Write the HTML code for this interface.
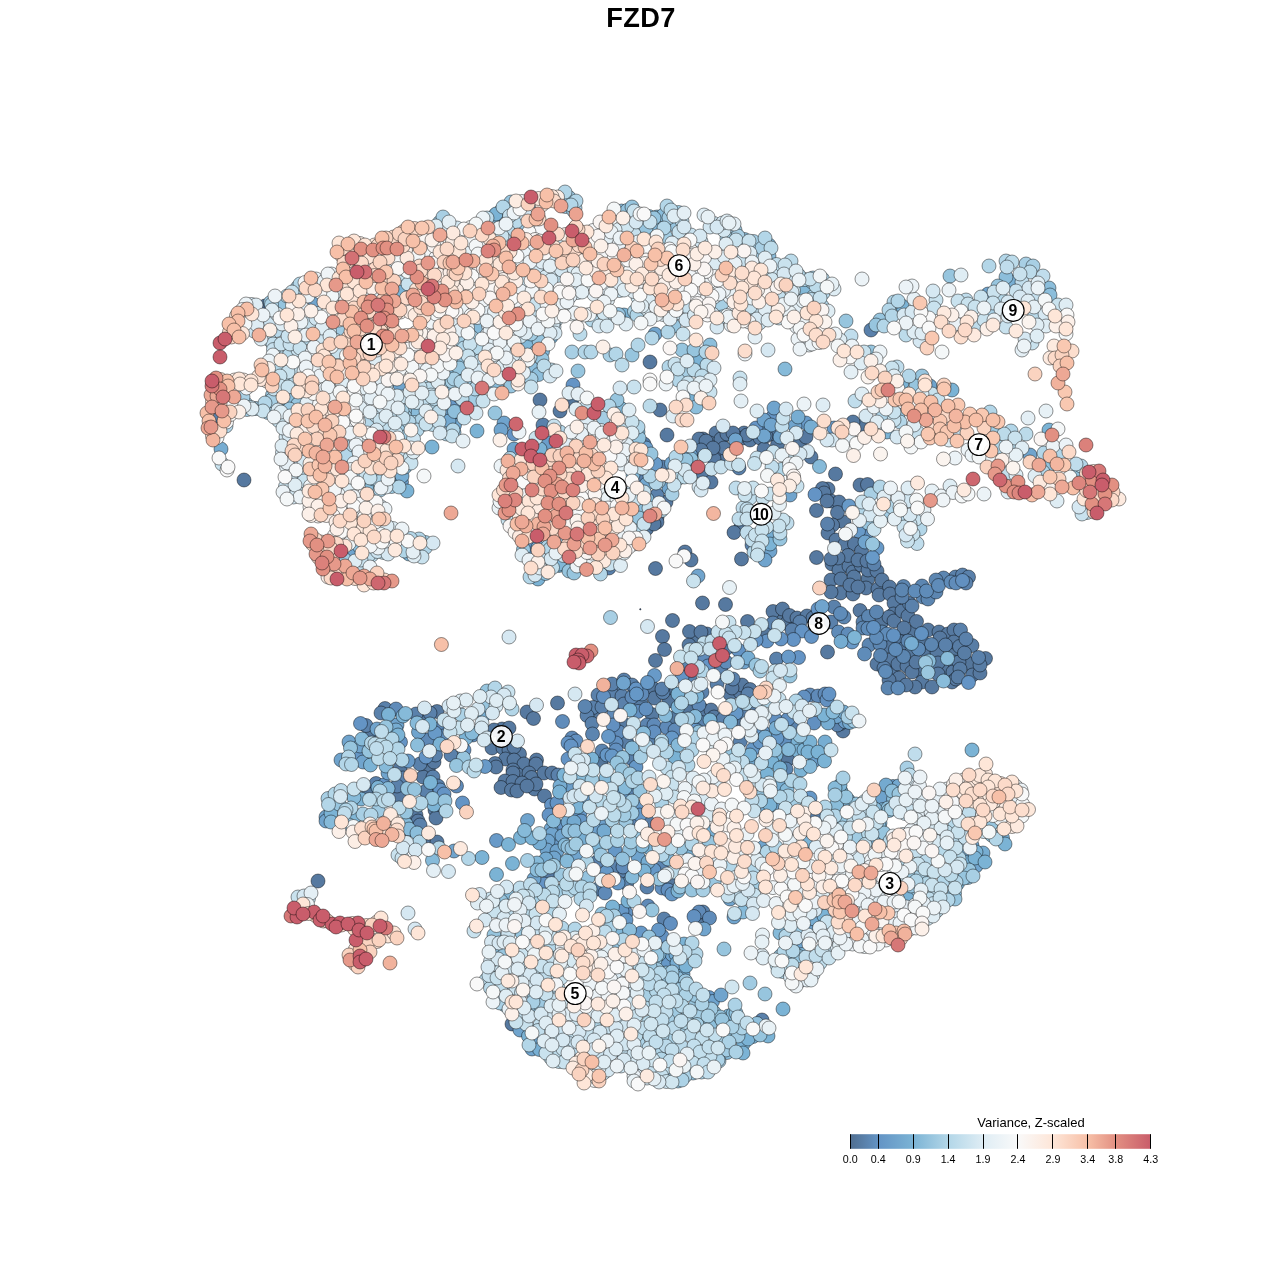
<!DOCTYPE html>
<html lang="en"><head><meta charset="utf-8"><title>FZD7</title>
<style>
html,body{margin:0;padding:0;background:#fff}
body{width:1280px;height:1280px;overflow:hidden;font-family:"Liberation Sans",Arial,sans-serif}
svg{display:block}
.p circle{stroke:#000;stroke-opacity:.62;stroke-width:.7}
.l circle{fill:#fff;fill-opacity:.92;stroke:#000;stroke-width:1.15}
.l text{font:bold 15.9px "Liberation Sans",Arial,sans-serif;text-anchor:middle;fill:#000}
.l .d{letter-spacing:-1px}
.t{font:bold 27.2px "Liberation Sans",Arial,sans-serif;text-anchor:middle;fill:#000;letter-spacing:.4px}
.k{font:10.7px "Liberation Sans",Arial,sans-serif;text-anchor:middle;fill:#000}
.kt{font:13px "Liberation Sans",Arial,sans-serif;text-anchor:middle;fill:#000}
</style></head><body>
<svg width="1280" height="1280" viewBox="0 0 1280 1280">
<rect width="1280" height="1280" fill="#fff"/>
<text class="t" x="641" y="26.8">FZD7</text>
<g class="p">
<circle cx="265.0" cy="306.0" r="7.0" fill="#506e90"/>
<circle cx="571.4" cy="401.6" r="7.0" fill="#54769b"/>
<circle cx="862.5" cy="425.8" r="7.0" fill="#54769b"/>
<circle cx="799.5" cy="443.2" r="7.0" fill="#54769b"/>
<circle cx="777.5" cy="444.7" r="7.0" fill="#54769b"/>
<circle cx="722.4" cy="457.9" r="7.0" fill="#54769b"/>
<circle cx="844.0" cy="522.2" r="7.0" fill="#54769b"/>
<circle cx="741.0" cy="526.8" r="7.0" fill="#54769b"/>
<circle cx="867.9" cy="579.0" r="7.0" fill="#54769b"/>
<circle cx="780.7" cy="617.7" r="7.0" fill="#54769b"/>
<circle cx="881.6" cy="622.2" r="7.0" fill="#54769b"/>
<circle cx="786.6" cy="623.3" r="7.0" fill="#54769b"/>
<circle cx="912.6" cy="631.7" r="7.0" fill="#54769b"/>
<circle cx="765.2" cy="632.2" r="7.0" fill="#54769b"/>
<circle cx="901.5" cy="636.4" r="7.0" fill="#54769b"/>
<circle cx="695.5" cy="639.2" r="7.0" fill="#54769b"/>
<circle cx="899.7" cy="641.4" r="7.0" fill="#54769b"/>
<circle cx="922.4" cy="641.6" r="7.0" fill="#54769b"/>
<circle cx="888.1" cy="646.3" r="7.0" fill="#54769b"/>
<circle cx="904.1" cy="648.3" r="7.0" fill="#54769b"/>
<circle cx="953.5" cy="652.3" r="7.0" fill="#54769b"/>
<circle cx="926.8" cy="652.6" r="7.0" fill="#54769b"/>
<circle cx="911.2" cy="653.3" r="7.0" fill="#54769b"/>
<circle cx="969.5" cy="663.6" r="7.0" fill="#54769b"/>
<circle cx="945.4" cy="668.1" r="7.0" fill="#54769b"/>
<circle cx="920.0" cy="671.4" r="7.0" fill="#54769b"/>
<circle cx="652.9" cy="688.3" r="7.0" fill="#54769b"/>
<circle cx="670.7" cy="690.4" r="7.0" fill="#54769b"/>
<circle cx="669.0" cy="701.0" r="7.0" fill="#54769b"/>
<circle cx="688.7" cy="708.9" r="7.0" fill="#54769b"/>
<circle cx="753.3" cy="708.6" r="7.0" fill="#54769b"/>
<circle cx="596.2" cy="715.3" r="7.0" fill="#54769b"/>
<circle cx="738.8" cy="722.5" r="7.0" fill="#54769b"/>
<circle cx="369.7" cy="734.1" r="7.0" fill="#54769b"/>
<circle cx="503.1" cy="738.6" r="7.0" fill="#54769b"/>
<circle cx="787.8" cy="759.3" r="7.0" fill="#54769b"/>
<circle cx="601.1" cy="762.6" r="7.0" fill="#54769b"/>
<circle cx="400.2" cy="767.9" r="7.0" fill="#54769b"/>
<circle cx="428.3" cy="769.0" r="7.0" fill="#54769b"/>
<circle cx="368.7" cy="791.2" r="7.0" fill="#54769b"/>
<circle cx="428.2" cy="841.2" r="7.0" fill="#54769b"/>
<circle cx="701.2" cy="920.9" r="7.0" fill="#54769b"/>
<circle cx="657.0" cy="517.5" r="7.0" fill="#54769b"/>
<circle cx="646.5" cy="529.0" r="7.0" fill="#54769b"/>
<circle cx="423.6" cy="718.0" r="7.0" fill="#54769b"/>
<circle cx="672.0" cy="881.7" r="7.0" fill="#54779c"/>
<circle cx="673.4" cy="718.2" r="7.0" fill="#54779c"/>
<circle cx="650.0" cy="362.0" r="7.0" fill="#5679a0"/>
<circle cx="244.0" cy="480.0" r="7.0" fill="#5679a0"/>
<circle cx="540.0" cy="400.0" r="7.0" fill="#5679a0"/>
<circle cx="560.0" cy="411.0" r="7.0" fill="#5679a0"/>
<circle cx="660.0" cy="410.0" r="7.0" fill="#5679a0"/>
<circle cx="744.0" cy="433.0" r="7.0" fill="#5679a0"/>
<circle cx="716.0" cy="433.0" r="7.0" fill="#5679a0"/>
<circle cx="853.0" cy="422.0" r="7.0" fill="#5679a0"/>
<circle cx="667.0" cy="435.0" r="7.0" fill="#5679a0"/>
<circle cx="666.0" cy="502.0" r="7.0" fill="#5679a0"/>
<circle cx="657.0" cy="522.0" r="7.0" fill="#5679a0"/>
<circle cx="654.0" cy="524.0" r="7.0" fill="#5679a0"/>
<circle cx="685.0" cy="552.0" r="7.0" fill="#5679a0"/>
<circle cx="691.0" cy="560.0" r="7.0" fill="#5679a0"/>
<circle cx="318.0" cy="881.0" r="7.0" fill="#5679a0"/>
<circle cx="843.0" cy="731.0" r="7.0" fill="#5679a0"/>
<circle cx="512.0" cy="1024.0" r="7.0" fill="#5679a0"/>
<circle cx="437.0" cy="711.5" r="7.0" fill="#5679a0"/>
<circle cx="434.0" cy="762.0" r="7.0" fill="#5679a0"/>
<circle cx="423.0" cy="777.0" r="7.0" fill="#5679a0"/>
<circle cx="399.0" cy="797.0" r="7.0" fill="#5679a0"/>
<circle cx="416.0" cy="815.0" r="7.0" fill="#5679a0"/>
<circle cx="435.0" cy="810.0" r="7.0" fill="#5679a0"/>
<circle cx="502.0" cy="729.0" r="7.0" fill="#5679a0"/>
<circle cx="509.0" cy="728.0" r="7.0" fill="#5679a0"/>
<circle cx="494.0" cy="730.0" r="7.0" fill="#5679a0"/>
<circle cx="492.0" cy="748.0" r="7.0" fill="#5679a0"/>
<circle cx="503.0" cy="748.0" r="7.0" fill="#5679a0"/>
<circle cx="509.0" cy="750.0" r="7.0" fill="#5679a0"/>
<circle cx="519.5" cy="754.0" r="7.0" fill="#5679a0"/>
<circle cx="514.0" cy="747.0" r="7.0" fill="#5679a0"/>
<circle cx="505.5" cy="759.0" r="7.0" fill="#5679a0"/>
<circle cx="495.0" cy="763.5" r="7.0" fill="#5679a0"/>
<circle cx="496.0" cy="767.0" r="7.0" fill="#5679a0"/>
<circle cx="514.0" cy="760.0" r="7.0" fill="#5679a0"/>
<circle cx="524.0" cy="764.0" r="7.0" fill="#5679a0"/>
<circle cx="536.5" cy="760.0" r="7.0" fill="#5679a0"/>
<circle cx="536.0" cy="764.0" r="7.0" fill="#5679a0"/>
<circle cx="513.0" cy="770.0" r="7.0" fill="#5679a0"/>
<circle cx="518.0" cy="775.0" r="7.0" fill="#5679a0"/>
<circle cx="513.0" cy="773.0" r="7.0" fill="#5679a0"/>
<circle cx="529.0" cy="773.0" r="7.0" fill="#5679a0"/>
<circle cx="531.5" cy="777.5" r="7.0" fill="#5679a0"/>
<circle cx="544.0" cy="773.0" r="7.0" fill="#5679a0"/>
<circle cx="552.0" cy="773.0" r="7.0" fill="#5679a0"/>
<circle cx="505.0" cy="781.0" r="7.0" fill="#5679a0"/>
<circle cx="513.0" cy="781.5" r="7.0" fill="#5679a0"/>
<circle cx="522.0" cy="783.0" r="7.0" fill="#5679a0"/>
<circle cx="501.0" cy="787.5" r="7.0" fill="#5679a0"/>
<circle cx="511.5" cy="790.0" r="7.0" fill="#5679a0"/>
<circle cx="517.0" cy="791.0" r="7.0" fill="#5679a0"/>
<circle cx="534.5" cy="789.0" r="7.0" fill="#5679a0"/>
<circle cx="536.0" cy="784.0" r="7.0" fill="#5679a0"/>
<circle cx="544.5" cy="796.0" r="7.0" fill="#5679a0"/>
<circle cx="527.0" cy="786.0" r="7.0" fill="#5679a0"/>
<circle cx="527.0" cy="712.0" r="7.0" fill="#5679a0"/>
<circle cx="533.5" cy="718.5" r="7.0" fill="#5679a0"/>
<circle cx="557.5" cy="703.0" r="7.0" fill="#5679a0"/>
<circle cx="418.0" cy="821.0" r="7.0" fill="#5679a0"/>
<circle cx="405.0" cy="833.0" r="7.0" fill="#5679a0"/>
<circle cx="437.0" cy="842.0" r="7.0" fill="#5679a0"/>
<circle cx="436.0" cy="818.0" r="7.0" fill="#5679a0"/>
<circle cx="654.5" cy="698.0" r="7.0" fill="#5679a0"/>
<circle cx="730.0" cy="694.0" r="7.0" fill="#5679a0"/>
<circle cx="740.0" cy="692.0" r="7.0" fill="#5679a0"/>
<circle cx="703.0" cy="710.0" r="7.0" fill="#5679a0"/>
<circle cx="711.0" cy="710.0" r="7.0" fill="#5679a0"/>
<circle cx="714.0" cy="717.0" r="7.0" fill="#5679a0"/>
<circle cx="655.5" cy="568.5" r="7.0" fill="#5679a0"/>
<circle cx="672.5" cy="620.5" r="7.0" fill="#5679a0"/>
<circle cx="689.5" cy="631.5" r="7.0" fill="#5679a0"/>
<circle cx="662.5" cy="636.5" r="7.0" fill="#5679a0"/>
<circle cx="664.5" cy="649.5" r="7.0" fill="#5679a0"/>
<circle cx="655.5" cy="660.5" r="7.0" fill="#5679a0"/>
<circle cx="689.0" cy="645.0" r="7.0" fill="#5679a0"/>
<circle cx="617.0" cy="687.0" r="7.0" fill="#5679a0"/>
<circle cx="702.5" cy="603.0" r="7.0" fill="#5679a0"/>
<circle cx="725.5" cy="604.5" r="7.0" fill="#5679a0"/>
<circle cx="773.0" cy="611.5" r="7.0" fill="#5679a0"/>
<circle cx="782.5" cy="609.0" r="7.0" fill="#5679a0"/>
<circle cx="789.5" cy="615.5" r="7.0" fill="#5679a0"/>
<circle cx="797.0" cy="618.0" r="7.0" fill="#5679a0"/>
<circle cx="807.0" cy="616.0" r="7.0" fill="#5679a0"/>
<circle cx="813.0" cy="618.0" r="7.0" fill="#5679a0"/>
<circle cx="747.5" cy="621.5" r="7.0" fill="#5679a0"/>
<circle cx="707.0" cy="634.0" r="7.0" fill="#5679a0"/>
<circle cx="701.0" cy="632.0" r="7.0" fill="#5679a0"/>
<circle cx="827.5" cy="652.0" r="7.0" fill="#5679a0"/>
<circle cx="742.0" cy="685.0" r="7.0" fill="#5679a0"/>
<circle cx="732.0" cy="688.0" r="7.0" fill="#5679a0"/>
<circle cx="750.0" cy="689.5" r="7.0" fill="#5679a0"/>
<circle cx="832.0" cy="564.0" r="7.0" fill="#5679a0"/>
<circle cx="839.0" cy="570.0" r="7.0" fill="#5679a0"/>
<circle cx="831.0" cy="580.0" r="7.0" fill="#5679a0"/>
<circle cx="841.0" cy="579.0" r="7.0" fill="#5679a0"/>
<circle cx="849.0" cy="566.0" r="7.0" fill="#5679a0"/>
<circle cx="853.0" cy="572.0" r="7.0" fill="#5679a0"/>
<circle cx="854.0" cy="577.0" r="7.0" fill="#5679a0"/>
<circle cx="861.0" cy="565.0" r="7.0" fill="#5679a0"/>
<circle cx="868.0" cy="570.0" r="7.0" fill="#5679a0"/>
<circle cx="877.0" cy="571.0" r="7.0" fill="#5679a0"/>
<circle cx="840.5" cy="593.0" r="7.0" fill="#5679a0"/>
<circle cx="831.0" cy="592.0" r="7.0" fill="#5679a0"/>
<circle cx="853.0" cy="594.0" r="7.0" fill="#5679a0"/>
<circle cx="850.0" cy="585.0" r="7.0" fill="#5679a0"/>
<circle cx="866.0" cy="588.0" r="7.0" fill="#5679a0"/>
<circle cx="858.0" cy="587.0" r="7.0" fill="#5679a0"/>
<circle cx="878.0" cy="589.0" r="7.0" fill="#5679a0"/>
<circle cx="882.0" cy="580.0" r="7.0" fill="#5679a0"/>
<circle cx="889.5" cy="587.0" r="7.0" fill="#5679a0"/>
<circle cx="879.0" cy="595.0" r="7.0" fill="#5679a0"/>
<circle cx="890.0" cy="594.0" r="7.0" fill="#5679a0"/>
<circle cx="894.0" cy="603.0" r="7.0" fill="#5679a0"/>
<circle cx="860.0" cy="610.5" r="7.0" fill="#5679a0"/>
<circle cx="893.5" cy="614.0" r="7.0" fill="#5679a0"/>
<circle cx="889.0" cy="617.0" r="7.0" fill="#5679a0"/>
<circle cx="894.0" cy="621.0" r="7.0" fill="#5679a0"/>
<circle cx="902.0" cy="611.0" r="7.0" fill="#5679a0"/>
<circle cx="908.0" cy="616.0" r="7.0" fill="#5679a0"/>
<circle cx="916.5" cy="621.5" r="7.0" fill="#5679a0"/>
<circle cx="904.0" cy="628.0" r="7.0" fill="#5679a0"/>
<circle cx="928.0" cy="630.0" r="7.0" fill="#5679a0"/>
<circle cx="939.0" cy="632.0" r="7.0" fill="#5679a0"/>
<circle cx="948.0" cy="634.0" r="7.0" fill="#5679a0"/>
<circle cx="954.0" cy="630.0" r="7.0" fill="#5679a0"/>
<circle cx="940.0" cy="638.0" r="7.0" fill="#5679a0"/>
<circle cx="954.0" cy="642.0" r="7.0" fill="#5679a0"/>
<circle cx="937.0" cy="652.0" r="7.0" fill="#5679a0"/>
<circle cx="938.0" cy="663.0" r="7.0" fill="#5679a0"/>
<circle cx="954.0" cy="662.0" r="7.0" fill="#5679a0"/>
<circle cx="953.0" cy="672.0" r="7.0" fill="#5679a0"/>
<circle cx="938.0" cy="674.0" r="7.0" fill="#5679a0"/>
<circle cx="952.0" cy="682.0" r="7.0" fill="#5679a0"/>
<circle cx="877.0" cy="664.0" r="7.0" fill="#5679a0"/>
<circle cx="892.0" cy="668.0" r="7.0" fill="#5679a0"/>
<circle cx="890.0" cy="660.0" r="7.0" fill="#5679a0"/>
<circle cx="898.0" cy="664.0" r="7.0" fill="#5679a0"/>
<circle cx="907.0" cy="666.0" r="7.0" fill="#5679a0"/>
<circle cx="912.0" cy="672.0" r="7.0" fill="#5679a0"/>
<circle cx="916.0" cy="662.0" r="7.0" fill="#5679a0"/>
<circle cx="899.0" cy="678.0" r="7.0" fill="#5679a0"/>
<circle cx="889.0" cy="680.0" r="7.0" fill="#5679a0"/>
<circle cx="922.0" cy="682.0" r="7.0" fill="#5679a0"/>
<circle cx="915.0" cy="687.0" r="7.0" fill="#5679a0"/>
<circle cx="906.0" cy="685.0" r="7.0" fill="#5679a0"/>
<circle cx="932.0" cy="687.0" r="7.0" fill="#5679a0"/>
<circle cx="835.5" cy="474.0" r="7.0" fill="#5679a0"/>
<circle cx="828.0" cy="489.0" r="7.0" fill="#5679a0"/>
<circle cx="860.0" cy="485.0" r="7.0" fill="#5679a0"/>
<circle cx="867.5" cy="484.5" r="7.0" fill="#5679a0"/>
<circle cx="831.0" cy="501.0" r="7.0" fill="#5679a0"/>
<circle cx="839.0" cy="502.0" r="7.0" fill="#5679a0"/>
<circle cx="837.5" cy="512.5" r="7.0" fill="#5679a0"/>
<circle cx="832.5" cy="525.0" r="7.0" fill="#5679a0"/>
<circle cx="828.0" cy="533.0" r="7.0" fill="#5679a0"/>
<circle cx="836.0" cy="540.0" r="7.0" fill="#5679a0"/>
<circle cx="845.0" cy="544.0" r="7.0" fill="#5679a0"/>
<circle cx="854.5" cy="544.0" r="7.0" fill="#5679a0"/>
<circle cx="861.5" cy="551.0" r="7.0" fill="#5679a0"/>
<circle cx="848.0" cy="555.5" r="7.0" fill="#5679a0"/>
<circle cx="838.0" cy="558.0" r="7.0" fill="#5679a0"/>
<circle cx="831.0" cy="559.0" r="7.0" fill="#5679a0"/>
<circle cx="858.0" cy="560.0" r="7.0" fill="#5679a0"/>
<circle cx="867.0" cy="561.0" r="7.0" fill="#5679a0"/>
<circle cx="703.0" cy="439.0" r="7.0" fill="#5679a0"/>
<circle cx="710.0" cy="443.0" r="7.0" fill="#5679a0"/>
<circle cx="721.0" cy="439.0" r="7.0" fill="#5679a0"/>
<circle cx="715.0" cy="451.0" r="7.0" fill="#5679a0"/>
<circle cx="724.0" cy="448.0" r="7.0" fill="#5679a0"/>
<circle cx="743.0" cy="438.0" r="7.0" fill="#5679a0"/>
<circle cx="750.0" cy="440.0" r="7.0" fill="#5679a0"/>
<circle cx="760.0" cy="438.0" r="7.0" fill="#5679a0"/>
<circle cx="770.0" cy="434.0" r="7.0" fill="#5679a0"/>
<circle cx="714.0" cy="459.0" r="7.0" fill="#5679a0"/>
<circle cx="703.0" cy="474.0" r="7.0" fill="#5679a0"/>
<circle cx="711.0" cy="482.0" r="7.0" fill="#5679a0"/>
<circle cx="764.0" cy="449.0" r="7.0" fill="#5679a0"/>
<circle cx="811.0" cy="457.0" r="7.0" fill="#5679a0"/>
<circle cx="806.0" cy="437.0" r="7.0" fill="#5679a0"/>
<circle cx="734.0" cy="532.5" r="7.0" fill="#5679a0"/>
<circle cx="741.5" cy="559.0" r="7.0" fill="#5679a0"/>
<circle cx="822.5" cy="488.5" r="7.0" fill="#5679a0"/>
<circle cx="824.0" cy="493.0" r="7.0" fill="#5679a0"/>
<circle cx="827.0" cy="501.0" r="7.0" fill="#5679a0"/>
<circle cx="816.5" cy="510.5" r="7.0" fill="#5679a0"/>
<circle cx="816.5" cy="557.5" r="7.0" fill="#5679a0"/>
<circle cx="985.5" cy="658.5" r="7.0" fill="#5679a0"/>
<circle cx="959.0" cy="662.0" r="7.0" fill="#5679a0"/>
<circle cx="972.5" cy="675.0" r="7.0" fill="#5679a0"/>
<circle cx="980.0" cy="673.0" r="7.0" fill="#5679a0"/>
<circle cx="956.0" cy="679.0" r="7.0" fill="#5679a0"/>
<circle cx="699.0" cy="439.0" r="7.0" fill="#5679a0"/>
<circle cx="706.0" cy="441.0" r="7.0" fill="#5679a0"/>
<circle cx="713.0" cy="448.0" r="7.0" fill="#5679a0"/>
<circle cx="701.0" cy="450.0" r="7.0" fill="#5679a0"/>
<circle cx="727.0" cy="434.0" r="7.0" fill="#5679a0"/>
<circle cx="733.0" cy="433.0" r="7.0" fill="#5679a0"/>
<circle cx="747.0" cy="435.0" r="7.0" fill="#5679a0"/>
<circle cx="766.0" cy="436.0" r="7.0" fill="#5679a0"/>
<circle cx="652.1" cy="714.6" r="7.0" fill="#567aa1"/>
<circle cx="840.5" cy="723.5" r="7.0" fill="#567aa1"/>
<circle cx="550.2" cy="875.4" r="7.0" fill="#567aa2"/>
<circle cx="623.8" cy="723.9" r="7.0" fill="#567ba2"/>
<circle cx="640.8" cy="702.4" r="7.0" fill="#577ba2"/>
<circle cx="626.6" cy="742.1" r="7.0" fill="#587da5"/>
<circle cx="959.5" cy="646.5" r="7.0" fill="#587da5"/>
<circle cx="972.0" cy="645.5" r="7.0" fill="#587da5"/>
<circle cx="964.5" cy="653.0" r="7.0" fill="#587da5"/>
<circle cx="980.0" cy="665.0" r="7.0" fill="#587da5"/>
<circle cx="960.0" cy="669.0" r="7.0" fill="#587da5"/>
<circle cx="958.0" cy="677.0" r="7.0" fill="#587da5"/>
<circle cx="623.0" cy="875.9" r="7.0" fill="#587ea7"/>
<circle cx="726.8" cy="648.1" r="7.0" fill="#587ea7"/>
<circle cx="649.2" cy="821.1" r="7.0" fill="#597fa8"/>
<circle cx="597.9" cy="889.0" r="7.0" fill="#5980a9"/>
<circle cx="652.6" cy="740.9" r="7.0" fill="#5980aa"/>
<circle cx="740.3" cy="741.6" r="7.0" fill="#5a81ab"/>
<circle cx="871.0" cy="330.0" r="7.0" fill="#5a81ab"/>
<circle cx="215.0" cy="416.0" r="7.0" fill="#5a81ab"/>
<circle cx="543.0" cy="425.0" r="7.0" fill="#5a81ab"/>
<circle cx="662.0" cy="467.0" r="7.0" fill="#5a81ab"/>
<circle cx="644.0" cy="444.0" r="7.0" fill="#5a81ab"/>
<circle cx="643.0" cy="479.0" r="7.0" fill="#5a81ab"/>
<circle cx="657.0" cy="495.0" r="7.0" fill="#5a81ab"/>
<circle cx="762.0" cy="1020.0" r="7.0" fill="#5a81ab"/>
<circle cx="385.0" cy="708.5" r="7.0" fill="#5a81ab"/>
<circle cx="381.0" cy="713.0" r="7.0" fill="#5a81ab"/>
<circle cx="416.0" cy="714.0" r="7.0" fill="#5a81ab"/>
<circle cx="430.0" cy="713.0" r="7.0" fill="#5a81ab"/>
<circle cx="366.0" cy="725.5" r="7.0" fill="#5a81ab"/>
<circle cx="435.5" cy="755.0" r="7.0" fill="#5a81ab"/>
<circle cx="420.0" cy="764.0" r="7.0" fill="#5a81ab"/>
<circle cx="403.0" cy="778.0" r="7.0" fill="#5a81ab"/>
<circle cx="433.0" cy="777.0" r="7.0" fill="#5a81ab"/>
<circle cx="438.0" cy="786.0" r="7.0" fill="#5a81ab"/>
<circle cx="376.0" cy="783.5" r="7.0" fill="#5a81ab"/>
<circle cx="397.0" cy="786.0" r="7.0" fill="#5a81ab"/>
<circle cx="426.0" cy="791.0" r="7.0" fill="#5a81ab"/>
<circle cx="451.0" cy="755.0" r="7.0" fill="#5a81ab"/>
<circle cx="558.0" cy="775.0" r="7.0" fill="#5a81ab"/>
<circle cx="420.0" cy="825.0" r="7.0" fill="#5a81ab"/>
<circle cx="598.0" cy="695.0" r="7.0" fill="#5a81ab"/>
<circle cx="612.0" cy="694.0" r="7.0" fill="#5a81ab"/>
<circle cx="622.0" cy="696.0" r="7.0" fill="#5a81ab"/>
<circle cx="663.0" cy="692.5" r="7.0" fill="#5a81ab"/>
<circle cx="593.0" cy="707.5" r="7.0" fill="#5a81ab"/>
<circle cx="602.0" cy="707.0" r="7.0" fill="#5a81ab"/>
<circle cx="624.0" cy="704.0" r="7.0" fill="#5a81ab"/>
<circle cx="587.0" cy="715.5" r="7.0" fill="#5a81ab"/>
<circle cx="592.0" cy="723.5" r="7.0" fill="#5a81ab"/>
<circle cx="632.0" cy="759.0" r="7.0" fill="#5a81ab"/>
<circle cx="702.0" cy="692.0" r="7.0" fill="#5a81ab"/>
<circle cx="748.0" cy="694.0" r="7.0" fill="#5a81ab"/>
<circle cx="723.0" cy="719.0" r="7.0" fill="#5a81ab"/>
<circle cx="744.0" cy="712.0" r="7.0" fill="#5a81ab"/>
<circle cx="816.0" cy="817.0" r="7.0" fill="#5a81ab"/>
<circle cx="647.0" cy="887.0" r="7.0" fill="#5a81ab"/>
<circle cx="664.0" cy="919.0" r="7.0" fill="#5a81ab"/>
<circle cx="703.0" cy="912.0" r="7.0" fill="#5a81ab"/>
<circle cx="609.0" cy="568.0" r="7.0" fill="#5a81ab"/>
<circle cx="690.0" cy="679.0" r="7.0" fill="#5a81ab"/>
<circle cx="662.0" cy="689.0" r="7.0" fill="#5a81ab"/>
<circle cx="612.0" cy="684.0" r="7.0" fill="#5a81ab"/>
<circle cx="624.0" cy="680.0" r="7.0" fill="#5a81ab"/>
<circle cx="632.0" cy="685.0" r="7.0" fill="#5a81ab"/>
<circle cx="773.0" cy="623.0" r="7.0" fill="#5a81ab"/>
<circle cx="800.0" cy="622.0" r="7.0" fill="#5a81ab"/>
<circle cx="792.0" cy="630.0" r="7.0" fill="#5a81ab"/>
<circle cx="776.5" cy="659.0" r="7.0" fill="#5a81ab"/>
<circle cx="733.0" cy="679.0" r="7.0" fill="#5a81ab"/>
<circle cx="717.0" cy="684.0" r="7.0" fill="#5a81ab"/>
<circle cx="874.0" cy="564.0" r="7.0" fill="#5a81ab"/>
<circle cx="955.5" cy="577.0" r="7.0" fill="#5a81ab"/>
<circle cx="909.5" cy="603.5" r="7.0" fill="#5a81ab"/>
<circle cx="912.0" cy="606.0" r="7.0" fill="#5a81ab"/>
<circle cx="902.0" cy="597.0" r="7.0" fill="#5a81ab"/>
<circle cx="834.0" cy="607.0" r="7.0" fill="#5a81ab"/>
<circle cx="831.0" cy="622.0" r="7.0" fill="#5a81ab"/>
<circle cx="863.0" cy="622.0" r="7.0" fill="#5a81ab"/>
<circle cx="945.5" cy="645.0" r="7.0" fill="#5a81ab"/>
<circle cx="884.0" cy="668.0" r="7.0" fill="#5a81ab"/>
<circle cx="739.0" cy="468.0" r="7.0" fill="#5a81ab"/>
<circle cx="752.0" cy="545.0" r="7.0" fill="#5a81ab"/>
<circle cx="827.5" cy="524.0" r="7.0" fill="#5a81ab"/>
<circle cx="962.5" cy="575.0" r="7.0" fill="#5a81ab"/>
<circle cx="968.5" cy="577.0" r="7.0" fill="#5a81ab"/>
<circle cx="966.0" cy="583.0" r="7.0" fill="#5a81ab"/>
<circle cx="960.5" cy="630.0" r="7.0" fill="#5a81ab"/>
<circle cx="966.0" cy="639.0" r="7.0" fill="#5a81ab"/>
<circle cx="978.5" cy="657.5" r="7.0" fill="#5a81ab"/>
<circle cx="837.5" cy="725.0" r="7.0" fill="#5a82ac"/>
<circle cx="614.6" cy="866.9" r="7.0" fill="#5a82ac"/>
<circle cx="701.9" cy="722.6" r="7.0" fill="#5b82ad"/>
<circle cx="597.3" cy="861.8" r="7.0" fill="#5b82ad"/>
<circle cx="795.1" cy="725.4" r="7.0" fill="#5b83ad"/>
<circle cx="634.1" cy="822.0" r="7.0" fill="#5b83ae"/>
<circle cx="626.7" cy="883.7" r="7.0" fill="#5b84ae"/>
<circle cx="684.9" cy="664.9" r="7.0" fill="#5b84ae"/>
<circle cx="720.6" cy="669.5" r="7.0" fill="#5c84af"/>
<circle cx="585.0" cy="706.5" r="7.0" fill="#5c85b0"/>
<circle cx="647.0" cy="725.0" r="7.0" fill="#5c85b0"/>
<circle cx="592.5" cy="734.0" r="7.0" fill="#5c85b0"/>
<circle cx="602.0" cy="751.0" r="7.0" fill="#5c85b0"/>
<circle cx="786.0" cy="769.0" r="7.0" fill="#5c85b0"/>
<circle cx="661.6" cy="865.1" r="7.0" fill="#5c85b1"/>
<circle cx="903.5" cy="586.5" r="7.0" fill="#5c86b1"/>
<circle cx="902.0" cy="590.0" r="7.0" fill="#5c86b1"/>
<circle cx="922.0" cy="586.0" r="7.0" fill="#5c86b1"/>
<circle cx="923.0" cy="597.0" r="7.0" fill="#5c86b1"/>
<circle cx="928.0" cy="599.0" r="7.0" fill="#5c86b1"/>
<circle cx="936.0" cy="592.0" r="7.0" fill="#5c86b1"/>
<circle cx="943.5" cy="578.0" r="7.0" fill="#5c86b1"/>
<circle cx="936.0" cy="580.0" r="7.0" fill="#5c86b1"/>
<circle cx="844.0" cy="617.0" r="7.0" fill="#5c86b1"/>
<circle cx="868.5" cy="616.5" r="7.0" fill="#5c86b1"/>
<circle cx="876.5" cy="612.0" r="7.0" fill="#5c86b1"/>
<circle cx="863.0" cy="628.0" r="7.0" fill="#5c86b1"/>
<circle cx="882.0" cy="632.0" r="7.0" fill="#5c86b1"/>
<circle cx="869.0" cy="645.0" r="7.0" fill="#5c86b1"/>
<circle cx="880.0" cy="644.0" r="7.0" fill="#5c86b1"/>
<circle cx="880.5" cy="655.5" r="7.0" fill="#5c86b1"/>
<circle cx="903.5" cy="656.5" r="7.0" fill="#5c86b1"/>
<circle cx="908.0" cy="641.0" r="7.0" fill="#5c86b1"/>
<circle cx="931.5" cy="644.5" r="7.0" fill="#5c86b1"/>
<circle cx="888.0" cy="688.0" r="7.0" fill="#5c86b1"/>
<circle cx="631.8" cy="792.6" r="7.0" fill="#5d87b4"/>
<circle cx="427.5" cy="739.8" r="7.0" fill="#5e89b6"/>
<circle cx="441.0" cy="727.7" r="7.0" fill="#5e89b6"/>
<circle cx="632.0" cy="697.0" r="7.0" fill="#5f8ab8"/>
<circle cx="642.0" cy="694.0" r="7.0" fill="#5f8ab8"/>
<circle cx="699.0" cy="705.0" r="7.0" fill="#5f8ab8"/>
<circle cx="614.0" cy="714.0" r="7.0" fill="#5f8ab8"/>
<circle cx="654.0" cy="725.0" r="7.0" fill="#5f8ab8"/>
<circle cx="666.5" cy="727.5" r="7.0" fill="#5f8ab8"/>
<circle cx="675.0" cy="730.0" r="7.0" fill="#5f8ab8"/>
<circle cx="619.0" cy="732.0" r="7.0" fill="#5f8ab8"/>
<circle cx="572.0" cy="738.0" r="7.0" fill="#5f8ab8"/>
<circle cx="810.0" cy="695.0" r="7.0" fill="#5f8ab8"/>
<circle cx="818.0" cy="696.0" r="7.0" fill="#5f8ab8"/>
<circle cx="825.0" cy="694.0" r="7.0" fill="#5f8ab8"/>
<circle cx="623.0" cy="867.0" r="7.0" fill="#5f8ab8"/>
<circle cx="605.0" cy="893.0" r="7.0" fill="#5f8ab8"/>
<circle cx="648.0" cy="906.0" r="7.0" fill="#5f8ab8"/>
<circle cx="699.0" cy="912.0" r="7.0" fill="#5f8ab8"/>
<circle cx="915.0" cy="591.0" r="7.0" fill="#5f8cb9"/>
<circle cx="926.5" cy="591.0" r="7.0" fill="#5f8cb9"/>
<circle cx="938.5" cy="585.5" r="7.0" fill="#5f8cb9"/>
<circle cx="951.0" cy="582.0" r="7.0" fill="#5f8cb9"/>
<circle cx="840.5" cy="613.5" r="7.0" fill="#5f8cb9"/>
<circle cx="838.5" cy="632.0" r="7.0" fill="#5f8cb9"/>
<circle cx="868.0" cy="628.5" r="7.0" fill="#5f8cb9"/>
<circle cx="887.0" cy="634.0" r="7.0" fill="#5f8cb9"/>
<circle cx="848.0" cy="634.0" r="7.0" fill="#5f8cb9"/>
<circle cx="876.5" cy="637.5" r="7.0" fill="#5f8cb9"/>
<circle cx="864.5" cy="654.0" r="7.0" fill="#5f8cb9"/>
<circle cx="895.5" cy="649.5" r="7.0" fill="#5f8cb9"/>
<circle cx="918.5" cy="649.0" r="7.0" fill="#5f8cb9"/>
<circle cx="885.5" cy="671.5" r="7.0" fill="#5f8cb9"/>
<circle cx="898.0" cy="688.0" r="7.0" fill="#5f8cb9"/>
<circle cx="396.0" cy="709.0" r="7.0" fill="#608cba"/>
<circle cx="473.0" cy="735.0" r="7.0" fill="#608cba"/>
<circle cx="456.5" cy="786.0" r="7.0" fill="#608cba"/>
<circle cx="562.5" cy="721.5" r="7.0" fill="#608cba"/>
<circle cx="709.5" cy="918.0" r="7.0" fill="#608cba"/>
<circle cx="703.0" cy="658.0" r="7.0" fill="#608cba"/>
<circle cx="726.0" cy="662.0" r="7.0" fill="#608cba"/>
<circle cx="956.0" cy="583.0" r="7.0" fill="#608cba"/>
<circle cx="443.0" cy="736.0" r="7.0" fill="#608ebd"/>
<circle cx="785.9" cy="741.6" r="7.0" fill="#618fbe"/>
<circle cx="603.5" cy="696.5" r="7.0" fill="#6290c0"/>
<circle cx="638.0" cy="711.5" r="7.0" fill="#6290c0"/>
<circle cx="646.0" cy="709.0" r="7.0" fill="#6290c0"/>
<circle cx="613.0" cy="725.0" r="7.0" fill="#6290c0"/>
<circle cx="654.0" cy="732.0" r="7.0" fill="#6290c0"/>
<circle cx="576.0" cy="741.0" r="7.0" fill="#6290c0"/>
<circle cx="616.0" cy="743.0" r="7.0" fill="#6290c0"/>
<circle cx="616.0" cy="750.0" r="7.0" fill="#6290c0"/>
<circle cx="804.0" cy="697.0" r="7.0" fill="#6290c0"/>
<circle cx="827.0" cy="700.0" r="7.0" fill="#6290c0"/>
<circle cx="814.0" cy="723.0" r="7.0" fill="#6290c0"/>
<circle cx="776.0" cy="720.0" r="7.0" fill="#6290c0"/>
<circle cx="788.0" cy="719.0" r="7.0" fill="#6290c0"/>
<circle cx="662.0" cy="888.0" r="7.0" fill="#6290c0"/>
<circle cx="668.0" cy="890.0" r="7.0" fill="#6290c0"/>
<circle cx="626.0" cy="913.0" r="7.0" fill="#6290c0"/>
<circle cx="670.5" cy="923.5" r="7.0" fill="#6290c0"/>
<circle cx="694.0" cy="916.5" r="7.0" fill="#6290c0"/>
<circle cx="662.0" cy="936.0" r="7.0" fill="#6290c0"/>
<circle cx="962.5" cy="580.5" r="7.0" fill="#6290c0"/>
<circle cx="873.5" cy="627.5" r="7.0" fill="#6292c2"/>
<circle cx="893.5" cy="635.5" r="7.0" fill="#6292c2"/>
<circle cx="921.5" cy="633.5" r="7.0" fill="#6292c2"/>
<circle cx="866.6" cy="533.2" r="7.0" fill="#6393c3"/>
<circle cx="738.6" cy="650.3" r="7.0" fill="#6393c4"/>
<circle cx="573.0" cy="385.0" r="7.0" fill="#6494c5"/>
<circle cx="514.0" cy="434.0" r="7.0" fill="#6494c5"/>
<circle cx="528.0" cy="548.0" r="7.0" fill="#6494c5"/>
<circle cx="760.0" cy="432.0" r="7.0" fill="#6494c5"/>
<circle cx="829.0" cy="694.0" r="7.0" fill="#6494c5"/>
<circle cx="360.5" cy="723.5" r="7.0" fill="#6494c5"/>
<circle cx="400.5" cy="742.0" r="7.0" fill="#6494c5"/>
<circle cx="426.0" cy="757.0" r="7.0" fill="#6494c5"/>
<circle cx="384.0" cy="785.0" r="7.0" fill="#6494c5"/>
<circle cx="440.0" cy="790.0" r="7.0" fill="#6494c5"/>
<circle cx="464.0" cy="750.0" r="7.0" fill="#6494c5"/>
<circle cx="444.0" cy="794.0" r="7.0" fill="#6494c5"/>
<circle cx="462.5" cy="803.0" r="7.0" fill="#6494c5"/>
<circle cx="568.0" cy="743.0" r="7.0" fill="#6494c5"/>
<circle cx="571.0" cy="746.0" r="7.0" fill="#6494c5"/>
<circle cx="568.0" cy="759.0" r="7.0" fill="#6494c5"/>
<circle cx="551.5" cy="805.0" r="7.0" fill="#6494c5"/>
<circle cx="557.0" cy="803.0" r="7.0" fill="#6494c5"/>
<circle cx="549.0" cy="815.0" r="7.0" fill="#6494c5"/>
<circle cx="544.0" cy="884.0" r="7.0" fill="#6494c5"/>
<circle cx="682.0" cy="677.0" r="7.0" fill="#6494c5"/>
<circle cx="636.0" cy="689.0" r="7.0" fill="#6494c5"/>
<circle cx="818.0" cy="609.0" r="7.0" fill="#6494c5"/>
<circle cx="802.0" cy="631.0" r="7.0" fill="#6494c5"/>
<circle cx="811.5" cy="636.5" r="7.0" fill="#6494c5"/>
<circle cx="793.5" cy="639.5" r="7.0" fill="#6494c5"/>
<circle cx="781.0" cy="639.0" r="7.0" fill="#6494c5"/>
<circle cx="767.0" cy="641.0" r="7.0" fill="#6494c5"/>
<circle cx="756.0" cy="640.0" r="7.0" fill="#6494c5"/>
<circle cx="708.0" cy="666.0" r="7.0" fill="#6494c5"/>
<circle cx="798.5" cy="657.5" r="7.0" fill="#6494c5"/>
<circle cx="815.0" cy="494.5" r="7.0" fill="#6494c5"/>
<circle cx="968.5" cy="682.5" r="7.0" fill="#6494c5"/>
<circle cx="756.0" cy="428.0" r="7.0" fill="#6494c5"/>
<circle cx="773.1" cy="416.5" r="7.0" fill="#6494c5"/>
<circle cx="560.2" cy="826.9" r="7.0" fill="#6595c6"/>
<circle cx="636.5" cy="694.0" r="7.0" fill="#6698c7"/>
<circle cx="608.5" cy="736.5" r="7.0" fill="#6698c7"/>
<circle cx="696.0" cy="730.0" r="7.0" fill="#6698c7"/>
<circle cx="672.0" cy="738.0" r="7.0" fill="#6698c7"/>
<circle cx="607.0" cy="755.0" r="7.0" fill="#6698c7"/>
<circle cx="612.0" cy="756.0" r="7.0" fill="#6698c7"/>
<circle cx="636.0" cy="767.0" r="7.0" fill="#6698c7"/>
<circle cx="580.0" cy="813.0" r="7.0" fill="#6698c7"/>
<circle cx="637.0" cy="807.0" r="7.0" fill="#6698c7"/>
<circle cx="640.0" cy="815.0" r="7.0" fill="#6698c7"/>
<circle cx="622.0" cy="794.0" r="7.0" fill="#6698c7"/>
<circle cx="736.0" cy="713.0" r="7.0" fill="#6698c7"/>
<circle cx="763.0" cy="732.0" r="7.0" fill="#6698c7"/>
<circle cx="777.0" cy="738.0" r="7.0" fill="#6698c7"/>
<circle cx="753.0" cy="749.0" r="7.0" fill="#6698c7"/>
<circle cx="760.0" cy="742.0" r="7.0" fill="#6698c7"/>
<circle cx="810.0" cy="798.0" r="7.0" fill="#6698c7"/>
<circle cx="581.0" cy="821.0" r="7.0" fill="#6698c7"/>
<circle cx="615.0" cy="850.0" r="7.0" fill="#6698c7"/>
<circle cx="606.5" cy="872.0" r="7.0" fill="#6698c7"/>
<circle cx="654.0" cy="870.0" r="7.0" fill="#6698c7"/>
<circle cx="618.0" cy="883.0" r="7.0" fill="#6698c7"/>
<circle cx="672.0" cy="894.0" r="7.0" fill="#6698c7"/>
<circle cx="622.0" cy="911.0" r="7.0" fill="#6698c7"/>
<circle cx="626.0" cy="920.0" r="7.0" fill="#6698c7"/>
<circle cx="658.5" cy="930.0" r="7.0" fill="#6698c7"/>
<circle cx="641.0" cy="933.0" r="7.0" fill="#6698c7"/>
<circle cx="665.8" cy="962.8" r="7.0" fill="#6698c7"/>
<circle cx="358.1" cy="754.8" r="7.0" fill="#6798c7"/>
<circle cx="709.0" cy="997.5" r="7.0" fill="#6799c8"/>
<circle cx="453.5" cy="406.0" r="7.0" fill="#6899c8"/>
<circle cx="852.0" cy="642.0" r="7.0" fill="#6899c8"/>
<circle cx="556.3" cy="842.5" r="7.0" fill="#689ac8"/>
<circle cx="655.5" cy="464.0" r="7.0" fill="#689ac8"/>
<circle cx="806.0" cy="423.0" r="7.0" fill="#689ac8"/>
<circle cx="834.0" cy="428.0" r="7.0" fill="#689ac8"/>
<circle cx="435.0" cy="733.0" r="7.0" fill="#689ac8"/>
<circle cx="408.0" cy="761.0" r="7.0" fill="#689ac8"/>
<circle cx="485.0" cy="766.5" r="7.0" fill="#689ac8"/>
<circle cx="496.5" cy="840.5" r="7.0" fill="#689ac8"/>
<circle cx="654.5" cy="675.5" r="7.0" fill="#689ac8"/>
<circle cx="647.5" cy="682.5" r="7.0" fill="#689ac8"/>
<circle cx="788.5" cy="657.0" r="7.0" fill="#689ac8"/>
<circle cx="849.0" cy="506.0" r="7.0" fill="#689ac8"/>
<circle cx="858.5" cy="531.0" r="7.0" fill="#689ac8"/>
<circle cx="877.0" cy="548.0" r="7.0" fill="#689ac8"/>
<circle cx="872.5" cy="557.5" r="7.0" fill="#689ac8"/>
<circle cx="893.0" cy="786.5" r="7.0" fill="#6a9dca"/>
<circle cx="547.3" cy="442.8" r="7.0" fill="#6b9eca"/>
<circle cx="845.0" cy="721.5" r="7.0" fill="#6b9eca"/>
<circle cx="814.9" cy="760.1" r="7.0" fill="#6b9eca"/>
<circle cx="646.0" cy="448.0" r="7.0" fill="#6b9eca"/>
<circle cx="588.3" cy="798.5" r="7.0" fill="#6c9eca"/>
<circle cx="569.7" cy="787.2" r="7.0" fill="#6c9fca"/>
<circle cx="690.5" cy="455.0" r="7.0" fill="#6c9fca"/>
<circle cx="401.5" cy="482.0" r="7.0" fill="#6ca0cb"/>
<circle cx="602.6" cy="822.4" r="7.0" fill="#6da0cb"/>
<circle cx="595.3" cy="829.8" r="7.0" fill="#6ea1cc"/>
<circle cx="811.2" cy="927.1" r="7.0" fill="#6ea2cc"/>
<circle cx="881.7" cy="797.7" r="7.0" fill="#6fa3cc"/>
<circle cx="712.5" cy="1001.5" r="7.0" fill="#6fa3cd"/>
<circle cx="638.0" cy="856.7" r="7.0" fill="#6fa3cd"/>
<circle cx="315.0" cy="301.0" r="7.0" fill="#70a4cd"/>
<circle cx="655.0" cy="334.0" r="7.0" fill="#70a4cd"/>
<circle cx="988.0" cy="294.0" r="7.0" fill="#70a4cd"/>
<circle cx="350.0" cy="554.0" r="7.0" fill="#70a4cd"/>
<circle cx="400.0" cy="385.0" r="7.0" fill="#70a4cd"/>
<circle cx="452.0" cy="414.0" r="7.0" fill="#70a4cd"/>
<circle cx="504.0" cy="423.0" r="7.0" fill="#70a4cd"/>
<circle cx="501.0" cy="430.0" r="7.0" fill="#70a4cd"/>
<circle cx="514.0" cy="449.0" r="7.0" fill="#70a4cd"/>
<circle cx="774.0" cy="408.0" r="7.0" fill="#70a4cd"/>
<circle cx="764.0" cy="420.0" r="7.0" fill="#70a4cd"/>
<circle cx="771.0" cy="425.0" r="7.0" fill="#70a4cd"/>
<circle cx="795.0" cy="426.0" r="7.0" fill="#70a4cd"/>
<circle cx="930.0" cy="386.0" r="7.0" fill="#70a4cd"/>
<circle cx="1030.0" cy="455.0" r="7.0" fill="#70a4cd"/>
<circle cx="721.0" cy="995.0" r="7.0" fill="#70a4cd"/>
<circle cx="520.0" cy="1030.0" r="7.0" fill="#70a4cd"/>
<circle cx="532.0" cy="1049.0" r="7.0" fill="#70a4cd"/>
<circle cx="377.0" cy="729.0" r="7.0" fill="#70a4cd"/>
<circle cx="397.0" cy="725.0" r="7.0" fill="#70a4cd"/>
<circle cx="418.5" cy="732.0" r="7.0" fill="#70a4cd"/>
<circle cx="349.0" cy="742.0" r="7.0" fill="#70a4cd"/>
<circle cx="360.0" cy="746.0" r="7.0" fill="#70a4cd"/>
<circle cx="341.0" cy="760.0" r="7.0" fill="#70a4cd"/>
<circle cx="363.0" cy="762.0" r="7.0" fill="#70a4cd"/>
<circle cx="388.0" cy="773.0" r="7.0" fill="#70a4cd"/>
<circle cx="326.0" cy="817.0" r="7.0" fill="#70a4cd"/>
<circle cx="326.0" cy="821.0" r="7.0" fill="#70a4cd"/>
<circle cx="527.5" cy="820.5" r="7.0" fill="#70a4cd"/>
<circle cx="551.0" cy="829.0" r="7.0" fill="#70a4cd"/>
<circle cx="552.0" cy="834.0" r="7.0" fill="#70a4cd"/>
<circle cx="562.0" cy="836.0" r="7.0" fill="#70a4cd"/>
<circle cx="548.0" cy="841.0" r="7.0" fill="#70a4cd"/>
<circle cx="547.0" cy="850.0" r="7.0" fill="#70a4cd"/>
<circle cx="557.0" cy="851.0" r="7.0" fill="#70a4cd"/>
<circle cx="454.0" cy="851.0" r="7.0" fill="#70a4cd"/>
<circle cx="554.0" cy="858.0" r="7.0" fill="#70a4cd"/>
<circle cx="534.0" cy="879.0" r="7.0" fill="#70a4cd"/>
<circle cx="763.5" cy="847.0" r="7.0" fill="#70a4cd"/>
<circle cx="730.0" cy="899.0" r="7.0" fill="#70a4cd"/>
<circle cx="734.0" cy="917.0" r="7.0" fill="#70a4cd"/>
<circle cx="704.0" cy="929.0" r="7.0" fill="#70a4cd"/>
<circle cx="698.0" cy="576.0" r="7.0" fill="#70a4cd"/>
<circle cx="623.5" cy="683.0" r="7.0" fill="#70a4cd"/>
<circle cx="822.0" cy="606.5" r="7.0" fill="#70a4cd"/>
<circle cx="744.0" cy="662.0" r="7.0" fill="#70a4cd"/>
<circle cx="865.0" cy="542.0" r="7.0" fill="#70a4cd"/>
<circle cx="735.5" cy="440.0" r="7.0" fill="#70a4cd"/>
<circle cx="764.0" cy="436.0" r="7.0" fill="#70a4cd"/>
<circle cx="780.0" cy="437.0" r="7.0" fill="#70a4cd"/>
<circle cx="790.0" cy="495.0" r="7.0" fill="#70a4cd"/>
<circle cx="770.0" cy="551.0" r="7.0" fill="#70a4cd"/>
<circle cx="765.0" cy="560.0" r="7.0" fill="#70a4cd"/>
<circle cx="577.2" cy="856.2" r="7.0" fill="#70a4cd"/>
<circle cx="777.8" cy="806.5" r="7.0" fill="#70a4cd"/>
<circle cx="972.0" cy="845.5" r="7.0" fill="#70a5cd"/>
<circle cx="534.0" cy="1040.0" r="7.0" fill="#70a5cd"/>
<circle cx="836.5" cy="716.5" r="7.0" fill="#70a5ce"/>
<circle cx="800.4" cy="945.8" r="7.0" fill="#70a5ce"/>
<circle cx="976.0" cy="866.0" r="7.0" fill="#71a5ce"/>
<circle cx="671.5" cy="463.5" r="7.0" fill="#71a5ce"/>
<circle cx="646.5" cy="484.0" r="7.0" fill="#71a6ce"/>
<circle cx="669.0" cy="488.5" r="7.0" fill="#72a6ce"/>
<circle cx="454.5" cy="425.0" r="7.0" fill="#72a7cf"/>
<circle cx="538.0" cy="547.5" r="7.0" fill="#72a7cf"/>
<circle cx="672.0" cy="954.5" r="7.0" fill="#72a7cf"/>
<circle cx="762.2" cy="809.0" r="7.0" fill="#73a8cf"/>
<circle cx="898.5" cy="786.0" r="7.0" fill="#73a8cf"/>
<circle cx="449.0" cy="421.0" r="7.0" fill="#73a8cf"/>
<circle cx="676.0" cy="972.0" r="7.0" fill="#73a8cf"/>
<circle cx="752.7" cy="762.6" r="7.0" fill="#73a9d0"/>
<circle cx="966.5" cy="854.0" r="7.0" fill="#74a9d0"/>
<circle cx="886.0" cy="785.0" r="7.0" fill="#74aad0"/>
<circle cx="568.0" cy="822.0" r="7.0" fill="#74aad0"/>
<circle cx="546.0" cy="859.0" r="7.0" fill="#74aad0"/>
<circle cx="574.0" cy="822.0" r="7.0" fill="#74aad0"/>
<circle cx="604.0" cy="831.0" r="7.0" fill="#74aad0"/>
<circle cx="849.5" cy="722.5" r="7.0" fill="#74aad0"/>
<circle cx="676.0" cy="954.5" r="7.0" fill="#75abd1"/>
<circle cx="683.0" cy="974.0" r="7.0" fill="#75abd1"/>
<circle cx="841.0" cy="641.5" r="7.0" fill="#75acd1"/>
<circle cx="843.5" cy="712.0" r="7.0" fill="#76acd1"/>
<circle cx="770.6" cy="535.0" r="7.0" fill="#76add2"/>
<circle cx="501.5" cy="210.5" r="7.0" fill="#76add2"/>
<circle cx="779.4" cy="785.3" r="7.0" fill="#76add2"/>
<circle cx="495.0" cy="215.5" r="7.0" fill="#77add2"/>
<circle cx="221.0" cy="449.0" r="7.0" fill="#77add2"/>
<circle cx="402.0" cy="476.0" r="7.0" fill="#77add2"/>
<circle cx="798.0" cy="417.0" r="7.0" fill="#77add2"/>
<circle cx="811.0" cy="427.0" r="7.0" fill="#77add2"/>
<circle cx="828.0" cy="723.0" r="7.0" fill="#77add2"/>
<circle cx="983.0" cy="853.0" r="7.0" fill="#77add2"/>
<circle cx="677.0" cy="963.0" r="7.0" fill="#77add2"/>
<circle cx="396.0" cy="730.0" r="7.0" fill="#77add2"/>
<circle cx="560.0" cy="786.0" r="7.0" fill="#77add2"/>
<circle cx="539.5" cy="843.0" r="7.0" fill="#77add2"/>
<circle cx="776.0" cy="728.0" r="7.0" fill="#77add2"/>
<circle cx="765.0" cy="737.0" r="7.0" fill="#77add2"/>
<circle cx="825.0" cy="742.0" r="7.0" fill="#77add2"/>
<circle cx="648.0" cy="862.0" r="7.0" fill="#77add2"/>
<circle cx="814.0" cy="919.0" r="7.0" fill="#77add2"/>
<circle cx="748.0" cy="658.0" r="7.0" fill="#77add2"/>
<circle cx="911.5" cy="643.5" r="7.0" fill="#77add2"/>
<circle cx="841.0" cy="791.5" r="7.0" fill="#77aed2"/>
<circle cx="583.4" cy="838.5" r="7.0" fill="#77aed2"/>
<circle cx="711.0" cy="832.1" r="7.0" fill="#77aed2"/>
<circle cx="1002.5" cy="838.0" r="7.0" fill="#78afd3"/>
<circle cx="539.5" cy="1049.5" r="7.0" fill="#78afd3"/>
<circle cx="484.2" cy="714.8" r="7.0" fill="#78afd3"/>
<circle cx="1012.6" cy="282.3" r="7.0" fill="#78afd3"/>
<circle cx="689.8" cy="852.0" r="7.0" fill="#78b0d3"/>
<circle cx="883.0" cy="809.5" r="7.0" fill="#79b0d3"/>
<circle cx="908.5" cy="896.3" r="7.0" fill="#79b1d4"/>
<circle cx="964.5" cy="862.0" r="7.0" fill="#79b1d4"/>
<circle cx="753.0" cy="1036.5" r="7.0" fill="#7ab1d4"/>
<circle cx="692.0" cy="397.5" r="7.0" fill="#7ab2d4"/>
<circle cx="675.0" cy="757.4" r="7.0" fill="#7ab2d4"/>
<circle cx="650.2" cy="848.3" r="7.0" fill="#7bb3d5"/>
<circle cx="697.8" cy="359.9" r="7.0" fill="#7bb3d5"/>
<circle cx="528.5" cy="1036.0" r="7.0" fill="#7bb3d5"/>
<circle cx="743.5" cy="1043.5" r="7.0" fill="#7bb3d5"/>
<circle cx="539.0" cy="203.0" r="7.0" fill="#7bb3d5"/>
<circle cx="496.0" cy="214.0" r="7.0" fill="#7bb3d5"/>
<circle cx="400.0" cy="292.0" r="7.0" fill="#7bb3d5"/>
<circle cx="624.0" cy="315.0" r="7.0" fill="#7bb3d5"/>
<circle cx="902.0" cy="306.0" r="7.0" fill="#7bb3d5"/>
<circle cx="902.0" cy="383.0" r="7.0" fill="#7bb3d5"/>
<circle cx="477.0" cy="431.0" r="7.0" fill="#7bb3d5"/>
<circle cx="432.0" cy="447.0" r="7.0" fill="#7bb3d5"/>
<circle cx="407.0" cy="491.0" r="7.0" fill="#7bb3d5"/>
<circle cx="409.0" cy="554.0" r="7.0" fill="#7bb3d5"/>
<circle cx="540.0" cy="449.0" r="7.0" fill="#7bb3d5"/>
<circle cx="538.0" cy="579.0" r="7.0" fill="#7bb3d5"/>
<circle cx="887.0" cy="432.0" r="7.0" fill="#7bb3d5"/>
<circle cx="952.0" cy="390.0" r="7.0" fill="#7bb3d5"/>
<circle cx="1049.0" cy="430.0" r="7.0" fill="#7bb3d5"/>
<circle cx="972.0" cy="750.0" r="7.0" fill="#7bb3d5"/>
<circle cx="1005.0" cy="844.0" r="7.0" fill="#7bb3d5"/>
<circle cx="976.0" cy="852.0" r="7.0" fill="#7bb3d5"/>
<circle cx="975.0" cy="858.0" r="7.0" fill="#7bb3d5"/>
<circle cx="985.0" cy="862.0" r="7.0" fill="#7bb3d5"/>
<circle cx="686.0" cy="966.0" r="7.0" fill="#7bb3d5"/>
<circle cx="748.0" cy="1039.0" r="7.0" fill="#7bb3d5"/>
<circle cx="743.0" cy="1053.0" r="7.0" fill="#7bb3d5"/>
<circle cx="768.0" cy="1036.0" r="7.0" fill="#7bb3d5"/>
<circle cx="783.0" cy="1009.0" r="7.0" fill="#7bb3d5"/>
<circle cx="388.5" cy="714.5" r="7.0" fill="#7bb3d5"/>
<circle cx="403.0" cy="716.0" r="7.0" fill="#7bb3d5"/>
<circle cx="430.0" cy="724.0" r="7.0" fill="#7bb3d5"/>
<circle cx="398.0" cy="735.0" r="7.0" fill="#7bb3d5"/>
<circle cx="440.0" cy="744.0" r="7.0" fill="#7bb3d5"/>
<circle cx="370.5" cy="765.0" r="7.0" fill="#7bb3d5"/>
<circle cx="430.5" cy="782.5" r="7.0" fill="#7bb3d5"/>
<circle cx="378.0" cy="787.5" r="7.0" fill="#7bb3d5"/>
<circle cx="361.0" cy="799.0" r="7.0" fill="#7bb3d5"/>
<circle cx="331.0" cy="813.0" r="7.0" fill="#7bb3d5"/>
<circle cx="434.0" cy="805.0" r="7.0" fill="#7bb3d5"/>
<circle cx="466.0" cy="738.0" r="7.0" fill="#7bb3d5"/>
<circle cx="564.0" cy="775.0" r="7.0" fill="#7bb3d5"/>
<circle cx="559.5" cy="792.0" r="7.0" fill="#7bb3d5"/>
<circle cx="508.5" cy="844.5" r="7.0" fill="#7bb3d5"/>
<circle cx="520.5" cy="837.5" r="7.0" fill="#7bb3d5"/>
<circle cx="532.0" cy="838.0" r="7.0" fill="#7bb3d5"/>
<circle cx="482.0" cy="857.5" r="7.0" fill="#7bb3d5"/>
<circle cx="512.5" cy="863.5" r="7.0" fill="#7bb3d5"/>
<circle cx="496.5" cy="874.5" r="7.0" fill="#7bb3d5"/>
<circle cx="678.0" cy="694.0" r="7.0" fill="#7bb3d5"/>
<circle cx="678.0" cy="707.0" r="7.0" fill="#7bb3d5"/>
<circle cx="697.0" cy="696.0" r="7.0" fill="#7bb3d5"/>
<circle cx="630.0" cy="710.0" r="7.0" fill="#7bb3d5"/>
<circle cx="592.0" cy="759.0" r="7.0" fill="#7bb3d5"/>
<circle cx="578.0" cy="807.0" r="7.0" fill="#7bb3d5"/>
<circle cx="710.0" cy="720.0" r="7.0" fill="#7bb3d5"/>
<circle cx="824.0" cy="715.0" r="7.0" fill="#7bb3d5"/>
<circle cx="750.0" cy="755.0" r="7.0" fill="#7bb3d5"/>
<circle cx="776.0" cy="755.0" r="7.0" fill="#7bb3d5"/>
<circle cx="798.0" cy="742.0" r="7.0" fill="#7bb3d5"/>
<circle cx="798.0" cy="751.0" r="7.0" fill="#7bb3d5"/>
<circle cx="804.0" cy="750.0" r="7.0" fill="#7bb3d5"/>
<circle cx="810.0" cy="742.0" r="7.0" fill="#7bb3d5"/>
<circle cx="808.0" cy="752.0" r="7.0" fill="#7bb3d5"/>
<circle cx="818.0" cy="752.0" r="7.0" fill="#7bb3d5"/>
<circle cx="824.5" cy="761.0" r="7.0" fill="#7bb3d5"/>
<circle cx="801.0" cy="770.0" r="7.0" fill="#7bb3d5"/>
<circle cx="772.0" cy="762.0" r="7.0" fill="#7bb3d5"/>
<circle cx="780.0" cy="768.0" r="7.0" fill="#7bb3d5"/>
<circle cx="767.0" cy="774.0" r="7.0" fill="#7bb3d5"/>
<circle cx="770.0" cy="805.0" r="7.0" fill="#7bb3d5"/>
<circle cx="644.0" cy="871.0" r="7.0" fill="#7bb3d5"/>
<circle cx="678.0" cy="891.0" r="7.0" fill="#7bb3d5"/>
<circle cx="628.0" cy="901.0" r="7.0" fill="#7bb3d5"/>
<circle cx="612.5" cy="907.0" r="7.0" fill="#7bb3d5"/>
<circle cx="684.0" cy="944.0" r="7.0" fill="#7bb3d5"/>
<circle cx="808.0" cy="841.0" r="7.0" fill="#7bb3d5"/>
<circle cx="824.0" cy="916.0" r="7.0" fill="#7bb3d5"/>
<circle cx="770.0" cy="544.0" r="7.0" fill="#7bb3d5"/>
<circle cx="957.5" cy="883.5" r="7.0" fill="#7cb4d5"/>
<circle cx="840.0" cy="785.5" r="7.0" fill="#7cb4d5"/>
<circle cx="659.0" cy="954.5" r="7.0" fill="#7db4d5"/>
<circle cx="802.0" cy="954.5" r="7.0" fill="#7db4d5"/>
<circle cx="559.0" cy="565.5" r="7.0" fill="#7db5d6"/>
<circle cx="551.0" cy="337.0" r="7.0" fill="#7eb5d6"/>
<circle cx="596.7" cy="847.3" r="7.0" fill="#7eb5d6"/>
<circle cx="873.0" cy="839.0" r="7.0" fill="#7eb5d6"/>
<circle cx="854.5" cy="637.5" r="7.0" fill="#7eb5d6"/>
<circle cx="542.5" cy="351.5" r="7.0" fill="#80b6d7"/>
<circle cx="848.5" cy="800.5" r="7.0" fill="#80b6d7"/>
<circle cx="619.5" cy="931.5" r="7.0" fill="#80b6d7"/>
<circle cx="354.3" cy="817.2" r="7.0" fill="#80b7d7"/>
<circle cx="559.5" cy="564.0" r="7.0" fill="#81b7d7"/>
<circle cx="880.0" cy="823.0" r="7.0" fill="#81b7d7"/>
<circle cx="528.0" cy="344.4" r="7.0" fill="#81b7d7"/>
<circle cx="728.5" cy="1016.0" r="7.0" fill="#81b7d7"/>
<circle cx="633.0" cy="475.0" r="7.0" fill="#81b7d7"/>
<circle cx="657.0" cy="217.0" r="7.0" fill="#81b7d7"/>
<circle cx="638.0" cy="432.0" r="7.0" fill="#82b8d7"/>
<circle cx="620.8" cy="408.3" r="7.0" fill="#82b8d7"/>
<circle cx="653.5" cy="965.0" r="7.0" fill="#84b9d8"/>
<circle cx="733.0" cy="1014.0" r="7.0" fill="#84b9d8"/>
<circle cx="804.3" cy="290.0" r="7.0" fill="#84b9d8"/>
<circle cx="453.5" cy="390.0" r="7.0" fill="#85b9d8"/>
<circle cx="647.0" cy="499.0" r="7.0" fill="#86bad8"/>
<circle cx="452.5" cy="373.5" r="7.0" fill="#86bad8"/>
<circle cx="655.0" cy="229.5" r="7.0" fill="#86bad9"/>
<circle cx="785.0" cy="369.0" r="7.0" fill="#86bad9"/>
<circle cx="833.0" cy="712.0" r="7.0" fill="#86bad9"/>
<circle cx="835.0" cy="788.0" r="7.0" fill="#86bad9"/>
<circle cx="405.5" cy="713.5" r="7.0" fill="#86bad9"/>
<circle cx="417.0" cy="723.0" r="7.0" fill="#86bad9"/>
<circle cx="362.0" cy="739.0" r="7.0" fill="#86bad9"/>
<circle cx="386.0" cy="766.0" r="7.0" fill="#86bad9"/>
<circle cx="388.0" cy="788.5" r="7.0" fill="#86bad9"/>
<circle cx="354.0" cy="797.5" r="7.0" fill="#86bad9"/>
<circle cx="472.0" cy="733.0" r="7.0" fill="#86bad9"/>
<circle cx="331.0" cy="822.0" r="7.0" fill="#86bad9"/>
<circle cx="406.0" cy="824.0" r="7.0" fill="#86bad9"/>
<circle cx="409.0" cy="829.0" r="7.0" fill="#86bad9"/>
<circle cx="432.5" cy="860.5" r="7.0" fill="#86bad9"/>
<circle cx="553.5" cy="821.0" r="7.0" fill="#86bad9"/>
<circle cx="524.5" cy="830.5" r="7.0" fill="#86bad9"/>
<circle cx="565.0" cy="845.0" r="7.0" fill="#86bad9"/>
<circle cx="537.0" cy="863.0" r="7.0" fill="#86bad9"/>
<circle cx="567.0" cy="861.0" r="7.0" fill="#86bad9"/>
<circle cx="665.5" cy="715.5" r="7.0" fill="#86bad9"/>
<circle cx="695.0" cy="716.5" r="7.0" fill="#86bad9"/>
<circle cx="643.5" cy="733.0" r="7.0" fill="#86bad9"/>
<circle cx="678.0" cy="745.0" r="7.0" fill="#86bad9"/>
<circle cx="632.0" cy="748.0" r="7.0" fill="#86bad9"/>
<circle cx="606.0" cy="778.0" r="7.0" fill="#86bad9"/>
<circle cx="625.0" cy="788.0" r="7.0" fill="#86bad9"/>
<circle cx="730.5" cy="722.0" r="7.0" fill="#86bad9"/>
<circle cx="788.5" cy="749.5" r="7.0" fill="#86bad9"/>
<circle cx="810.0" cy="766.5" r="7.0" fill="#86bad9"/>
<circle cx="787.0" cy="790.0" r="7.0" fill="#86bad9"/>
<circle cx="642.0" cy="846.0" r="7.0" fill="#86bad9"/>
<circle cx="668.0" cy="859.0" r="7.0" fill="#86bad9"/>
<circle cx="632.0" cy="877.0" r="7.0" fill="#86bad9"/>
<circle cx="743.0" cy="912.0" r="7.0" fill="#86bad9"/>
<circle cx="780.0" cy="933.0" r="7.0" fill="#86bad9"/>
<circle cx="819.5" cy="466.5" r="7.0" fill="#86bad9"/>
<circle cx="621.5" cy="211.0" r="7.0" fill="#87bad9"/>
<circle cx="405.0" cy="467.0" r="7.0" fill="#87bbd9"/>
<circle cx="507.9" cy="895.6" r="7.0" fill="#87bbd9"/>
<circle cx="478.1" cy="328.2" r="7.0" fill="#88bbd9"/>
<circle cx="877.0" cy="814.0" r="7.0" fill="#88bbd9"/>
<circle cx="581.2" cy="777.7" r="7.0" fill="#88bcd9"/>
<circle cx="415.0" cy="412.3" r="7.0" fill="#89bcda"/>
<circle cx="496.5" cy="385.8" r="7.0" fill="#89bcda"/>
<circle cx="663.5" cy="215.0" r="7.0" fill="#89bcda"/>
<circle cx="947.5" cy="658.5" r="7.0" fill="#89bcda"/>
<circle cx="929.0" cy="661.0" r="7.0" fill="#89bcda"/>
<circle cx="943.5" cy="681.0" r="7.0" fill="#89bcda"/>
<circle cx="954.5" cy="893.5" r="7.0" fill="#89bcda"/>
<circle cx="727.0" cy="1052.5" r="7.0" fill="#89bcda"/>
<circle cx="879.0" cy="826.0" r="7.0" fill="#8abcda"/>
<circle cx="836.5" cy="805.0" r="7.0" fill="#8abdda"/>
<circle cx="288.0" cy="400.0" r="7.0" fill="#8abdda"/>
<circle cx="649.0" cy="216.5" r="7.0" fill="#8abdda"/>
<circle cx="666.0" cy="973.0" r="7.0" fill="#8bbdda"/>
<circle cx="875.0" cy="809.0" r="7.0" fill="#8bbdda"/>
<circle cx="893.5" cy="799.0" r="7.0" fill="#8cbedb"/>
<circle cx="968.0" cy="877.5" r="7.0" fill="#8cbedb"/>
<circle cx="710.0" cy="345.0" r="7.0" fill="#8cbedb"/>
<circle cx="1006.0" cy="277.0" r="7.0" fill="#8cbedb"/>
<circle cx="1049.0" cy="288.0" r="7.0" fill="#8cbedb"/>
<circle cx="1050.0" cy="295.0" r="7.0" fill="#8cbedb"/>
<circle cx="696.0" cy="407.0" r="7.0" fill="#8cbedb"/>
<circle cx="892.0" cy="791.0" r="7.0" fill="#8cbedb"/>
<circle cx="888.0" cy="808.0" r="7.0" fill="#8cbedb"/>
<circle cx="417.5" cy="745.0" r="7.0" fill="#8cbedb"/>
<circle cx="417.0" cy="833.0" r="7.0" fill="#8cbedb"/>
<circle cx="537.0" cy="870.0" r="7.0" fill="#8cbedb"/>
<circle cx="629.5" cy="930.0" r="7.0" fill="#8cbedb"/>
<circle cx="744.5" cy="239.5" r="7.0" fill="#8cbedb"/>
<circle cx="769.0" cy="245.0" r="7.0" fill="#8cbedb"/>
<circle cx="769.0" cy="256.0" r="7.0" fill="#8dbedb"/>
<circle cx="535.5" cy="369.5" r="7.0" fill="#8dbedb"/>
<circle cx="710.0" cy="1025.5" r="7.0" fill="#8dbfdb"/>
<circle cx="729.0" cy="229.5" r="7.0" fill="#8dbfdb"/>
<circle cx="640.5" cy="511.0" r="7.0" fill="#8dbfdb"/>
<circle cx="372.0" cy="485.5" r="7.0" fill="#8dbfdb"/>
<circle cx="889.0" cy="810.5" r="7.0" fill="#8ebfdb"/>
<circle cx="454.5" cy="411.5" r="7.0" fill="#8ebfdb"/>
<circle cx="538.5" cy="374.5" r="7.0" fill="#8ebfdc"/>
<circle cx="678.0" cy="978.5" r="7.0" fill="#8fbfdc"/>
<circle cx="359.5" cy="546.5" r="7.0" fill="#8fc0dc"/>
<circle cx="757.0" cy="1023.5" r="7.0" fill="#90c0dc"/>
<circle cx="536.0" cy="352.0" r="7.0" fill="#91c1dc"/>
<circle cx="498.5" cy="955.0" r="7.0" fill="#91c1dc"/>
<circle cx="729.0" cy="1030.5" r="7.0" fill="#91c1dc"/>
<circle cx="789.0" cy="956.0" r="7.0" fill="#91c1dc"/>
<circle cx="568.5" cy="831.0" r="7.0" fill="#92c1dd"/>
<circle cx="568.0" cy="847.0" r="7.0" fill="#92c1dd"/>
<circle cx="575.0" cy="831.0" r="7.0" fill="#92c1dd"/>
<circle cx="572.0" cy="848.0" r="7.0" fill="#92c1dd"/>
<circle cx="629.5" cy="850.0" r="7.0" fill="#92c1dd"/>
<circle cx="622.5" cy="859.0" r="7.0" fill="#92c1dd"/>
<circle cx="1077.8" cy="474.1" r="7.0" fill="#92c2dd"/>
<circle cx="691.0" cy="459.0" r="7.0" fill="#92c2dd"/>
<circle cx="1048.7" cy="465.7" r="7.0" fill="#92c2dd"/>
<circle cx="655.0" cy="960.0" r="7.0" fill="#92c2dd"/>
<circle cx="736.0" cy="1013.0" r="7.0" fill="#92c2dd"/>
<circle cx="545.5" cy="573.5" r="7.0" fill="#92c2dd"/>
<circle cx="464.0" cy="359.5" r="7.0" fill="#93c2dd"/>
<circle cx="714.0" cy="1012.5" r="7.0" fill="#93c2dd"/>
<circle cx="693.0" cy="1073.0" r="7.0" fill="#93c2dd"/>
<circle cx="666.0" cy="977.5" r="7.0" fill="#94c3dd"/>
<circle cx="627.0" cy="210.5" r="7.0" fill="#94c3de"/>
<circle cx="616.1" cy="946.0" r="7.0" fill="#95c3de"/>
<circle cx="588.1" cy="877.5" r="7.0" fill="#95c3de"/>
<circle cx="282.0" cy="304.9" r="7.0" fill="#95c4de"/>
<circle cx="441.5" cy="384.0" r="7.0" fill="#96c4de"/>
<circle cx="759.9" cy="792.9" r="7.0" fill="#96c4de"/>
<circle cx="638.1" cy="834.4" r="7.0" fill="#96c4de"/>
<circle cx="991.5" cy="835.0" r="7.0" fill="#96c5de"/>
<circle cx="856.0" cy="804.0" r="7.0" fill="#97c5de"/>
<circle cx="511.0" cy="202.0" r="7.0" fill="#97c5de"/>
<circle cx="524.0" cy="224.0" r="7.0" fill="#97c5de"/>
<circle cx="632.0" cy="207.0" r="7.0" fill="#97c5de"/>
<circle cx="539.0" cy="341.0" r="7.0" fill="#97c5de"/>
<circle cx="632.0" cy="355.0" r="7.0" fill="#97c5de"/>
<circle cx="459.0" cy="368.0" r="7.0" fill="#97c5de"/>
<circle cx="542.0" cy="359.0" r="7.0" fill="#97c5de"/>
<circle cx="578.0" cy="371.0" r="7.0" fill="#97c5de"/>
<circle cx="654.0" cy="218.0" r="7.0" fill="#97c5de"/>
<circle cx="646.0" cy="228.0" r="7.0" fill="#97c5de"/>
<circle cx="846.0" cy="321.0" r="7.0" fill="#97c5de"/>
<circle cx="871.0" cy="352.0" r="7.0" fill="#97c5de"/>
<circle cx="880.0" cy="320.0" r="7.0" fill="#97c5de"/>
<circle cx="876.0" cy="325.0" r="7.0" fill="#97c5de"/>
<circle cx="682.0" cy="350.0" r="7.0" fill="#97c5de"/>
<circle cx="694.0" cy="350.0" r="7.0" fill="#97c5de"/>
<circle cx="674.0" cy="326.0" r="7.0" fill="#97c5de"/>
<circle cx="950.0" cy="276.0" r="7.0" fill="#97c5de"/>
<circle cx="998.0" cy="286.0" r="7.0" fill="#97c5de"/>
<circle cx="922.0" cy="376.0" r="7.0" fill="#97c5de"/>
<circle cx="298.0" cy="404.0" r="7.0" fill="#97c5de"/>
<circle cx="374.0" cy="479.0" r="7.0" fill="#97c5de"/>
<circle cx="460.0" cy="397.0" r="7.0" fill="#97c5de"/>
<circle cx="511.0" cy="386.0" r="7.0" fill="#97c5de"/>
<circle cx="495.0" cy="413.0" r="7.0" fill="#97c5de"/>
<circle cx="617.0" cy="400.0" r="7.0" fill="#97c5de"/>
<circle cx="639.0" cy="438.0" r="7.0" fill="#97c5de"/>
<circle cx="639.0" cy="518.0" r="7.0" fill="#97c5de"/>
<circle cx="569.0" cy="571.0" r="7.0" fill="#97c5de"/>
<circle cx="686.0" cy="460.0" r="7.0" fill="#97c5de"/>
<circle cx="651.0" cy="454.0" r="7.0" fill="#97c5de"/>
<circle cx="916.0" cy="386.0" r="7.0" fill="#97c5de"/>
<circle cx="898.0" cy="415.0" r="7.0" fill="#97c5de"/>
<circle cx="846.0" cy="797.0" r="7.0" fill="#97c5de"/>
<circle cx="884.0" cy="833.0" r="7.0" fill="#97c5de"/>
<circle cx="991.0" cy="824.0" r="7.0" fill="#97c5de"/>
<circle cx="969.0" cy="870.0" r="7.0" fill="#97c5de"/>
<circle cx="964.0" cy="878.0" r="7.0" fill="#97c5de"/>
<circle cx="504.0" cy="955.0" r="7.0" fill="#97c5de"/>
<circle cx="505.0" cy="1005.0" r="7.0" fill="#97c5de"/>
<circle cx="657.0" cy="955.0" r="7.0" fill="#97c5de"/>
<circle cx="724.0" cy="949.0" r="7.0" fill="#97c5de"/>
<circle cx="765.0" cy="994.0" r="7.0" fill="#97c5de"/>
<circle cx="720.0" cy="1017.0" r="7.0" fill="#97c5de"/>
<circle cx="722.0" cy="1020.0" r="7.0" fill="#97c5de"/>
<circle cx="760.0" cy="1035.0" r="7.0" fill="#97c5de"/>
<circle cx="955.0" cy="899.0" r="7.0" fill="#97c5de"/>
<circle cx="798.0" cy="956.0" r="7.0" fill="#97c5de"/>
<circle cx="386.0" cy="727.0" r="7.0" fill="#97c5de"/>
<circle cx="350.5" cy="748.0" r="7.0" fill="#97c5de"/>
<circle cx="369.0" cy="751.0" r="7.0" fill="#97c5de"/>
<circle cx="407.5" cy="788.5" r="7.0" fill="#97c5de"/>
<circle cx="414.5" cy="789.5" r="7.0" fill="#97c5de"/>
<circle cx="432.5" cy="798.5" r="7.0" fill="#97c5de"/>
<circle cx="406.0" cy="812.0" r="7.0" fill="#97c5de"/>
<circle cx="339.0" cy="804.0" r="7.0" fill="#97c5de"/>
<circle cx="485.0" cy="705.0" r="7.0" fill="#97c5de"/>
<circle cx="487.0" cy="691.0" r="7.0" fill="#97c5de"/>
<circle cx="463.5" cy="758.0" r="7.0" fill="#97c5de"/>
<circle cx="456.5" cy="765.5" r="7.0" fill="#97c5de"/>
<circle cx="445.0" cy="801.0" r="7.0" fill="#97c5de"/>
<circle cx="349.0" cy="825.0" r="7.0" fill="#97c5de"/>
<circle cx="542.0" cy="870.0" r="7.0" fill="#97c5de"/>
<circle cx="501.0" cy="901.0" r="7.0" fill="#97c5de"/>
<circle cx="522.0" cy="933.0" r="7.0" fill="#97c5de"/>
<circle cx="494.0" cy="935.0" r="7.0" fill="#97c5de"/>
<circle cx="699.0" cy="732.0" r="7.0" fill="#97c5de"/>
<circle cx="622.5" cy="757.5" r="7.0" fill="#97c5de"/>
<circle cx="617.0" cy="763.0" r="7.0" fill="#97c5de"/>
<circle cx="622.0" cy="770.0" r="7.0" fill="#97c5de"/>
<circle cx="640.0" cy="791.0" r="7.0" fill="#97c5de"/>
<circle cx="800.0" cy="736.0" r="7.0" fill="#97c5de"/>
<circle cx="775.0" cy="750.0" r="7.0" fill="#97c5de"/>
<circle cx="728.0" cy="755.0" r="7.0" fill="#97c5de"/>
<circle cx="681.0" cy="848.0" r="7.0" fill="#97c5de"/>
<circle cx="659.0" cy="879.0" r="7.0" fill="#97c5de"/>
<circle cx="680.0" cy="887.0" r="7.0" fill="#97c5de"/>
<circle cx="692.0" cy="890.0" r="7.0" fill="#97c5de"/>
<circle cx="652.0" cy="910.0" r="7.0" fill="#97c5de"/>
<circle cx="602.0" cy="914.0" r="7.0" fill="#97c5de"/>
<circle cx="649.0" cy="937.0" r="7.0" fill="#97c5de"/>
<circle cx="709.0" cy="842.0" r="7.0" fill="#97c5de"/>
<circle cx="574.0" cy="573.0" r="7.0" fill="#97c5de"/>
<circle cx="756.0" cy="665.0" r="7.0" fill="#97c5de"/>
<circle cx="790.0" cy="676.0" r="7.0" fill="#97c5de"/>
<circle cx="868.0" cy="523.0" r="7.0" fill="#97c5de"/>
<circle cx="872.5" cy="544.0" r="7.0" fill="#97c5de"/>
<circle cx="780.0" cy="539.0" r="7.0" fill="#97c5de"/>
<circle cx="918.0" cy="890.0" r="7.0" fill="#97c5df"/>
<circle cx="911.0" cy="886.0" r="7.0" fill="#97c5df"/>
<circle cx="618.5" cy="314.5" r="7.0" fill="#98c5df"/>
<circle cx="677.0" cy="227.0" r="7.0" fill="#98c5df"/>
<circle cx="535.5" cy="1004.5" r="7.0" fill="#98c5df"/>
<circle cx="553.5" cy="957.5" r="7.0" fill="#98c6df"/>
<circle cx="669.5" cy="1075.5" r="7.0" fill="#98c6df"/>
<circle cx="780.5" cy="956.0" r="7.0" fill="#99c6df"/>
<circle cx="757.0" cy="244.0" r="7.0" fill="#99c6df"/>
<circle cx="678.0" cy="1081.0" r="7.0" fill="#99c6df"/>
<circle cx="695.0" cy="1006.0" r="7.0" fill="#99c6df"/>
<circle cx="523.5" cy="549.5" r="7.0" fill="#99c6df"/>
<circle cx="925.5" cy="662.5" r="7.0" fill="#9ac7df"/>
<circle cx="928.0" cy="672.5" r="7.0" fill="#9ac7df"/>
<circle cx="899.0" cy="794.0" r="7.0" fill="#9ac7df"/>
<circle cx="695.5" cy="995.5" r="7.0" fill="#9ac7e0"/>
<circle cx="714.2" cy="882.1" r="7.0" fill="#9ac7e0"/>
<circle cx="270.5" cy="302.5" r="7.0" fill="#9bc7e0"/>
<circle cx="454.0" cy="432.5" r="7.0" fill="#9bc7e0"/>
<circle cx="843.5" cy="820.0" r="7.0" fill="#9bc8e0"/>
<circle cx="565.5" cy="206.5" r="7.0" fill="#9cc8e0"/>
<circle cx="560.0" cy="543.0" r="7.0" fill="#9cc8e0"/>
<circle cx="272.5" cy="395.0" r="7.0" fill="#9cc8e0"/>
<circle cx="561.0" cy="875.0" r="7.0" fill="#9dc8e0"/>
<circle cx="626.0" cy="822.0" r="7.0" fill="#9dc8e0"/>
<circle cx="601.0" cy="855.0" r="7.0" fill="#9dc8e0"/>
<circle cx="404.5" cy="411.0" r="7.0" fill="#9dc8e0"/>
<circle cx="378.3" cy="810.5" r="7.0" fill="#9ec9e1"/>
<circle cx="569.0" cy="197.5" r="7.0" fill="#9ec9e1"/>
<circle cx="289.5" cy="409.0" r="7.0" fill="#9ec9e1"/>
<circle cx="256.0" cy="408.5" r="7.0" fill="#9ec9e1"/>
<circle cx="854.0" cy="721.0" r="7.0" fill="#9ec9e1"/>
<circle cx="685.5" cy="981.0" r="7.0" fill="#9ec9e1"/>
<circle cx="540.0" cy="1005.0" r="7.0" fill="#9ec9e1"/>
<circle cx="735.0" cy="230.0" r="7.0" fill="#9fcae1"/>
<circle cx="674.5" cy="1011.5" r="7.0" fill="#9fcae1"/>
<circle cx="911.0" cy="873.0" r="7.0" fill="#9fcae1"/>
<circle cx="657.0" cy="969.5" r="7.0" fill="#9fcae1"/>
<circle cx="678.5" cy="212.5" r="7.0" fill="#9fcae1"/>
<circle cx="650.0" cy="966.5" r="7.0" fill="#9fcae1"/>
<circle cx="798.8" cy="930.2" r="7.0" fill="#9fcae1"/>
<circle cx="857.0" cy="837.2" r="7.0" fill="#a0cbe2"/>
<circle cx="391.5" cy="486.5" r="7.0" fill="#a0cbe2"/>
<circle cx="680.0" cy="989.5" r="7.0" fill="#a0cbe2"/>
<circle cx="465.0" cy="380.0" r="7.0" fill="#a1cbe2"/>
<circle cx="400.0" cy="428.0" r="7.0" fill="#a1cbe2"/>
<circle cx="340.3" cy="330.4" r="7.0" fill="#a1cbe2"/>
<circle cx="672.0" cy="972.0" r="7.0" fill="#a1cbe2"/>
<circle cx="750.0" cy="983.0" r="7.0" fill="#a1cbe2"/>
<circle cx="711.0" cy="1009.0" r="7.0" fill="#a1cbe2"/>
<circle cx="738.0" cy="1036.0" r="7.0" fill="#a1cbe2"/>
<circle cx="726.0" cy="1050.0" r="7.0" fill="#a1cbe2"/>
<circle cx="344.0" cy="559.0" r="7.0" fill="#a1cbe2"/>
<circle cx="688.5" cy="1015.0" r="7.0" fill="#a1cbe2"/>
<circle cx="756.7" cy="886.1" r="7.0" fill="#a2cce2"/>
<circle cx="994.0" cy="429.5" r="7.0" fill="#a2cce2"/>
<circle cx="553.5" cy="865.5" r="7.0" fill="#a2cce2"/>
<circle cx="630.0" cy="774.0" r="7.0" fill="#a2cce2"/>
<circle cx="592.0" cy="780.0" r="7.0" fill="#a2cce2"/>
<circle cx="632.0" cy="801.0" r="7.0" fill="#a2cce2"/>
<circle cx="632.0" cy="813.0" r="7.0" fill="#a2cce2"/>
<circle cx="624.0" cy="815.0" r="7.0" fill="#a2cce2"/>
<circle cx="631.0" cy="842.0" r="7.0" fill="#a2cce2"/>
<circle cx="576.0" cy="844.0" r="7.0" fill="#a2cce2"/>
<circle cx="560.3" cy="891.2" r="7.0" fill="#a2cce2"/>
<circle cx="439.5" cy="222.5" r="7.0" fill="#a2cce2"/>
<circle cx="531.0" cy="334.0" r="7.0" fill="#a2cce2"/>
<circle cx="573.5" cy="210.5" r="7.0" fill="#a3cce2"/>
<circle cx="886.9" cy="514.7" r="7.0" fill="#a3cce3"/>
<circle cx="669.0" cy="217.5" r="7.0" fill="#a3cce3"/>
<circle cx="473.2" cy="400.0" r="7.0" fill="#a3cde3"/>
<circle cx="406.5" cy="436.5" r="7.0" fill="#a3cde3"/>
<circle cx="812.0" cy="282.0" r="7.0" fill="#a4cde3"/>
<circle cx="699.5" cy="1016.5" r="7.0" fill="#a4cde3"/>
<circle cx="246.0" cy="404.0" r="7.0" fill="#a4cde3"/>
<circle cx="758.5" cy="256.5" r="7.0" fill="#a4cde3"/>
<circle cx="794.2" cy="802.9" r="7.0" fill="#a4cde3"/>
<circle cx="603.4" cy="418.3" r="7.0" fill="#a5cde3"/>
<circle cx="268.0" cy="412.5" r="7.0" fill="#a5cde3"/>
<circle cx="727.0" cy="238.0" r="7.0" fill="#a5cee3"/>
<circle cx="452.0" cy="381.5" r="7.0" fill="#a5cee3"/>
<circle cx="891.5" cy="809.0" r="7.0" fill="#a5cee3"/>
<circle cx="697.0" cy="1024.5" r="7.0" fill="#a5cee3"/>
<circle cx="404.5" cy="416.0" r="7.0" fill="#a5cee3"/>
<circle cx="270.5" cy="407.0" r="7.0" fill="#a6cee3"/>
<circle cx="668.0" cy="1020.0" r="7.0" fill="#a6cee3"/>
<circle cx="271.0" cy="400.5" r="7.0" fill="#a6cee3"/>
<circle cx="533.0" cy="993.0" r="7.0" fill="#a6cee3"/>
<circle cx="658.5" cy="481.5" r="7.0" fill="#a6cee4"/>
<circle cx="665.5" cy="236.5" r="7.0" fill="#a6cfe4"/>
<circle cx="425.5" cy="542.5" r="7.0" fill="#a6cfe4"/>
<circle cx="247.0" cy="409.5" r="7.0" fill="#a7cfe4"/>
<circle cx="753.5" cy="241.5" r="7.0" fill="#a7cfe4"/>
<circle cx="422.5" cy="424.5" r="7.0" fill="#a7cfe4"/>
<circle cx="647.5" cy="995.5" r="7.0" fill="#a7cfe4"/>
<circle cx="685.8" cy="373.1" r="7.0" fill="#a7cfe4"/>
<circle cx="721.6" cy="305.5" r="7.0" fill="#a7cfe4"/>
<circle cx="813.0" cy="278.0" r="7.0" fill="#a8cfe4"/>
<circle cx="443.0" cy="217.0" r="7.0" fill="#a8cfe4"/>
<circle cx="572.0" cy="352.0" r="7.0" fill="#a8cfe4"/>
<circle cx="610.0" cy="355.0" r="7.0" fill="#a8cfe4"/>
<circle cx="454.0" cy="379.0" r="7.0" fill="#a8cfe4"/>
<circle cx="531.0" cy="379.0" r="7.0" fill="#a8cfe4"/>
<circle cx="738.0" cy="236.0" r="7.0" fill="#a8cfe4"/>
<circle cx="762.0" cy="248.0" r="7.0" fill="#a8cfe4"/>
<circle cx="1026.0" cy="264.0" r="7.0" fill="#a8cfe4"/>
<circle cx="1033.0" cy="266.0" r="7.0" fill="#a8cfe4"/>
<circle cx="243.0" cy="397.0" r="7.0" fill="#a8cfe4"/>
<circle cx="672.0" cy="494.0" r="7.0" fill="#a8cfe4"/>
<circle cx="848.0" cy="717.0" r="7.0" fill="#a8cfe4"/>
<circle cx="843.0" cy="778.0" r="7.0" fill="#a8cfe4"/>
<circle cx="835.0" cy="795.0" r="7.0" fill="#a8cfe4"/>
<circle cx="907.0" cy="768.0" r="7.0" fill="#a8cfe4"/>
<circle cx="973.0" cy="876.0" r="7.0" fill="#a8cfe4"/>
<circle cx="668.0" cy="947.0" r="7.0" fill="#a8cfe4"/>
<circle cx="533.0" cy="1002.0" r="7.0" fill="#a8cfe4"/>
<circle cx="328.0" cy="798.5" r="7.0" fill="#a8cfe4"/>
<circle cx="418.0" cy="805.0" r="7.0" fill="#a8cfe4"/>
<circle cx="363.0" cy="814.0" r="7.0" fill="#a8cfe4"/>
<circle cx="527.5" cy="860.5" r="7.0" fill="#a8cfe4"/>
<circle cx="688.0" cy="719.0" r="7.0" fill="#a8cfe4"/>
<circle cx="640.5" cy="757.0" r="7.0" fill="#a8cfe4"/>
<circle cx="614.0" cy="916.0" r="7.0" fill="#a8cfe4"/>
<circle cx="610.0" cy="928.0" r="7.0" fill="#a8cfe4"/>
<circle cx="703.0" cy="890.0" r="7.0" fill="#a8cfe4"/>
<circle cx="610.5" cy="617.5" r="7.0" fill="#a8cfe4"/>
<circle cx="760.0" cy="671.0" r="7.0" fill="#a8cfe4"/>
<circle cx="871.0" cy="494.0" r="7.0" fill="#a8cfe4"/>
<circle cx="684.0" cy="1029.5" r="7.0" fill="#a8cfe4"/>
<circle cx="461.5" cy="341.0" r="7.0" fill="#a8d0e4"/>
<circle cx="402.0" cy="410.5" r="7.0" fill="#a8d0e4"/>
<circle cx="719.0" cy="1036.5" r="7.0" fill="#a9d0e5"/>
<circle cx="921.0" cy="875.5" r="7.0" fill="#a9d0e5"/>
<circle cx="500.0" cy="1003.0" r="7.0" fill="#a9d0e5"/>
<circle cx="991.9" cy="311.8" r="7.0" fill="#a9d0e5"/>
<circle cx="673.0" cy="1038.0" r="7.0" fill="#aad1e5"/>
<circle cx="536.6" cy="899.5" r="7.0" fill="#aad1e5"/>
<circle cx="471.5" cy="337.0" r="7.0" fill="#abd2e5"/>
<circle cx="662.0" cy="1035.5" r="7.0" fill="#acd2e6"/>
<circle cx="575.0" cy="208.0" r="7.0" fill="#acd2e6"/>
<circle cx="548.0" cy="546.5" r="7.0" fill="#acd2e6"/>
<circle cx="661.7" cy="803.8" r="7.0" fill="#acd2e6"/>
<circle cx="672.0" cy="978.0" r="7.0" fill="#acd2e6"/>
<circle cx="686.0" cy="995.0" r="7.0" fill="#acd2e6"/>
<circle cx="702.0" cy="1004.0" r="7.0" fill="#acd2e6"/>
<circle cx="708.0" cy="1016.0" r="7.0" fill="#acd2e6"/>
<circle cx="735.0" cy="1005.0" r="7.0" fill="#acd2e6"/>
<circle cx="742.0" cy="1028.0" r="7.0" fill="#acd2e6"/>
<circle cx="732.0" cy="1027.0" r="7.0" fill="#acd2e6"/>
<circle cx="729.0" cy="1042.0" r="7.0" fill="#acd2e6"/>
<circle cx="719.0" cy="1061.0" r="7.0" fill="#acd2e6"/>
<circle cx="736.0" cy="1052.0" r="7.0" fill="#acd2e6"/>
<circle cx="718.0" cy="1060.0" r="7.0" fill="#acd2e6"/>
<circle cx="685.0" cy="1076.0" r="7.0" fill="#acd2e6"/>
<circle cx="682.0" cy="1080.0" r="7.0" fill="#acd2e6"/>
<circle cx="701.5" cy="1072.0" r="7.0" fill="#acd2e6"/>
<circle cx="461.6" cy="715.1" r="7.0" fill="#acd2e6"/>
<circle cx="380.0" cy="490.0" r="7.0" fill="#acd2e6"/>
<circle cx="638.0" cy="1042.5" r="7.0" fill="#acd2e6"/>
<circle cx="804.5" cy="279.5" r="7.0" fill="#add3e6"/>
<circle cx="634.5" cy="311.5" r="7.0" fill="#add3e6"/>
<circle cx="297.5" cy="287.5" r="7.0" fill="#add3e6"/>
<circle cx="550.0" cy="867.0" r="7.0" fill="#add3e6"/>
<circle cx="612.0" cy="820.0" r="7.0" fill="#add3e6"/>
<circle cx="586.5" cy="828.0" r="7.0" fill="#add3e6"/>
<circle cx="606.5" cy="842.5" r="7.0" fill="#add3e6"/>
<circle cx="617.5" cy="840.5" r="7.0" fill="#add3e6"/>
<circle cx="587.0" cy="862.0" r="7.0" fill="#add3e6"/>
<circle cx="414.5" cy="422.5" r="7.0" fill="#add3e6"/>
<circle cx="271.5" cy="304.5" r="7.0" fill="#add3e6"/>
<circle cx="767.2" cy="705.6" r="7.0" fill="#aed3e6"/>
<circle cx="813.5" cy="296.5" r="7.0" fill="#aed4e6"/>
<circle cx="421.5" cy="420.5" r="7.0" fill="#afd4e7"/>
<circle cx="379.5" cy="481.5" r="7.0" fill="#afd4e7"/>
<circle cx="667.0" cy="1053.0" r="7.0" fill="#afd4e7"/>
<circle cx="782.5" cy="971.5" r="7.0" fill="#afd4e7"/>
<circle cx="446.5" cy="434.0" r="7.0" fill="#afd4e7"/>
<circle cx="640.0" cy="980.0" r="7.0" fill="#afd4e7"/>
<circle cx="658.5" cy="788.4" r="7.0" fill="#afd4e7"/>
<circle cx="425.5" cy="547.5" r="7.0" fill="#afd4e7"/>
<circle cx="882.7" cy="416.2" r="7.0" fill="#b0d4e7"/>
<circle cx="404.5" cy="551.0" r="7.0" fill="#b0d5e7"/>
<circle cx="781.3" cy="469.5" r="7.0" fill="#b0d5e7"/>
<circle cx="637.0" cy="315.0" r="7.0" fill="#b0d5e7"/>
<circle cx="551.0" cy="911.1" r="7.0" fill="#b1d5e7"/>
<circle cx="656.5" cy="1048.0" r="7.0" fill="#b1d5e7"/>
<circle cx="998.6" cy="447.0" r="7.0" fill="#b1d5e7"/>
<circle cx="661.5" cy="1059.0" r="7.0" fill="#b1d5e7"/>
<circle cx="822.5" cy="279.0" r="7.0" fill="#b1d5e7"/>
<circle cx="927.0" cy="883.5" r="7.0" fill="#b2d6e7"/>
<circle cx="300.0" cy="284.0" r="7.0" fill="#b3d6e8"/>
<circle cx="576.0" cy="201.0" r="7.0" fill="#b3d6e8"/>
<circle cx="571.0" cy="205.0" r="7.0" fill="#b3d6e8"/>
<circle cx="565.0" cy="192.0" r="7.0" fill="#b3d6e8"/>
<circle cx="503.0" cy="207.0" r="7.0" fill="#b3d6e8"/>
<circle cx="592.0" cy="320.0" r="7.0" fill="#b3d6e8"/>
<circle cx="585.0" cy="352.0" r="7.0" fill="#b3d6e8"/>
<circle cx="591.0" cy="352.0" r="7.0" fill="#b3d6e8"/>
<circle cx="638.0" cy="345.0" r="7.0" fill="#b3d6e8"/>
<circle cx="464.0" cy="348.0" r="7.0" fill="#b3d6e8"/>
<circle cx="616.0" cy="354.0" r="7.0" fill="#b3d6e8"/>
<circle cx="461.0" cy="382.0" r="7.0" fill="#b3d6e8"/>
<circle cx="667.0" cy="206.0" r="7.0" fill="#b3d6e8"/>
<circle cx="664.0" cy="228.0" r="7.0" fill="#b3d6e8"/>
<circle cx="765.0" cy="238.0" r="7.0" fill="#b3d6e8"/>
<circle cx="722.0" cy="317.0" r="7.0" fill="#b3d6e8"/>
<circle cx="884.0" cy="326.0" r="7.0" fill="#b3d6e8"/>
<circle cx="894.0" cy="302.0" r="7.0" fill="#b3d6e8"/>
<circle cx="889.0" cy="310.0" r="7.0" fill="#b3d6e8"/>
<circle cx="892.0" cy="316.0" r="7.0" fill="#b3d6e8"/>
<circle cx="706.0" cy="352.0" r="7.0" fill="#b3d6e8"/>
<circle cx="668.0" cy="332.0" r="7.0" fill="#b3d6e8"/>
<circle cx="652.0" cy="338.0" r="7.0" fill="#b3d6e8"/>
<circle cx="669.0" cy="367.0" r="7.0" fill="#b3d6e8"/>
<circle cx="678.0" cy="380.0" r="7.0" fill="#b3d6e8"/>
<circle cx="989.0" cy="266.0" r="7.0" fill="#b3d6e8"/>
<circle cx="1006.0" cy="261.0" r="7.0" fill="#b3d6e8"/>
<circle cx="898.0" cy="301.0" r="7.0" fill="#b3d6e8"/>
<circle cx="909.0" cy="376.0" r="7.0" fill="#b3d6e8"/>
<circle cx="265.0" cy="403.0" r="7.0" fill="#b3d6e8"/>
<circle cx="226.0" cy="426.0" r="7.0" fill="#b3d6e8"/>
<circle cx="346.0" cy="455.0" r="7.0" fill="#b3d6e8"/>
<circle cx="475.0" cy="389.0" r="7.0" fill="#b3d6e8"/>
<circle cx="409.0" cy="422.0" r="7.0" fill="#b3d6e8"/>
<circle cx="417.0" cy="430.0" r="7.0" fill="#b3d6e8"/>
<circle cx="453.0" cy="430.0" r="7.0" fill="#b3d6e8"/>
<circle cx="399.0" cy="487.0" r="7.0" fill="#b3d6e8"/>
<circle cx="419.0" cy="539.0" r="7.0" fill="#b3d6e8"/>
<circle cx="609.0" cy="406.0" r="7.0" fill="#b3d6e8"/>
<circle cx="638.0" cy="427.0" r="7.0" fill="#b3d6e8"/>
<circle cx="560.0" cy="432.0" r="7.0" fill="#b3d6e8"/>
<circle cx="550.0" cy="549.0" r="7.0" fill="#b3d6e8"/>
<circle cx="530.0" cy="577.0" r="7.0" fill="#b3d6e8"/>
<circle cx="676.0" cy="457.0" r="7.0" fill="#b3d6e8"/>
<circle cx="656.0" cy="483.0" r="7.0" fill="#b3d6e8"/>
<circle cx="650.0" cy="476.0" r="7.0" fill="#b3d6e8"/>
<circle cx="900.0" cy="422.0" r="7.0" fill="#b3d6e8"/>
<circle cx="990.0" cy="412.0" r="7.0" fill="#b3d6e8"/>
<circle cx="1011.0" cy="431.0" r="7.0" fill="#b3d6e8"/>
<circle cx="1044.0" cy="453.0" r="7.0" fill="#b3d6e8"/>
<circle cx="1060.0" cy="455.0" r="7.0" fill="#b3d6e8"/>
<circle cx="1081.0" cy="466.0" r="7.0" fill="#b3d6e8"/>
<circle cx="1043.0" cy="472.0" r="7.0" fill="#b3d6e8"/>
<circle cx="495.0" cy="688.0" r="7.0" fill="#b3d6e8"/>
<circle cx="835.0" cy="816.0" r="7.0" fill="#b3d6e8"/>
<circle cx="996.0" cy="839.0" r="7.0" fill="#b3d6e8"/>
<circle cx="916.0" cy="881.0" r="7.0" fill="#b3d6e8"/>
<circle cx="944.0" cy="881.0" r="7.0" fill="#b3d6e8"/>
<circle cx="956.0" cy="882.0" r="7.0" fill="#b3d6e8"/>
<circle cx="696.0" cy="954.0" r="7.0" fill="#b3d6e8"/>
<circle cx="558.0" cy="988.0" r="7.0" fill="#b3d6e8"/>
<circle cx="529.0" cy="1045.0" r="7.0" fill="#b3d6e8"/>
<circle cx="948.0" cy="900.0" r="7.0" fill="#b3d6e8"/>
<circle cx="784.0" cy="952.0" r="7.0" fill="#b3d6e8"/>
<circle cx="793.0" cy="951.0" r="7.0" fill="#b3d6e8"/>
<circle cx="392.0" cy="739.0" r="7.0" fill="#b3d6e8"/>
<circle cx="371.5" cy="743.0" r="7.0" fill="#b3d6e8"/>
<circle cx="398.0" cy="749.0" r="7.0" fill="#b3d6e8"/>
<circle cx="348.5" cy="757.0" r="7.0" fill="#b3d6e8"/>
<circle cx="346.0" cy="764.0" r="7.0" fill="#b3d6e8"/>
<circle cx="351.5" cy="764.5" r="7.0" fill="#b3d6e8"/>
<circle cx="402.0" cy="760.0" r="7.0" fill="#b3d6e8"/>
<circle cx="380.0" cy="791.0" r="7.0" fill="#b3d6e8"/>
<circle cx="335.0" cy="794.0" r="7.0" fill="#b3d6e8"/>
<circle cx="328.5" cy="804.5" r="7.0" fill="#b3d6e8"/>
<circle cx="376.0" cy="799.0" r="7.0" fill="#b3d6e8"/>
<circle cx="421.0" cy="803.0" r="7.0" fill="#b3d6e8"/>
<circle cx="371.0" cy="815.0" r="7.0" fill="#b3d6e8"/>
<circle cx="351.0" cy="808.0" r="7.0" fill="#b3d6e8"/>
<circle cx="346.0" cy="810.0" r="7.0" fill="#b3d6e8"/>
<circle cx="512.0" cy="709.0" r="7.0" fill="#b3d6e8"/>
<circle cx="469.0" cy="767.0" r="7.0" fill="#b3d6e8"/>
<circle cx="446.0" cy="811.0" r="7.0" fill="#b3d6e8"/>
<circle cx="419.5" cy="842.0" r="7.0" fill="#b3d6e8"/>
<circle cx="439.0" cy="848.0" r="7.0" fill="#b3d6e8"/>
<circle cx="539.5" cy="833.5" r="7.0" fill="#b3d6e8"/>
<circle cx="468.5" cy="858.5" r="7.0" fill="#b3d6e8"/>
<circle cx="569.0" cy="891.0" r="7.0" fill="#b3d6e8"/>
<circle cx="562.0" cy="928.0" r="7.0" fill="#b3d6e8"/>
<circle cx="551.0" cy="945.0" r="7.0" fill="#b3d6e8"/>
<circle cx="691.0" cy="698.0" r="7.0" fill="#b3d6e8"/>
<circle cx="681.5" cy="703.0" r="7.0" fill="#b3d6e8"/>
<circle cx="662.5" cy="708.5" r="7.0" fill="#b3d6e8"/>
<circle cx="681.5" cy="719.5" r="7.0" fill="#b3d6e8"/>
<circle cx="661.5" cy="741.0" r="7.0" fill="#b3d6e8"/>
<circle cx="694.0" cy="738.0" r="7.0" fill="#b3d6e8"/>
<circle cx="646.0" cy="746.0" r="7.0" fill="#b3d6e8"/>
<circle cx="666.5" cy="752.0" r="7.0" fill="#b3d6e8"/>
<circle cx="692.0" cy="750.0" r="7.0" fill="#b3d6e8"/>
<circle cx="688.0" cy="765.0" r="7.0" fill="#b3d6e8"/>
<circle cx="632.5" cy="781.5" r="7.0" fill="#b3d6e8"/>
<circle cx="638.0" cy="778.0" r="7.0" fill="#b3d6e8"/>
<circle cx="746.0" cy="703.5" r="7.0" fill="#b3d6e8"/>
<circle cx="731.0" cy="705.0" r="7.0" fill="#b3d6e8"/>
<circle cx="796.0" cy="701.0" r="7.0" fill="#b3d6e8"/>
<circle cx="789.5" cy="732.5" r="7.0" fill="#b3d6e8"/>
<circle cx="791.5" cy="780.5" r="7.0" fill="#b3d6e8"/>
<circle cx="800.0" cy="784.0" r="7.0" fill="#b3d6e8"/>
<circle cx="788.0" cy="796.0" r="7.0" fill="#b3d6e8"/>
<circle cx="780.0" cy="797.0" r="7.0" fill="#b3d6e8"/>
<circle cx="825.0" cy="807.0" r="7.0" fill="#b3d6e8"/>
<circle cx="760.5" cy="801.0" r="7.0" fill="#b3d6e8"/>
<circle cx="692.0" cy="844.0" r="7.0" fill="#b3d6e8"/>
<circle cx="662.0" cy="855.0" r="7.0" fill="#b3d6e8"/>
<circle cx="575.0" cy="888.0" r="7.0" fill="#b3d6e8"/>
<circle cx="582.0" cy="887.0" r="7.0" fill="#b3d6e8"/>
<circle cx="581.0" cy="899.0" r="7.0" fill="#b3d6e8"/>
<circle cx="634.0" cy="901.0" r="7.0" fill="#b3d6e8"/>
<circle cx="606.5" cy="916.0" r="7.0" fill="#b3d6e8"/>
<circle cx="575.0" cy="929.0" r="7.0" fill="#b3d6e8"/>
<circle cx="623.0" cy="940.0" r="7.0" fill="#b3d6e8"/>
<circle cx="692.0" cy="943.0" r="7.0" fill="#b3d6e8"/>
<circle cx="767.0" cy="852.0" r="7.0" fill="#b3d6e8"/>
<circle cx="776.0" cy="847.0" r="7.0" fill="#b3d6e8"/>
<circle cx="730.0" cy="867.0" r="7.0" fill="#b3d6e8"/>
<circle cx="753.0" cy="869.0" r="7.0" fill="#b3d6e8"/>
<circle cx="786.0" cy="936.0" r="7.0" fill="#b3d6e8"/>
<circle cx="600.5" cy="574.0" r="7.0" fill="#b3d6e8"/>
<circle cx="702.0" cy="671.0" r="7.0" fill="#b3d6e8"/>
<circle cx="880.0" cy="487.0" r="7.0" fill="#b3d6e8"/>
<circle cx="892.0" cy="507.0" r="7.0" fill="#b3d6e8"/>
<circle cx="862.0" cy="512.0" r="7.0" fill="#b3d6e8"/>
<circle cx="920.0" cy="529.0" r="7.0" fill="#b3d6e8"/>
<circle cx="754.0" cy="552.0" r="7.0" fill="#b3d6e8"/>
<circle cx="685.5" cy="1022.5" r="7.0" fill="#b3d7e8"/>
<circle cx="594.5" cy="1026.5" r="7.0" fill="#b3d7e8"/>
<circle cx="920.5" cy="861.5" r="7.0" fill="#b4d7e8"/>
<circle cx="907.0" cy="862.0" r="7.0" fill="#b4d7e8"/>
<circle cx="601.7" cy="801.5" r="7.0" fill="#b4d7e8"/>
<circle cx="488.5" cy="980.5" r="7.0" fill="#b4d7e8"/>
<circle cx="639.5" cy="530.5" r="7.0" fill="#b4d7e8"/>
<circle cx="421.5" cy="379.0" r="7.0" fill="#b4d7e8"/>
<circle cx="798.5" cy="275.0" r="7.0" fill="#b4d7e8"/>
<circle cx="656.5" cy="991.0" r="7.0" fill="#b4d7e8"/>
<circle cx="645.5" cy="1008.0" r="7.0" fill="#b4d7e8"/>
<circle cx="959.0" cy="858.0" r="7.0" fill="#b4d7e8"/>
<circle cx="661.5" cy="510.5" r="7.0" fill="#b4d7e8"/>
<circle cx="353.0" cy="445.0" r="7.0" fill="#b5d7e8"/>
<circle cx="410.5" cy="538.5" r="7.0" fill="#b5d7e8"/>
<circle cx="368.6" cy="422.5" r="7.0" fill="#b5d7e9"/>
<circle cx="432.0" cy="408.5" r="7.0" fill="#b5d8e9"/>
<circle cx="1000.8" cy="297.7" r="7.0" fill="#b5d8e9"/>
<circle cx="381.5" cy="426.0" r="7.0" fill="#b5d8e9"/>
<circle cx="280.0" cy="369.5" r="7.0" fill="#b5d8e9"/>
<circle cx="306.0" cy="338.0" r="7.0" fill="#b5d8e9"/>
<circle cx="822.0" cy="306.0" r="7.0" fill="#b6d8e9"/>
<circle cx="658.0" cy="1027.0" r="7.0" fill="#b6d8e9"/>
<circle cx="842.5" cy="828.0" r="7.0" fill="#b6d8e9"/>
<circle cx="695.0" cy="961.0" r="7.0" fill="#b6d8e9"/>
<circle cx="660.0" cy="973.0" r="7.0" fill="#b6d8e9"/>
<circle cx="687.0" cy="984.0" r="7.0" fill="#b6d8e9"/>
<circle cx="682.0" cy="1006.0" r="7.0" fill="#b6d8e9"/>
<circle cx="902.6" cy="518.6" r="7.0" fill="#b6d8e9"/>
<circle cx="287.0" cy="296.0" r="7.0" fill="#b6d8e9"/>
<circle cx="955.0" cy="824.0" r="7.0" fill="#b6d8e9"/>
<circle cx="823.0" cy="293.0" r="7.0" fill="#b7d8e9"/>
<circle cx="478.0" cy="354.0" r="7.0" fill="#b7d8e9"/>
<circle cx="942.5" cy="850.0" r="7.0" fill="#b7d9e9"/>
<circle cx="640.0" cy="966.0" r="7.0" fill="#b7d9e9"/>
<circle cx="479.0" cy="348.0" r="7.0" fill="#b7d9e9"/>
<circle cx="289.0" cy="355.0" r="7.0" fill="#b8d9e9"/>
<circle cx="678.0" cy="478.5" r="7.0" fill="#b8d9e9"/>
<circle cx="1014.0" cy="446.5" r="7.0" fill="#b8d9e9"/>
<circle cx="868.5" cy="833.5" r="7.0" fill="#b8d9e9"/>
<circle cx="963.5" cy="841.5" r="7.0" fill="#b8d9e9"/>
<circle cx="648.5" cy="1022.5" r="7.0" fill="#b8d9e9"/>
<circle cx="682.0" cy="221.0" r="7.0" fill="#b8d9e9"/>
<circle cx="510.0" cy="458.5" r="7.0" fill="#b8d9e9"/>
<circle cx="926.5" cy="860.0" r="7.0" fill="#b9d9ea"/>
<circle cx="276.5" cy="330.5" r="7.0" fill="#b9d9ea"/>
<circle cx="845.5" cy="837.0" r="7.0" fill="#b9daea"/>
<circle cx="305.5" cy="475.5" r="7.0" fill="#b9daea"/>
<circle cx="432.5" cy="424.5" r="7.0" fill="#b9daea"/>
<circle cx="295.5" cy="379.0" r="7.0" fill="#b9daea"/>
<circle cx="295.5" cy="489.0" r="7.0" fill="#b9daea"/>
<circle cx="269.0" cy="339.5" r="7.0" fill="#b9daea"/>
<circle cx="890.0" cy="841.0" r="7.0" fill="#b9daea"/>
<circle cx="934.0" cy="894.5" r="7.0" fill="#badaea"/>
<circle cx="865.5" cy="804.0" r="7.0" fill="#badaea"/>
<circle cx="516.0" cy="222.0" r="7.0" fill="#badaea"/>
<circle cx="434.5" cy="399.0" r="7.0" fill="#badaea"/>
<circle cx="508.0" cy="231.0" r="7.0" fill="#badaea"/>
<circle cx="958.0" cy="838.5" r="7.0" fill="#badaea"/>
<circle cx="486.0" cy="980.0" r="7.0" fill="#badaea"/>
<circle cx="1034.6" cy="315.5" r="7.0" fill="#badaea"/>
<circle cx="527.9" cy="912.4" r="7.0" fill="#badaea"/>
<circle cx="490.5" cy="988.0" r="7.0" fill="#bbdaea"/>
<circle cx="655.0" cy="981.0" r="7.0" fill="#bbdaea"/>
<circle cx="649.0" cy="984.0" r="7.0" fill="#bbdaea"/>
<circle cx="696.0" cy="989.0" r="7.0" fill="#bbdaea"/>
<circle cx="674.0" cy="1028.0" r="7.0" fill="#bbdaea"/>
<circle cx="690.0" cy="1035.0" r="7.0" fill="#bbdaea"/>
<circle cx="666.0" cy="1046.0" r="7.0" fill="#bbdaea"/>
<circle cx="682.0" cy="1047.0" r="7.0" fill="#bbdaea"/>
<circle cx="507.0" cy="985.0" r="7.0" fill="#bbdaea"/>
<circle cx="551.5" cy="370.0" r="7.0" fill="#bbdbea"/>
<circle cx="358.5" cy="473.5" r="7.0" fill="#bbdbea"/>
<circle cx="636.0" cy="1035.5" r="7.0" fill="#bbdbea"/>
<circle cx="580.0" cy="334.0" r="7.0" fill="#bcdbea"/>
<circle cx="544.0" cy="366.0" r="7.0" fill="#bcdbea"/>
<circle cx="622.0" cy="365.0" r="7.0" fill="#bcdbea"/>
<circle cx="671.0" cy="210.0" r="7.0" fill="#bcdbea"/>
<circle cx="771.0" cy="248.0" r="7.0" fill="#bcdbea"/>
<circle cx="791.0" cy="261.0" r="7.0" fill="#bcdbea"/>
<circle cx="816.0" cy="286.0" r="7.0" fill="#bcdbea"/>
<circle cx="694.0" cy="370.0" r="7.0" fill="#bcdbea"/>
<circle cx="707.0" cy="365.0" r="7.0" fill="#bcdbea"/>
<circle cx="702.0" cy="376.0" r="7.0" fill="#bcdbea"/>
<circle cx="1012.0" cy="262.0" r="7.0" fill="#bcdbea"/>
<circle cx="1030.0" cy="272.0" r="7.0" fill="#bcdbea"/>
<circle cx="906.0" cy="335.0" r="7.0" fill="#bcdbea"/>
<circle cx="439.0" cy="412.0" r="7.0" fill="#bcdbea"/>
<circle cx="650.0" cy="406.0" r="7.0" fill="#bcdbea"/>
<circle cx="1004.0" cy="434.0" r="7.0" fill="#bcdbea"/>
<circle cx="1026.0" cy="434.0" r="7.0" fill="#bcdbea"/>
<circle cx="951.0" cy="875.0" r="7.0" fill="#bcdbea"/>
<circle cx="792.0" cy="965.0" r="7.0" fill="#bcdbea"/>
<circle cx="375.0" cy="744.0" r="7.0" fill="#bcdbea"/>
<circle cx="381.5" cy="744.5" r="7.0" fill="#bcdbea"/>
<circle cx="386.0" cy="747.0" r="7.0" fill="#bcdbea"/>
<circle cx="378.5" cy="758.5" r="7.0" fill="#bcdbea"/>
<circle cx="390.0" cy="758.5" r="7.0" fill="#bcdbea"/>
<circle cx="369.5" cy="799.5" r="7.0" fill="#bcdbea"/>
<circle cx="384.0" cy="801.0" r="7.0" fill="#bcdbea"/>
<circle cx="399.0" cy="808.0" r="7.0" fill="#bcdbea"/>
<circle cx="474.0" cy="771.0" r="7.0" fill="#bcdbea"/>
<circle cx="551.5" cy="883.5" r="7.0" fill="#bcdbea"/>
<circle cx="566.5" cy="884.0" r="7.0" fill="#bcdbea"/>
<circle cx="552.5" cy="892.0" r="7.0" fill="#bcdbea"/>
<circle cx="544.0" cy="895.0" r="7.0" fill="#bcdbea"/>
<circle cx="624.5" cy="805.5" r="7.0" fill="#bcdbea"/>
<circle cx="619.0" cy="800.0" r="7.0" fill="#bcdbea"/>
<circle cx="614.0" cy="815.0" r="7.0" fill="#bcdbea"/>
<circle cx="742.5" cy="701.5" r="7.0" fill="#bcdbea"/>
<circle cx="593.5" cy="820.0" r="7.0" fill="#bcdbea"/>
<circle cx="617.5" cy="831.0" r="7.0" fill="#bcdbea"/>
<circle cx="592.5" cy="839.5" r="7.0" fill="#bcdbea"/>
<circle cx="670.5" cy="848.0" r="7.0" fill="#bcdbea"/>
<circle cx="607.5" cy="860.0" r="7.0" fill="#bcdbea"/>
<circle cx="674.0" cy="872.0" r="7.0" fill="#bcdbea"/>
<circle cx="590.0" cy="889.0" r="7.0" fill="#bcdbea"/>
<circle cx="590.0" cy="896.0" r="7.0" fill="#bcdbea"/>
<circle cx="761.5" cy="666.5" r="7.0" fill="#bcdbea"/>
<circle cx="462.0" cy="399.0" r="7.0" fill="#bcdbea"/>
<circle cx="283.0" cy="376.0" r="7.0" fill="#bcdbea"/>
<circle cx="811.5" cy="299.5" r="7.0" fill="#bcdbeb"/>
<circle cx="299.5" cy="482.0" r="7.0" fill="#bcdbeb"/>
<circle cx="575.5" cy="1048.0" r="7.0" fill="#bcdbeb"/>
<circle cx="549.5" cy="976.0" r="7.0" fill="#bcdbeb"/>
<circle cx="511.3" cy="912.7" r="7.0" fill="#bddbeb"/>
<circle cx="777.0" cy="965.0" r="7.0" fill="#bddceb"/>
<circle cx="1087.0" cy="512.5" r="7.0" fill="#bddceb"/>
<circle cx="684.5" cy="477.0" r="7.0" fill="#bddceb"/>
<circle cx="550.5" cy="1057.5" r="7.0" fill="#bddceb"/>
<circle cx="946.5" cy="832.0" r="7.0" fill="#bddceb"/>
<circle cx="302.5" cy="489.5" r="7.0" fill="#bddceb"/>
<circle cx="559.0" cy="1061.5" r="7.0" fill="#bddceb"/>
<circle cx="559.0" cy="1054.0" r="7.0" fill="#bddceb"/>
<circle cx="865.0" cy="844.5" r="7.0" fill="#bedceb"/>
<circle cx="976.4" cy="326.0" r="7.0" fill="#bedceb"/>
<circle cx="428.5" cy="389.0" r="7.0" fill="#bedceb"/>
<circle cx="929.0" cy="899.0" r="7.0" fill="#bedceb"/>
<circle cx="487.0" cy="218.0" r="7.0" fill="#bedceb"/>
<circle cx="909.5" cy="775.0" r="7.0" fill="#bedceb"/>
<circle cx="479.5" cy="361.0" r="7.0" fill="#bedceb"/>
<circle cx="276.0" cy="352.0" r="7.0" fill="#bedceb"/>
<circle cx="622.0" cy="1051.5" r="7.0" fill="#bfdceb"/>
<circle cx="423.5" cy="399.5" r="7.0" fill="#bfdceb"/>
<circle cx="853.5" cy="822.5" r="7.0" fill="#bfdceb"/>
<circle cx="936.5" cy="911.0" r="7.0" fill="#bfddeb"/>
<circle cx="372.0" cy="555.0" r="7.0" fill="#bfddec"/>
<circle cx="820.0" cy="963.0" r="7.0" fill="#bfddec"/>
<circle cx="544.5" cy="978.5" r="7.0" fill="#c0ddec"/>
<circle cx="851.0" cy="336.0" r="7.0" fill="#c0ddec"/>
<circle cx="1007.0" cy="267.0" r="7.0" fill="#c0ddec"/>
<circle cx="1043.0" cy="276.0" r="7.0" fill="#c0ddec"/>
<circle cx="966.0" cy="300.0" r="7.0" fill="#c0ddec"/>
<circle cx="1022.0" cy="282.0" r="7.0" fill="#c0ddec"/>
<circle cx="897.0" cy="367.0" r="7.0" fill="#c0ddec"/>
<circle cx="782.0" cy="426.0" r="7.0" fill="#c0ddec"/>
<circle cx="855.0" cy="401.0" r="7.0" fill="#c0ddec"/>
<circle cx="1076.0" cy="464.0" r="7.0" fill="#c0ddec"/>
<circle cx="837.0" cy="707.0" r="7.0" fill="#c0ddec"/>
<circle cx="915.0" cy="754.0" r="7.0" fill="#c0ddec"/>
<circle cx="685.0" cy="952.0" r="7.0" fill="#c0ddec"/>
<circle cx="806.0" cy="957.0" r="7.0" fill="#c0ddec"/>
<circle cx="816.0" cy="956.0" r="7.0" fill="#c0ddec"/>
<circle cx="381.5" cy="731.5" r="7.0" fill="#c0ddec"/>
<circle cx="376.5" cy="748.5" r="7.0" fill="#c0ddec"/>
<circle cx="394.5" cy="774.5" r="7.0" fill="#c0ddec"/>
<circle cx="341.0" cy="790.5" r="7.0" fill="#c0ddec"/>
<circle cx="388.5" cy="799.5" r="7.0" fill="#c0ddec"/>
<circle cx="344.5" cy="813.5" r="7.0" fill="#c0ddec"/>
<circle cx="520.0" cy="888.0" r="7.0" fill="#c0ddec"/>
<circle cx="530.5" cy="884.5" r="7.0" fill="#c0ddec"/>
<circle cx="535.5" cy="890.0" r="7.0" fill="#c0ddec"/>
<circle cx="661.5" cy="744.5" r="7.0" fill="#c0ddec"/>
<circle cx="687.0" cy="756.0" r="7.0" fill="#c0ddec"/>
<circle cx="667.0" cy="768.0" r="7.0" fill="#c0ddec"/>
<circle cx="756.5" cy="701.0" r="7.0" fill="#c0ddec"/>
<circle cx="815.0" cy="709.0" r="7.0" fill="#c0ddec"/>
<circle cx="781.5" cy="724.5" r="7.0" fill="#c0ddec"/>
<circle cx="742.5" cy="762.0" r="7.0" fill="#c0ddec"/>
<circle cx="734.0" cy="760.0" r="7.0" fill="#c0ddec"/>
<circle cx="761.5" cy="763.0" r="7.0" fill="#c0ddec"/>
<circle cx="752.0" cy="800.0" r="7.0" fill="#c0ddec"/>
<circle cx="605.0" cy="932.0" r="7.0" fill="#c0ddec"/>
<circle cx="753.0" cy="878.0" r="7.0" fill="#c0ddec"/>
<circle cx="739.0" cy="898.0" r="7.0" fill="#c0ddec"/>
<circle cx="698.0" cy="667.0" r="7.0" fill="#c0ddec"/>
<circle cx="704.0" cy="643.0" r="7.0" fill="#c0ddec"/>
<circle cx="712.0" cy="641.0" r="7.0" fill="#c0ddec"/>
<circle cx="700.0" cy="649.0" r="7.0" fill="#c0ddec"/>
<circle cx="737.5" cy="662.5" r="7.0" fill="#c0ddec"/>
<circle cx="917.0" cy="543.5" r="7.0" fill="#c0ddec"/>
<circle cx="772.0" cy="467.0" r="7.0" fill="#c0ddec"/>
<circle cx="736.0" cy="488.0" r="7.0" fill="#c0ddec"/>
<circle cx="750.0" cy="498.0" r="7.0" fill="#c0ddec"/>
<circle cx="743.0" cy="508.0" r="7.0" fill="#c0ddec"/>
<circle cx="747.0" cy="509.0" r="7.0" fill="#c0ddec"/>
<circle cx="739.0" cy="519.0" r="7.0" fill="#c0ddec"/>
<circle cx="787.0" cy="523.0" r="7.0" fill="#c0ddec"/>
<circle cx="747.0" cy="532.5" r="7.0" fill="#c0ddec"/>
<circle cx="780.0" cy="533.0" r="7.0" fill="#c0ddec"/>
<circle cx="752.0" cy="540.0" r="7.0" fill="#c0ddec"/>
<circle cx="335.0" cy="340.0" r="7.0" fill="#c0ddec"/>
<circle cx="362.5" cy="568.0" r="7.0" fill="#c0ddec"/>
<circle cx="555.5" cy="281.5" r="7.0" fill="#c0ddec"/>
<circle cx="522.0" cy="964.0" r="7.0" fill="#c0ddec"/>
<circle cx="969.2" cy="812.3" r="7.0" fill="#c0ddec"/>
<circle cx="368.5" cy="555.5" r="7.0" fill="#c1deec"/>
<circle cx="667.5" cy="1067.0" r="7.0" fill="#c1deec"/>
<circle cx="552.5" cy="567.5" r="7.0" fill="#c1deec"/>
<circle cx="388.0" cy="428.0" r="7.0" fill="#c2deec"/>
<circle cx="251.0" cy="407.5" r="7.0" fill="#c2deec"/>
<circle cx="502.0" cy="984.5" r="7.0" fill="#c2deec"/>
<circle cx="521.0" cy="1011.5" r="7.0" fill="#c2deec"/>
<circle cx="739.5" cy="260.5" r="7.0" fill="#c2deec"/>
<circle cx="1006.2" cy="473.8" r="7.0" fill="#c2deec"/>
<circle cx="383.5" cy="552.5" r="7.0" fill="#c2deec"/>
<circle cx="574.0" cy="1034.0" r="7.0" fill="#c2deec"/>
<circle cx="540.0" cy="1025.0" r="7.0" fill="#c2deec"/>
<circle cx="538.0" cy="1030.5" r="7.0" fill="#c2deec"/>
<circle cx="868.0" cy="812.5" r="7.0" fill="#c3deec"/>
<circle cx="776.5" cy="264.5" r="7.0" fill="#c3dfed"/>
<circle cx="623.0" cy="430.5" r="7.0" fill="#c3dfed"/>
<circle cx="608.0" cy="313.5" r="7.0" fill="#c3dfed"/>
<circle cx="396.5" cy="417.5" r="7.0" fill="#c3dfed"/>
<circle cx="648.0" cy="974.0" r="7.0" fill="#c3dfed"/>
<circle cx="661.0" cy="987.0" r="7.0" fill="#c3dfed"/>
<circle cx="672.0" cy="990.0" r="7.0" fill="#c3dfed"/>
<circle cx="664.0" cy="995.0" r="7.0" fill="#c3dfed"/>
<circle cx="703.0" cy="995.0" r="7.0" fill="#c3dfed"/>
<circle cx="676.0" cy="1001.0" r="7.0" fill="#c3dfed"/>
<circle cx="656.0" cy="1002.0" r="7.0" fill="#c3dfed"/>
<circle cx="666.0" cy="1012.0" r="7.0" fill="#c3dfed"/>
<circle cx="690.0" cy="1011.0" r="7.0" fill="#c3dfed"/>
<circle cx="738.0" cy="1017.0" r="7.0" fill="#c3dfed"/>
<circle cx="644.0" cy="1028.0" r="7.0" fill="#c3dfed"/>
<circle cx="662.0" cy="1020.0" r="7.0" fill="#c3dfed"/>
<circle cx="715.0" cy="1035.0" r="7.0" fill="#c3dfed"/>
<circle cx="747.0" cy="1023.0" r="7.0" fill="#c3dfed"/>
<circle cx="650.0" cy="1036.0" r="7.0" fill="#c3dfed"/>
<circle cx="681.0" cy="1021.0" r="7.0" fill="#c3dfed"/>
<circle cx="702.0" cy="1038.0" r="7.0" fill="#c3dfed"/>
<circle cx="649.0" cy="1048.0" r="7.0" fill="#c3dfed"/>
<circle cx="656.0" cy="1042.0" r="7.0" fill="#c3dfed"/>
<circle cx="710.0" cy="1056.0" r="7.0" fill="#c3dfed"/>
<circle cx="672.0" cy="1050.0" r="7.0" fill="#c3dfed"/>
<circle cx="694.0" cy="1046.0" r="7.0" fill="#c3dfed"/>
<circle cx="700.0" cy="1052.0" r="7.0" fill="#c3dfed"/>
<circle cx="709.0" cy="1047.0" r="7.0" fill="#c3dfed"/>
<circle cx="670.0" cy="1061.0" r="7.0" fill="#c3dfed"/>
<circle cx="693.0" cy="1063.0" r="7.0" fill="#c3dfed"/>
<circle cx="704.0" cy="1064.0" r="7.0" fill="#c3dfed"/>
<circle cx="708.0" cy="1072.0" r="7.0" fill="#c3dfed"/>
<circle cx="780.0" cy="968.0" r="7.0" fill="#c3dfed"/>
<circle cx="859.0" cy="816.5" r="7.0" fill="#c4dfed"/>
<circle cx="743.9" cy="775.5" r="7.0" fill="#c4dfed"/>
<circle cx="780.0" cy="298.0" r="7.0" fill="#c4dfed"/>
<circle cx="537.2" cy="932.3" r="7.0" fill="#c4dfed"/>
<circle cx="1036.0" cy="296.9" r="7.0" fill="#c4dfed"/>
<circle cx="903.5" cy="882.5" r="7.0" fill="#c4dfed"/>
<circle cx="587.1" cy="406.0" r="7.0" fill="#c4dfed"/>
<circle cx="531.0" cy="969.5" r="7.0" fill="#c4dfed"/>
<circle cx="965.0" cy="837.5" r="7.0" fill="#c4dfed"/>
<circle cx="917.0" cy="851.0" r="7.0" fill="#c4dfed"/>
<circle cx="273.0" cy="344.0" r="7.0" fill="#c4dfed"/>
<circle cx="652.5" cy="1068.5" r="7.0" fill="#c4dfed"/>
<circle cx="570.0" cy="874.5" r="7.0" fill="#c4dfed"/>
<circle cx="830.5" cy="954.0" r="7.0" fill="#c4dfed"/>
<circle cx="308.5" cy="898.5" r="7.0" fill="#c4dfed"/>
<circle cx="757.5" cy="313.0" r="7.0" fill="#c5e0ed"/>
<circle cx="864.5" cy="801.5" r="7.0" fill="#c5e0ed"/>
<circle cx="532.5" cy="971.5" r="7.0" fill="#c5e0ed"/>
<circle cx="618.0" cy="1024.5" r="7.0" fill="#c5e0ed"/>
<circle cx="554.5" cy="1000.0" r="7.0" fill="#c6e0ed"/>
<circle cx="554.5" cy="1034.0" r="7.0" fill="#c6e0ed"/>
<circle cx="400.0" cy="457.5" r="7.0" fill="#c6e0ed"/>
<circle cx="535.0" cy="311.0" r="7.0" fill="#c6e0ed"/>
<circle cx="876.5" cy="822.5" r="7.0" fill="#c6e0ed"/>
<circle cx="556.0" cy="320.0" r="7.0" fill="#c6e0ed"/>
<circle cx="633.5" cy="1070.5" r="7.0" fill="#c6e0ed"/>
<circle cx="401.5" cy="274.0" r="7.0" fill="#c6e0ed"/>
<circle cx="905.0" cy="813.5" r="7.0" fill="#c6e0ed"/>
<circle cx="541.0" cy="559.5" r="7.0" fill="#c6e0ed"/>
<circle cx="870.0" cy="803.5" r="7.0" fill="#c6e0ed"/>
<circle cx="790.8" cy="456.2" r="7.0" fill="#c6e0ed"/>
<circle cx="983.5" cy="831.5" r="7.0" fill="#c6e0ed"/>
<circle cx="917.8" cy="432.7" r="7.0" fill="#c6e0ed"/>
<circle cx="634.0" cy="234.0" r="7.0" fill="#c6e0ed"/>
<circle cx="661.5" cy="1075.5" r="7.0" fill="#c6e0ed"/>
<circle cx="569.0" cy="1043.5" r="7.0" fill="#c7e0ee"/>
<circle cx="686.5" cy="306.5" r="7.0" fill="#c7e1ee"/>
<circle cx="754.0" cy="784.3" r="7.0" fill="#c7e1ee"/>
<circle cx="525.5" cy="977.0" r="7.0" fill="#c7e1ee"/>
<circle cx="933.5" cy="903.5" r="7.0" fill="#c7e1ee"/>
<circle cx="294.5" cy="370.5" r="7.0" fill="#c7e1ee"/>
<circle cx="509.5" cy="216.0" r="7.0" fill="#c7e1ee"/>
<circle cx="633.5" cy="490.0" r="7.0" fill="#c8e1ee"/>
<circle cx="431.0" cy="395.0" r="7.0" fill="#c8e1ee"/>
<circle cx="273.5" cy="349.5" r="7.0" fill="#c8e1ee"/>
<circle cx="723.5" cy="227.5" r="7.0" fill="#c8e1ee"/>
<circle cx="504.5" cy="239.5" r="7.0" fill="#c8e1ee"/>
<circle cx="376.5" cy="416.0" r="7.0" fill="#c8e1ee"/>
<circle cx="608.0" cy="1027.0" r="7.0" fill="#c8e1ee"/>
<circle cx="298.0" cy="350.0" r="7.0" fill="#c8e1ee"/>
<circle cx="489.0" cy="975.5" r="7.0" fill="#c8e1ee"/>
<circle cx="691.0" cy="235.0" r="7.0" fill="#c8e1ee"/>
<circle cx="551.0" cy="959.5" r="7.0" fill="#c9e1ee"/>
<circle cx="292.0" cy="292.0" r="7.0" fill="#c9e2ee"/>
<circle cx="304.0" cy="326.0" r="7.0" fill="#c9e2ee"/>
<circle cx="281.0" cy="344.0" r="7.0" fill="#c9e2ee"/>
<circle cx="290.0" cy="344.0" r="7.0" fill="#c9e2ee"/>
<circle cx="300.0" cy="348.0" r="7.0" fill="#c9e2ee"/>
<circle cx="288.0" cy="336.0" r="7.0" fill="#c9e2ee"/>
<circle cx="338.0" cy="352.0" r="7.0" fill="#c9e2ee"/>
<circle cx="288.0" cy="372.0" r="7.0" fill="#c9e2ee"/>
<circle cx="280.0" cy="376.0" r="7.0" fill="#c9e2ee"/>
<circle cx="634.0" cy="211.0" r="7.0" fill="#c9e2ee"/>
<circle cx="502.0" cy="236.0" r="7.0" fill="#c9e2ee"/>
<circle cx="562.0" cy="238.0" r="7.0" fill="#c9e2ee"/>
<circle cx="392.0" cy="265.0" r="7.0" fill="#c9e2ee"/>
<circle cx="408.0" cy="284.0" r="7.0" fill="#c9e2ee"/>
<circle cx="526.0" cy="282.0" r="7.0" fill="#c9e2ee"/>
<circle cx="536.0" cy="304.0" r="7.0" fill="#c9e2ee"/>
<circle cx="470.0" cy="344.0" r="7.0" fill="#c9e2ee"/>
<circle cx="468.0" cy="356.0" r="7.0" fill="#c9e2ee"/>
<circle cx="650.0" cy="222.0" r="7.0" fill="#c9e2ee"/>
<circle cx="679.0" cy="232.0" r="7.0" fill="#c9e2ee"/>
<circle cx="736.0" cy="240.0" r="7.0" fill="#c9e2ee"/>
<circle cx="749.0" cy="241.0" r="7.0" fill="#c9e2ee"/>
<circle cx="743.0" cy="260.0" r="7.0" fill="#c9e2ee"/>
<circle cx="785.0" cy="265.0" r="7.0" fill="#c9e2ee"/>
<circle cx="750.0" cy="307.0" r="7.0" fill="#c9e2ee"/>
<circle cx="810.0" cy="279.0" r="7.0" fill="#c9e2ee"/>
<circle cx="820.0" cy="298.0" r="7.0" fill="#c9e2ee"/>
<circle cx="864.0" cy="352.0" r="7.0" fill="#c9e2ee"/>
<circle cx="892.0" cy="368.0" r="7.0" fill="#c9e2ee"/>
<circle cx="683.0" cy="334.0" r="7.0" fill="#c9e2ee"/>
<circle cx="675.0" cy="364.0" r="7.0" fill="#c9e2ee"/>
<circle cx="678.0" cy="369.0" r="7.0" fill="#c9e2ee"/>
<circle cx="688.0" cy="383.0" r="7.0" fill="#c9e2ee"/>
<circle cx="740.0" cy="378.0" r="7.0" fill="#c9e2ee"/>
<circle cx="1020.0" cy="274.0" r="7.0" fill="#c9e2ee"/>
<circle cx="936.0" cy="300.0" r="7.0" fill="#c9e2ee"/>
<circle cx="934.0" cy="308.0" r="7.0" fill="#c9e2ee"/>
<circle cx="958.0" cy="301.0" r="7.0" fill="#c9e2ee"/>
<circle cx="968.0" cy="304.0" r="7.0" fill="#c9e2ee"/>
<circle cx="981.0" cy="297.0" r="7.0" fill="#c9e2ee"/>
<circle cx="994.0" cy="292.0" r="7.0" fill="#c9e2ee"/>
<circle cx="993.0" cy="303.0" r="7.0" fill="#c9e2ee"/>
<circle cx="1016.0" cy="291.0" r="7.0" fill="#c9e2ee"/>
<circle cx="975.0" cy="307.0" r="7.0" fill="#c9e2ee"/>
<circle cx="1058.0" cy="305.0" r="7.0" fill="#c9e2ee"/>
<circle cx="1006.0" cy="327.0" r="7.0" fill="#c9e2ee"/>
<circle cx="984.0" cy="320.0" r="7.0" fill="#c9e2ee"/>
<circle cx="1032.0" cy="343.0" r="7.0" fill="#c9e2ee"/>
<circle cx="263.0" cy="411.0" r="7.0" fill="#c9e2ee"/>
<circle cx="222.0" cy="464.0" r="7.0" fill="#c9e2ee"/>
<circle cx="274.0" cy="389.0" r="7.0" fill="#c9e2ee"/>
<circle cx="280.0" cy="386.0" r="7.0" fill="#c9e2ee"/>
<circle cx="288.0" cy="387.0" r="7.0" fill="#c9e2ee"/>
<circle cx="380.0" cy="420.0" r="7.0" fill="#c9e2ee"/>
<circle cx="366.0" cy="475.0" r="7.0" fill="#c9e2ee"/>
<circle cx="370.0" cy="478.0" r="7.0" fill="#c9e2ee"/>
<circle cx="304.0" cy="481.0" r="7.0" fill="#c9e2ee"/>
<circle cx="361.0" cy="560.0" r="7.0" fill="#c9e2ee"/>
<circle cx="386.0" cy="386.0" r="7.0" fill="#c9e2ee"/>
<circle cx="420.0" cy="387.0" r="7.0" fill="#c9e2ee"/>
<circle cx="432.0" cy="397.0" r="7.0" fill="#c9e2ee"/>
<circle cx="483.0" cy="401.0" r="7.0" fill="#c9e2ee"/>
<circle cx="531.0" cy="387.0" r="7.0" fill="#c9e2ee"/>
<circle cx="403.0" cy="418.0" r="7.0" fill="#c9e2ee"/>
<circle cx="426.0" cy="424.0" r="7.0" fill="#c9e2ee"/>
<circle cx="439.0" cy="422.0" r="7.0" fill="#c9e2ee"/>
<circle cx="464.0" cy="418.0" r="7.0" fill="#c9e2ee"/>
<circle cx="396.0" cy="433.0" r="7.0" fill="#c9e2ee"/>
<circle cx="452.0" cy="436.0" r="7.0" fill="#c9e2ee"/>
<circle cx="410.0" cy="458.0" r="7.0" fill="#c9e2ee"/>
<circle cx="411.0" cy="463.0" r="7.0" fill="#c9e2ee"/>
<circle cx="422.0" cy="557.0" r="7.0" fill="#c9e2ee"/>
<circle cx="634.0" cy="387.0" r="7.0" fill="#c9e2ee"/>
<circle cx="632.0" cy="422.0" r="7.0" fill="#c9e2ee"/>
<circle cx="554.0" cy="426.0" r="7.0" fill="#c9e2ee"/>
<circle cx="536.0" cy="438.0" r="7.0" fill="#c9e2ee"/>
<circle cx="635.0" cy="500.0" r="7.0" fill="#c9e2ee"/>
<circle cx="508.0" cy="520.0" r="7.0" fill="#c9e2ee"/>
<circle cx="710.0" cy="392.0" r="7.0" fill="#c9e2ee"/>
<circle cx="783.0" cy="418.0" r="7.0" fill="#c9e2ee"/>
<circle cx="753.0" cy="432.0" r="7.0" fill="#c9e2ee"/>
<circle cx="894.0" cy="420.0" r="7.0" fill="#c9e2ee"/>
<circle cx="894.0" cy="412.0" r="7.0" fill="#c9e2ee"/>
<circle cx="674.0" cy="485.0" r="7.0" fill="#c9e2ee"/>
<circle cx="642.0" cy="468.0" r="7.0" fill="#c9e2ee"/>
<circle cx="644.0" cy="492.0" r="7.0" fill="#c9e2ee"/>
<circle cx="649.0" cy="508.0" r="7.0" fill="#c9e2ee"/>
<circle cx="644.0" cy="524.0" r="7.0" fill="#c9e2ee"/>
<circle cx="932.0" cy="394.0" r="7.0" fill="#c9e2ee"/>
<circle cx="938.0" cy="400.0" r="7.0" fill="#c9e2ee"/>
<circle cx="1015.0" cy="438.0" r="7.0" fill="#c9e2ee"/>
<circle cx="1082.0" cy="514.0" r="7.0" fill="#c9e2ee"/>
<circle cx="298.0" cy="897.0" r="7.0" fill="#c9e2ee"/>
<circle cx="852.0" cy="713.0" r="7.0" fill="#c9e2ee"/>
<circle cx="831.0" cy="750.0" r="7.0" fill="#c9e2ee"/>
<circle cx="873.0" cy="812.0" r="7.0" fill="#c9e2ee"/>
<circle cx="850.0" cy="828.0" r="7.0" fill="#c9e2ee"/>
<circle cx="872.0" cy="834.0" r="7.0" fill="#c9e2ee"/>
<circle cx="958.0" cy="832.0" r="7.0" fill="#c9e2ee"/>
<circle cx="956.0" cy="848.0" r="7.0" fill="#c9e2ee"/>
<circle cx="950.0" cy="857.0" r="7.0" fill="#c9e2ee"/>
<circle cx="960.0" cy="864.0" r="7.0" fill="#c9e2ee"/>
<circle cx="918.0" cy="864.0" r="7.0" fill="#c9e2ee"/>
<circle cx="925.0" cy="869.0" r="7.0" fill="#c9e2ee"/>
<circle cx="934.0" cy="872.0" r="7.0" fill="#c9e2ee"/>
<circle cx="932.0" cy="885.0" r="7.0" fill="#c9e2ee"/>
<circle cx="941.0" cy="889.0" r="7.0" fill="#c9e2ee"/>
<circle cx="955.0" cy="888.0" r="7.0" fill="#c9e2ee"/>
<circle cx="497.0" cy="978.0" r="7.0" fill="#c9e2ee"/>
<circle cx="542.0" cy="966.0" r="7.0" fill="#c9e2ee"/>
<circle cx="550.0" cy="969.0" r="7.0" fill="#c9e2ee"/>
<circle cx="546.0" cy="994.0" r="7.0" fill="#c9e2ee"/>
<circle cx="526.0" cy="1024.0" r="7.0" fill="#c9e2ee"/>
<circle cx="516.0" cy="1022.0" r="7.0" fill="#c9e2ee"/>
<circle cx="588.0" cy="1034.0" r="7.0" fill="#c9e2ee"/>
<circle cx="563.0" cy="1049.0" r="7.0" fill="#c9e2ee"/>
<circle cx="546.0" cy="1053.0" r="7.0" fill="#c9e2ee"/>
<circle cx="564.0" cy="1062.0" r="7.0" fill="#c9e2ee"/>
<circle cx="940.0" cy="898.0" r="7.0" fill="#c9e2ee"/>
<circle cx="822.0" cy="950.0" r="7.0" fill="#c9e2ee"/>
<circle cx="829.0" cy="958.0" r="7.0" fill="#c9e2ee"/>
<circle cx="354.0" cy="789.0" r="7.0" fill="#c9e2ee"/>
<circle cx="508.0" cy="692.0" r="7.0" fill="#c9e2ee"/>
<circle cx="444.0" cy="720.0" r="7.0" fill="#c9e2ee"/>
<circle cx="459.0" cy="728.0" r="7.0" fill="#c9e2ee"/>
<circle cx="450.0" cy="732.0" r="7.0" fill="#c9e2ee"/>
<circle cx="476.0" cy="765.0" r="7.0" fill="#c9e2ee"/>
<circle cx="570.0" cy="777.0" r="7.0" fill="#c9e2ee"/>
<circle cx="398.0" cy="855.0" r="7.0" fill="#c9e2ee"/>
<circle cx="402.0" cy="858.0" r="7.0" fill="#c9e2ee"/>
<circle cx="490.5" cy="899.0" r="7.0" fill="#c9e2ee"/>
<circle cx="527.5" cy="896.5" r="7.0" fill="#c9e2ee"/>
<circle cx="523.0" cy="896.0" r="7.0" fill="#c9e2ee"/>
<circle cx="553.0" cy="901.0" r="7.0" fill="#c9e2ee"/>
<circle cx="536.0" cy="914.0" r="7.0" fill="#c9e2ee"/>
<circle cx="494.0" cy="911.0" r="7.0" fill="#c9e2ee"/>
<circle cx="474.0" cy="931.0" r="7.0" fill="#c9e2ee"/>
<circle cx="552.0" cy="938.0" r="7.0" fill="#c9e2ee"/>
<circle cx="611.5" cy="704.5" r="7.0" fill="#c9e2ee"/>
<circle cx="633.5" cy="723.5" r="7.0" fill="#c9e2ee"/>
<circle cx="575.0" cy="754.0" r="7.0" fill="#c9e2ee"/>
<circle cx="593.0" cy="770.0" r="7.0" fill="#c9e2ee"/>
<circle cx="617.5" cy="779.0" r="7.0" fill="#c9e2ee"/>
<circle cx="672.0" cy="777.0" r="7.0" fill="#c9e2ee"/>
<circle cx="672.0" cy="785.0" r="7.0" fill="#c9e2ee"/>
<circle cx="611.0" cy="789.0" r="7.0" fill="#c9e2ee"/>
<circle cx="674.0" cy="797.0" r="7.0" fill="#c9e2ee"/>
<circle cx="589.5" cy="807.0" r="7.0" fill="#c9e2ee"/>
<circle cx="610.0" cy="805.0" r="7.0" fill="#c9e2ee"/>
<circle cx="613.5" cy="797.5" r="7.0" fill="#c9e2ee"/>
<circle cx="779.0" cy="699.0" r="7.0" fill="#c9e2ee"/>
<circle cx="794.0" cy="712.0" r="7.0" fill="#c9e2ee"/>
<circle cx="738.5" cy="750.0" r="7.0" fill="#c9e2ee"/>
<circle cx="780.5" cy="775.5" r="7.0" fill="#c9e2ee"/>
<circle cx="800.5" cy="796.0" r="7.0" fill="#c9e2ee"/>
<circle cx="808.5" cy="803.0" r="7.0" fill="#c9e2ee"/>
<circle cx="785.5" cy="808.0" r="7.0" fill="#c9e2ee"/>
<circle cx="754.0" cy="811.0" r="7.0" fill="#c9e2ee"/>
<circle cx="827.0" cy="816.0" r="7.0" fill="#c9e2ee"/>
<circle cx="728.0" cy="896.0" r="7.0" fill="#c9e2ee"/>
<circle cx="741.5" cy="899.5" r="7.0" fill="#c9e2ee"/>
<circle cx="754.0" cy="895.0" r="7.0" fill="#c9e2ee"/>
<circle cx="734.5" cy="913.5" r="7.0" fill="#c9e2ee"/>
<circle cx="827.0" cy="922.0" r="7.0" fill="#c9e2ee"/>
<circle cx="610.0" cy="564.0" r="7.0" fill="#c9e2ee"/>
<circle cx="693.5" cy="581.0" r="7.0" fill="#c9e2ee"/>
<circle cx="690.0" cy="650.0" r="7.0" fill="#c9e2ee"/>
<circle cx="696.0" cy="649.5" r="7.0" fill="#c9e2ee"/>
<circle cx="680.5" cy="657.0" r="7.0" fill="#c9e2ee"/>
<circle cx="691.0" cy="658.0" r="7.0" fill="#c9e2ee"/>
<circle cx="671.5" cy="682.0" r="7.0" fill="#c9e2ee"/>
<circle cx="729.0" cy="622.5" r="7.0" fill="#c9e2ee"/>
<circle cx="761.5" cy="624.5" r="7.0" fill="#c9e2ee"/>
<circle cx="778.5" cy="626.0" r="7.0" fill="#c9e2ee"/>
<circle cx="774.5" cy="635.5" r="7.0" fill="#c9e2ee"/>
<circle cx="754.5" cy="631.5" r="7.0" fill="#c9e2ee"/>
<circle cx="744.0" cy="632.5" r="7.0" fill="#c9e2ee"/>
<circle cx="735.0" cy="632.0" r="7.0" fill="#c9e2ee"/>
<circle cx="718.0" cy="632.0" r="7.0" fill="#c9e2ee"/>
<circle cx="726.0" cy="634.0" r="7.0" fill="#c9e2ee"/>
<circle cx="729.0" cy="638.0" r="7.0" fill="#c9e2ee"/>
<circle cx="734.5" cy="645.5" r="7.0" fill="#c9e2ee"/>
<circle cx="750.5" cy="644.5" r="7.0" fill="#c9e2ee"/>
<circle cx="710.0" cy="649.0" r="7.0" fill="#c9e2ee"/>
<circle cx="775.0" cy="671.0" r="7.0" fill="#c9e2ee"/>
<circle cx="790.0" cy="670.0" r="7.0" fill="#c9e2ee"/>
<circle cx="773.0" cy="678.0" r="7.0" fill="#c9e2ee"/>
<circle cx="727.5" cy="677.0" r="7.0" fill="#c9e2ee"/>
<circle cx="862.0" cy="502.0" r="7.0" fill="#c9e2ee"/>
<circle cx="916.0" cy="519.0" r="7.0" fill="#c9e2ee"/>
<circle cx="910.0" cy="524.0" r="7.0" fill="#c9e2ee"/>
<circle cx="874.0" cy="529.5" r="7.0" fill="#c9e2ee"/>
<circle cx="904.0" cy="527.0" r="7.0" fill="#c9e2ee"/>
<circle cx="913.0" cy="534.0" r="7.0" fill="#c9e2ee"/>
<circle cx="907.5" cy="541.0" r="7.0" fill="#c9e2ee"/>
<circle cx="705.0" cy="455.5" r="7.0" fill="#c9e2ee"/>
<circle cx="711.5" cy="469.0" r="7.0" fill="#c9e2ee"/>
<circle cx="721.0" cy="467.0" r="7.0" fill="#c9e2ee"/>
<circle cx="731.5" cy="463.5" r="7.0" fill="#c9e2ee"/>
<circle cx="738.5" cy="465.0" r="7.0" fill="#c9e2ee"/>
<circle cx="773.5" cy="452.0" r="7.0" fill="#c9e2ee"/>
<circle cx="757.0" cy="458.0" r="7.0" fill="#c9e2ee"/>
<circle cx="754.5" cy="463.5" r="7.0" fill="#c9e2ee"/>
<circle cx="797.0" cy="486.0" r="7.0" fill="#c9e2ee"/>
<circle cx="753.0" cy="488.0" r="7.0" fill="#c9e2ee"/>
<circle cx="745.0" cy="495.0" r="7.0" fill="#c9e2ee"/>
<circle cx="763.0" cy="498.0" r="7.0" fill="#c9e2ee"/>
<circle cx="770.0" cy="494.0" r="7.0" fill="#c9e2ee"/>
<circle cx="749.0" cy="511.0" r="7.0" fill="#c9e2ee"/>
<circle cx="747.0" cy="519.0" r="7.0" fill="#c9e2ee"/>
<circle cx="783.0" cy="520.0" r="7.0" fill="#c9e2ee"/>
<circle cx="779.0" cy="526.0" r="7.0" fill="#c9e2ee"/>
<circle cx="755.5" cy="535.0" r="7.0" fill="#c9e2ee"/>
<circle cx="766.5" cy="527.0" r="7.0" fill="#c9e2ee"/>
<circle cx="762.0" cy="530.0" r="7.0" fill="#c9e2ee"/>
<circle cx="762.0" cy="541.0" r="7.0" fill="#c9e2ee"/>
<circle cx="758.5" cy="548.5" r="7.0" fill="#c9e2ee"/>
<circle cx="757.5" cy="555.0" r="7.0" fill="#c9e2ee"/>
<circle cx="318.0" cy="313.5" r="7.0" fill="#c9e2ee"/>
<circle cx="278.5" cy="420.5" r="7.0" fill="#c9e2ee"/>
<circle cx="561.0" cy="978.0" r="7.0" fill="#c9e2ee"/>
<circle cx="309.5" cy="323.5" r="7.0" fill="#c9e2ee"/>
<circle cx="636.0" cy="1015.5" r="7.0" fill="#c9e2ee"/>
<circle cx="958.6" cy="432.8" r="7.0" fill="#cae2ee"/>
<circle cx="759.5" cy="323.0" r="7.0" fill="#cae2ef"/>
<circle cx="619.5" cy="290.5" r="7.0" fill="#cae2ef"/>
<circle cx="527.0" cy="955.5" r="7.0" fill="#cae2ef"/>
<circle cx="563.0" cy="1028.5" r="7.0" fill="#cae2ef"/>
<circle cx="772.5" cy="275.0" r="7.0" fill="#cbe3ef"/>
<circle cx="621.0" cy="1066.0" r="7.0" fill="#cbe3ef"/>
<circle cx="910.5" cy="810.5" r="7.0" fill="#cbe3ef"/>
<circle cx="577.0" cy="1023.0" r="7.0" fill="#cbe3ef"/>
<circle cx="603.5" cy="1073.0" r="7.0" fill="#cbe3ef"/>
<circle cx="641.0" cy="958.5" r="7.0" fill="#cbe3ef"/>
<circle cx="402.0" cy="397.0" r="7.0" fill="#cbe3ef"/>
<circle cx="520.5" cy="336.5" r="7.0" fill="#cbe3ef"/>
<circle cx="492.5" cy="964.5" r="7.0" fill="#cbe3ef"/>
<circle cx="522.0" cy="955.0" r="7.0" fill="#cbe3ef"/>
<circle cx="634.0" cy="1053.5" r="7.0" fill="#cce3ef"/>
<circle cx="508.0" cy="934.0" r="7.0" fill="#cce3ef"/>
<circle cx="666.5" cy="1081.5" r="7.0" fill="#cce3ef"/>
<circle cx="285.5" cy="486.5" r="7.0" fill="#cce3ef"/>
<circle cx="254.0" cy="331.0" r="7.0" fill="#cce3ef"/>
<circle cx="516.0" cy="988.5" r="7.0" fill="#cce3ef"/>
<circle cx="598.0" cy="1053.0" r="7.0" fill="#cce3ef"/>
<circle cx="676.0" cy="313.0" r="7.0" fill="#cce3ef"/>
<circle cx="638.0" cy="297.5" r="7.0" fill="#cde4ef"/>
<circle cx="554.0" cy="327.0" r="7.0" fill="#cde4ef"/>
<circle cx="714.0" cy="223.5" r="7.0" fill="#cde4ef"/>
<circle cx="927.5" cy="918.5" r="7.0" fill="#cde4ef"/>
<circle cx="779.0" cy="318.0" r="7.0" fill="#cde4ef"/>
<circle cx="630.5" cy="831.0" r="7.0" fill="#cde4ef"/>
<circle cx="377.5" cy="551.5" r="7.0" fill="#cde4f0"/>
<circle cx="563.5" cy="555.5" r="7.0" fill="#cde4f0"/>
<circle cx="270.5" cy="323.0" r="7.0" fill="#cee4f0"/>
<circle cx="413.5" cy="439.0" r="7.0" fill="#cee4f0"/>
<circle cx="578.0" cy="1004.5" r="7.0" fill="#cee4f0"/>
<circle cx="300.0" cy="459.0" r="7.0" fill="#cee4f0"/>
<circle cx="790.0" cy="281.5" r="7.0" fill="#cee4f0"/>
<circle cx="635.5" cy="989.0" r="7.0" fill="#cee4f0"/>
<circle cx="290.5" cy="476.0" r="7.0" fill="#cfe5f0"/>
<circle cx="530.0" cy="357.0" r="7.0" fill="#cfe5f0"/>
<circle cx="416.5" cy="402.5" r="7.0" fill="#d0e5f0"/>
<circle cx="837.0" cy="936.0" r="7.0" fill="#d0e5f0"/>
<circle cx="521.5" cy="992.5" r="7.0" fill="#d0e5f0"/>
<circle cx="323.0" cy="339.0" r="7.0" fill="#d0e5f0"/>
<circle cx="316.0" cy="318.5" r="7.0" fill="#d0e5f0"/>
<circle cx="537.5" cy="268.0" r="7.0" fill="#d0e5f0"/>
<circle cx="604.0" cy="313.5" r="7.0" fill="#d1e6f0"/>
<circle cx="627.0" cy="227.0" r="7.0" fill="#d1e6f0"/>
<circle cx="631.5" cy="999.0" r="7.0" fill="#d1e6f0"/>
<circle cx="772.0" cy="279.5" r="7.0" fill="#d1e6f0"/>
<circle cx="680.0" cy="958.0" r="7.0" fill="#d1e6f0"/>
<circle cx="642.0" cy="970.0" r="7.0" fill="#d1e6f0"/>
<circle cx="732.0" cy="987.0" r="7.0" fill="#d1e6f0"/>
<circle cx="654.0" cy="1011.0" r="7.0" fill="#d1e6f0"/>
<circle cx="669.0" cy="1002.0" r="7.0" fill="#d1e6f0"/>
<circle cx="651.0" cy="1024.0" r="7.0" fill="#d1e6f0"/>
<circle cx="663.0" cy="1031.0" r="7.0" fill="#d1e6f0"/>
<circle cx="679.0" cy="1037.0" r="7.0" fill="#d1e6f0"/>
<circle cx="694.0" cy="1026.0" r="7.0" fill="#d1e6f0"/>
<circle cx="707.0" cy="1030.0" r="7.0" fill="#d1e6f0"/>
<circle cx="625.0" cy="1044.0" r="7.0" fill="#d1e6f0"/>
<circle cx="718.0" cy="1048.0" r="7.0" fill="#d1e6f0"/>
<circle cx="653.0" cy="1060.0" r="7.0" fill="#d1e6f0"/>
<circle cx="672.0" cy="1082.0" r="7.0" fill="#d1e6f0"/>
<circle cx="778.0" cy="971.0" r="7.0" fill="#d1e6f0"/>
<circle cx="626.5" cy="1025.5" r="7.0" fill="#d1e6f0"/>
<circle cx="793.5" cy="290.5" r="7.0" fill="#d1e6f0"/>
<circle cx="382.5" cy="406.5" r="7.0" fill="#d1e6f1"/>
<circle cx="907.8" cy="500.9" r="7.0" fill="#d1e6f1"/>
<circle cx="631.0" cy="1003.5" r="7.0" fill="#d1e6f1"/>
<circle cx="570.0" cy="798.0" r="7.0" fill="#d2e6f1"/>
<circle cx="606.5" cy="770.5" r="7.0" fill="#d2e6f1"/>
<circle cx="580.0" cy="786.0" r="7.0" fill="#d2e6f1"/>
<circle cx="574.0" cy="796.0" r="7.0" fill="#d2e6f1"/>
<circle cx="581.0" cy="795.0" r="7.0" fill="#d2e6f1"/>
<circle cx="596.0" cy="796.0" r="7.0" fill="#d2e6f1"/>
<circle cx="701.0" cy="241.5" r="7.0" fill="#d2e6f1"/>
<circle cx="549.0" cy="1016.5" r="7.0" fill="#d2e6f1"/>
<circle cx="458.5" cy="317.5" r="7.0" fill="#d2e6f1"/>
<circle cx="710.0" cy="227.0" r="7.0" fill="#d2e6f1"/>
<circle cx="329.5" cy="331.0" r="7.0" fill="#d2e6f1"/>
<circle cx="293.5" cy="497.0" r="7.0" fill="#d2e6f1"/>
<circle cx="859.2" cy="858.4" r="7.0" fill="#d3e7f1"/>
<circle cx="550.0" cy="271.5" r="7.0" fill="#d3e7f1"/>
<circle cx="724.0" cy="230.5" r="7.0" fill="#d3e7f1"/>
<circle cx="565.0" cy="1001.0" r="7.0" fill="#d3e7f1"/>
<circle cx="507.5" cy="967.5" r="7.0" fill="#d3e7f1"/>
<circle cx="534.5" cy="982.5" r="7.0" fill="#d3e7f1"/>
<circle cx="553.0" cy="324.0" r="7.0" fill="#d4e7f1"/>
<circle cx="282.5" cy="452.5" r="7.0" fill="#d4e7f1"/>
<circle cx="457.0" cy="228.0" r="7.0" fill="#d4e7f1"/>
<circle cx="561.5" cy="270.0" r="7.0" fill="#d4e7f1"/>
<circle cx="545.5" cy="277.0" r="7.0" fill="#d4e7f1"/>
<circle cx="251.5" cy="304.5" r="7.0" fill="#d4e7f1"/>
<circle cx="286.0" cy="437.0" r="7.0" fill="#d4e8f2"/>
<circle cx="635.0" cy="1064.0" r="7.0" fill="#d5e8f2"/>
<circle cx="549.0" cy="256.5" r="7.0" fill="#d5e8f2"/>
<circle cx="722.5" cy="223.0" r="7.0" fill="#d5e8f2"/>
<circle cx="577.5" cy="292.5" r="7.0" fill="#d6e8f2"/>
<circle cx="278.0" cy="410.0" r="7.0" fill="#d6e8f2"/>
<circle cx="490.5" cy="961.5" r="7.0" fill="#d6e8f2"/>
<circle cx="610.5" cy="1054.0" r="7.0" fill="#d6e8f2"/>
<circle cx="636.0" cy="222.0" r="7.0" fill="#d6e8f2"/>
<circle cx="551.0" cy="280.0" r="7.0" fill="#d6e8f2"/>
<circle cx="599.0" cy="326.0" r="7.0" fill="#d6e8f2"/>
<circle cx="607.0" cy="326.0" r="7.0" fill="#d6e8f2"/>
<circle cx="555.0" cy="333.0" r="7.0" fill="#d6e8f2"/>
<circle cx="550.0" cy="376.0" r="7.0" fill="#d6e8f2"/>
<circle cx="684.0" cy="227.0" r="7.0" fill="#d6e8f2"/>
<circle cx="717.0" cy="227.0" r="7.0" fill="#d6e8f2"/>
<circle cx="700.0" cy="236.0" r="7.0" fill="#d6e8f2"/>
<circle cx="686.0" cy="320.0" r="7.0" fill="#d6e8f2"/>
<circle cx="717.0" cy="327.0" r="7.0" fill="#d6e8f2"/>
<circle cx="757.0" cy="319.0" r="7.0" fill="#d6e8f2"/>
<circle cx="784.0" cy="274.0" r="7.0" fill="#d6e8f2"/>
<circle cx="792.0" cy="292.0" r="7.0" fill="#d6e8f2"/>
<circle cx="714.0" cy="368.0" r="7.0" fill="#d6e8f2"/>
<circle cx="768.0" cy="350.0" r="7.0" fill="#d6e8f2"/>
<circle cx="933.0" cy="291.0" r="7.0" fill="#d6e8f2"/>
<circle cx="1029.0" cy="288.0" r="7.0" fill="#d6e8f2"/>
<circle cx="1020.0" cy="297.0" r="7.0" fill="#d6e8f2"/>
<circle cx="1008.0" cy="302.0" r="7.0" fill="#d6e8f2"/>
<circle cx="1045.0" cy="314.0" r="7.0" fill="#d6e8f2"/>
<circle cx="904.0" cy="315.0" r="7.0" fill="#d6e8f2"/>
<circle cx="912.0" cy="312.0" r="7.0" fill="#d6e8f2"/>
<circle cx="920.0" cy="341.0" r="7.0" fill="#d6e8f2"/>
<circle cx="1025.0" cy="339.0" r="7.0" fill="#d6e8f2"/>
<circle cx="304.0" cy="462.0" r="7.0" fill="#d6e8f2"/>
<circle cx="476.0" cy="413.0" r="7.0" fill="#d6e8f2"/>
<circle cx="440.0" cy="433.0" r="7.0" fill="#d6e8f2"/>
<circle cx="458.0" cy="466.0" r="7.0" fill="#d6e8f2"/>
<circle cx="433.0" cy="543.0" r="7.0" fill="#d6e8f2"/>
<circle cx="388.0" cy="554.0" r="7.0" fill="#d6e8f2"/>
<circle cx="509.0" cy="637.0" r="7.0" fill="#d6e8f2"/>
<circle cx="620.0" cy="388.0" r="7.0" fill="#d6e8f2"/>
<circle cx="551.0" cy="559.0" r="7.0" fill="#d6e8f2"/>
<circle cx="535.0" cy="575.0" r="7.0" fill="#d6e8f2"/>
<circle cx="786.0" cy="409.0" r="7.0" fill="#d6e8f2"/>
<circle cx="723.0" cy="426.0" r="7.0" fill="#d6e8f2"/>
<circle cx="796.0" cy="433.0" r="7.0" fill="#d6e8f2"/>
<circle cx="866.0" cy="416.0" r="7.0" fill="#d6e8f2"/>
<circle cx="690.0" cy="446.0" r="7.0" fill="#d6e8f2"/>
<circle cx="685.0" cy="470.0" r="7.0" fill="#d6e8f2"/>
<circle cx="699.0" cy="487.0" r="7.0" fill="#d6e8f2"/>
<circle cx="690.0" cy="477.0" r="7.0" fill="#d6e8f2"/>
<circle cx="1079.0" cy="507.0" r="7.0" fill="#d6e8f2"/>
<circle cx="304.0" cy="896.0" r="7.0" fill="#d6e8f2"/>
<circle cx="896.0" cy="803.0" r="7.0" fill="#d6e8f2"/>
<circle cx="856.0" cy="808.0" r="7.0" fill="#d6e8f2"/>
<circle cx="957.0" cy="867.0" r="7.0" fill="#d6e8f2"/>
<circle cx="945.0" cy="870.0" r="7.0" fill="#d6e8f2"/>
<circle cx="415.0" cy="929.0" r="7.0" fill="#d6e8f2"/>
<circle cx="408.0" cy="913.0" r="7.0" fill="#d6e8f2"/>
<circle cx="498.0" cy="959.0" r="7.0" fill="#d6e8f2"/>
<circle cx="488.0" cy="967.0" r="7.0" fill="#d6e8f2"/>
<circle cx="530.0" cy="974.0" r="7.0" fill="#d6e8f2"/>
<circle cx="537.0" cy="980.0" r="7.0" fill="#d6e8f2"/>
<circle cx="529.0" cy="1016.0" r="7.0" fill="#d6e8f2"/>
<circle cx="541.0" cy="1014.0" r="7.0" fill="#d6e8f2"/>
<circle cx="579.0" cy="1032.0" r="7.0" fill="#d6e8f2"/>
<circle cx="600.0" cy="1032.0" r="7.0" fill="#d6e8f2"/>
<circle cx="616.0" cy="1028.0" r="7.0" fill="#d6e8f2"/>
<circle cx="563.0" cy="1040.0" r="7.0" fill="#d6e8f2"/>
<circle cx="578.0" cy="1042.0" r="7.0" fill="#d6e8f2"/>
<circle cx="594.0" cy="1040.0" r="7.0" fill="#d6e8f2"/>
<circle cx="624.0" cy="1060.0" r="7.0" fill="#d6e8f2"/>
<circle cx="608.0" cy="1070.0" r="7.0" fill="#d6e8f2"/>
<circle cx="424.5" cy="708.0" r="7.0" fill="#d6e8f2"/>
<circle cx="422.5" cy="726.5" r="7.0" fill="#d6e8f2"/>
<circle cx="363.5" cy="784.5" r="7.0" fill="#d6e8f2"/>
<circle cx="340.5" cy="796.5" r="7.0" fill="#d6e8f2"/>
<circle cx="449.0" cy="706.0" r="7.0" fill="#d6e8f2"/>
<circle cx="478.0" cy="709.0" r="7.0" fill="#d6e8f2"/>
<circle cx="491.0" cy="697.0" r="7.0" fill="#d6e8f2"/>
<circle cx="496.0" cy="706.0" r="7.0" fill="#d6e8f2"/>
<circle cx="492.5" cy="713.0" r="7.0" fill="#d6e8f2"/>
<circle cx="504.0" cy="695.0" r="7.0" fill="#d6e8f2"/>
<circle cx="449.5" cy="723.0" r="7.0" fill="#d6e8f2"/>
<circle cx="482.0" cy="723.0" r="7.0" fill="#d6e8f2"/>
<circle cx="481.5" cy="728.0" r="7.0" fill="#d6e8f2"/>
<circle cx="487.0" cy="738.0" r="7.0" fill="#d6e8f2"/>
<circle cx="484.0" cy="740.0" r="7.0" fill="#d6e8f2"/>
<circle cx="517.5" cy="741.0" r="7.0" fill="#d6e8f2"/>
<circle cx="536.5" cy="705.0" r="7.0" fill="#d6e8f2"/>
<circle cx="406.5" cy="842.5" r="7.0" fill="#d6e8f2"/>
<circle cx="403.0" cy="848.0" r="7.0" fill="#d6e8f2"/>
<circle cx="415.5" cy="850.0" r="7.0" fill="#d6e8f2"/>
<circle cx="448.5" cy="871.5" r="7.0" fill="#d6e8f2"/>
<circle cx="506.5" cy="887.0" r="7.0" fill="#d6e8f2"/>
<circle cx="479.5" cy="894.5" r="7.0" fill="#d6e8f2"/>
<circle cx="529.0" cy="903.0" r="7.0" fill="#d6e8f2"/>
<circle cx="537.0" cy="923.0" r="7.0" fill="#d6e8f2"/>
<circle cx="485.0" cy="920.0" r="7.0" fill="#d6e8f2"/>
<circle cx="504.0" cy="918.0" r="7.0" fill="#d6e8f2"/>
<circle cx="491.5" cy="942.0" r="7.0" fill="#d6e8f2"/>
<circle cx="499.0" cy="943.0" r="7.0" fill="#d6e8f2"/>
<circle cx="575.0" cy="694.0" r="7.0" fill="#d6e8f2"/>
<circle cx="629.5" cy="732.5" r="7.0" fill="#d6e8f2"/>
<circle cx="653.5" cy="751.5" r="7.0" fill="#d6e8f2"/>
<circle cx="583.5" cy="760.0" r="7.0" fill="#d6e8f2"/>
<circle cx="578.0" cy="761.0" r="7.0" fill="#d6e8f2"/>
<circle cx="659.5" cy="763.5" r="7.0" fill="#d6e8f2"/>
<circle cx="678.5" cy="767.5" r="7.0" fill="#d6e8f2"/>
<circle cx="649.0" cy="777.0" r="7.0" fill="#d6e8f2"/>
<circle cx="802.0" cy="706.0" r="7.0" fill="#d6e8f2"/>
<circle cx="800.0" cy="717.5" r="7.0" fill="#d6e8f2"/>
<circle cx="769.5" cy="743.0" r="7.0" fill="#d6e8f2"/>
<circle cx="769.0" cy="783.0" r="7.0" fill="#d6e8f2"/>
<circle cx="762.0" cy="785.0" r="7.0" fill="#d6e8f2"/>
<circle cx="586.5" cy="906.0" r="7.0" fill="#d6e8f2"/>
<circle cx="748.0" cy="890.0" r="7.0" fill="#d6e8f2"/>
<circle cx="753.5" cy="904.0" r="7.0" fill="#d6e8f2"/>
<circle cx="752.5" cy="913.5" r="7.0" fill="#d6e8f2"/>
<circle cx="815.0" cy="910.0" r="7.0" fill="#d6e8f2"/>
<circle cx="796.5" cy="938.0" r="7.0" fill="#d6e8f2"/>
<circle cx="647.5" cy="626.5" r="7.0" fill="#d6e8f2"/>
<circle cx="780.5" cy="670.5" r="7.0" fill="#d6e8f2"/>
<circle cx="832.0" cy="440.0" r="7.0" fill="#d6e8f2"/>
<circle cx="897.0" cy="437.0" r="7.0" fill="#d6e8f2"/>
<circle cx="870.0" cy="515.0" r="7.0" fill="#d6e8f2"/>
<circle cx="910.0" cy="515.0" r="7.0" fill="#d6e8f2"/>
<circle cx="906.0" cy="535.0" r="7.0" fill="#d6e8f2"/>
<circle cx="701.0" cy="490.0" r="7.0" fill="#d6e8f2"/>
<circle cx="807.5" cy="451.5" r="7.0" fill="#d6e8f2"/>
<circle cx="800.0" cy="454.0" r="7.0" fill="#d6e8f2"/>
<circle cx="827.0" cy="440.0" r="7.0" fill="#d6e8f2"/>
<circle cx="289.0" cy="435.0" r="7.0" fill="#d6e8f2"/>
<circle cx="446.0" cy="231.5" r="7.0" fill="#d6e8f2"/>
<circle cx="908.5" cy="783.5" r="7.0" fill="#d6e9f2"/>
<circle cx="571.4" cy="960.7" r="7.0" fill="#d6e9f2"/>
<circle cx="703.6" cy="798.4" r="7.0" fill="#d7e9f2"/>
<circle cx="647.5" cy="309.5" r="7.0" fill="#d7e9f2"/>
<circle cx="935.5" cy="828.0" r="7.0" fill="#d7e9f2"/>
<circle cx="935.5" cy="841.0" r="7.0" fill="#d7e9f2"/>
<circle cx="562.5" cy="969.0" r="7.0" fill="#d7e9f2"/>
<circle cx="694.5" cy="315.0" r="7.0" fill="#d7e9f2"/>
<circle cx="708.7" cy="814.9" r="7.0" fill="#d8e9f2"/>
<circle cx="519.0" cy="363.0" r="7.0" fill="#d8e9f2"/>
<circle cx="694.0" cy="791.1" r="7.0" fill="#d8e9f2"/>
<circle cx="662.5" cy="312.5" r="7.0" fill="#d8e9f2"/>
<circle cx="526.5" cy="216.0" r="7.0" fill="#d8e9f3"/>
<circle cx="479.5" cy="371.0" r="7.0" fill="#d8e9f3"/>
<circle cx="714.2" cy="859.2" r="7.0" fill="#d8e9f3"/>
<circle cx="593.5" cy="1049.5" r="7.0" fill="#d8e9f3"/>
<circle cx="718.2" cy="783.7" r="7.0" fill="#d8e9f3"/>
<circle cx="813.0" cy="974.5" r="7.0" fill="#d8eaf3"/>
<circle cx="531.0" cy="223.0" r="7.0" fill="#d9eaf3"/>
<circle cx="590.5" cy="1011.0" r="7.0" fill="#d9eaf3"/>
<circle cx="647.0" cy="1078.0" r="7.0" fill="#d9eaf3"/>
<circle cx="642.0" cy="1010.0" r="7.0" fill="#daeaf3"/>
<circle cx="643.0" cy="1064.0" r="7.0" fill="#daeaf3"/>
<circle cx="659.0" cy="1082.0" r="7.0" fill="#daeaf3"/>
<circle cx="616.0" cy="972.0" r="7.0" fill="#daeaf3"/>
<circle cx="714.9" cy="264.1" r="7.0" fill="#daeaf3"/>
<circle cx="648.5" cy="307.0" r="7.0" fill="#daeaf3"/>
<circle cx="376.5" cy="430.0" r="7.0" fill="#daeaf3"/>
<circle cx="917.5" cy="800.0" r="7.0" fill="#daeaf3"/>
<circle cx="574.0" cy="268.5" r="7.0" fill="#daebf3"/>
<circle cx="922.5" cy="795.0" r="7.0" fill="#dbebf3"/>
<circle cx="649.0" cy="300.5" r="7.0" fill="#dbebf3"/>
<circle cx="277.0" cy="314.0" r="7.0" fill="#dbebf3"/>
<circle cx="514.0" cy="330.0" r="7.0" fill="#dcebf4"/>
<circle cx="713.0" cy="314.5" r="7.0" fill="#dcebf4"/>
<circle cx="617.0" cy="283.0" r="7.0" fill="#dcebf4"/>
<circle cx="513.0" cy="355.5" r="7.0" fill="#dcecf4"/>
<circle cx="499.0" cy="361.5" r="7.0" fill="#ddecf4"/>
<circle cx="587.0" cy="421.0" r="7.0" fill="#ddecf4"/>
<circle cx="913.5" cy="830.5" r="7.0" fill="#ddecf4"/>
<circle cx="520.0" cy="1001.5" r="7.0" fill="#ddecf4"/>
<circle cx="502.0" cy="366.5" r="7.0" fill="#ddecf4"/>
<circle cx="959.5" cy="820.5" r="7.0" fill="#ddecf4"/>
<circle cx="633.5" cy="291.5" r="7.0" fill="#deecf4"/>
<circle cx="837.5" cy="947.5" r="7.0" fill="#deecf4"/>
<circle cx="413.5" cy="452.0" r="7.0" fill="#deedf4"/>
<circle cx="845.0" cy="932.5" r="7.0" fill="#dfedf4"/>
<circle cx="393.0" cy="528.5" r="7.0" fill="#dfedf4"/>
<circle cx="336.0" cy="294.0" r="7.0" fill="#dfedf4"/>
<circle cx="372.0" cy="296.0" r="7.0" fill="#dfedf4"/>
<circle cx="272.0" cy="310.0" r="7.0" fill="#dfedf4"/>
<circle cx="282.0" cy="324.0" r="7.0" fill="#dfedf4"/>
<circle cx="322.0" cy="328.0" r="7.0" fill="#dfedf4"/>
<circle cx="330.0" cy="336.0" r="7.0" fill="#dfedf4"/>
<circle cx="256.0" cy="305.0" r="7.0" fill="#dfedf4"/>
<circle cx="257.0" cy="325.0" r="7.0" fill="#dfedf4"/>
<circle cx="261.0" cy="339.0" r="7.0" fill="#dfedf4"/>
<circle cx="376.0" cy="360.0" r="7.0" fill="#dfedf4"/>
<circle cx="382.0" cy="380.0" r="7.0" fill="#dfedf4"/>
<circle cx="342.0" cy="382.0" r="7.0" fill="#dfedf4"/>
<circle cx="436.0" cy="226.0" r="7.0" fill="#dfedf4"/>
<circle cx="542.0" cy="262.0" r="7.0" fill="#dfedf4"/>
<circle cx="624.0" cy="290.0" r="7.0" fill="#dfedf4"/>
<circle cx="626.0" cy="324.0" r="7.0" fill="#dfedf4"/>
<circle cx="526.0" cy="333.0" r="7.0" fill="#dfedf4"/>
<circle cx="550.0" cy="333.0" r="7.0" fill="#dfedf4"/>
<circle cx="471.0" cy="363.0" r="7.0" fill="#dfedf4"/>
<circle cx="556.0" cy="371.0" r="7.0" fill="#dfedf4"/>
<circle cx="438.0" cy="382.0" r="7.0" fill="#dfedf4"/>
<circle cx="674.0" cy="216.0" r="7.0" fill="#dfedf4"/>
<circle cx="704.0" cy="215.0" r="7.0" fill="#dfedf4"/>
<circle cx="727.0" cy="221.0" r="7.0" fill="#dfedf4"/>
<circle cx="672.0" cy="243.0" r="7.0" fill="#dfedf4"/>
<circle cx="726.0" cy="244.0" r="7.0" fill="#dfedf4"/>
<circle cx="750.0" cy="253.0" r="7.0" fill="#dfedf4"/>
<circle cx="765.0" cy="258.0" r="7.0" fill="#dfedf4"/>
<circle cx="796.0" cy="271.0" r="7.0" fill="#dfedf4"/>
<circle cx="642.0" cy="306.0" r="7.0" fill="#dfedf4"/>
<circle cx="765.0" cy="309.0" r="7.0" fill="#dfedf4"/>
<circle cx="768.0" cy="320.0" r="7.0" fill="#dfedf4"/>
<circle cx="834.0" cy="289.0" r="7.0" fill="#dfedf4"/>
<circle cx="828.0" cy="311.0" r="7.0" fill="#dfedf4"/>
<circle cx="840.0" cy="340.0" r="7.0" fill="#dfedf4"/>
<circle cx="861.0" cy="363.0" r="7.0" fill="#dfedf4"/>
<circle cx="894.0" cy="376.0" r="7.0" fill="#dfedf4"/>
<circle cx="687.0" cy="361.0" r="7.0" fill="#dfedf4"/>
<circle cx="710.0" cy="380.0" r="7.0" fill="#dfedf4"/>
<circle cx="700.0" cy="383.0" r="7.0" fill="#dfedf4"/>
<circle cx="961.0" cy="275.0" r="7.0" fill="#dfedf4"/>
<circle cx="1003.0" cy="288.0" r="7.0" fill="#dfedf4"/>
<circle cx="1038.0" cy="283.0" r="7.0" fill="#dfedf4"/>
<circle cx="1028.0" cy="301.0" r="7.0" fill="#dfedf4"/>
<circle cx="1001.0" cy="309.0" r="7.0" fill="#dfedf4"/>
<circle cx="1066.0" cy="305.0" r="7.0" fill="#dfedf4"/>
<circle cx="1046.0" cy="326.0" r="7.0" fill="#dfedf4"/>
<circle cx="1037.0" cy="325.0" r="7.0" fill="#dfedf4"/>
<circle cx="1037.0" cy="336.0" r="7.0" fill="#dfedf4"/>
<circle cx="1008.0" cy="316.0" r="7.0" fill="#dfedf4"/>
<circle cx="914.0" cy="332.0" r="7.0" fill="#dfedf4"/>
<circle cx="922.0" cy="333.0" r="7.0" fill="#dfedf4"/>
<circle cx="252.0" cy="409.0" r="7.0" fill="#dfedf4"/>
<circle cx="281.0" cy="412.0" r="7.0" fill="#dfedf4"/>
<circle cx="283.0" cy="428.0" r="7.0" fill="#dfedf4"/>
<circle cx="282.0" cy="446.0" r="7.0" fill="#dfedf4"/>
<circle cx="295.0" cy="485.0" r="7.0" fill="#dfedf4"/>
<circle cx="355.0" cy="561.0" r="7.0" fill="#dfedf4"/>
<circle cx="397.0" cy="396.0" r="7.0" fill="#dfedf4"/>
<circle cx="410.0" cy="392.0" r="7.0" fill="#dfedf4"/>
<circle cx="388.0" cy="404.0" r="7.0" fill="#dfedf4"/>
<circle cx="386.0" cy="416.0" r="7.0" fill="#dfedf4"/>
<circle cx="395.0" cy="423.0" r="7.0" fill="#dfedf4"/>
<circle cx="426.0" cy="411.0" r="7.0" fill="#dfedf4"/>
<circle cx="386.0" cy="487.0" r="7.0" fill="#dfedf4"/>
<circle cx="387.0" cy="526.0" r="7.0" fill="#dfedf4"/>
<circle cx="414.0" cy="556.0" r="7.0" fill="#dfedf4"/>
<circle cx="569.0" cy="393.0" r="7.0" fill="#dfedf4"/>
<circle cx="576.0" cy="409.0" r="7.0" fill="#dfedf4"/>
<circle cx="629.0" cy="410.0" r="7.0" fill="#dfedf4"/>
<circle cx="632.0" cy="433.0" r="7.0" fill="#dfedf4"/>
<circle cx="522.0" cy="555.0" r="7.0" fill="#dfedf4"/>
<circle cx="540.0" cy="568.0" r="7.0" fill="#dfedf4"/>
<circle cx="684.0" cy="387.0" r="7.0" fill="#dfedf4"/>
<circle cx="740.0" cy="384.0" r="7.0" fill="#dfedf4"/>
<circle cx="673.0" cy="416.0" r="7.0" fill="#dfedf4"/>
<circle cx="757.0" cy="411.0" r="7.0" fill="#dfedf4"/>
<circle cx="823.0" cy="405.0" r="7.0" fill="#dfedf4"/>
<circle cx="877.0" cy="422.0" r="7.0" fill="#dfedf4"/>
<circle cx="862.0" cy="394.0" r="7.0" fill="#dfedf4"/>
<circle cx="675.0" cy="466.0" r="7.0" fill="#dfedf4"/>
<circle cx="922.0" cy="394.0" r="7.0" fill="#dfedf4"/>
<circle cx="914.0" cy="425.0" r="7.0" fill="#dfedf4"/>
<circle cx="1022.0" cy="448.0" r="7.0" fill="#dfedf4"/>
<circle cx="1016.0" cy="475.0" r="7.0" fill="#dfedf4"/>
<circle cx="1008.0" cy="492.0" r="7.0" fill="#dfedf4"/>
<circle cx="1035.0" cy="476.0" r="7.0" fill="#dfedf4"/>
<circle cx="1057.0" cy="501.0" r="7.0" fill="#dfedf4"/>
<circle cx="862.0" cy="804.0" r="7.0" fill="#dfedf4"/>
<circle cx="900.0" cy="812.0" r="7.0" fill="#dfedf4"/>
<circle cx="836.0" cy="830.0" r="7.0" fill="#dfedf4"/>
<circle cx="941.0" cy="828.0" r="7.0" fill="#dfedf4"/>
<circle cx="947.0" cy="837.0" r="7.0" fill="#dfedf4"/>
<circle cx="506.0" cy="996.0" r="7.0" fill="#dfedf4"/>
<circle cx="532.0" cy="946.0" r="7.0" fill="#dfedf4"/>
<circle cx="606.0" cy="948.0" r="7.0" fill="#dfedf4"/>
<circle cx="518.0" cy="958.0" r="7.0" fill="#dfedf4"/>
<circle cx="518.0" cy="969.0" r="7.0" fill="#dfedf4"/>
<circle cx="536.0" cy="992.0" r="7.0" fill="#dfedf4"/>
<circle cx="522.0" cy="983.0" r="7.0" fill="#dfedf4"/>
<circle cx="524.0" cy="1008.0" r="7.0" fill="#dfedf4"/>
<circle cx="598.0" cy="1016.0" r="7.0" fill="#dfedf4"/>
<circle cx="570.0" cy="1014.0" r="7.0" fill="#dfedf4"/>
<circle cx="616.0" cy="1015.0" r="7.0" fill="#dfedf4"/>
<circle cx="551.0" cy="1006.0" r="7.0" fill="#dfedf4"/>
<circle cx="546.0" cy="1023.0" r="7.0" fill="#dfedf4"/>
<circle cx="552.0" cy="1031.0" r="7.0" fill="#dfedf4"/>
<circle cx="617.0" cy="1036.0" r="7.0" fill="#dfedf4"/>
<circle cx="544.0" cy="1041.0" r="7.0" fill="#dfedf4"/>
<circle cx="552.0" cy="1045.0" r="7.0" fill="#dfedf4"/>
<circle cx="616.0" cy="1049.0" r="7.0" fill="#dfedf4"/>
<circle cx="599.0" cy="1068.0" r="7.0" fill="#dfedf4"/>
<circle cx="604.0" cy="1062.0" r="7.0" fill="#dfedf4"/>
<circle cx="553.0" cy="1061.0" r="7.0" fill="#dfedf4"/>
<circle cx="943.0" cy="907.0" r="7.0" fill="#dfedf4"/>
<circle cx="933.0" cy="916.0" r="7.0" fill="#dfedf4"/>
<circle cx="834.0" cy="932.0" r="7.0" fill="#dfedf4"/>
<circle cx="429.5" cy="751.0" r="7.0" fill="#dfedf4"/>
<circle cx="460.5" cy="701.0" r="7.0" fill="#dfedf4"/>
<circle cx="466.0" cy="700.0" r="7.0" fill="#dfedf4"/>
<circle cx="454.0" cy="711.0" r="7.0" fill="#dfedf4"/>
<circle cx="471.5" cy="713.5" r="7.0" fill="#dfedf4"/>
<circle cx="480.0" cy="696.5" r="7.0" fill="#dfedf4"/>
<circle cx="496.5" cy="700.5" r="7.0" fill="#dfedf4"/>
<circle cx="509.5" cy="703.0" r="7.0" fill="#dfedf4"/>
<circle cx="467.5" cy="725.0" r="7.0" fill="#dfedf4"/>
<circle cx="493.0" cy="901.0" r="7.0" fill="#dfedf4"/>
<circle cx="477.5" cy="903.0" r="7.0" fill="#dfedf4"/>
<circle cx="506.0" cy="906.0" r="7.0" fill="#dfedf4"/>
<circle cx="504.0" cy="942.0" r="7.0" fill="#dfedf4"/>
<circle cx="510.0" cy="943.0" r="7.0" fill="#dfedf4"/>
<circle cx="546.0" cy="931.0" r="7.0" fill="#dfedf4"/>
<circle cx="582.0" cy="769.5" r="7.0" fill="#dfedf4"/>
<circle cx="679.5" cy="774.5" r="7.0" fill="#dfedf4"/>
<circle cx="693.0" cy="778.0" r="7.0" fill="#dfedf4"/>
<circle cx="666.0" cy="793.5" r="7.0" fill="#dfedf4"/>
<circle cx="765.0" cy="714.0" r="7.0" fill="#dfedf4"/>
<circle cx="751.5" cy="736.0" r="7.0" fill="#dfedf4"/>
<circle cx="754.0" cy="776.0" r="7.0" fill="#dfedf4"/>
<circle cx="659.0" cy="847.0" r="7.0" fill="#dfedf4"/>
<circle cx="667.0" cy="874.0" r="7.0" fill="#dfedf4"/>
<circle cx="575.0" cy="938.0" r="7.0" fill="#dfedf4"/>
<circle cx="816.0" cy="847.0" r="7.0" fill="#dfedf4"/>
<circle cx="757.0" cy="860.0" r="7.0" fill="#dfedf4"/>
<circle cx="729.0" cy="888.0" r="7.0" fill="#dfedf4"/>
<circle cx="810.0" cy="913.0" r="7.0" fill="#dfedf4"/>
<circle cx="790.5" cy="925.5" r="7.0" fill="#dfedf4"/>
<circle cx="808.0" cy="935.0" r="7.0" fill="#dfedf4"/>
<circle cx="620.5" cy="565.5" r="7.0" fill="#dfedf4"/>
<circle cx="697.0" cy="686.0" r="7.0" fill="#dfedf4"/>
<circle cx="701.0" cy="684.0" r="7.0" fill="#dfedf4"/>
<circle cx="949.0" cy="440.0" r="7.0" fill="#dfedf4"/>
<circle cx="908.0" cy="488.0" r="7.0" fill="#dfedf4"/>
<circle cx="950.0" cy="486.0" r="7.0" fill="#dfedf4"/>
<circle cx="884.0" cy="497.0" r="7.0" fill="#dfedf4"/>
<circle cx="869.0" cy="504.0" r="7.0" fill="#dfedf4"/>
<circle cx="703.0" cy="483.0" r="7.0" fill="#dfedf4"/>
<circle cx="787.0" cy="438.0" r="7.0" fill="#dfedf4"/>
<circle cx="774.0" cy="513.0" r="7.0" fill="#dfedf4"/>
<circle cx="601.0" cy="430.5" r="7.0" fill="#dfedf5"/>
<circle cx="636.5" cy="1076.0" r="7.0" fill="#dfedf5"/>
<circle cx="903.0" cy="834.5" r="7.0" fill="#dfedf5"/>
<circle cx="917.5" cy="786.5" r="7.0" fill="#dfedf5"/>
<circle cx="365.5" cy="401.5" r="7.0" fill="#dfedf5"/>
<circle cx="790.5" cy="977.0" r="7.0" fill="#dfedf5"/>
<circle cx="885.0" cy="926.5" r="7.0" fill="#dfedf5"/>
<circle cx="634.0" cy="954.5" r="7.0" fill="#e0edf5"/>
<circle cx="858.5" cy="906.0" r="7.0" fill="#e0edf5"/>
<circle cx="361.0" cy="442.0" r="7.0" fill="#e0edf5"/>
<circle cx="799.0" cy="981.5" r="7.0" fill="#e0edf5"/>
<circle cx="488.5" cy="325.5" r="7.0" fill="#e0edf5"/>
<circle cx="794.6" cy="827.6" r="7.0" fill="#e0edf5"/>
<circle cx="607.5" cy="293.0" r="7.0" fill="#e0edf5"/>
<circle cx="487.5" cy="334.0" r="7.0" fill="#e0edf5"/>
<circle cx="349.0" cy="490.5" r="7.0" fill="#e0eef5"/>
<circle cx="615.0" cy="229.5" r="7.0" fill="#e0eef5"/>
<circle cx="663.0" cy="314.5" r="7.0" fill="#e1eef5"/>
<circle cx="762.0" cy="955.5" r="7.0" fill="#e1eef5"/>
<circle cx="509.0" cy="335.0" r="7.0" fill="#e1eef5"/>
<circle cx="579.5" cy="438.5" r="7.0" fill="#e1eef5"/>
<circle cx="453.5" cy="319.0" r="7.0" fill="#e1eef5"/>
<circle cx="735.6" cy="877.4" r="7.0" fill="#e1eef5"/>
<circle cx="624.0" cy="553.0" r="7.0" fill="#e1eef5"/>
<circle cx="626.5" cy="444.5" r="7.0" fill="#e1eef5"/>
<circle cx="380.5" cy="506.5" r="7.0" fill="#e1eef5"/>
<circle cx="360.5" cy="408.0" r="7.0" fill="#e1eef5"/>
<circle cx="763.0" cy="958.0" r="7.0" fill="#e1eef5"/>
<circle cx="637.0" cy="993.0" r="7.0" fill="#e1eef5"/>
<circle cx="634.0" cy="1025.0" r="7.0" fill="#e1eef5"/>
<circle cx="634.0" cy="1044.0" r="7.0" fill="#e1eef5"/>
<circle cx="879.0" cy="898.0" r="7.0" fill="#e1eef5"/>
<circle cx="836.5" cy="858.0" r="7.0" fill="#e1eef5"/>
<circle cx="495.0" cy="340.0" r="7.0" fill="#e1eef5"/>
<circle cx="858.5" cy="944.5" r="7.0" fill="#e1eef5"/>
<circle cx="724.5" cy="257.0" r="7.0" fill="#e1eef5"/>
<circle cx="891.0" cy="865.5" r="7.0" fill="#e1eef5"/>
<circle cx="807.0" cy="980.0" r="7.0" fill="#e2eef5"/>
<circle cx="576.5" cy="1014.5" r="7.0" fill="#e2eef5"/>
<circle cx="487.0" cy="309.5" r="7.0" fill="#e2eef5"/>
<circle cx="795.5" cy="309.0" r="7.0" fill="#e2eef5"/>
<circle cx="570.0" cy="296.5" r="7.0" fill="#e2eef5"/>
<circle cx="286.5" cy="466.5" r="7.0" fill="#e2eef5"/>
<circle cx="801.0" cy="890.6" r="7.0" fill="#e2eef5"/>
<circle cx="674.2" cy="816.2" r="7.0" fill="#e2eef5"/>
<circle cx="679.2" cy="832.1" r="7.0" fill="#e2eef5"/>
<circle cx="836.5" cy="864.5" r="7.0" fill="#e2eef5"/>
<circle cx="849.4" cy="437.9" r="7.0" fill="#e2eef5"/>
<circle cx="594.0" cy="294.5" r="7.0" fill="#e2eef5"/>
<circle cx="918.0" cy="814.5" r="7.0" fill="#e2eef5"/>
<circle cx="565.8" cy="443.8" r="7.0" fill="#e2eef5"/>
<circle cx="301.5" cy="307.0" r="7.0" fill="#e2eef5"/>
<circle cx="601.5" cy="486.0" r="7.0" fill="#e2eff5"/>
<circle cx="850.0" cy="849.0" r="7.0" fill="#e2eff5"/>
<circle cx="839.5" cy="945.0" r="7.0" fill="#e3eff5"/>
<circle cx="311.0" cy="364.5" r="7.0" fill="#e3eff5"/>
<circle cx="578.0" cy="273.5" r="7.0" fill="#e3eff5"/>
<circle cx="711.5" cy="746.9" r="7.0" fill="#e3eff5"/>
<circle cx="607.5" cy="300.0" r="7.0" fill="#e3eff5"/>
<circle cx="623.0" cy="457.5" r="7.0" fill="#e3eff5"/>
<circle cx="822.5" cy="894.4" r="7.0" fill="#e3eff5"/>
<circle cx="591.5" cy="284.0" r="7.0" fill="#e3eff5"/>
<circle cx="530.5" cy="251.0" r="7.0" fill="#e3eff5"/>
<circle cx="365.0" cy="388.0" r="7.0" fill="#e3eff5"/>
<circle cx="356.0" cy="439.5" r="7.0" fill="#e3eff5"/>
<circle cx="350.5" cy="419.5" r="7.0" fill="#e3eff5"/>
<circle cx="714.0" cy="297.0" r="7.0" fill="#e3eff5"/>
<circle cx="916.5" cy="819.5" r="7.0" fill="#e3eff5"/>
<circle cx="489.0" cy="350.0" r="7.0" fill="#e4eff5"/>
<circle cx="638.0" cy="1053.0" r="7.0" fill="#e4eff5"/>
<circle cx="687.0" cy="1054.0" r="7.0" fill="#e4eff5"/>
<circle cx="654.0" cy="1079.0" r="7.0" fill="#e4eff5"/>
<circle cx="584.5" cy="430.5" r="7.0" fill="#e4eff5"/>
<circle cx="787.1" cy="880.7" r="7.0" fill="#e4eff5"/>
<circle cx="467.5" cy="327.5" r="7.0" fill="#e4eff5"/>
<circle cx="872.5" cy="886.0" r="7.0" fill="#e4eff5"/>
<circle cx="494.5" cy="311.5" r="7.0" fill="#e4eff5"/>
<circle cx="939.0" cy="813.0" r="7.0" fill="#e4eff5"/>
<circle cx="449.0" cy="222.0" r="7.0" fill="#e4eff5"/>
<circle cx="550.0" cy="266.0" r="7.0" fill="#e4eff5"/>
<circle cx="576.0" cy="280.0" r="7.0" fill="#e4eff5"/>
<circle cx="582.0" cy="292.0" r="7.0" fill="#e4eff5"/>
<circle cx="618.0" cy="318.0" r="7.0" fill="#e4eff5"/>
<circle cx="460.0" cy="330.0" r="7.0" fill="#e4eff5"/>
<circle cx="520.0" cy="330.0" r="7.0" fill="#e4eff5"/>
<circle cx="510.0" cy="364.0" r="7.0" fill="#e4eff5"/>
<circle cx="468.0" cy="375.0" r="7.0" fill="#e4eff5"/>
<circle cx="684.0" cy="213.0" r="7.0" fill="#e4eff5"/>
<circle cx="734.0" cy="224.0" r="7.0" fill="#e4eff5"/>
<circle cx="670.0" cy="319.0" r="7.0" fill="#e4eff5"/>
<circle cx="755.0" cy="337.0" r="7.0" fill="#e4eff5"/>
<circle cx="803.0" cy="301.0" r="7.0" fill="#e4eff5"/>
<circle cx="851.0" cy="372.0" r="7.0" fill="#e4eff5"/>
<circle cx="1034.0" cy="307.0" r="7.0" fill="#e4eff5"/>
<circle cx="1022.0" cy="350.0" r="7.0" fill="#e4eff5"/>
<circle cx="371.0" cy="398.0" r="7.0" fill="#e4eff5"/>
<circle cx="307.0" cy="403.0" r="7.0" fill="#e4eff5"/>
<circle cx="370.0" cy="412.0" r="7.0" fill="#e4eff5"/>
<circle cx="422.0" cy="393.0" r="7.0" fill="#e4eff5"/>
<circle cx="398.0" cy="408.0" r="7.0" fill="#e4eff5"/>
<circle cx="412.0" cy="402.0" r="7.0" fill="#e4eff5"/>
<circle cx="413.0" cy="552.0" r="7.0" fill="#e4eff5"/>
<circle cx="578.0" cy="394.0" r="7.0" fill="#e4eff5"/>
<circle cx="741.0" cy="401.0" r="7.0" fill="#e4eff5"/>
<circle cx="644.0" cy="537.0" r="7.0" fill="#e4eff5"/>
<circle cx="1028.0" cy="418.0" r="7.0" fill="#e4eff5"/>
<circle cx="311.0" cy="893.0" r="7.0" fill="#e4eff5"/>
<circle cx="502.0" cy="973.0" r="7.0" fill="#e4eff5"/>
<circle cx="676.0" cy="949.0" r="7.0" fill="#e4eff5"/>
<circle cx="559.0" cy="1014.0" r="7.0" fill="#e4eff5"/>
<circle cx="568.0" cy="1053.0" r="7.0" fill="#e4eff5"/>
<circle cx="433.5" cy="870.5" r="7.0" fill="#e4eff5"/>
<circle cx="497.5" cy="891.5" r="7.0" fill="#e4eff5"/>
<circle cx="520.0" cy="910.0" r="7.0" fill="#e4eff5"/>
<circle cx="559.5" cy="914.0" r="7.0" fill="#e4eff5"/>
<circle cx="524.0" cy="921.0" r="7.0" fill="#e4eff5"/>
<circle cx="655.0" cy="796.0" r="7.0" fill="#e4eff5"/>
<circle cx="761.5" cy="712.5" r="7.0" fill="#e4eff5"/>
<circle cx="775.5" cy="708.5" r="7.0" fill="#e4eff5"/>
<circle cx="786.0" cy="706.5" r="7.0" fill="#e4eff5"/>
<circle cx="809.5" cy="711.0" r="7.0" fill="#e4eff5"/>
<circle cx="750.0" cy="730.0" r="7.0" fill="#e4eff5"/>
<circle cx="750.5" cy="770.5" r="7.0" fill="#e4eff5"/>
<circle cx="762.0" cy="864.0" r="7.0" fill="#e4eff5"/>
<circle cx="763.5" cy="900.5" r="7.0" fill="#e4eff5"/>
<circle cx="819.5" cy="928.0" r="7.0" fill="#e4eff5"/>
<circle cx="811.0" cy="939.0" r="7.0" fill="#e4eff5"/>
<circle cx="823.0" cy="936.0" r="7.0" fill="#e4eff5"/>
<circle cx="685.5" cy="686.0" r="7.0" fill="#e4eff5"/>
<circle cx="898.0" cy="498.0" r="7.0" fill="#e4eff5"/>
<circle cx="859.5" cy="520.5" r="7.0" fill="#e4eff5"/>
<circle cx="894.5" cy="519.0" r="7.0" fill="#e4eff5"/>
<circle cx="893.5" cy="909.0" r="7.0" fill="#e4eff5"/>
<circle cx="608.5" cy="237.5" r="7.0" fill="#e4eff5"/>
<circle cx="386.5" cy="541.0" r="7.0" fill="#e4eff6"/>
<circle cx="919.0" cy="831.0" r="7.0" fill="#e4eff6"/>
<circle cx="923.5" cy="903.0" r="7.0" fill="#e4eff6"/>
<circle cx="931.0" cy="812.5" r="7.0" fill="#e5f0f6"/>
<circle cx="503.5" cy="349.0" r="7.0" fill="#e5f0f6"/>
<circle cx="523.5" cy="372.5" r="7.0" fill="#e5f0f6"/>
<circle cx="897.5" cy="899.0" r="7.0" fill="#e5f0f6"/>
<circle cx="772.2" cy="829.8" r="7.0" fill="#e5f0f6"/>
<circle cx="419.5" cy="369.5" r="7.0" fill="#e5f0f6"/>
<circle cx="898.0" cy="918.5" r="7.0" fill="#e5f0f6"/>
<circle cx="622.0" cy="464.0" r="7.0" fill="#e5f0f6"/>
<circle cx="603.5" cy="493.5" r="7.0" fill="#e5f0f6"/>
<circle cx="809.0" cy="345.0" r="7.0" fill="#e5f0f6"/>
<circle cx="287.0" cy="463.0" r="7.0" fill="#e6f0f6"/>
<circle cx="598.0" cy="955.5" r="7.0" fill="#e6f0f6"/>
<circle cx="581.5" cy="434.0" r="7.0" fill="#e6f0f6"/>
<circle cx="628.5" cy="980.5" r="7.0" fill="#e6f0f6"/>
<circle cx="841.0" cy="873.0" r="7.0" fill="#e6f0f6"/>
<circle cx="939.0" cy="796.5" r="7.0" fill="#e6f0f6"/>
<circle cx="741.3" cy="853.5" r="7.0" fill="#e6f0f6"/>
<circle cx="342.0" cy="504.0" r="7.0" fill="#e6f0f6"/>
<circle cx="732.5" cy="312.0" r="7.0" fill="#e6f0f6"/>
<circle cx="790.0" cy="841.3" r="7.0" fill="#e6f0f6"/>
<circle cx="730.0" cy="297.0" r="7.0" fill="#e6f0f6"/>
<circle cx="562.3" cy="946.7" r="7.0" fill="#e6f0f6"/>
<circle cx="1019.0" cy="800.5" r="7.0" fill="#e6f0f6"/>
<circle cx="906.5" cy="907.0" r="7.0" fill="#e7f0f6"/>
<circle cx="324.5" cy="389.0" r="7.0" fill="#e7f0f6"/>
<circle cx="306.0" cy="335.0" r="7.0" fill="#e7f1f6"/>
<circle cx="304.0" cy="371.0" r="7.0" fill="#e7f1f6"/>
<circle cx="730.5" cy="292.5" r="7.0" fill="#e7f1f6"/>
<circle cx="708.0" cy="217.0" r="7.0" fill="#e7f1f6"/>
<circle cx="729.0" cy="223.0" r="7.0" fill="#e7f1f6"/>
<circle cx="832.0" cy="284.0" r="7.0" fill="#e7f1f6"/>
<circle cx="914.0" cy="299.0" r="7.0" fill="#e7f1f6"/>
<circle cx="463.0" cy="441.0" r="7.0" fill="#e7f1f6"/>
<circle cx="539.0" cy="412.0" r="7.0" fill="#e7f1f6"/>
<circle cx="556.0" cy="553.0" r="7.0" fill="#e7f1f6"/>
<circle cx="1016.0" cy="455.0" r="7.0" fill="#e7f1f6"/>
<circle cx="1046.0" cy="411.0" r="7.0" fill="#e7f1f6"/>
<circle cx="905.0" cy="789.0" r="7.0" fill="#e7f1f6"/>
<circle cx="920.0" cy="806.0" r="7.0" fill="#e7f1f6"/>
<circle cx="906.0" cy="800.0" r="7.0" fill="#e7f1f6"/>
<circle cx="932.0" cy="818.0" r="7.0" fill="#e7f1f6"/>
<circle cx="881.0" cy="817.0" r="7.0" fill="#e7f1f6"/>
<circle cx="924.0" cy="823.0" r="7.0" fill="#e7f1f6"/>
<circle cx="947.0" cy="843.0" r="7.0" fill="#e7f1f6"/>
<circle cx="921.0" cy="890.0" r="7.0" fill="#e7f1f6"/>
<circle cx="489.0" cy="952.0" r="7.0" fill="#e7f1f6"/>
<circle cx="559.0" cy="1005.0" r="7.0" fill="#e7f1f6"/>
<circle cx="838.0" cy="953.0" r="7.0" fill="#e7f1f6"/>
<circle cx="811.0" cy="980.0" r="7.0" fill="#e7f1f6"/>
<circle cx="453.5" cy="703.0" r="7.0" fill="#e7f1f6"/>
<circle cx="516.0" cy="899.0" r="7.0" fill="#e7f1f6"/>
<circle cx="747.0" cy="723.0" r="7.0" fill="#e7f1f6"/>
<circle cx="761.5" cy="723.5" r="7.0" fill="#e7f1f6"/>
<circle cx="803.5" cy="729.5" r="7.0" fill="#e7f1f6"/>
<circle cx="765.5" cy="753.0" r="7.0" fill="#e7f1f6"/>
<circle cx="799.5" cy="762.0" r="7.0" fill="#e7f1f6"/>
<circle cx="734.5" cy="768.0" r="7.0" fill="#e7f1f6"/>
<circle cx="655.0" cy="943.0" r="7.0" fill="#e7f1f6"/>
<circle cx="734.0" cy="886.0" r="7.0" fill="#e7f1f6"/>
<circle cx="742.5" cy="883.5" r="7.0" fill="#e7f1f6"/>
<circle cx="792.0" cy="914.0" r="7.0" fill="#e7f1f6"/>
<circle cx="778.5" cy="922.5" r="7.0" fill="#e7f1f6"/>
<circle cx="762.5" cy="935.0" r="7.0" fill="#e7f1f6"/>
<circle cx="762.0" cy="942.0" r="7.0" fill="#e7f1f6"/>
<circle cx="729.5" cy="587.5" r="7.0" fill="#e7f1f6"/>
<circle cx="779.5" cy="685.5" r="7.0" fill="#e7f1f6"/>
<circle cx="932.0" cy="491.0" r="7.0" fill="#e7f1f6"/>
<circle cx="924.0" cy="510.0" r="7.0" fill="#e7f1f6"/>
<circle cx="880.5" cy="521.0" r="7.0" fill="#e7f1f6"/>
<circle cx="834.5" cy="548.5" r="7.0" fill="#e7f1f6"/>
<circle cx="782.0" cy="455.0" r="7.0" fill="#e7f1f6"/>
<circle cx="779.5" cy="504.5" r="7.0" fill="#e7f1f6"/>
<circle cx="744.5" cy="488.5" r="7.0" fill="#e7f1f6"/>
<circle cx="731.0" cy="325.0" r="7.0" fill="#e7f1f6"/>
<circle cx="490.0" cy="331.0" r="7.0" fill="#e7f1f6"/>
<circle cx="595.5" cy="433.5" r="7.0" fill="#e7f1f6"/>
<circle cx="316.0" cy="279.0" r="7.0" fill="#e7f1f6"/>
<circle cx="329.0" cy="388.5" r="7.0" fill="#e7f1f6"/>
<circle cx="947.0" cy="789.0" r="7.0" fill="#e7f1f6"/>
<circle cx="468.5" cy="251.0" r="7.0" fill="#e7f1f6"/>
<circle cx="560.5" cy="962.5" r="7.0" fill="#e7f1f6"/>
<circle cx="324.0" cy="281.5" r="7.0" fill="#e7f1f6"/>
<circle cx="866.5" cy="908.0" r="7.0" fill="#e7f1f6"/>
<circle cx="522.0" cy="260.5" r="7.0" fill="#e7f1f6"/>
<circle cx="600.5" cy="489.5" r="7.0" fill="#e8f1f6"/>
<circle cx="735.0" cy="263.5" r="7.0" fill="#e8f1f6"/>
<circle cx="667.5" cy="821.4" r="7.0" fill="#e8f1f6"/>
<circle cx="312.0" cy="352.5" r="7.0" fill="#e8f1f6"/>
<circle cx="563.0" cy="303.0" r="7.0" fill="#e8f1f6"/>
<circle cx="615.5" cy="962.0" r="7.0" fill="#e8f1f6"/>
<circle cx="509.0" cy="1009.0" r="7.0" fill="#e8f1f6"/>
<circle cx="619.0" cy="963.0" r="7.0" fill="#e8f1f6"/>
<circle cx="795.8" cy="857.4" r="7.0" fill="#e8f1f6"/>
<circle cx="634.0" cy="1076.0" r="7.0" fill="#e9f1f6"/>
<circle cx="811.0" cy="866.6" r="7.0" fill="#e9f1f6"/>
<circle cx="656.5" cy="314.5" r="7.0" fill="#e9f2f6"/>
<circle cx="864.5" cy="946.5" r="7.0" fill="#e9f2f6"/>
<circle cx="572.5" cy="314.0" r="7.0" fill="#e9f2f6"/>
<circle cx="626.0" cy="970.0" r="7.0" fill="#e9f2f6"/>
<circle cx="637.0" cy="984.0" r="7.0" fill="#e9f2f6"/>
<circle cx="766.0" cy="1026.0" r="7.0" fill="#e9f2f6"/>
<circle cx="649.0" cy="1053.0" r="7.0" fill="#e9f2f6"/>
<circle cx="684.0" cy="1066.0" r="7.0" fill="#e9f2f6"/>
<circle cx="631.0" cy="1068.0" r="7.0" fill="#e9f2f6"/>
<circle cx="714.0" cy="1067.0" r="7.0" fill="#e9f2f6"/>
<circle cx="634.0" cy="1081.0" r="7.0" fill="#e9f2f6"/>
<circle cx="775.0" cy="960.0" r="7.0" fill="#e9f2f6"/>
<circle cx="769.0" cy="1028.0" r="7.0" fill="#e9f2f6"/>
<circle cx="727.0" cy="315.5" r="7.0" fill="#e9f2f6"/>
<circle cx="751.5" cy="298.0" r="7.0" fill="#e9f2f6"/>
<circle cx="862.0" cy="939.5" r="7.0" fill="#e9f2f6"/>
<circle cx="601.5" cy="957.0" r="7.0" fill="#e9f2f6"/>
<circle cx="886.5" cy="857.0" r="7.0" fill="#e9f2f6"/>
<circle cx="331.0" cy="496.5" r="7.0" fill="#e9f2f6"/>
<circle cx="301.0" cy="322.0" r="7.0" fill="#eaf2f6"/>
<circle cx="334.5" cy="396.0" r="7.0" fill="#eaf2f6"/>
<circle cx="716.0" cy="285.0" r="7.0" fill="#eaf2f6"/>
<circle cx="345.5" cy="394.5" r="7.0" fill="#eaf2f7"/>
<circle cx="869.0" cy="894.0" r="7.0" fill="#eaf2f7"/>
<circle cx="847.0" cy="860.0" r="7.0" fill="#eaf2f7"/>
<circle cx="477.0" cy="317.5" r="7.0" fill="#eaf2f7"/>
<circle cx="589.5" cy="561.2" r="7.0" fill="#eaf2f7"/>
<circle cx="919.5" cy="786.0" r="7.0" fill="#eaf2f7"/>
<circle cx="601.5" cy="440.0" r="7.0" fill="#eaf2f7"/>
<circle cx="956.0" cy="323.9" r="7.0" fill="#eaf2f7"/>
<circle cx="520.5" cy="291.0" r="7.0" fill="#ebf2f7"/>
<circle cx="910.0" cy="929.0" r="7.0" fill="#ebf2f7"/>
<circle cx="700.4" cy="871.8" r="7.0" fill="#ebf2f7"/>
<circle cx="351.0" cy="427.5" r="7.0" fill="#ebf2f7"/>
<circle cx="608.0" cy="443.0" r="7.0" fill="#ebf2f7"/>
<circle cx="619.0" cy="244.0" r="7.0" fill="#ebf2f7"/>
<circle cx="852.5" cy="944.0" r="7.0" fill="#ebf2f7"/>
<circle cx="331.5" cy="274.0" r="7.0" fill="#ebf2f7"/>
<circle cx="1015.5" cy="786.0" r="7.0" fill="#ebf3f7"/>
<circle cx="494.5" cy="354.5" r="7.0" fill="#ebf3f7"/>
<circle cx="556.0" cy="317.0" r="7.0" fill="#ebf3f7"/>
<circle cx="872.0" cy="929.0" r="7.0" fill="#ebf3f7"/>
<circle cx="911.0" cy="830.5" r="7.0" fill="#ebf3f7"/>
<circle cx="789.5" cy="312.5" r="7.0" fill="#ebf3f7"/>
<circle cx="796.5" cy="326.5" r="7.0" fill="#ebf3f7"/>
<circle cx="316.0" cy="370.5" r="7.0" fill="#ebf3f7"/>
<circle cx="628.5" cy="495.5" r="7.0" fill="#ebf3f7"/>
<circle cx="783.5" cy="304.5" r="7.0" fill="#ebf3f7"/>
<circle cx="620.5" cy="436.5" r="7.0" fill="#ebf3f7"/>
<circle cx="536.5" cy="323.0" r="7.0" fill="#ebf3f7"/>
<circle cx="598.0" cy="995.5" r="7.0" fill="#ecf3f7"/>
<circle cx="728.5" cy="317.0" r="7.0" fill="#ecf3f7"/>
<circle cx="575.0" cy="313.0" r="7.0" fill="#ecf3f7"/>
<circle cx="620.0" cy="533.0" r="7.0" fill="#ecf3f7"/>
<circle cx="723.5" cy="290.5" r="7.0" fill="#ecf3f7"/>
<circle cx="275.0" cy="296.0" r="7.0" fill="#ecf3f7"/>
<circle cx="308.0" cy="296.0" r="7.0" fill="#ecf3f7"/>
<circle cx="314.0" cy="347.0" r="7.0" fill="#ecf3f7"/>
<circle cx="246.0" cy="304.0" r="7.0" fill="#ecf3f7"/>
<circle cx="263.0" cy="315.0" r="7.0" fill="#ecf3f7"/>
<circle cx="273.0" cy="355.0" r="7.0" fill="#ecf3f7"/>
<circle cx="269.0" cy="361.0" r="7.0" fill="#ecf3f7"/>
<circle cx="305.0" cy="358.0" r="7.0" fill="#ecf3f7"/>
<circle cx="306.0" cy="367.0" r="7.0" fill="#ecf3f7"/>
<circle cx="320.0" cy="376.0" r="7.0" fill="#ecf3f7"/>
<circle cx="514.0" cy="213.0" r="7.0" fill="#ecf3f7"/>
<circle cx="483.0" cy="218.0" r="7.0" fill="#ecf3f7"/>
<circle cx="499.0" cy="228.0" r="7.0" fill="#ecf3f7"/>
<circle cx="506.0" cy="224.0" r="7.0" fill="#ecf3f7"/>
<circle cx="611.0" cy="232.0" r="7.0" fill="#ecf3f7"/>
<circle cx="620.0" cy="238.0" r="7.0" fill="#ecf3f7"/>
<circle cx="638.0" cy="242.0" r="7.0" fill="#ecf3f7"/>
<circle cx="524.0" cy="253.0" r="7.0" fill="#ecf3f7"/>
<circle cx="530.0" cy="262.0" r="7.0" fill="#ecf3f7"/>
<circle cx="567.0" cy="302.0" r="7.0" fill="#ecf3f7"/>
<circle cx="611.0" cy="294.0" r="7.0" fill="#ecf3f7"/>
<circle cx="604.0" cy="302.0" r="7.0" fill="#ecf3f7"/>
<circle cx="638.0" cy="306.0" r="7.0" fill="#ecf3f7"/>
<circle cx="487.0" cy="321.0" r="7.0" fill="#ecf3f7"/>
<circle cx="530.0" cy="321.0" r="7.0" fill="#ecf3f7"/>
<circle cx="500.0" cy="342.0" r="7.0" fill="#ecf3f7"/>
<circle cx="538.0" cy="329.0" r="7.0" fill="#ecf3f7"/>
<circle cx="427.0" cy="370.0" r="7.0" fill="#ecf3f7"/>
<circle cx="506.0" cy="358.0" r="7.0" fill="#ecf3f7"/>
<circle cx="443.0" cy="373.0" r="7.0" fill="#ecf3f7"/>
<circle cx="478.0" cy="378.0" r="7.0" fill="#ecf3f7"/>
<circle cx="489.0" cy="380.0" r="7.0" fill="#ecf3f7"/>
<circle cx="500.0" cy="378.0" r="7.0" fill="#ecf3f7"/>
<circle cx="770.0" cy="266.0" r="7.0" fill="#ecf3f7"/>
<circle cx="752.0" cy="262.0" r="7.0" fill="#ecf3f7"/>
<circle cx="656.0" cy="307.0" r="7.0" fill="#ecf3f7"/>
<circle cx="650.0" cy="319.0" r="7.0" fill="#ecf3f7"/>
<circle cx="719.0" cy="294.0" r="7.0" fill="#ecf3f7"/>
<circle cx="799.0" cy="280.0" r="7.0" fill="#ecf3f7"/>
<circle cx="791.0" cy="299.0" r="7.0" fill="#ecf3f7"/>
<circle cx="862.0" cy="279.0" r="7.0" fill="#ecf3f7"/>
<circle cx="798.0" cy="339.0" r="7.0" fill="#ecf3f7"/>
<circle cx="800.0" cy="349.0" r="7.0" fill="#ecf3f7"/>
<circle cx="812.0" cy="344.0" r="7.0" fill="#ecf3f7"/>
<circle cx="835.0" cy="334.0" r="7.0" fill="#ecf3f7"/>
<circle cx="852.0" cy="346.0" r="7.0" fill="#ecf3f7"/>
<circle cx="880.0" cy="352.0" r="7.0" fill="#ecf3f7"/>
<circle cx="876.0" cy="359.0" r="7.0" fill="#ecf3f7"/>
<circle cx="745.0" cy="354.0" r="7.0" fill="#ecf3f7"/>
<circle cx="912.0" cy="286.0" r="7.0" fill="#ecf3f7"/>
<circle cx="906.0" cy="287.0" r="7.0" fill="#ecf3f7"/>
<circle cx="949.0" cy="290.0" r="7.0" fill="#ecf3f7"/>
<circle cx="1038.0" cy="288.0" r="7.0" fill="#ecf3f7"/>
<circle cx="984.0" cy="308.0" r="7.0" fill="#ecf3f7"/>
<circle cx="994.0" cy="320.0" r="7.0" fill="#ecf3f7"/>
<circle cx="906.0" cy="323.0" r="7.0" fill="#ecf3f7"/>
<circle cx="1024.0" cy="346.0" r="7.0" fill="#ecf3f7"/>
<circle cx="244.0" cy="406.0" r="7.0" fill="#ecf3f7"/>
<circle cx="328.0" cy="387.0" r="7.0" fill="#ecf3f7"/>
<circle cx="382.0" cy="390.0" r="7.0" fill="#ecf3f7"/>
<circle cx="274.0" cy="417.0" r="7.0" fill="#ecf3f7"/>
<circle cx="290.0" cy="416.0" r="7.0" fill="#ecf3f7"/>
<circle cx="350.0" cy="433.0" r="7.0" fill="#ecf3f7"/>
<circle cx="356.0" cy="445.0" r="7.0" fill="#ecf3f7"/>
<circle cx="359.0" cy="452.0" r="7.0" fill="#ecf3f7"/>
<circle cx="281.0" cy="459.0" r="7.0" fill="#ecf3f7"/>
<circle cx="354.0" cy="463.0" r="7.0" fill="#ecf3f7"/>
<circle cx="381.0" cy="488.0" r="7.0" fill="#ecf3f7"/>
<circle cx="283.0" cy="492.0" r="7.0" fill="#ecf3f7"/>
<circle cx="300.0" cy="497.0" r="7.0" fill="#ecf3f7"/>
<circle cx="338.0" cy="494.0" r="7.0" fill="#ecf3f7"/>
<circle cx="378.0" cy="548.0" r="7.0" fill="#ecf3f7"/>
<circle cx="370.0" cy="567.0" r="7.0" fill="#ecf3f7"/>
<circle cx="388.0" cy="394.0" r="7.0" fill="#ecf3f7"/>
<circle cx="455.0" cy="394.0" r="7.0" fill="#ecf3f7"/>
<circle cx="444.0" cy="403.0" r="7.0" fill="#ecf3f7"/>
<circle cx="466.0" cy="390.0" r="7.0" fill="#ecf3f7"/>
<circle cx="494.0" cy="394.0" r="7.0" fill="#ecf3f7"/>
<circle cx="388.0" cy="479.0" r="7.0" fill="#ecf3f7"/>
<circle cx="385.0" cy="509.0" r="7.0" fill="#ecf3f7"/>
<circle cx="402.0" cy="529.0" r="7.0" fill="#ecf3f7"/>
<circle cx="519.0" cy="432.0" r="7.0" fill="#ecf3f7"/>
<circle cx="571.0" cy="432.0" r="7.0" fill="#ecf3f7"/>
<circle cx="594.0" cy="428.0" r="7.0" fill="#ecf3f7"/>
<circle cx="602.0" cy="433.0" r="7.0" fill="#ecf3f7"/>
<circle cx="625.0" cy="450.0" r="7.0" fill="#ecf3f7"/>
<circle cx="620.0" cy="460.0" r="7.0" fill="#ecf3f7"/>
<circle cx="631.0" cy="469.0" r="7.0" fill="#ecf3f7"/>
<circle cx="501.0" cy="466.0" r="7.0" fill="#ecf3f7"/>
<circle cx="608.0" cy="498.0" r="7.0" fill="#ecf3f7"/>
<circle cx="499.0" cy="508.0" r="7.0" fill="#ecf3f7"/>
<circle cx="630.0" cy="528.0" r="7.0" fill="#ecf3f7"/>
<circle cx="529.0" cy="560.0" r="7.0" fill="#ecf3f7"/>
<circle cx="666.0" cy="384.0" r="7.0" fill="#ecf3f7"/>
<circle cx="694.0" cy="388.0" r="7.0" fill="#ecf3f7"/>
<circle cx="706.0" cy="386.0" r="7.0" fill="#ecf3f7"/>
<circle cx="804.0" cy="404.0" r="7.0" fill="#ecf3f7"/>
<circle cx="874.0" cy="407.0" r="7.0" fill="#ecf3f7"/>
<circle cx="886.0" cy="409.0" r="7.0" fill="#ecf3f7"/>
<circle cx="659.0" cy="503.0" r="7.0" fill="#ecf3f7"/>
<circle cx="968.0" cy="450.0" r="7.0" fill="#ecf3f7"/>
<circle cx="972.0" cy="455.0" r="7.0" fill="#ecf3f7"/>
<circle cx="1006.0" cy="447.0" r="7.0" fill="#ecf3f7"/>
<circle cx="1053.0" cy="446.0" r="7.0" fill="#ecf3f7"/>
<circle cx="1066.0" cy="445.0" r="7.0" fill="#ecf3f7"/>
<circle cx="984.0" cy="494.0" r="7.0" fill="#ecf3f7"/>
<circle cx="859.0" cy="721.0" r="7.0" fill="#ecf3f7"/>
<circle cx="905.0" cy="778.0" r="7.0" fill="#ecf3f7"/>
<circle cx="920.0" cy="777.0" r="7.0" fill="#ecf3f7"/>
<circle cx="869.0" cy="797.0" r="7.0" fill="#ecf3f7"/>
<circle cx="915.0" cy="792.0" r="7.0" fill="#ecf3f7"/>
<circle cx="940.0" cy="789.0" r="7.0" fill="#ecf3f7"/>
<circle cx="932.0" cy="806.0" r="7.0" fill="#ecf3f7"/>
<circle cx="830.0" cy="822.0" r="7.0" fill="#ecf3f7"/>
<circle cx="867.0" cy="824.0" r="7.0" fill="#ecf3f7"/>
<circle cx="893.0" cy="836.0" r="7.0" fill="#ecf3f7"/>
<circle cx="850.0" cy="847.0" r="7.0" fill="#ecf3f7"/>
<circle cx="870.0" cy="854.0" r="7.0" fill="#ecf3f7"/>
<circle cx="970.0" cy="848.0" r="7.0" fill="#ecf3f7"/>
<circle cx="841.0" cy="866.0" r="7.0" fill="#ecf3f7"/>
<circle cx="910.0" cy="867.0" r="7.0" fill="#ecf3f7"/>
<circle cx="902.0" cy="872.0" r="7.0" fill="#ecf3f7"/>
<circle cx="908.0" cy="884.0" r="7.0" fill="#ecf3f7"/>
<circle cx="876.0" cy="890.0" r="7.0" fill="#ecf3f7"/>
<circle cx="864.0" cy="893.0" r="7.0" fill="#ecf3f7"/>
<circle cx="1021.0" cy="790.0" r="7.0" fill="#ecf3f7"/>
<circle cx="493.0" cy="1002.0" r="7.0" fill="#ecf3f7"/>
<circle cx="644.0" cy="950.0" r="7.0" fill="#ecf3f7"/>
<circle cx="751.0" cy="953.0" r="7.0" fill="#ecf3f7"/>
<circle cx="590.0" cy="984.0" r="7.0" fill="#ecf3f7"/>
<circle cx="588.0" cy="1024.0" r="7.0" fill="#ecf3f7"/>
<circle cx="569.0" cy="1028.0" r="7.0" fill="#ecf3f7"/>
<circle cx="607.0" cy="1041.0" r="7.0" fill="#ecf3f7"/>
<circle cx="617.0" cy="1066.0" r="7.0" fill="#ecf3f7"/>
<circle cx="860.0" cy="900.0" r="7.0" fill="#ecf3f7"/>
<circle cx="868.0" cy="905.0" r="7.0" fill="#ecf3f7"/>
<circle cx="884.0" cy="902.0" r="7.0" fill="#ecf3f7"/>
<circle cx="894.0" cy="902.0" r="7.0" fill="#ecf3f7"/>
<circle cx="934.0" cy="908.0" r="7.0" fill="#ecf3f7"/>
<circle cx="862.0" cy="922.0" r="7.0" fill="#ecf3f7"/>
<circle cx="892.0" cy="924.0" r="7.0" fill="#ecf3f7"/>
<circle cx="900.0" cy="923.0" r="7.0" fill="#ecf3f7"/>
<circle cx="846.0" cy="944.0" r="7.0" fill="#ecf3f7"/>
<circle cx="840.0" cy="938.0" r="7.0" fill="#ecf3f7"/>
<circle cx="796.0" cy="986.0" r="7.0" fill="#ecf3f7"/>
<circle cx="817.0" cy="969.0" r="7.0" fill="#ecf3f7"/>
<circle cx="571.0" cy="768.0" r="7.0" fill="#ecf3f7"/>
<circle cx="568.0" cy="810.0" r="7.0" fill="#ecf3f7"/>
<circle cx="486.5" cy="906.0" r="7.0" fill="#ecf3f7"/>
<circle cx="565.0" cy="901.5" r="7.0" fill="#ecf3f7"/>
<circle cx="496.5" cy="925.5" r="7.0" fill="#ecf3f7"/>
<circle cx="506.0" cy="925.0" r="7.0" fill="#ecf3f7"/>
<circle cx="515.5" cy="920.0" r="7.0" fill="#ecf3f7"/>
<circle cx="528.5" cy="933.0" r="7.0" fill="#ecf3f7"/>
<circle cx="545.0" cy="938.0" r="7.0" fill="#ecf3f7"/>
<circle cx="642.5" cy="739.5" r="7.0" fill="#ecf3f7"/>
<circle cx="685.0" cy="788.5" r="7.0" fill="#ecf3f7"/>
<circle cx="601.5" cy="813.5" r="7.0" fill="#ecf3f7"/>
<circle cx="764.0" cy="698.0" r="7.0" fill="#ecf3f7"/>
<circle cx="774.0" cy="696.0" r="7.0" fill="#ecf3f7"/>
<circle cx="751.5" cy="716.5" r="7.0" fill="#ecf3f7"/>
<circle cx="720.0" cy="729.0" r="7.0" fill="#ecf3f7"/>
<circle cx="704.0" cy="733.0" r="7.0" fill="#ecf3f7"/>
<circle cx="713.5" cy="739.0" r="7.0" fill="#ecf3f7"/>
<circle cx="725.0" cy="735.0" r="7.0" fill="#ecf3f7"/>
<circle cx="723.0" cy="759.0" r="7.0" fill="#ecf3f7"/>
<circle cx="729.0" cy="770.0" r="7.0" fill="#ecf3f7"/>
<circle cx="713.0" cy="777.0" r="7.0" fill="#ecf3f7"/>
<circle cx="770.0" cy="786.0" r="7.0" fill="#ecf3f7"/>
<circle cx="770.5" cy="791.0" r="7.0" fill="#ecf3f7"/>
<circle cx="704.0" cy="780.0" r="7.0" fill="#ecf3f7"/>
<circle cx="711.5" cy="804.0" r="7.0" fill="#ecf3f7"/>
<circle cx="721.5" cy="809.0" r="7.0" fill="#ecf3f7"/>
<circle cx="688.0" cy="860.0" r="7.0" fill="#ecf3f7"/>
<circle cx="578.5" cy="866.0" r="7.0" fill="#ecf3f7"/>
<circle cx="664.5" cy="876.0" r="7.0" fill="#ecf3f7"/>
<circle cx="602.0" cy="880.0" r="7.0" fill="#ecf3f7"/>
<circle cx="673.5" cy="939.5" r="7.0" fill="#ecf3f7"/>
<circle cx="790.0" cy="821.0" r="7.0" fill="#ecf3f7"/>
<circle cx="824.0" cy="828.0" r="7.0" fill="#ecf3f7"/>
<circle cx="747.0" cy="834.0" r="7.0" fill="#ecf3f7"/>
<circle cx="772.0" cy="840.0" r="7.0" fill="#ecf3f7"/>
<circle cx="754.0" cy="848.0" r="7.0" fill="#ecf3f7"/>
<circle cx="821.0" cy="855.0" r="7.0" fill="#ecf3f7"/>
<circle cx="720.0" cy="865.0" r="7.0" fill="#ecf3f7"/>
<circle cx="776.0" cy="903.5" r="7.0" fill="#ecf3f7"/>
<circle cx="815.0" cy="902.0" r="7.0" fill="#ecf3f7"/>
<circle cx="800.0" cy="913.0" r="7.0" fill="#ecf3f7"/>
<circle cx="803.5" cy="923.5" r="7.0" fill="#ecf3f7"/>
<circle cx="785.5" cy="943.0" r="7.0" fill="#ecf3f7"/>
<circle cx="825.0" cy="943.0" r="7.0" fill="#ecf3f7"/>
<circle cx="577.0" cy="566.0" r="7.0" fill="#ecf3f7"/>
<circle cx="955.0" cy="458.0" r="7.0" fill="#ecf3f7"/>
<circle cx="890.5" cy="488.0" r="7.0" fill="#ecf3f7"/>
<circle cx="941.0" cy="496.0" r="7.0" fill="#ecf3f7"/>
<circle cx="953.0" cy="492.5" r="7.0" fill="#ecf3f7"/>
<circle cx="900.0" cy="507.0" r="7.0" fill="#ecf3f7"/>
<circle cx="880.0" cy="509.0" r="7.0" fill="#ecf3f7"/>
<circle cx="927.5" cy="519.0" r="7.0" fill="#ecf3f7"/>
<circle cx="850.5" cy="530.0" r="7.0" fill="#ecf3f7"/>
<circle cx="849.0" cy="891.5" r="7.0" fill="#ecf3f7"/>
<circle cx="690.7" cy="816.1" r="7.0" fill="#ecf3f7"/>
<circle cx="331.5" cy="346.5" r="7.0" fill="#ecf3f7"/>
<circle cx="617.0" cy="499.5" r="7.0" fill="#ecf3f7"/>
<circle cx="364.0" cy="494.5" r="7.0" fill="#ecf3f7"/>
<circle cx="360.0" cy="513.0" r="7.0" fill="#edf3f7"/>
<circle cx="466.5" cy="286.5" r="7.0" fill="#edf3f7"/>
<circle cx="855.5" cy="921.5" r="7.0" fill="#edf3f7"/>
<circle cx="461.5" cy="309.0" r="7.0" fill="#edf4f7"/>
<circle cx="610.0" cy="993.5" r="7.0" fill="#edf4f7"/>
<circle cx="351.0" cy="469.5" r="7.0" fill="#edf4f7"/>
<circle cx="584.5" cy="1000.5" r="7.0" fill="#edf4f7"/>
<circle cx="534.5" cy="954.5" r="7.0" fill="#edf4f7"/>
<circle cx="926.5" cy="839.5" r="7.0" fill="#edf4f7"/>
<circle cx="404.5" cy="269.5" r="7.0" fill="#eef4f7"/>
<circle cx="990.5" cy="459.1" r="7.0" fill="#eef4f7"/>
<circle cx="871.5" cy="860.5" r="7.0" fill="#eef4f7"/>
<circle cx="634.0" cy="544.0" r="7.0" fill="#eef4f7"/>
<circle cx="349.0" cy="543.5" r="7.0" fill="#eef4f7"/>
<circle cx="307.5" cy="904.5" r="7.0" fill="#eef4f7"/>
<circle cx="610.5" cy="979.0" r="7.0" fill="#eef4f7"/>
<circle cx="500.0" cy="501.5" r="7.0" fill="#eef4f7"/>
<circle cx="805.0" cy="323.5" r="7.0" fill="#eef4f7"/>
<circle cx="353.5" cy="496.5" r="7.0" fill="#eef4f7"/>
<circle cx="870.0" cy="867.0" r="7.0" fill="#eff4f7"/>
<circle cx="483.5" cy="300.0" r="7.0" fill="#eff4f7"/>
<circle cx="870.0" cy="879.0" r="7.0" fill="#eff4f7"/>
<circle cx="310.5" cy="486.0" r="7.0" fill="#eff4f7"/>
<circle cx="516.0" cy="300.5" r="7.0" fill="#eff4f7"/>
<circle cx="328.0" cy="274.0" r="7.0" fill="#eff4f7"/>
<circle cx="514.5" cy="904.5" r="7.0" fill="#eff4f7"/>
<circle cx="943.0" cy="500.0" r="7.0" fill="#eff4f7"/>
<circle cx="789.5" cy="464.0" r="7.0" fill="#eff4f7"/>
<circle cx="796.0" cy="463.0" r="7.0" fill="#eff4f7"/>
<circle cx="680.0" cy="286.0" r="7.0" fill="#eff4f7"/>
<circle cx="956.5" cy="807.5" r="7.0" fill="#eff4f7"/>
<circle cx="431.0" cy="327.0" r="7.0" fill="#eff4f7"/>
<circle cx="613.0" cy="991.5" r="7.0" fill="#eff5f8"/>
<circle cx="608.0" cy="995.5" r="7.0" fill="#eff5f8"/>
<circle cx="895.5" cy="857.0" r="7.0" fill="#eff5f8"/>
<circle cx="875.0" cy="854.5" r="7.0" fill="#eff5f8"/>
<circle cx="772.9" cy="887.6" r="7.0" fill="#eff5f8"/>
<circle cx="709.5" cy="282.0" r="7.0" fill="#f0f5f8"/>
<circle cx="547.0" cy="304.0" r="7.0" fill="#f0f5f8"/>
<circle cx="589.5" cy="314.5" r="7.0" fill="#f0f5f8"/>
<circle cx="289.5" cy="430.5" r="7.0" fill="#f0f5f8"/>
<circle cx="401.0" cy="356.5" r="7.0" fill="#f0f5f8"/>
<circle cx="514.0" cy="342.0" r="7.0" fill="#f0f5f8"/>
<circle cx="360.0" cy="510.5" r="7.0" fill="#f0f5f8"/>
<circle cx="815.4" cy="884.2" r="7.0" fill="#f0f5f8"/>
<circle cx="1000.0" cy="818.5" r="7.0" fill="#f0f5f8"/>
<circle cx="380.0" cy="534.0" r="7.0" fill="#f0f5f8"/>
<circle cx="431.5" cy="322.0" r="7.0" fill="#f0f5f8"/>
<circle cx="694.5" cy="270.5" r="7.0" fill="#f0f5f8"/>
<circle cx="622.5" cy="267.0" r="7.0" fill="#f1f5f8"/>
<circle cx="690.0" cy="276.0" r="7.0" fill="#f1f5f8"/>
<circle cx="364.0" cy="509.5" r="7.0" fill="#f1f5f8"/>
<circle cx="749.0" cy="322.0" r="7.0" fill="#f1f5f8"/>
<circle cx="470.5" cy="268.0" r="7.0" fill="#f1f5f8"/>
<circle cx="246.5" cy="388.0" r="7.0" fill="#f1f5f8"/>
<circle cx="332.0" cy="296.0" r="7.0" fill="#f1f6f8"/>
<circle cx="582.0" cy="969.0" r="7.0" fill="#f1f6f8"/>
<circle cx="326.0" cy="315.0" r="7.0" fill="#f1f6f8"/>
<circle cx="584.5" cy="315.0" r="7.0" fill="#f2f6f8"/>
<circle cx="897.5" cy="852.0" r="7.0" fill="#f2f6f8"/>
<circle cx="579.5" cy="969.5" r="7.0" fill="#f2f6f8"/>
<circle cx="400.0" cy="369.0" r="7.0" fill="#f2f6f8"/>
<circle cx="881.5" cy="864.5" r="7.0" fill="#f2f6f8"/>
<circle cx="377.0" cy="350.0" r="7.0" fill="#f2f6f8"/>
<circle cx="470.0" cy="240.0" r="7.0" fill="#f2f6f8"/>
<circle cx="532.0" cy="291.0" r="7.0" fill="#f2f6f8"/>
<circle cx="852.5" cy="874.0" r="7.0" fill="#f2f6f8"/>
<circle cx="427.5" cy="251.0" r="7.0" fill="#f2f6f8"/>
<circle cx="699.5" cy="298.0" r="7.0" fill="#f2f6f8"/>
<circle cx="915.0" cy="905.0" r="7.0" fill="#f2f6f8"/>
<circle cx="358.5" cy="421.5" r="7.0" fill="#f3f6f8"/>
<circle cx="606.0" cy="250.0" r="7.0" fill="#f3f6f8"/>
<circle cx="360.5" cy="504.0" r="7.0" fill="#f3f6f8"/>
<circle cx="608.0" cy="963.5" r="7.0" fill="#f3f6f8"/>
<circle cx="916.0" cy="928.0" r="7.0" fill="#f3f6f8"/>
<circle cx="345.5" cy="301.0" r="7.0" fill="#f3f6f8"/>
<circle cx="694.0" cy="294.5" r="7.0" fill="#f3f6f8"/>
<circle cx="603.0" cy="253.0" r="7.0" fill="#f3f6f8"/>
<circle cx="625.0" cy="956.0" r="7.0" fill="#f3f6f8"/>
<circle cx="370.5" cy="546.0" r="7.0" fill="#f3f6f8"/>
<circle cx="334.5" cy="490.0" r="7.0" fill="#f3f6f8"/>
<circle cx="352.5" cy="409.5" r="7.0" fill="#f3f6f8"/>
<circle cx="480.0" cy="247.5" r="7.0" fill="#f3f6f8"/>
<circle cx="886.0" cy="940.0" r="7.0" fill="#f3f6f8"/>
<circle cx="556.0" cy="984.5" r="7.0" fill="#f3f6f8"/>
<circle cx="560.5" cy="954.5" r="7.0" fill="#f3f6f8"/>
<circle cx="412.0" cy="375.5" r="7.0" fill="#f3f7f8"/>
<circle cx="395.0" cy="259.5" r="7.0" fill="#f3f7f8"/>
<circle cx="612.0" cy="217.5" r="7.0" fill="#f3f7f8"/>
<circle cx="982.5" cy="815.0" r="7.0" fill="#f3f7f8"/>
<circle cx="1022.5" cy="804.0" r="7.0" fill="#f4f7f8"/>
<circle cx="546.5" cy="289.0" r="7.0" fill="#f4f7f8"/>
<circle cx="354.0" cy="393.5" r="7.0" fill="#f4f7f8"/>
<circle cx="407.5" cy="271.5" r="7.0" fill="#f4f7f8"/>
<circle cx="585.5" cy="975.5" r="7.0" fill="#f4f7f8"/>
<circle cx="242.5" cy="309.5" r="7.0" fill="#f4f7f8"/>
<circle cx="470.5" cy="227.5" r="7.0" fill="#f4f7f8"/>
<circle cx="245.0" cy="324.0" r="7.0" fill="#f4f7f8"/>
<circle cx="476.0" cy="224.0" r="7.0" fill="#f4f7f8"/>
<circle cx="614.0" cy="209.0" r="7.0" fill="#f4f7f8"/>
<circle cx="640.0" cy="214.0" r="7.0" fill="#f4f7f8"/>
<circle cx="476.0" cy="246.0" r="7.0" fill="#f4f7f8"/>
<circle cx="418.0" cy="255.0" r="7.0" fill="#f4f7f8"/>
<circle cx="478.0" cy="254.0" r="7.0" fill="#f4f7f8"/>
<circle cx="436.0" cy="314.0" r="7.0" fill="#f4f7f8"/>
<circle cx="548.0" cy="321.0" r="7.0" fill="#f4f7f8"/>
<circle cx="610.0" cy="311.0" r="7.0" fill="#f4f7f8"/>
<circle cx="468.0" cy="333.0" r="7.0" fill="#f4f7f8"/>
<circle cx="482.0" cy="339.0" r="7.0" fill="#f4f7f8"/>
<circle cx="548.0" cy="344.0" r="7.0" fill="#f4f7f8"/>
<circle cx="412.0" cy="367.0" r="7.0" fill="#f4f7f8"/>
<circle cx="438.0" cy="366.0" r="7.0" fill="#f4f7f8"/>
<circle cx="450.0" cy="364.0" r="7.0" fill="#f4f7f8"/>
<circle cx="497.0" cy="353.0" r="7.0" fill="#f4f7f8"/>
<circle cx="528.0" cy="360.0" r="7.0" fill="#f4f7f8"/>
<circle cx="431.0" cy="375.0" r="7.0" fill="#f4f7f8"/>
<circle cx="657.0" cy="236.0" r="7.0" fill="#f4f7f8"/>
<circle cx="641.0" cy="323.0" r="7.0" fill="#f4f7f8"/>
<circle cx="820.0" cy="276.0" r="7.0" fill="#f4f7f8"/>
<circle cx="827.0" cy="287.0" r="7.0" fill="#f4f7f8"/>
<circle cx="800.0" cy="328.0" r="7.0" fill="#f4f7f8"/>
<circle cx="838.0" cy="346.0" r="7.0" fill="#f4f7f8"/>
<circle cx="1045.0" cy="300.0" r="7.0" fill="#f4f7f8"/>
<circle cx="1066.0" cy="334.0" r="7.0" fill="#f4f7f8"/>
<circle cx="942.0" cy="352.0" r="7.0" fill="#f4f7f8"/>
<circle cx="340.0" cy="392.0" r="7.0" fill="#f4f7f8"/>
<circle cx="370.0" cy="387.0" r="7.0" fill="#f4f7f8"/>
<circle cx="356.0" cy="400.0" r="7.0" fill="#f4f7f8"/>
<circle cx="380.0" cy="402.0" r="7.0" fill="#f4f7f8"/>
<circle cx="296.0" cy="470.0" r="7.0" fill="#f4f7f8"/>
<circle cx="287.0" cy="499.0" r="7.0" fill="#f4f7f8"/>
<circle cx="402.0" cy="468.0" r="7.0" fill="#f4f7f8"/>
<circle cx="424.0" cy="476.0" r="7.0" fill="#f4f7f8"/>
<circle cx="587.0" cy="398.0" r="7.0" fill="#f4f7f8"/>
<circle cx="664.0" cy="508.0" r="7.0" fill="#f4f7f8"/>
<circle cx="906.0" cy="432.0" r="7.0" fill="#f4f7f8"/>
<circle cx="979.0" cy="457.0" r="7.0" fill="#f4f7f8"/>
<circle cx="1058.0" cy="429.0" r="7.0" fill="#f4f7f8"/>
<circle cx="1070.0" cy="477.0" r="7.0" fill="#f4f7f8"/>
<circle cx="962.0" cy="496.0" r="7.0" fill="#f4f7f8"/>
<circle cx="968.0" cy="494.0" r="7.0" fill="#f4f7f8"/>
<circle cx="945.0" cy="817.0" r="7.0" fill="#f4f7f8"/>
<circle cx="911.0" cy="817.0" r="7.0" fill="#f4f7f8"/>
<circle cx="989.0" cy="832.0" r="7.0" fill="#f4f7f8"/>
<circle cx="923.0" cy="848.0" r="7.0" fill="#f4f7f8"/>
<circle cx="938.0" cy="861.0" r="7.0" fill="#f4f7f8"/>
<circle cx="895.0" cy="866.0" r="7.0" fill="#f4f7f8"/>
<circle cx="1022.0" cy="816.0" r="7.0" fill="#f4f7f8"/>
<circle cx="505.0" cy="962.0" r="7.0" fill="#f4f7f8"/>
<circle cx="493.0" cy="992.0" r="7.0" fill="#f4f7f8"/>
<circle cx="602.0" cy="988.0" r="7.0" fill="#f4f7f8"/>
<circle cx="622.0" cy="984.0" r="7.0" fill="#f4f7f8"/>
<circle cx="623.0" cy="993.0" r="7.0" fill="#f4f7f8"/>
<circle cx="532.0" cy="1033.0" r="7.0" fill="#f4f7f8"/>
<circle cx="676.0" cy="1070.0" r="7.0" fill="#f4f7f8"/>
<circle cx="697.0" cy="1072.0" r="7.0" fill="#f4f7f8"/>
<circle cx="920.0" cy="898.0" r="7.0" fill="#f4f7f8"/>
<circle cx="899.0" cy="902.0" r="7.0" fill="#f4f7f8"/>
<circle cx="915.0" cy="907.0" r="7.0" fill="#f4f7f8"/>
<circle cx="878.0" cy="944.0" r="7.0" fill="#f4f7f8"/>
<circle cx="860.0" cy="946.0" r="7.0" fill="#f4f7f8"/>
<circle cx="792.0" cy="983.0" r="7.0" fill="#f4f7f8"/>
<circle cx="353.5" cy="826.5" r="7.0" fill="#f4f7f8"/>
<circle cx="686.5" cy="730.5" r="7.0" fill="#f4f7f8"/>
<circle cx="684.5" cy="740.5" r="7.0" fill="#f4f7f8"/>
<circle cx="699.0" cy="782.0" r="7.0" fill="#f4f7f8"/>
<circle cx="684.0" cy="797.5" r="7.0" fill="#f4f7f8"/>
<circle cx="694.5" cy="801.0" r="7.0" fill="#f4f7f8"/>
<circle cx="659.0" cy="814.0" r="7.0" fill="#f4f7f8"/>
<circle cx="732.0" cy="805.0" r="7.0" fill="#f4f7f8"/>
<circle cx="744.0" cy="808.0" r="7.0" fill="#f4f7f8"/>
<circle cx="677.0" cy="824.0" r="7.0" fill="#f4f7f8"/>
<circle cx="586.5" cy="851.0" r="7.0" fill="#f4f7f8"/>
<circle cx="576.0" cy="874.0" r="7.0" fill="#f4f7f8"/>
<circle cx="634.5" cy="867.0" r="7.0" fill="#f4f7f8"/>
<circle cx="619.5" cy="922.5" r="7.0" fill="#f4f7f8"/>
<circle cx="695.5" cy="928.5" r="7.0" fill="#f4f7f8"/>
<circle cx="785.5" cy="834.5" r="7.0" fill="#f4f7f8"/>
<circle cx="803.0" cy="862.0" r="7.0" fill="#f4f7f8"/>
<circle cx="703.0" cy="882.0" r="7.0" fill="#f4f7f8"/>
<circle cx="794.5" cy="884.5" r="7.0" fill="#f4f7f8"/>
<circle cx="809.0" cy="944.0" r="7.0" fill="#f4f7f8"/>
<circle cx="722.5" cy="622.0" r="7.0" fill="#f4f7f8"/>
<circle cx="713.5" cy="675.5" r="7.0" fill="#f4f7f8"/>
<circle cx="842.5" cy="445.5" r="7.0" fill="#f4f7f8"/>
<circle cx="911.0" cy="447.0" r="7.0" fill="#f4f7f8"/>
<circle cx="921.0" cy="442.0" r="7.0" fill="#f4f7f8"/>
<circle cx="916.5" cy="500.0" r="7.0" fill="#f4f7f8"/>
<circle cx="900.5" cy="510.0" r="7.0" fill="#f4f7f8"/>
<circle cx="910.5" cy="528.5" r="7.0" fill="#f4f7f8"/>
<circle cx="845.5" cy="534.0" r="7.0" fill="#f4f7f8"/>
<circle cx="766.5" cy="457.5" r="7.0" fill="#f4f7f8"/>
<circle cx="767.5" cy="475.5" r="7.0" fill="#f4f7f8"/>
<circle cx="630.0" cy="271.0" r="7.0" fill="#f4f7f8"/>
<circle cx="819.0" cy="342.5" r="7.0" fill="#f4f7f8"/>
<circle cx="350.5" cy="477.0" r="7.0" fill="#f4f7f8"/>
<circle cx="540.8" cy="229.8" r="7.0" fill="#f5f7f9"/>
<circle cx="522.0" cy="201.5" r="7.0" fill="#f5f7f9"/>
<circle cx="714.5" cy="276.5" r="7.0" fill="#f5f7f9"/>
<circle cx="628.5" cy="547.5" r="7.0" fill="#f5f7f9"/>
<circle cx="636.5" cy="284.5" r="7.0" fill="#f5f7f9"/>
<circle cx="952.5" cy="802.0" r="7.0" fill="#f5f7f9"/>
<circle cx="593.0" cy="230.5" r="7.0" fill="#f5f7f9"/>
<circle cx="436.0" cy="257.5" r="7.0" fill="#f5f7f9"/>
<circle cx="702.0" cy="288.0" r="7.0" fill="#f5f7f9"/>
<circle cx="700.0" cy="257.0" r="7.0" fill="#f5f7f9"/>
<circle cx="594.5" cy="1080.5" r="7.0" fill="#f5f7f9"/>
<circle cx="608.0" cy="508.0" r="7.0" fill="#f5f7f9"/>
<circle cx="390.5" cy="369.5" r="7.0" fill="#f5f7f9"/>
<circle cx="528.0" cy="493.5" r="7.0" fill="#f5f8f9"/>
<circle cx="594.5" cy="1076.5" r="7.0" fill="#f5f8f9"/>
<circle cx="601.0" cy="283.0" r="7.0" fill="#f6f8f9"/>
<circle cx="676.0" cy="310.5" r="7.0" fill="#f6f8f9"/>
<circle cx="578.5" cy="514.0" r="7.0" fill="#f6f8f9"/>
<circle cx="319.5" cy="404.0" r="7.0" fill="#f6f8f9"/>
<circle cx="217.0" cy="437.5" r="7.0" fill="#f6f8f9"/>
<circle cx="471.0" cy="315.5" r="7.0" fill="#f6f8f9"/>
<circle cx="691.5" cy="251.0" r="7.0" fill="#f6f8f9"/>
<circle cx="305.0" cy="282.5" r="7.0" fill="#f6f8f9"/>
<circle cx="639.0" cy="255.5" r="7.0" fill="#f7f8f9"/>
<circle cx="411.5" cy="346.5" r="7.0" fill="#f7f8f9"/>
<circle cx="669.5" cy="249.0" r="7.0" fill="#f7f8f9"/>
<circle cx="396.0" cy="540.5" r="7.0" fill="#f7f8f9"/>
<circle cx="475.0" cy="284.5" r="7.0" fill="#f7f8f9"/>
<circle cx="367.0" cy="433.0" r="7.0" fill="#f7f8f9"/>
<circle cx="617.0" cy="506.0" r="7.0" fill="#f7f8f9"/>
<circle cx="855.5" cy="882.0" r="7.0" fill="#f7f8f9"/>
<circle cx="806.0" cy="300.0" r="7.0" fill="#f7f8f9"/>
<circle cx="477.5" cy="273.0" r="7.0" fill="#f7f8f9"/>
<circle cx="509.5" cy="326.5" r="7.0" fill="#f8f9f9"/>
<circle cx="671.5" cy="251.5" r="7.0" fill="#f8f9f9"/>
<circle cx="440.5" cy="239.0" r="7.0" fill="#f8f9f9"/>
<circle cx="993.0" cy="815.5" r="7.0" fill="#f8f9f9"/>
<circle cx="862.0" cy="927.5" r="7.0" fill="#f8f9f9"/>
<circle cx="586.0" cy="1006.5" r="7.0" fill="#f8f9f9"/>
<circle cx="357.0" cy="420.5" r="7.0" fill="#f8f9f9"/>
<circle cx="436.5" cy="243.5" r="7.0" fill="#f8f9f9"/>
<circle cx="416.0" cy="344.0" r="7.0" fill="#f8f9f9"/>
<circle cx="599.5" cy="482.5" r="7.0" fill="#f9f9f9"/>
<circle cx="226.5" cy="422.0" r="7.0" fill="#f9f9f9"/>
<circle cx="560.0" cy="289.0" r="7.0" fill="#f9f9f9"/>
<circle cx="706.0" cy="271.5" r="7.0" fill="#f9f9f9"/>
<circle cx="838.0" cy="881.0" r="7.0" fill="#f9f9f9"/>
<circle cx="836.5" cy="844.0" r="7.0" fill="#f9f9f9"/>
<circle cx="647.0" cy="248.0" r="7.0" fill="#f9f9f9"/>
<circle cx="397.5" cy="438.0" r="7.0" fill="#f9f9f9"/>
<circle cx="908.0" cy="834.5" r="7.0" fill="#f9f9f9"/>
<circle cx="320.0" cy="292.0" r="7.0" fill="#f9f9f9"/>
<circle cx="321.0" cy="317.0" r="7.0" fill="#f9f9f9"/>
<circle cx="280.0" cy="318.0" r="7.0" fill="#f9f9f9"/>
<circle cx="293.0" cy="362.0" r="7.0" fill="#f9f9f9"/>
<circle cx="308.0" cy="376.0" r="7.0" fill="#f9f9f9"/>
<circle cx="520.0" cy="209.0" r="7.0" fill="#f9f9f9"/>
<circle cx="464.0" cy="229.0" r="7.0" fill="#f9f9f9"/>
<circle cx="529.0" cy="232.0" r="7.0" fill="#f9f9f9"/>
<circle cx="517.0" cy="256.0" r="7.0" fill="#f9f9f9"/>
<circle cx="628.0" cy="260.0" r="7.0" fill="#f9f9f9"/>
<circle cx="472.0" cy="276.0" r="7.0" fill="#f9f9f9"/>
<circle cx="588.0" cy="280.0" r="7.0" fill="#f9f9f9"/>
<circle cx="512.0" cy="298.0" r="7.0" fill="#f9f9f9"/>
<circle cx="560.0" cy="292.0" r="7.0" fill="#f9f9f9"/>
<circle cx="456.0" cy="312.0" r="7.0" fill="#f9f9f9"/>
<circle cx="478.0" cy="310.0" r="7.0" fill="#f9f9f9"/>
<circle cx="516.0" cy="324.0" r="7.0" fill="#f9f9f9"/>
<circle cx="543.0" cy="314.0" r="7.0" fill="#f9f9f9"/>
<circle cx="564.0" cy="316.0" r="7.0" fill="#f9f9f9"/>
<circle cx="494.0" cy="333.0" r="7.0" fill="#f9f9f9"/>
<circle cx="408.0" cy="355.0" r="7.0" fill="#f9f9f9"/>
<circle cx="644.0" cy="214.0" r="7.0" fill="#f9f9f9"/>
<circle cx="690.0" cy="240.0" r="7.0" fill="#f9f9f9"/>
<circle cx="718.0" cy="280.0" r="7.0" fill="#f9f9f9"/>
<circle cx="698.0" cy="280.0" r="7.0" fill="#f9f9f9"/>
<circle cx="640.0" cy="295.0" r="7.0" fill="#f9f9f9"/>
<circle cx="691.0" cy="290.0" r="7.0" fill="#f9f9f9"/>
<circle cx="684.0" cy="298.0" r="7.0" fill="#f9f9f9"/>
<circle cx="712.0" cy="296.0" r="7.0" fill="#f9f9f9"/>
<circle cx="788.0" cy="322.0" r="7.0" fill="#f9f9f9"/>
<circle cx="804.0" cy="335.0" r="7.0" fill="#f9f9f9"/>
<circle cx="850.0" cy="357.0" r="7.0" fill="#f9f9f9"/>
<circle cx="894.0" cy="328.0" r="7.0" fill="#f9f9f9"/>
<circle cx="667.0" cy="377.0" r="7.0" fill="#f9f9f9"/>
<circle cx="650.0" cy="380.0" r="7.0" fill="#f9f9f9"/>
<circle cx="1049.0" cy="309.0" r="7.0" fill="#f9f9f9"/>
<circle cx="1067.0" cy="315.0" r="7.0" fill="#f9f9f9"/>
<circle cx="961.0" cy="311.0" r="7.0" fill="#f9f9f9"/>
<circle cx="929.0" cy="318.0" r="7.0" fill="#f9f9f9"/>
<circle cx="921.0" cy="312.0" r="7.0" fill="#f9f9f9"/>
<circle cx="920.0" cy="321.0" r="7.0" fill="#f9f9f9"/>
<circle cx="929.0" cy="328.0" r="7.0" fill="#f9f9f9"/>
<circle cx="219.0" cy="458.0" r="7.0" fill="#f9f9f9"/>
<circle cx="227.0" cy="470.0" r="7.0" fill="#f9f9f9"/>
<circle cx="228.0" cy="467.0" r="7.0" fill="#f9f9f9"/>
<circle cx="354.0" cy="386.0" r="7.0" fill="#f9f9f9"/>
<circle cx="343.0" cy="422.0" r="7.0" fill="#f9f9f9"/>
<circle cx="356.0" cy="416.0" r="7.0" fill="#f9f9f9"/>
<circle cx="372.0" cy="434.0" r="7.0" fill="#f9f9f9"/>
<circle cx="358.0" cy="483.0" r="7.0" fill="#f9f9f9"/>
<circle cx="285.0" cy="477.0" r="7.0" fill="#f9f9f9"/>
<circle cx="376.0" cy="502.0" r="7.0" fill="#f9f9f9"/>
<circle cx="354.0" cy="506.0" r="7.0" fill="#f9f9f9"/>
<circle cx="382.0" cy="542.0" r="7.0" fill="#f9f9f9"/>
<circle cx="411.0" cy="448.0" r="7.0" fill="#f9f9f9"/>
<circle cx="408.0" cy="541.0" r="7.0" fill="#f9f9f9"/>
<circle cx="610.0" cy="456.0" r="7.0" fill="#f9f9f9"/>
<circle cx="523.0" cy="482.0" r="7.0" fill="#f9f9f9"/>
<circle cx="632.0" cy="481.0" r="7.0" fill="#f9f9f9"/>
<circle cx="587.0" cy="492.0" r="7.0" fill="#f9f9f9"/>
<circle cx="582.0" cy="498.0" r="7.0" fill="#f9f9f9"/>
<circle cx="636.0" cy="538.0" r="7.0" fill="#f9f9f9"/>
<circle cx="580.0" cy="560.0" r="7.0" fill="#f9f9f9"/>
<circle cx="650.0" cy="384.0" r="7.0" fill="#f9f9f9"/>
<circle cx="683.0" cy="397.0" r="7.0" fill="#f9f9f9"/>
<circle cx="888.0" cy="426.0" r="7.0" fill="#f9f9f9"/>
<circle cx="647.0" cy="463.0" r="7.0" fill="#f9f9f9"/>
<circle cx="684.0" cy="556.0" r="7.0" fill="#f9f9f9"/>
<circle cx="676.0" cy="561.0" r="7.0" fill="#f9f9f9"/>
<circle cx="898.0" cy="389.0" r="7.0" fill="#f9f9f9"/>
<circle cx="1022.0" cy="794.0" r="7.0" fill="#f9f9f9"/>
<circle cx="847.0" cy="812.0" r="7.0" fill="#f9f9f9"/>
<circle cx="955.0" cy="812.0" r="7.0" fill="#f9f9f9"/>
<circle cx="841.0" cy="837.0" r="7.0" fill="#f9f9f9"/>
<circle cx="916.0" cy="832.0" r="7.0" fill="#f9f9f9"/>
<circle cx="832.0" cy="848.0" r="7.0" fill="#f9f9f9"/>
<circle cx="891.0" cy="852.0" r="7.0" fill="#f9f9f9"/>
<circle cx="886.0" cy="864.0" r="7.0" fill="#f9f9f9"/>
<circle cx="842.0" cy="881.0" r="7.0" fill="#f9f9f9"/>
<circle cx="852.0" cy="894.0" r="7.0" fill="#f9f9f9"/>
<circle cx="477.0" cy="984.0" r="7.0" fill="#f9f9f9"/>
<circle cx="651.0" cy="958.0" r="7.0" fill="#f9f9f9"/>
<circle cx="608.0" cy="972.0" r="7.0" fill="#f9f9f9"/>
<circle cx="570.0" cy="974.0" r="7.0" fill="#f9f9f9"/>
<circle cx="617.0" cy="967.0" r="7.0" fill="#f9f9f9"/>
<circle cx="586.0" cy="993.0" r="7.0" fill="#f9f9f9"/>
<circle cx="624.0" cy="1006.0" r="7.0" fill="#f9f9f9"/>
<circle cx="723.0" cy="1030.0" r="7.0" fill="#f9f9f9"/>
<circle cx="753.0" cy="1029.0" r="7.0" fill="#f9f9f9"/>
<circle cx="660.0" cy="1065.0" r="7.0" fill="#f9f9f9"/>
<circle cx="638.0" cy="1084.0" r="7.0" fill="#f9f9f9"/>
<circle cx="923.0" cy="913.0" r="7.0" fill="#f9f9f9"/>
<circle cx="904.0" cy="915.0" r="7.0" fill="#f9f9f9"/>
<circle cx="911.0" cy="920.0" r="7.0" fill="#f9f9f9"/>
<circle cx="870.0" cy="947.0" r="7.0" fill="#f9f9f9"/>
<circle cx="782.0" cy="961.0" r="7.0" fill="#f9f9f9"/>
<circle cx="792.0" cy="973.0" r="7.0" fill="#f9f9f9"/>
<circle cx="461.0" cy="745.5" r="7.0" fill="#f9f9f9"/>
<circle cx="428.5" cy="849.5" r="7.0" fill="#f9f9f9"/>
<circle cx="546.0" cy="920.0" r="7.0" fill="#f9f9f9"/>
<circle cx="522.5" cy="942.0" r="7.0" fill="#f9f9f9"/>
<circle cx="718.0" cy="692.0" r="7.0" fill="#f9f9f9"/>
<circle cx="738.5" cy="732.5" r="7.0" fill="#f9f9f9"/>
<circle cx="703.0" cy="745.0" r="7.0" fill="#f9f9f9"/>
<circle cx="726.0" cy="744.0" r="7.0" fill="#f9f9f9"/>
<circle cx="736.5" cy="779.5" r="7.0" fill="#f9f9f9"/>
<circle cx="779.0" cy="816.0" r="7.0" fill="#f9f9f9"/>
<circle cx="641.5" cy="826.0" r="7.0" fill="#f9f9f9"/>
<circle cx="678.0" cy="840.5" r="7.0" fill="#f9f9f9"/>
<circle cx="687.0" cy="825.0" r="7.0" fill="#f9f9f9"/>
<circle cx="643.0" cy="841.0" r="7.0" fill="#f9f9f9"/>
<circle cx="593.5" cy="869.5" r="7.0" fill="#f9f9f9"/>
<circle cx="687.0" cy="870.0" r="7.0" fill="#f9f9f9"/>
<circle cx="685.0" cy="874.0" r="7.0" fill="#f9f9f9"/>
<circle cx="692.0" cy="876.0" r="7.0" fill="#f9f9f9"/>
<circle cx="614.0" cy="879.0" r="7.0" fill="#f9f9f9"/>
<circle cx="642.0" cy="944.0" r="7.0" fill="#f9f9f9"/>
<circle cx="815.0" cy="823.0" r="7.0" fill="#f9f9f9"/>
<circle cx="720.0" cy="874.0" r="7.0" fill="#f9f9f9"/>
<circle cx="744.0" cy="877.0" r="7.0" fill="#f9f9f9"/>
<circle cx="767.0" cy="869.0" r="7.0" fill="#f9f9f9"/>
<circle cx="793.0" cy="872.0" r="7.0" fill="#f9f9f9"/>
<circle cx="826.0" cy="874.0" r="7.0" fill="#f9f9f9"/>
<circle cx="781.0" cy="888.5" r="7.0" fill="#f9f9f9"/>
<circle cx="787.0" cy="897.0" r="7.0" fill="#f9f9f9"/>
<circle cx="805.5" cy="905.5" r="7.0" fill="#f9f9f9"/>
<circle cx="856.5" cy="443.5" r="7.0" fill="#f9f9f9"/>
<circle cx="917.5" cy="508.0" r="7.0" fill="#f9f9f9"/>
<circle cx="789.5" cy="469.5" r="7.0" fill="#f9f9f9"/>
<circle cx="761.5" cy="491.0" r="7.0" fill="#f9f9f9"/>
<circle cx="490.0" cy="293.0" r="7.0" fill="#f9f9f9"/>
<circle cx="707.5" cy="315.0" r="7.0" fill="#f9f9f9"/>
<circle cx="375.5" cy="522.0" r="7.0" fill="#f9f9f9"/>
<circle cx="231.0" cy="403.5" r="7.0" fill="#f9f9f9"/>
<circle cx="614.0" cy="258.5" r="7.0" fill="#faf9f9"/>
<circle cx="334.5" cy="535.5" r="7.0" fill="#faf9f8"/>
<circle cx="341.5" cy="531.5" r="7.0" fill="#faf9f8"/>
<circle cx="692.5" cy="255.0" r="7.0" fill="#faf8f8"/>
<circle cx="427.0" cy="336.0" r="7.0" fill="#faf8f8"/>
<circle cx="697.5" cy="303.5" r="7.0" fill="#faf8f8"/>
<circle cx="545.0" cy="253.0" r="7.0" fill="#faf8f7"/>
<circle cx="364.5" cy="517.0" r="7.0" fill="#faf8f7"/>
<circle cx="434.0" cy="263.0" r="7.0" fill="#faf8f7"/>
<circle cx="441.0" cy="283.5" r="7.0" fill="#faf8f7"/>
<circle cx="318.0" cy="516.0" r="7.0" fill="#faf8f7"/>
<circle cx="452.0" cy="311.0" r="7.0" fill="#faf8f7"/>
<circle cx="474.5" cy="292.0" r="7.0" fill="#faf8f7"/>
<circle cx="346.5" cy="355.5" r="7.0" fill="#faf8f7"/>
<circle cx="340.0" cy="510.0" r="7.0" fill="#faf8f6"/>
<circle cx="449.0" cy="350.5" r="7.0" fill="#faf8f6"/>
<circle cx="591.5" cy="553.0" r="7.0" fill="#faf8f6"/>
<circle cx="230.5" cy="414.5" r="7.0" fill="#faf8f6"/>
<circle cx="294.0" cy="307.5" r="7.0" fill="#faf8f6"/>
<circle cx="333.0" cy="515.5" r="7.0" fill="#faf7f6"/>
<circle cx="704.5" cy="257.5" r="7.0" fill="#faf7f6"/>
<circle cx="591.5" cy="242.5" r="7.0" fill="#faf7f6"/>
<circle cx="819.0" cy="329.5" r="7.0" fill="#faf7f6"/>
<circle cx="535.0" cy="239.5" r="7.0" fill="#faf7f6"/>
<circle cx="616.5" cy="437.5" r="7.0" fill="#faf7f6"/>
<circle cx="767.0" cy="293.5" r="7.0" fill="#faf7f5"/>
<circle cx="903.0" cy="845.0" r="7.0" fill="#faf7f5"/>
<circle cx="370.5" cy="451.0" r="7.0" fill="#faf7f5"/>
<circle cx="658.4" cy="832.0" r="7.0" fill="#faf7f5"/>
<circle cx="963.5" cy="780.0" r="7.0" fill="#faf7f5"/>
<circle cx="310.0" cy="507.0" r="7.0" fill="#faf7f5"/>
<circle cx="398.0" cy="268.5" r="7.0" fill="#faf7f5"/>
<circle cx="439.0" cy="311.0" r="7.0" fill="#faf7f5"/>
<circle cx="743.0" cy="321.0" r="7.0" fill="#faf7f5"/>
<circle cx="493.5" cy="287.5" r="7.0" fill="#faf7f5"/>
<circle cx="313.5" cy="393.5" r="7.0" fill="#faf7f4"/>
<circle cx="531.0" cy="281.0" r="7.0" fill="#faf6f4"/>
<circle cx="727.1" cy="824.9" r="7.0" fill="#faf6f3"/>
<circle cx="422.5" cy="237.5" r="7.0" fill="#faf6f3"/>
<circle cx="646.0" cy="260.0" r="7.0" fill="#faf6f3"/>
<circle cx="600.0" cy="222.0" r="7.0" fill="#faf5f3"/>
<circle cx="598.0" cy="236.0" r="7.0" fill="#faf5f3"/>
<circle cx="612.0" cy="250.0" r="7.0" fill="#faf5f3"/>
<circle cx="434.0" cy="246.0" r="7.0" fill="#faf5f3"/>
<circle cx="567.0" cy="279.0" r="7.0" fill="#faf5f3"/>
<circle cx="490.0" cy="298.0" r="7.0" fill="#faf5f3"/>
<circle cx="569.0" cy="293.0" r="7.0" fill="#faf5f3"/>
<circle cx="596.0" cy="291.0" r="7.0" fill="#faf5f3"/>
<circle cx="577.0" cy="327.0" r="7.0" fill="#faf5f3"/>
<circle cx="446.0" cy="355.0" r="7.0" fill="#faf5f3"/>
<circle cx="388.0" cy="380.0" r="7.0" fill="#faf5f3"/>
<circle cx="420.0" cy="376.0" r="7.0" fill="#faf5f3"/>
<circle cx="744.0" cy="251.0" r="7.0" fill="#faf5f3"/>
<circle cx="704.0" cy="269.0" r="7.0" fill="#faf5f3"/>
<circle cx="709.0" cy="304.0" r="7.0" fill="#faf5f3"/>
<circle cx="708.0" cy="311.0" r="7.0" fill="#faf5f3"/>
<circle cx="822.0" cy="310.0" r="7.0" fill="#faf5f3"/>
<circle cx="670.0" cy="348.0" r="7.0" fill="#faf5f3"/>
<circle cx="595.0" cy="494.0" r="7.0" fill="#faf5f3"/>
<circle cx="510.0" cy="526.0" r="7.0" fill="#faf5f3"/>
<circle cx="629.0" cy="538.0" r="7.0" fill="#faf5f3"/>
<circle cx="854.0" cy="429.0" r="7.0" fill="#faf5f3"/>
<circle cx="1041.0" cy="439.0" r="7.0" fill="#faf5f3"/>
<circle cx="929.0" cy="793.0" r="7.0" fill="#faf5f3"/>
<circle cx="914.0" cy="843.0" r="7.0" fill="#faf5f3"/>
<circle cx="932.0" cy="851.0" r="7.0" fill="#faf5f3"/>
<circle cx="614.0" cy="987.0" r="7.0" fill="#faf5f3"/>
<circle cx="585.0" cy="1003.0" r="7.0" fill="#faf5f3"/>
<circle cx="680.0" cy="1060.0" r="7.0" fill="#faf5f3"/>
<circle cx="882.0" cy="921.0" r="7.0" fill="#faf5f3"/>
<circle cx="922.0" cy="923.0" r="7.0" fill="#faf5f3"/>
<circle cx="514.5" cy="926.5" r="7.0" fill="#faf5f3"/>
<circle cx="620.5" cy="715.5" r="7.0" fill="#faf5f3"/>
<circle cx="712.5" cy="727.5" r="7.0" fill="#faf5f3"/>
<circle cx="720.5" cy="747.0" r="7.0" fill="#faf5f3"/>
<circle cx="689.5" cy="833.5" r="7.0" fill="#faf5f3"/>
<circle cx="697.5" cy="882.0" r="7.0" fill="#faf5f3"/>
<circle cx="629.5" cy="892.0" r="7.0" fill="#faf5f3"/>
<circle cx="639.5" cy="911.5" r="7.0" fill="#faf5f3"/>
<circle cx="612.5" cy="938.5" r="7.0" fill="#faf5f3"/>
<circle cx="703.0" cy="852.0" r="7.0" fill="#faf5f3"/>
<circle cx="792.5" cy="448.5" r="7.0" fill="#faf5f3"/>
<circle cx="793.5" cy="476.0" r="7.0" fill="#faf5f3"/>
<circle cx="539.5" cy="241.0" r="7.0" fill="#faf5f3"/>
<circle cx="570.5" cy="524.0" r="7.0" fill="#faf5f2"/>
<circle cx="292.5" cy="305.5" r="7.0" fill="#faf5f2"/>
<circle cx="777.0" cy="287.5" r="7.0" fill="#faf5f2"/>
<circle cx="645.0" cy="263.5" r="7.0" fill="#faf5f2"/>
<circle cx="400.5" cy="312.0" r="7.0" fill="#faf5f2"/>
<circle cx="640.0" cy="278.0" r="7.0" fill="#faf5f1"/>
<circle cx="757.5" cy="290.0" r="7.0" fill="#faf5f1"/>
<circle cx="266.5" cy="381.0" r="7.0" fill="#faf4f1"/>
<circle cx="587.0" cy="552.5" r="7.0" fill="#faf4f1"/>
<circle cx="598.5" cy="264.0" r="7.0" fill="#fbf4f0"/>
<circle cx="483.5" cy="268.5" r="7.0" fill="#fbf4f0"/>
<circle cx="497.0" cy="272.5" r="7.0" fill="#fbf4f0"/>
<circle cx="696.0" cy="306.0" r="7.0" fill="#fbf4ef"/>
<circle cx="701.0" cy="312.0" r="7.0" fill="#fbf4ef"/>
<circle cx="825.0" cy="322.0" r="7.0" fill="#fbf4ef"/>
<circle cx="868.0" cy="377.0" r="7.0" fill="#fbf4ef"/>
<circle cx="1029.0" cy="322.0" r="7.0" fill="#fbf4ef"/>
<circle cx="411.0" cy="430.0" r="7.0" fill="#fbf4ef"/>
<circle cx="577.0" cy="521.0" r="7.0" fill="#fbf4ef"/>
<circle cx="515.0" cy="532.0" r="7.0" fill="#fbf4ef"/>
<circle cx="1013.0" cy="468.0" r="7.0" fill="#fbf4ef"/>
<circle cx="859.0" cy="826.0" r="7.0" fill="#fbf4ef"/>
<circle cx="930.0" cy="835.0" r="7.0" fill="#fbf4ef"/>
<circle cx="851.0" cy="866.0" r="7.0" fill="#fbf4ef"/>
<circle cx="523.0" cy="990.0" r="7.0" fill="#fbf4ef"/>
<circle cx="606.0" cy="1007.0" r="7.0" fill="#fbf4ef"/>
<circle cx="599.0" cy="1046.0" r="7.0" fill="#fbf4ef"/>
<circle cx="663.5" cy="781.5" r="7.0" fill="#fbf4ef"/>
<circle cx="587.5" cy="788.5" r="7.0" fill="#fbf4ef"/>
<circle cx="667.5" cy="811.5" r="7.0" fill="#fbf4ef"/>
<circle cx="713.0" cy="755.0" r="7.0" fill="#fbf4ef"/>
<circle cx="695.0" cy="863.5" r="7.0" fill="#fbf4ef"/>
<circle cx="681.5" cy="881.0" r="7.0" fill="#fbf4ef"/>
<circle cx="703.0" cy="823.0" r="7.0" fill="#fbf4ef"/>
<circle cx="827.0" cy="841.0" r="7.0" fill="#fbf4ef"/>
<circle cx="819.0" cy="875.5" r="7.0" fill="#fbf4ef"/>
<circle cx="880.5" cy="454.0" r="7.0" fill="#fbf4ef"/>
<circle cx="907.5" cy="441.0" r="7.0" fill="#fbf4ef"/>
<circle cx="943.5" cy="459.0" r="7.0" fill="#fbf4ef"/>
<circle cx="852.5" cy="512.5" r="7.0" fill="#fbf4ef"/>
<circle cx="779.5" cy="497.5" r="7.0" fill="#fbf4ef"/>
<circle cx="342.0" cy="372.5" r="7.0" fill="#fbf3ef"/>
<circle cx="742.5" cy="277.0" r="7.0" fill="#fbf3ef"/>
<circle cx="671.0" cy="290.5" r="7.0" fill="#fbf3ef"/>
<circle cx="1050.5" cy="485.7" r="7.0" fill="#fbf3ef"/>
<circle cx="587.5" cy="257.0" r="7.0" fill="#fbf3ee"/>
<circle cx="579.0" cy="503.5" r="7.0" fill="#fbf3ee"/>
<circle cx="593.5" cy="970.0" r="7.0" fill="#fbf3ee"/>
<circle cx="953.5" cy="784.5" r="7.0" fill="#fbf3ee"/>
<circle cx="652.0" cy="275.0" r="7.0" fill="#fbf3ee"/>
<circle cx="659.5" cy="276.5" r="7.0" fill="#fbf3ee"/>
<circle cx="528.5" cy="473.0" r="7.0" fill="#fbf3ee"/>
<circle cx="587.0" cy="954.5" r="7.0" fill="#fbf3ee"/>
<circle cx="421.0" cy="333.0" r="7.0" fill="#fbf3ee"/>
<circle cx="503.5" cy="279.5" r="7.0" fill="#fbf3ee"/>
<circle cx="664.0" cy="284.5" r="7.0" fill="#fbf2ed"/>
<circle cx="596.5" cy="272.0" r="7.0" fill="#fbf2ed"/>
<circle cx="458.5" cy="281.5" r="7.0" fill="#fbf2ed"/>
<circle cx="268.5" cy="368.5" r="7.0" fill="#fbf2ec"/>
<circle cx="664.5" cy="265.5" r="7.0" fill="#fbf2ec"/>
<circle cx="597.0" cy="448.5" r="7.0" fill="#fbf2ec"/>
<circle cx="322.5" cy="499.0" r="7.0" fill="#fbf2ec"/>
<circle cx="785.2" cy="859.1" r="7.0" fill="#fbf1eb"/>
<circle cx="591.0" cy="956.0" r="7.0" fill="#fbf1eb"/>
<circle cx="618.0" cy="552.0" r="7.0" fill="#fbf1eb"/>
<circle cx="527.5" cy="355.0" r="7.0" fill="#fbf1eb"/>
<circle cx="565.5" cy="234.5" r="7.0" fill="#fbf1eb"/>
<circle cx="405.5" cy="250.0" r="7.0" fill="#fbf1eb"/>
<circle cx="306.5" cy="429.0" r="7.0" fill="#fbf1eb"/>
<circle cx="416.0" cy="332.5" r="7.0" fill="#fbf1ea"/>
<circle cx="326.5" cy="515.5" r="7.0" fill="#fbf0ea"/>
<circle cx="449.0" cy="331.0" r="7.0" fill="#fbf0ea"/>
<circle cx="391.5" cy="366.0" r="7.0" fill="#fbf0e9"/>
<circle cx="580.0" cy="260.5" r="7.0" fill="#fbf0e9"/>
<circle cx="445.5" cy="267.0" r="7.0" fill="#fbf0e9"/>
<circle cx="311.0" cy="515.5" r="7.0" fill="#fbf0e9"/>
<circle cx="488.5" cy="265.5" r="7.0" fill="#fbf0e9"/>
<circle cx="372.0" cy="288.0" r="7.0" fill="#fcf0e9"/>
<circle cx="311.0" cy="311.0" r="7.0" fill="#fcf0e9"/>
<circle cx="298.0" cy="314.0" r="7.0" fill="#fcf0e9"/>
<circle cx="291.0" cy="326.0" r="7.0" fill="#fcf0e9"/>
<circle cx="623.0" cy="218.0" r="7.0" fill="#fcf0e9"/>
<circle cx="432.0" cy="240.0" r="7.0" fill="#fcf0e9"/>
<circle cx="601.0" cy="246.0" r="7.0" fill="#fcf0e9"/>
<circle cx="598.0" cy="261.0" r="7.0" fill="#fcf0e9"/>
<circle cx="636.0" cy="264.0" r="7.0" fill="#fcf0e9"/>
<circle cx="439.0" cy="275.0" r="7.0" fill="#fcf0e9"/>
<circle cx="467.0" cy="283.0" r="7.0" fill="#fcf0e9"/>
<circle cx="490.0" cy="277.0" r="7.0" fill="#fcf0e9"/>
<circle cx="516.0" cy="281.0" r="7.0" fill="#fcf0e9"/>
<circle cx="632.0" cy="286.0" r="7.0" fill="#fcf0e9"/>
<circle cx="472.0" cy="302.0" r="7.0" fill="#fcf0e9"/>
<circle cx="410.0" cy="312.0" r="7.0" fill="#fcf0e9"/>
<circle cx="500.0" cy="322.0" r="7.0" fill="#fcf0e9"/>
<circle cx="552.0" cy="311.0" r="7.0" fill="#fcf0e9"/>
<circle cx="434.0" cy="336.0" r="7.0" fill="#fcf0e9"/>
<circle cx="452.0" cy="339.0" r="7.0" fill="#fcf0e9"/>
<circle cx="603.0" cy="347.0" r="7.0" fill="#fcf0e9"/>
<circle cx="395.0" cy="351.0" r="7.0" fill="#fcf0e9"/>
<circle cx="456.0" cy="353.0" r="7.0" fill="#fcf0e9"/>
<circle cx="397.0" cy="379.0" r="7.0" fill="#fcf0e9"/>
<circle cx="410.0" cy="380.0" r="7.0" fill="#fcf0e9"/>
<circle cx="715.0" cy="252.0" r="7.0" fill="#fcf0e9"/>
<circle cx="694.0" cy="264.0" r="7.0" fill="#fcf0e9"/>
<circle cx="676.0" cy="282.0" r="7.0" fill="#fcf0e9"/>
<circle cx="661.0" cy="310.0" r="7.0" fill="#fcf0e9"/>
<circle cx="734.0" cy="302.0" r="7.0" fill="#fcf0e9"/>
<circle cx="759.0" cy="302.0" r="7.0" fill="#fcf0e9"/>
<circle cx="778.0" cy="310.0" r="7.0" fill="#fcf0e9"/>
<circle cx="734.0" cy="326.0" r="7.0" fill="#fcf0e9"/>
<circle cx="781.0" cy="284.0" r="7.0" fill="#fcf0e9"/>
<circle cx="794.0" cy="317.0" r="7.0" fill="#fcf0e9"/>
<circle cx="840.0" cy="360.0" r="7.0" fill="#fcf0e9"/>
<circle cx="871.0" cy="361.0" r="7.0" fill="#fcf0e9"/>
<circle cx="880.0" cy="371.0" r="7.0" fill="#fcf0e9"/>
<circle cx="1068.0" cy="322.0" r="7.0" fill="#fcf0e9"/>
<circle cx="1056.0" cy="326.0" r="7.0" fill="#fcf0e9"/>
<circle cx="987.0" cy="329.0" r="7.0" fill="#fcf0e9"/>
<circle cx="971.0" cy="317.0" r="7.0" fill="#fcf0e9"/>
<circle cx="952.0" cy="315.0" r="7.0" fill="#fcf0e9"/>
<circle cx="897.0" cy="381.0" r="7.0" fill="#fcf0e9"/>
<circle cx="239.0" cy="412.0" r="7.0" fill="#fcf0e9"/>
<circle cx="309.0" cy="501.0" r="7.0" fill="#fcf0e9"/>
<circle cx="318.0" cy="506.0" r="7.0" fill="#fcf0e9"/>
<circle cx="341.0" cy="501.0" r="7.0" fill="#fcf0e9"/>
<circle cx="366.0" cy="508.0" r="7.0" fill="#fcf0e9"/>
<circle cx="378.0" cy="511.0" r="7.0" fill="#fcf0e9"/>
<circle cx="309.0" cy="514.0" r="7.0" fill="#fcf0e9"/>
<circle cx="336.0" cy="522.0" r="7.0" fill="#fcf0e9"/>
<circle cx="337.0" cy="529.0" r="7.0" fill="#fcf0e9"/>
<circle cx="328.0" cy="577.0" r="7.0" fill="#fcf0e9"/>
<circle cx="442.0" cy="392.0" r="7.0" fill="#fcf0e9"/>
<circle cx="518.0" cy="384.0" r="7.0" fill="#fcf0e9"/>
<circle cx="431.0" cy="417.0" r="7.0" fill="#fcf0e9"/>
<circle cx="614.0" cy="414.0" r="7.0" fill="#fcf0e9"/>
<circle cx="500.0" cy="440.0" r="7.0" fill="#fcf0e9"/>
<circle cx="577.0" cy="427.0" r="7.0" fill="#fcf0e9"/>
<circle cx="616.0" cy="447.0" r="7.0" fill="#fcf0e9"/>
<circle cx="637.0" cy="488.0" r="7.0" fill="#fcf0e9"/>
<circle cx="578.0" cy="528.0" r="7.0" fill="#fcf0e9"/>
<circle cx="625.0" cy="551.0" r="7.0" fill="#fcf0e9"/>
<circle cx="538.0" cy="562.0" r="7.0" fill="#fcf0e9"/>
<circle cx="701.0" cy="398.0" r="7.0" fill="#fcf0e9"/>
<circle cx="880.0" cy="401.0" r="7.0" fill="#fcf0e9"/>
<circle cx="669.0" cy="476.0" r="7.0" fill="#fcf0e9"/>
<circle cx="644.0" cy="498.0" r="7.0" fill="#fcf0e9"/>
<circle cx="1002.0" cy="460.0" r="7.0" fill="#fcf0e9"/>
<circle cx="956.0" cy="780.0" r="7.0" fill="#fcf0e9"/>
<circle cx="946.0" cy="802.0" r="7.0" fill="#fcf0e9"/>
<circle cx="894.0" cy="839.0" r="7.0" fill="#fcf0e9"/>
<circle cx="512.0" cy="1014.0" r="7.0" fill="#fcf0e9"/>
<circle cx="615.0" cy="954.0" r="7.0" fill="#fcf0e9"/>
<circle cx="601.0" cy="964.0" r="7.0" fill="#fcf0e9"/>
<circle cx="512.0" cy="981.0" r="7.0" fill="#fcf0e9"/>
<circle cx="574.0" cy="1006.0" r="7.0" fill="#fcf0e9"/>
<circle cx="613.0" cy="1001.0" r="7.0" fill="#fcf0e9"/>
<circle cx="626.0" cy="1014.0" r="7.0" fill="#fcf0e9"/>
<circle cx="639.0" cy="1002.0" r="7.0" fill="#fcf0e9"/>
<circle cx="840.0" cy="928.0" r="7.0" fill="#fcf0e9"/>
<circle cx="922.0" cy="929.0" r="7.0" fill="#fcf0e9"/>
<circle cx="876.0" cy="936.0" r="7.0" fill="#fcf0e9"/>
<circle cx="339.0" cy="831.5" r="7.0" fill="#fcf0e9"/>
<circle cx="353.0" cy="832.0" r="7.0" fill="#fcf0e9"/>
<circle cx="370.0" cy="824.0" r="7.0" fill="#fcf0e9"/>
<circle cx="392.0" cy="818.0" r="7.0" fill="#fcf0e9"/>
<circle cx="414.0" cy="862.5" r="7.0" fill="#fcf0e9"/>
<circle cx="564.0" cy="937.0" r="7.0" fill="#fcf0e9"/>
<circle cx="603.5" cy="719.5" r="7.0" fill="#fcf0e9"/>
<circle cx="601.5" cy="787.5" r="7.0" fill="#fcf0e9"/>
<circle cx="804.0" cy="813.0" r="7.0" fill="#fcf0e9"/>
<circle cx="668.0" cy="832.0" r="7.0" fill="#fcf0e9"/>
<circle cx="697.0" cy="823.0" r="7.0" fill="#fcf0e9"/>
<circle cx="699.0" cy="850.0" r="7.0" fill="#fcf0e9"/>
<circle cx="593.0" cy="931.0" r="7.0" fill="#fcf0e9"/>
<circle cx="578.0" cy="941.0" r="7.0" fill="#fcf0e9"/>
<circle cx="717.0" cy="827.0" r="7.0" fill="#fcf0e9"/>
<circle cx="734.0" cy="828.0" r="7.0" fill="#fcf0e9"/>
<circle cx="766.0" cy="820.0" r="7.0" fill="#fcf0e9"/>
<circle cx="804.0" cy="820.0" r="7.0" fill="#fcf0e9"/>
<circle cx="800.0" cy="833.5" r="7.0" fill="#fcf0e9"/>
<circle cx="726.0" cy="845.0" r="7.0" fill="#fcf0e9"/>
<circle cx="733.5" cy="857.5" r="7.0" fill="#fcf0e9"/>
<circle cx="823.0" cy="887.0" r="7.0" fill="#fcf0e9"/>
<circle cx="864.5" cy="437.5" r="7.0" fill="#fcf0e9"/>
<circle cx="853.5" cy="455.5" r="7.0" fill="#fcf0e9"/>
<circle cx="794.0" cy="479.0" r="7.0" fill="#fcf0e9"/>
<circle cx="450.0" cy="272.0" r="7.0" fill="#fcefe8"/>
<circle cx="1006.0" cy="806.0" r="7.0" fill="#fcefe8"/>
<circle cx="609.5" cy="520.5" r="7.0" fill="#fcefe8"/>
<circle cx="582.0" cy="485.5" r="7.0" fill="#fcefe8"/>
<circle cx="580.5" cy="955.0" r="7.0" fill="#fcefe7"/>
<circle cx="587.0" cy="1075.5" r="7.0" fill="#fcefe7"/>
<circle cx="243.5" cy="380.0" r="7.0" fill="#fcefe7"/>
<circle cx="234.5" cy="380.0" r="7.0" fill="#fcefe7"/>
<circle cx="585.0" cy="466.0" r="7.0" fill="#fcefe7"/>
<circle cx="993.5" cy="802.0" r="7.0" fill="#fcefe7"/>
<circle cx="864.5" cy="870.5" r="7.0" fill="#fceee7"/>
<circle cx="456.5" cy="290.0" r="7.0" fill="#fceee6"/>
<circle cx="542.0" cy="205.0" r="7.0" fill="#fceee6"/>
<circle cx="557.5" cy="197.0" r="7.0" fill="#fceee6"/>
<circle cx="613.5" cy="529.0" r="7.0" fill="#fceee6"/>
<circle cx="519.5" cy="516.5" r="7.0" fill="#fceee6"/>
<circle cx="452.5" cy="241.5" r="7.0" fill="#fceee6"/>
<circle cx="360.0" cy="243.5" r="7.0" fill="#fceee6"/>
<circle cx="963.5" cy="793.0" r="7.0" fill="#fceee5"/>
<circle cx="310.0" cy="463.5" r="7.0" fill="#fceee5"/>
<circle cx="295.0" cy="337.0" r="7.0" fill="#fceee5"/>
<circle cx="270.0" cy="330.0" r="7.0" fill="#fceee5"/>
<circle cx="697.0" cy="254.0" r="7.0" fill="#fceee5"/>
<circle cx="355.0" cy="841.5" r="7.0" fill="#fceee5"/>
<circle cx="647.5" cy="834.0" r="7.0" fill="#fceee5"/>
<circle cx="652.5" cy="857.5" r="7.0" fill="#fceee5"/>
<circle cx="780.5" cy="875.5" r="7.0" fill="#fceee5"/>
<circle cx="790.5" cy="905.5" r="7.0" fill="#fceee5"/>
<circle cx="789.5" cy="486.0" r="7.0" fill="#fceee5"/>
<circle cx="501.0" cy="289.0" r="7.0" fill="#fceee5"/>
<circle cx="339.0" cy="320.0" r="7.0" fill="#fcede5"/>
<circle cx="335.0" cy="473.5" r="7.0" fill="#fcede4"/>
<circle cx="370.5" cy="371.0" r="7.0" fill="#fcede4"/>
<circle cx="661.5" cy="268.5" r="7.0" fill="#fcede4"/>
<circle cx="1012.0" cy="826.5" r="7.0" fill="#fcede4"/>
<circle cx="606.5" cy="272.5" r="7.0" fill="#fcede4"/>
<circle cx="581.5" cy="1058.0" r="7.0" fill="#fcede4"/>
<circle cx="406.5" cy="335.5" r="7.0" fill="#fcece3"/>
<circle cx="532.5" cy="518.0" r="7.0" fill="#fcece3"/>
<circle cx="452.5" cy="282.0" r="7.0" fill="#fcece2"/>
<circle cx="988.0" cy="799.0" r="7.0" fill="#fcece2"/>
<circle cx="576.0" cy="1063.0" r="7.0" fill="#fcece2"/>
<circle cx="281.0" cy="360.0" r="7.0" fill="#fcece2"/>
<circle cx="516.0" cy="201.0" r="7.0" fill="#fcece2"/>
<circle cx="337.0" cy="446.5" r="7.0" fill="#fcece2"/>
<circle cx="495.0" cy="263.0" r="7.0" fill="#fcece2"/>
<circle cx="985.0" cy="777.5" r="7.0" fill="#fcece2"/>
<circle cx="585.5" cy="967.5" r="7.0" fill="#fcece2"/>
<circle cx="505.5" cy="312.5" r="7.0" fill="#fcebe1"/>
<circle cx="595.0" cy="504.5" r="7.0" fill="#fcebe1"/>
<circle cx="539.0" cy="507.0" r="7.0" fill="#fdebe1"/>
<circle cx="516.5" cy="465.0" r="7.0" fill="#fdebe0"/>
<circle cx="415.0" cy="315.0" r="7.0" fill="#fdebe0"/>
<circle cx="522.0" cy="509.0" r="7.0" fill="#fdebe0"/>
<circle cx="972.5" cy="837.5" r="7.0" fill="#fdebe0"/>
<circle cx="372.5" cy="927.0" r="7.0" fill="#fdebe0"/>
<circle cx="507.5" cy="306.0" r="7.0" fill="#fdebe0"/>
<circle cx="729.5" cy="272.0" r="7.0" fill="#fdebe0"/>
<circle cx="519.5" cy="536.5" r="7.0" fill="#fdeae0"/>
<circle cx="327.0" cy="409.0" r="7.0" fill="#fdeae0"/>
<circle cx="452.0" cy="253.0" r="7.0" fill="#fdeae0"/>
<circle cx="985.5" cy="774.0" r="7.0" fill="#fdeae0"/>
<circle cx="314.0" cy="477.0" r="7.0" fill="#fdeae0"/>
<circle cx="526.0" cy="239.5" r="7.0" fill="#fdeae0"/>
<circle cx="969.5" cy="786.0" r="7.0" fill="#fdeadf"/>
<circle cx="306.5" cy="391.0" r="7.0" fill="#fdeadf"/>
<circle cx="977.0" cy="801.0" r="7.0" fill="#fdeadf"/>
<circle cx="327.0" cy="366.5" r="7.0" fill="#fdeadf"/>
<circle cx="538.5" cy="198.5" r="7.0" fill="#fdeadf"/>
<circle cx="377.0" cy="922.0" r="7.0" fill="#fdeadf"/>
<circle cx="658.5" cy="290.5" r="7.0" fill="#fdeadf"/>
<circle cx="606.0" cy="226.0" r="7.0" fill="#fdeadf"/>
<circle cx="453.0" cy="233.0" r="7.0" fill="#fdeadf"/>
<circle cx="407.0" cy="258.0" r="7.0" fill="#fdeadf"/>
<circle cx="586.0" cy="268.0" r="7.0" fill="#fdeadf"/>
<circle cx="524.0" cy="298.0" r="7.0" fill="#fdeadf"/>
<circle cx="418.0" cy="342.0" r="7.0" fill="#fdeadf"/>
<circle cx="443.0" cy="339.0" r="7.0" fill="#fdeadf"/>
<circle cx="506.0" cy="333.0" r="7.0" fill="#fdeadf"/>
<circle cx="440.0" cy="348.0" r="7.0" fill="#fdeadf"/>
<circle cx="401.0" cy="364.0" r="7.0" fill="#fdeadf"/>
<circle cx="518.0" cy="380.0" r="7.0" fill="#fdeadf"/>
<circle cx="731.0" cy="252.0" r="7.0" fill="#fdeadf"/>
<circle cx="705.0" cy="248.0" r="7.0" fill="#fdeadf"/>
<circle cx="752.0" cy="268.0" r="7.0" fill="#fdeadf"/>
<circle cx="669.0" cy="275.0" r="7.0" fill="#fdeadf"/>
<circle cx="642.0" cy="274.0" r="7.0" fill="#fdeadf"/>
<circle cx="717.0" cy="318.0" r="7.0" fill="#fdeadf"/>
<circle cx="739.0" cy="313.0" r="7.0" fill="#fdeadf"/>
<circle cx="1016.0" cy="331.0" r="7.0" fill="#fdeadf"/>
<circle cx="993.0" cy="325.0" r="7.0" fill="#fdeadf"/>
<circle cx="944.0" cy="313.0" r="7.0" fill="#fdeadf"/>
<circle cx="974.0" cy="335.0" r="7.0" fill="#fdeadf"/>
<circle cx="1054.0" cy="346.0" r="7.0" fill="#fdeadf"/>
<circle cx="1050.0" cy="358.0" r="7.0" fill="#fdeadf"/>
<circle cx="297.0" cy="434.0" r="7.0" fill="#fdeadf"/>
<circle cx="309.0" cy="491.0" r="7.0" fill="#fdeadf"/>
<circle cx="350.0" cy="497.0" r="7.0" fill="#fdeadf"/>
<circle cx="418.0" cy="448.0" r="7.0" fill="#fdeadf"/>
<circle cx="385.0" cy="536.0" r="7.0" fill="#fdeadf"/>
<circle cx="420.0" cy="543.0" r="7.0" fill="#fdeadf"/>
<circle cx="395.0" cy="550.0" r="7.0" fill="#fdeadf"/>
<circle cx="618.0" cy="419.0" r="7.0" fill="#fdeadf"/>
<circle cx="604.0" cy="445.0" r="7.0" fill="#fdeadf"/>
<circle cx="618.0" cy="526.0" r="7.0" fill="#fdeadf"/>
<circle cx="604.0" cy="561.0" r="7.0" fill="#fdeadf"/>
<circle cx="548.0" cy="572.0" r="7.0" fill="#fdeadf"/>
<circle cx="662.0" cy="475.0" r="7.0" fill="#fdeadf"/>
<circle cx="1040.0" cy="482.0" r="7.0" fill="#fdeadf"/>
<circle cx="1119.0" cy="499.0" r="7.0" fill="#fdeadf"/>
<circle cx="964.0" cy="490.0" r="7.0" fill="#fdeadf"/>
<circle cx="899.0" cy="835.0" r="7.0" fill="#fdeadf"/>
<circle cx="1017.0" cy="826.0" r="7.0" fill="#fdeadf"/>
<circle cx="840.0" cy="856.0" r="7.0" fill="#fdeadf"/>
<circle cx="863.0" cy="847.0" r="7.0" fill="#fdeadf"/>
<circle cx="894.0" cy="845.0" r="7.0" fill="#fdeadf"/>
<circle cx="906.0" cy="856.0" r="7.0" fill="#fdeadf"/>
<circle cx="831.0" cy="868.0" r="7.0" fill="#fdeadf"/>
<circle cx="508.0" cy="981.0" r="7.0" fill="#fdeadf"/>
<circle cx="562.0" cy="956.0" r="7.0" fill="#fdeadf"/>
<circle cx="632.0" cy="959.0" r="7.0" fill="#fdeadf"/>
<circle cx="632.0" cy="976.0" r="7.0" fill="#fdeadf"/>
<circle cx="598.0" cy="1004.0" r="7.0" fill="#fdeadf"/>
<circle cx="631.0" cy="1034.0" r="7.0" fill="#fdeadf"/>
<circle cx="583.0" cy="1047.0" r="7.0" fill="#fdeadf"/>
<circle cx="573.0" cy="1068.0" r="7.0" fill="#fdeadf"/>
<circle cx="647.0" cy="1076.0" r="7.0" fill="#fdeadf"/>
<circle cx="801.0" cy="974.0" r="7.0" fill="#fdeadf"/>
<circle cx="409.5" cy="801.5" r="7.0" fill="#fdeadf"/>
<circle cx="390.5" cy="814.5" r="7.0" fill="#fdeadf"/>
<circle cx="398.0" cy="824.0" r="7.0" fill="#fdeadf"/>
<circle cx="428.5" cy="833.0" r="7.0" fill="#fdeadf"/>
<circle cx="460.5" cy="848.5" r="7.0" fill="#fdeadf"/>
<circle cx="476.5" cy="926.0" r="7.0" fill="#fdeadf"/>
<circle cx="560.0" cy="939.0" r="7.0" fill="#fdeadf"/>
<circle cx="725.5" cy="708.5" r="7.0" fill="#fdeadf"/>
<circle cx="712.0" cy="791.0" r="7.0" fill="#fdeadf"/>
<circle cx="703.0" cy="788.0" r="7.0" fill="#fdeadf"/>
<circle cx="815.5" cy="808.0" r="7.0" fill="#fdeadf"/>
<circle cx="797.5" cy="811.0" r="7.0" fill="#fdeadf"/>
<circle cx="766.5" cy="816.0" r="7.0" fill="#fdeadf"/>
<circle cx="647.5" cy="880.0" r="7.0" fill="#fdeadf"/>
<circle cx="582.5" cy="915.0" r="7.0" fill="#fdeadf"/>
<circle cx="600.0" cy="942.0" r="7.0" fill="#fdeadf"/>
<circle cx="582.0" cy="944.0" r="7.0" fill="#fdeadf"/>
<circle cx="806.0" cy="829.0" r="7.0" fill="#fdeadf"/>
<circle cx="735.5" cy="846.5" r="7.0" fill="#fdeadf"/>
<circle cx="785.0" cy="851.0" r="7.0" fill="#fdeadf"/>
<circle cx="741.5" cy="871.5" r="7.0" fill="#fdeadf"/>
<circle cx="717.5" cy="890.0" r="7.0" fill="#fdeadf"/>
<circle cx="809.5" cy="892.5" r="7.0" fill="#fdeadf"/>
<circle cx="878.5" cy="436.0" r="7.0" fill="#fdeadf"/>
<circle cx="917.5" cy="483.0" r="7.0" fill="#fdeadf"/>
<circle cx="777.5" cy="480.0" r="7.0" fill="#fdeadf"/>
<circle cx="779.5" cy="489.5" r="7.0" fill="#fdeadf"/>
<circle cx="514.0" cy="273.0" r="7.0" fill="#fdeade"/>
<circle cx="363.5" cy="526.5" r="7.0" fill="#fdeade"/>
<circle cx="334.5" cy="410.5" r="7.0" fill="#fde9de"/>
<circle cx="990.5" cy="804.0" r="7.0" fill="#fde9de"/>
<circle cx="319.0" cy="416.0" r="7.0" fill="#fde9de"/>
<circle cx="440.5" cy="306.0" r="7.0" fill="#fde9dd"/>
<circle cx="847.5" cy="900.5" r="7.0" fill="#fde9dd"/>
<circle cx="212.5" cy="436.0" r="7.0" fill="#fde9dd"/>
<circle cx="236.5" cy="316.0" r="7.0" fill="#fde9dd"/>
<circle cx="751.0" cy="283.0" r="7.0" fill="#fde9dd"/>
<circle cx="972.5" cy="801.0" r="7.0" fill="#fde9dc"/>
<circle cx="507.0" cy="470.0" r="7.0" fill="#fde8dc"/>
<circle cx="552.0" cy="196.5" r="7.0" fill="#fde8dc"/>
<circle cx="375.0" cy="462.0" r="7.0" fill="#fde8db"/>
<circle cx="424.0" cy="316.5" r="7.0" fill="#fde8db"/>
<circle cx="1028.5" cy="809.5" r="7.0" fill="#fde8db"/>
<circle cx="451.5" cy="291.5" r="7.0" fill="#fde8db"/>
<circle cx="337.0" cy="469.0" r="7.0" fill="#fde8db"/>
<circle cx="525.5" cy="465.5" r="7.0" fill="#fde8db"/>
<circle cx="978.0" cy="778.5" r="7.0" fill="#fde8db"/>
<circle cx="574.5" cy="470.5" r="7.0" fill="#fde8db"/>
<circle cx="874.0" cy="914.5" r="7.0" fill="#fde8db"/>
<circle cx="261.0" cy="379.5" r="7.0" fill="#fde7db"/>
<circle cx="979.5" cy="775.5" r="7.0" fill="#fde7db"/>
<circle cx="242.5" cy="333.5" r="7.0" fill="#fde7db"/>
<circle cx="380.0" cy="443.5" r="7.0" fill="#fde7da"/>
<circle cx="601.5" cy="469.0" r="7.0" fill="#fde7da"/>
<circle cx="350.5" cy="522.5" r="7.0" fill="#fde7da"/>
<circle cx="258.5" cy="376.5" r="7.0" fill="#fde7da"/>
<circle cx="374.5" cy="245.0" r="7.0" fill="#fde7da"/>
<circle cx="972.5" cy="823.5" r="7.0" fill="#fde7da"/>
<circle cx="1000.5" cy="783.5" r="7.0" fill="#fde7da"/>
<circle cx="348.0" cy="283.5" r="7.0" fill="#fde7da"/>
<circle cx="352.0" cy="300.0" r="7.0" fill="#fde6d9"/>
<circle cx="342.0" cy="256.0" r="7.0" fill="#fee6d8"/>
<circle cx="980.0" cy="805.0" r="7.0" fill="#fee6d8"/>
<circle cx="998.5" cy="786.0" r="7.0" fill="#fee6d8"/>
<circle cx="510.0" cy="251.5" r="7.0" fill="#fee6d8"/>
<circle cx="388.0" cy="936.0" r="7.0" fill="#fee6d8"/>
<circle cx="339.0" cy="278.0" r="7.0" fill="#fee6d8"/>
<circle cx="459.0" cy="251.0" r="7.0" fill="#fee6d8"/>
<circle cx="339.0" cy="243.0" r="7.0" fill="#fee6d8"/>
<circle cx="354.0" cy="241.0" r="7.0" fill="#fee6d8"/>
<circle cx="365.0" cy="245.0" r="7.0" fill="#fee6d8"/>
<circle cx="369.0" cy="257.0" r="7.0" fill="#fee6d8"/>
<circle cx="354.0" cy="282.0" r="7.0" fill="#fee6d8"/>
<circle cx="327.0" cy="285.0" r="7.0" fill="#fee6d8"/>
<circle cx="299.0" cy="301.0" r="7.0" fill="#fee6d8"/>
<circle cx="324.0" cy="302.0" r="7.0" fill="#fee6d8"/>
<circle cx="347.0" cy="294.0" r="7.0" fill="#fee6d8"/>
<circle cx="360.0" cy="291.0" r="7.0" fill="#fee6d8"/>
<circle cx="333.0" cy="308.0" r="7.0" fill="#fee6d8"/>
<circle cx="287.0" cy="315.0" r="7.0" fill="#fee6d8"/>
<circle cx="323.0" cy="350.0" r="7.0" fill="#fee6d8"/>
<circle cx="252.0" cy="314.0" r="7.0" fill="#fee6d8"/>
<circle cx="324.0" cy="356.0" r="7.0" fill="#fee6d8"/>
<circle cx="381.0" cy="369.0" r="7.0" fill="#fee6d8"/>
<circle cx="373.0" cy="375.0" r="7.0" fill="#fee6d8"/>
<circle cx="239.0" cy="379.0" r="7.0" fill="#fee6d8"/>
<circle cx="251.0" cy="381.0" r="7.0" fill="#fee6d8"/>
<circle cx="461.0" cy="243.0" r="7.0" fill="#fee6d8"/>
<circle cx="587.0" cy="232.0" r="7.0" fill="#fee6d8"/>
<circle cx="440.0" cy="252.0" r="7.0" fill="#fee6d8"/>
<circle cx="486.0" cy="260.0" r="7.0" fill="#fee6d8"/>
<circle cx="500.0" cy="264.0" r="7.0" fill="#fee6d8"/>
<circle cx="448.0" cy="282.0" r="7.0" fill="#fee6d8"/>
<circle cx="465.0" cy="273.0" r="7.0" fill="#fee6d8"/>
<circle cx="482.0" cy="284.0" r="7.0" fill="#fee6d8"/>
<circle cx="502.0" cy="282.0" r="7.0" fill="#fee6d8"/>
<circle cx="611.0" cy="280.0" r="7.0" fill="#fee6d8"/>
<circle cx="627.0" cy="277.0" r="7.0" fill="#fee6d8"/>
<circle cx="528.0" cy="309.0" r="7.0" fill="#fee6d8"/>
<circle cx="597.0" cy="307.0" r="7.0" fill="#fee6d8"/>
<circle cx="440.0" cy="326.0" r="7.0" fill="#fee6d8"/>
<circle cx="473.0" cy="317.0" r="7.0" fill="#fee6d8"/>
<circle cx="581.0" cy="314.0" r="7.0" fill="#fee6d8"/>
<circle cx="388.0" cy="357.0" r="7.0" fill="#fee6d8"/>
<circle cx="386.0" cy="366.0" r="7.0" fill="#fee6d8"/>
<circle cx="485.0" cy="357.0" r="7.0" fill="#fee6d8"/>
<circle cx="488.0" cy="366.0" r="7.0" fill="#fee6d8"/>
<circle cx="519.0" cy="367.0" r="7.0" fill="#fee6d8"/>
<circle cx="644.0" cy="239.0" r="7.0" fill="#fee6d8"/>
<circle cx="656.0" cy="242.0" r="7.0" fill="#fee6d8"/>
<circle cx="684.0" cy="244.0" r="7.0" fill="#fee6d8"/>
<circle cx="761.0" cy="270.0" r="7.0" fill="#fee6d8"/>
<circle cx="754.0" cy="278.0" r="7.0" fill="#fee6d8"/>
<circle cx="650.0" cy="288.0" r="7.0" fill="#fee6d8"/>
<circle cx="677.0" cy="304.0" r="7.0" fill="#fee6d8"/>
<circle cx="742.0" cy="288.0" r="7.0" fill="#fee6d8"/>
<circle cx="741.0" cy="304.0" r="7.0" fill="#fee6d8"/>
<circle cx="776.0" cy="317.0" r="7.0" fill="#fee6d8"/>
<circle cx="807.0" cy="313.0" r="7.0" fill="#fee6d8"/>
<circle cx="816.0" cy="321.0" r="7.0" fill="#fee6d8"/>
<circle cx="844.0" cy="351.0" r="7.0" fill="#fee6d8"/>
<circle cx="857.0" cy="352.0" r="7.0" fill="#fee6d8"/>
<circle cx="696.0" cy="340.0" r="7.0" fill="#fee6d8"/>
<circle cx="1024.0" cy="308.0" r="7.0" fill="#fee6d8"/>
<circle cx="1055.0" cy="316.0" r="7.0" fill="#fee6d8"/>
<circle cx="1066.0" cy="329.0" r="7.0" fill="#fee6d8"/>
<circle cx="967.0" cy="322.0" r="7.0" fill="#fee6d8"/>
<circle cx="925.0" cy="381.0" r="7.0" fill="#fee6d8"/>
<circle cx="240.0" cy="384.0" r="7.0" fill="#fee6d8"/>
<circle cx="251.0" cy="385.0" r="7.0" fill="#fee6d8"/>
<circle cx="306.0" cy="384.0" r="7.0" fill="#fee6d8"/>
<circle cx="298.0" cy="392.0" r="7.0" fill="#fee6d8"/>
<circle cx="283.0" cy="397.0" r="7.0" fill="#fee6d8"/>
<circle cx="343.0" cy="398.0" r="7.0" fill="#fee6d8"/>
<circle cx="321.0" cy="409.0" r="7.0" fill="#fee6d8"/>
<circle cx="298.0" cy="410.0" r="7.0" fill="#fee6d8"/>
<circle cx="360.0" cy="430.0" r="7.0" fill="#fee6d8"/>
<circle cx="371.0" cy="468.0" r="7.0" fill="#fee6d8"/>
<circle cx="358.0" cy="467.0" r="7.0" fill="#fee6d8"/>
<circle cx="342.0" cy="481.0" r="7.0" fill="#fee6d8"/>
<circle cx="354.0" cy="534.0" r="7.0" fill="#fee6d8"/>
<circle cx="370.0" cy="531.0" r="7.0" fill="#fee6d8"/>
<circle cx="361.0" cy="540.0" r="7.0" fill="#fee6d8"/>
<circle cx="345.0" cy="546.0" r="7.0" fill="#fee6d8"/>
<circle cx="362.0" cy="553.0" r="7.0" fill="#fee6d8"/>
<circle cx="364.0" cy="585.0" r="7.0" fill="#fee6d8"/>
<circle cx="404.0" cy="446.0" r="7.0" fill="#fee6d8"/>
<circle cx="387.0" cy="450.0" r="7.0" fill="#fee6d8"/>
<circle cx="390.0" cy="471.0" r="7.0" fill="#fee6d8"/>
<circle cx="397.0" cy="536.0" r="7.0" fill="#fee6d8"/>
<circle cx="554.0" cy="430.0" r="7.0" fill="#fee6d8"/>
<circle cx="560.0" cy="438.0" r="7.0" fill="#fee6d8"/>
<circle cx="622.0" cy="433.0" r="7.0" fill="#fee6d8"/>
<circle cx="636.0" cy="449.0" r="7.0" fill="#fee6d8"/>
<circle cx="611.0" cy="468.0" r="7.0" fill="#fee6d8"/>
<circle cx="521.0" cy="460.0" r="7.0" fill="#fee6d8"/>
<circle cx="570.0" cy="474.0" r="7.0" fill="#fee6d8"/>
<circle cx="588.0" cy="474.0" r="7.0" fill="#fee6d8"/>
<circle cx="606.0" cy="478.0" r="7.0" fill="#fee6d8"/>
<circle cx="499.0" cy="495.0" r="7.0" fill="#fee6d8"/>
<circle cx="622.0" cy="498.0" r="7.0" fill="#fee6d8"/>
<circle cx="529.0" cy="501.0" r="7.0" fill="#fee6d8"/>
<circle cx="537.0" cy="498.0" r="7.0" fill="#fee6d8"/>
<circle cx="614.0" cy="514.0" r="7.0" fill="#fee6d8"/>
<circle cx="528.0" cy="513.0" r="7.0" fill="#fee6d8"/>
<circle cx="626.0" cy="519.0" r="7.0" fill="#fee6d8"/>
<circle cx="620.0" cy="545.0" r="7.0" fill="#fee6d8"/>
<circle cx="820.0" cy="433.0" r="7.0" fill="#fee6d8"/>
<circle cx="843.0" cy="425.0" r="7.0" fill="#fee6d8"/>
<circle cx="838.0" cy="428.0" r="7.0" fill="#fee6d8"/>
<circle cx="869.0" cy="400.0" r="7.0" fill="#fee6d8"/>
<circle cx="641.0" cy="450.0" r="7.0" fill="#fee6d8"/>
<circle cx="925.0" cy="385.0" r="7.0" fill="#fee6d8"/>
<circle cx="909.0" cy="394.0" r="7.0" fill="#fee6d8"/>
<circle cx="1050.0" cy="494.0" r="7.0" fill="#fee6d8"/>
<circle cx="1084.0" cy="499.0" r="7.0" fill="#fee6d8"/>
<circle cx="986.0" cy="764.0" r="7.0" fill="#fee6d8"/>
<circle cx="988.0" cy="780.0" r="7.0" fill="#fee6d8"/>
<circle cx="995.0" cy="781.0" r="7.0" fill="#fee6d8"/>
<circle cx="1012.0" cy="782.0" r="7.0" fill="#fee6d8"/>
<circle cx="988.0" cy="787.0" r="7.0" fill="#fee6d8"/>
<circle cx="966.0" cy="789.0" r="7.0" fill="#fee6d8"/>
<circle cx="1016.0" cy="791.0" r="7.0" fill="#fee6d8"/>
<circle cx="985.0" cy="816.0" r="7.0" fill="#fee6d8"/>
<circle cx="1000.0" cy="814.0" r="7.0" fill="#fee6d8"/>
<circle cx="1012.0" cy="816.0" r="7.0" fill="#fee6d8"/>
<circle cx="980.0" cy="822.0" r="7.0" fill="#fee6d8"/>
<circle cx="1004.0" cy="829.0" r="7.0" fill="#fee6d8"/>
<circle cx="879.0" cy="846.0" r="7.0" fill="#fee6d8"/>
<circle cx="876.0" cy="865.0" r="7.0" fill="#fee6d8"/>
<circle cx="830.0" cy="886.0" r="7.0" fill="#fee6d8"/>
<circle cx="869.0" cy="882.0" r="7.0" fill="#fee6d8"/>
<circle cx="303.0" cy="904.0" r="7.0" fill="#fee6d8"/>
<circle cx="381.0" cy="918.0" r="7.0" fill="#fee6d8"/>
<circle cx="394.0" cy="933.0" r="7.0" fill="#fee6d8"/>
<circle cx="418.0" cy="933.0" r="7.0" fill="#fee6d8"/>
<circle cx="512.0" cy="950.0" r="7.0" fill="#fee6d8"/>
<circle cx="512.0" cy="1002.0" r="7.0" fill="#fee6d8"/>
<circle cx="571.0" cy="946.0" r="7.0" fill="#fee6d8"/>
<circle cx="546.0" cy="953.0" r="7.0" fill="#fee6d8"/>
<circle cx="625.0" cy="950.0" r="7.0" fill="#fee6d8"/>
<circle cx="587.0" cy="960.0" r="7.0" fill="#fee6d8"/>
<circle cx="531.0" cy="962.0" r="7.0" fill="#fee6d8"/>
<circle cx="557.0" cy="971.0" r="7.0" fill="#fee6d8"/>
<circle cx="562.0" cy="994.0" r="7.0" fill="#fee6d8"/>
<circle cx="548.0" cy="985.0" r="7.0" fill="#fee6d8"/>
<circle cx="516.0" cy="1002.0" r="7.0" fill="#fee6d8"/>
<circle cx="559.0" cy="1020.0" r="7.0" fill="#fee6d8"/>
<circle cx="607.0" cy="1020.0" r="7.0" fill="#fee6d8"/>
<circle cx="584.0" cy="1083.0" r="7.0" fill="#fee6d8"/>
<circle cx="865.0" cy="916.0" r="7.0" fill="#fee6d8"/>
<circle cx="883.0" cy="936.0" r="7.0" fill="#fee6d8"/>
<circle cx="806.0" cy="967.0" r="7.0" fill="#fee6d8"/>
<circle cx="454.0" cy="742.5" r="7.0" fill="#fee6d8"/>
<circle cx="453.5" cy="783.0" r="7.0" fill="#fee6d8"/>
<circle cx="341.5" cy="822.0" r="7.0" fill="#fee6d8"/>
<circle cx="404.5" cy="861.5" r="7.0" fill="#fee6d8"/>
<circle cx="472.5" cy="895.0" r="7.0" fill="#fee6d8"/>
<circle cx="555.5" cy="924.5" r="7.0" fill="#fee6d8"/>
<circle cx="646.5" cy="800.0" r="7.0" fill="#fee6d8"/>
<circle cx="680.5" cy="806.0" r="7.0" fill="#fee6d8"/>
<circle cx="692.0" cy="807.0" r="7.0" fill="#fee6d8"/>
<circle cx="704.0" cy="761.5" r="7.0" fill="#fee6d8"/>
<circle cx="718.0" cy="770.0" r="7.0" fill="#fee6d8"/>
<circle cx="724.5" cy="789.5" r="7.0" fill="#fee6d8"/>
<circle cx="719.5" cy="815.0" r="7.0" fill="#fee6d8"/>
<circle cx="736.5" cy="816.0" r="7.0" fill="#fee6d8"/>
<circle cx="699.0" cy="833.0" r="7.0" fill="#fee6d8"/>
<circle cx="598.5" cy="919.5" r="7.0" fill="#fee6d8"/>
<circle cx="585.5" cy="933.0" r="7.0" fill="#fee6d8"/>
<circle cx="593.5" cy="943.0" r="7.0" fill="#fee6d8"/>
<circle cx="719.5" cy="819.0" r="7.0" fill="#fee6d8"/>
<circle cx="703.5" cy="835.5" r="7.0" fill="#fee6d8"/>
<circle cx="736.5" cy="835.5" r="7.0" fill="#fee6d8"/>
<circle cx="813.5" cy="834.0" r="7.0" fill="#fee6d8"/>
<circle cx="711.5" cy="851.5" r="7.0" fill="#fee6d8"/>
<circle cx="721.0" cy="853.0" r="7.0" fill="#fee6d8"/>
<circle cx="801.0" cy="847.0" r="7.0" fill="#fee6d8"/>
<circle cx="825.0" cy="857.0" r="7.0" fill="#fee6d8"/>
<circle cx="791.5" cy="864.5" r="7.0" fill="#fee6d8"/>
<circle cx="763.5" cy="877.0" r="7.0" fill="#fee6d8"/>
<circle cx="765.5" cy="887.0" r="7.0" fill="#fee6d8"/>
<circle cx="807.5" cy="884.0" r="7.0" fill="#fee6d8"/>
<circle cx="778.5" cy="912.5" r="7.0" fill="#fee6d8"/>
<circle cx="596.0" cy="567.5" r="7.0" fill="#fee6d8"/>
<circle cx="883.5" cy="504.0" r="7.0" fill="#fee6d8"/>
<circle cx="730.0" cy="454.5" r="7.0" fill="#fee6d8"/>
<circle cx="489.5" cy="238.5" r="7.0" fill="#fee6d8"/>
<circle cx="377.0" cy="941.5" r="7.0" fill="#fee5d7"/>
<circle cx="355.5" cy="949.0" r="7.0" fill="#fee5d7"/>
<circle cx="430.0" cy="284.5" r="7.0" fill="#fee5d7"/>
<circle cx="554.0" cy="247.0" r="7.0" fill="#fde5d7"/>
<circle cx="603.0" cy="548.5" r="7.0" fill="#fde5d6"/>
<circle cx="416.5" cy="289.5" r="7.0" fill="#fde4d6"/>
<circle cx="373.5" cy="583.0" r="7.0" fill="#fde4d5"/>
<circle cx="320.5" cy="432.5" r="7.0" fill="#fde4d5"/>
<circle cx="426.0" cy="271.5" r="7.0" fill="#fde3d5"/>
<circle cx="596.5" cy="545.0" r="7.0" fill="#fde1d2"/>
<circle cx="384.2" cy="832.0" r="7.0" fill="#fde1d2"/>
<circle cx="420.5" cy="307.5" r="7.0" fill="#fde1d2"/>
<circle cx="454.0" cy="272.5" r="7.0" fill="#fde1d1"/>
<circle cx="396.5" cy="313.0" r="7.0" fill="#fde1d1"/>
<circle cx="602.5" cy="530.0" r="7.0" fill="#fde0d1"/>
<circle cx="528.0" cy="537.0" r="7.0" fill="#fde0d0"/>
<circle cx="932.1" cy="425.9" r="7.0" fill="#fcdfcf"/>
<circle cx="348.5" cy="337.5" r="7.0" fill="#fcdfcf"/>
<circle cx="297.5" cy="447.5" r="7.0" fill="#fcdfcf"/>
<circle cx="845.5" cy="919.0" r="7.0" fill="#fcdece"/>
<circle cx="594.0" cy="518.0" r="7.0" fill="#fcdece"/>
<circle cx="300.0" cy="379.0" r="7.0" fill="#fcdece"/>
<circle cx="388.0" cy="258.0" r="7.0" fill="#fcdece"/>
<circle cx="637.0" cy="279.0" r="7.0" fill="#fcdece"/>
<circle cx="541.0" cy="297.0" r="7.0" fill="#fcdece"/>
<circle cx="400.0" cy="348.0" r="7.0" fill="#fcdece"/>
<circle cx="683.0" cy="250.0" r="7.0" fill="#fcdece"/>
<circle cx="742.0" cy="273.0" r="7.0" fill="#fcdece"/>
<circle cx="765.0" cy="282.0" r="7.0" fill="#fcdece"/>
<circle cx="730.0" cy="283.0" r="7.0" fill="#fcdece"/>
<circle cx="706.0" cy="289.0" r="7.0" fill="#fcdece"/>
<circle cx="696.0" cy="322.0" r="7.0" fill="#fcdece"/>
<circle cx="740.0" cy="297.0" r="7.0" fill="#fcdece"/>
<circle cx="755.0" cy="293.0" r="7.0" fill="#fcdece"/>
<circle cx="755.0" cy="328.0" r="7.0" fill="#fcdece"/>
<circle cx="810.0" cy="329.0" r="7.0" fill="#fcdece"/>
<circle cx="816.0" cy="335.0" r="7.0" fill="#fcdece"/>
<circle cx="829.0" cy="335.0" r="7.0" fill="#fcdece"/>
<circle cx="745.0" cy="351.0" r="7.0" fill="#fcdece"/>
<circle cx="941.0" cy="322.0" r="7.0" fill="#fcdece"/>
<circle cx="961.0" cy="337.0" r="7.0" fill="#fcdece"/>
<circle cx="1072.0" cy="351.0" r="7.0" fill="#fcdece"/>
<circle cx="220.0" cy="431.0" r="7.0" fill="#fcdece"/>
<circle cx="323.0" cy="398.0" r="7.0" fill="#fcdece"/>
<circle cx="367.0" cy="494.0" r="7.0" fill="#fcdece"/>
<circle cx="562.0" cy="405.0" r="7.0" fill="#fcdece"/>
<circle cx="531.0" cy="568.0" r="7.0" fill="#fcdece"/>
<circle cx="686.0" cy="405.0" r="7.0" fill="#fcdece"/>
<circle cx="682.0" cy="420.0" r="7.0" fill="#fcdece"/>
<circle cx="824.0" cy="421.0" r="7.0" fill="#fcdece"/>
<circle cx="871.0" cy="429.0" r="7.0" fill="#fcdece"/>
<circle cx="953.0" cy="790.0" r="7.0" fill="#fcdece"/>
<circle cx="972.0" cy="794.0" r="7.0" fill="#fcdece"/>
<circle cx="1010.0" cy="807.0" r="7.0" fill="#fcdece"/>
<circle cx="1022.0" cy="810.0" r="7.0" fill="#fcdece"/>
<circle cx="968.0" cy="824.0" r="7.0" fill="#fcdece"/>
<circle cx="583.0" cy="963.0" r="7.0" fill="#fcdece"/>
<circle cx="598.0" cy="975.0" r="7.0" fill="#fcdece"/>
<circle cx="838.0" cy="922.0" r="7.0" fill="#fcdece"/>
<circle cx="361.5" cy="828.5" r="7.0" fill="#fcdece"/>
<circle cx="397.0" cy="830.0" r="7.0" fill="#fcdece"/>
<circle cx="542.5" cy="907.0" r="7.0" fill="#fcdece"/>
<circle cx="537.5" cy="941.5" r="7.0" fill="#fcdece"/>
<circle cx="650.5" cy="784.5" r="7.0" fill="#fcdece"/>
<circle cx="723.5" cy="775.5" r="7.0" fill="#fcdece"/>
<circle cx="750.0" cy="792.0" r="7.0" fill="#fcdece"/>
<circle cx="632.5" cy="941.5" r="7.0" fill="#fcdece"/>
<circle cx="779.5" cy="825.5" r="7.0" fill="#fcdece"/>
<circle cx="720.5" cy="838.5" r="7.0" fill="#fcdece"/>
<circle cx="747.5" cy="847.5" r="7.0" fill="#fcdece"/>
<circle cx="744.5" cy="861.5" r="7.0" fill="#fcdece"/>
<circle cx="727.5" cy="877.5" r="7.0" fill="#fcdece"/>
<circle cx="313.5" cy="426.5" r="7.0" fill="#fcdece"/>
<circle cx="355.0" cy="964.0" r="7.0" fill="#fcddcd"/>
<circle cx="539.0" cy="219.0" r="7.0" fill="#fcddcc"/>
<circle cx="575.0" cy="250.0" r="7.0" fill="#fcdccc"/>
<circle cx="382.5" cy="340.5" r="7.0" fill="#fcdccb"/>
<circle cx="349.0" cy="343.0" r="7.0" fill="#fcdccb"/>
<circle cx="592.5" cy="513.5" r="7.0" fill="#fcdccb"/>
<circle cx="406.5" cy="298.0" r="7.0" fill="#fcdbcb"/>
<circle cx="403.0" cy="246.0" r="7.0" fill="#fcdbca"/>
<circle cx="575.0" cy="228.0" r="7.0" fill="#fcdbca"/>
<circle cx="578.0" cy="229.5" r="7.0" fill="#fcdbc9"/>
<circle cx="946.3" cy="415.6" r="7.0" fill="#fcdac9"/>
<circle cx="422.0" cy="294.5" r="7.0" fill="#fcdac9"/>
<circle cx="418.0" cy="229.5" r="7.0" fill="#fcdac9"/>
<circle cx="351.0" cy="331.5" r="7.0" fill="#fcdac9"/>
<circle cx="332.5" cy="543.5" r="7.0" fill="#fcdac9"/>
<circle cx="349.0" cy="254.5" r="7.0" fill="#fcdac9"/>
<circle cx="357.0" cy="330.5" r="7.0" fill="#fcdac9"/>
<circle cx="354.5" cy="929.0" r="7.0" fill="#fcdac9"/>
<circle cx="360.0" cy="268.5" r="7.0" fill="#fcdac9"/>
<circle cx="570.0" cy="479.0" r="7.0" fill="#fcdac9"/>
<circle cx="359.5" cy="355.0" r="7.0" fill="#fcdac9"/>
<circle cx="354.0" cy="308.0" r="7.0" fill="#fcdac9"/>
<circle cx="348.0" cy="261.0" r="7.0" fill="#fcdac9"/>
<circle cx="375.0" cy="269.0" r="7.0" fill="#fcdac9"/>
<circle cx="579.0" cy="245.5" r="7.0" fill="#fcdac9"/>
<circle cx="580.0" cy="457.0" r="7.0" fill="#fcdac9"/>
<circle cx="321.0" cy="542.0" r="7.0" fill="#fcdac9"/>
<circle cx="545.5" cy="461.0" r="7.0" fill="#fcdac9"/>
<circle cx="542.5" cy="489.0" r="7.0" fill="#fcdac9"/>
<circle cx="419.5" cy="266.0" r="7.0" fill="#fcdac9"/>
<circle cx="563.0" cy="501.0" r="7.0" fill="#fcdac9"/>
<circle cx="554.0" cy="201.0" r="7.0" fill="#fcdac9"/>
<circle cx="556.0" cy="531.5" r="7.0" fill="#fcdac9"/>
<circle cx="420.5" cy="271.0" r="7.0" fill="#fcdac9"/>
<circle cx="392.0" cy="327.0" r="7.0" fill="#fcdac9"/>
<circle cx="591.5" cy="455.0" r="7.0" fill="#fcdac9"/>
<circle cx="509.0" cy="498.5" r="7.0" fill="#fcdac9"/>
<circle cx="1094.0" cy="512.0" r="7.0" fill="#fcdac9"/>
<circle cx="503.0" cy="251.0" r="7.0" fill="#fcdac9"/>
<circle cx="231.5" cy="337.0" r="7.0" fill="#fcdac9"/>
<circle cx="585.0" cy="546.5" r="7.0" fill="#fcdac9"/>
<circle cx="1086.5" cy="473.5" r="7.0" fill="#fcdac9"/>
<circle cx="375.5" cy="323.5" r="7.0" fill="#fcdac9"/>
<circle cx="389.0" cy="280.0" r="7.0" fill="#fcdac9"/>
<circle cx="1109.5" cy="497.0" r="7.0" fill="#fcdac9"/>
<circle cx="364.5" cy="313.5" r="7.0" fill="#fcdac9"/>
<circle cx="421.0" cy="302.5" r="7.0" fill="#fcdac9"/>
<circle cx="576.0" cy="551.5" r="7.0" fill="#fcdac9"/>
<circle cx="325.0" cy="553.0" r="7.0" fill="#fcdac9"/>
<circle cx="361.5" cy="263.0" r="7.0" fill="#fcdac9"/>
<circle cx="336.5" cy="543.5" r="7.0" fill="#fcdac9"/>
<circle cx="375.5" cy="325.5" r="7.0" fill="#fcdac9"/>
<circle cx="393.5" cy="237.0" r="7.0" fill="#fcdac9"/>
<circle cx="516.0" cy="493.0" r="7.0" fill="#fcdac9"/>
<circle cx="568.0" cy="544.5" r="7.0" fill="#fcdac9"/>
<circle cx="557.5" cy="234.0" r="7.0" fill="#fcdac9"/>
<circle cx="1088.0" cy="491.0" r="7.0" fill="#fcdac9"/>
<circle cx="660.5" cy="259.5" r="7.0" fill="#fcdac9"/>
<circle cx="556.0" cy="479.5" r="7.0" fill="#fcdac9"/>
<circle cx="387.0" cy="333.0" r="7.0" fill="#fcdac9"/>
<circle cx="363.5" cy="352.5" r="7.0" fill="#fcdac9"/>
<circle cx="552.5" cy="528.5" r="7.0" fill="#fcdac9"/>
<circle cx="355.0" cy="578.5" r="7.0" fill="#fcdac9"/>
<circle cx="1113.0" cy="492.0" r="7.0" fill="#fcdac9"/>
<circle cx="378.0" cy="245.5" r="7.0" fill="#fcdac9"/>
<circle cx="332.5" cy="559.0" r="7.0" fill="#fcdac9"/>
<circle cx="369.0" cy="311.5" r="7.0" fill="#fcdac9"/>
<circle cx="560.5" cy="499.5" r="7.0" fill="#fcdac9"/>
<circle cx="380.5" cy="327.5" r="7.0" fill="#fcdac9"/>
<circle cx="366.5" cy="925.5" r="7.0" fill="#fcdac9"/>
<circle cx="357.0" cy="336.5" r="7.0" fill="#fcdac9"/>
<circle cx="1112.0" cy="500.0" r="7.0" fill="#fcdac9"/>
<circle cx="384.5" cy="580.0" r="7.0" fill="#fcdac9"/>
<circle cx="229.5" cy="332.0" r="7.0" fill="#fcdac9"/>
<circle cx="566.0" cy="261.0" r="7.0" fill="#fcdac9"/>
<circle cx="1097.5" cy="496.0" r="7.0" fill="#fcdac9"/>
<circle cx="509.5" cy="478.0" r="7.0" fill="#fcdac9"/>
<circle cx="342.5" cy="572.0" r="7.0" fill="#fcdac9"/>
<circle cx="315.5" cy="915.5" r="7.0" fill="#fcdac9"/>
<circle cx="391.5" cy="335.5" r="7.0" fill="#fcdac9"/>
<circle cx="550.5" cy="470.0" r="7.0" fill="#fcdac9"/>
<circle cx="380.5" cy="331.0" r="7.0" fill="#fcdac9"/>
<circle cx="330.5" cy="548.0" r="7.0" fill="#fcdac9"/>
<circle cx="341.5" cy="925.0" r="7.0" fill="#fcdac9"/>
<circle cx="503.5" cy="490.0" r="7.0" fill="#fcdac9"/>
<circle cx="564.5" cy="492.0" r="7.0" fill="#fcdac9"/>
<circle cx="900.5" cy="939.0" r="7.0" fill="#fcdac9"/>
<circle cx="354.0" cy="358.5" r="7.0" fill="#fcdac9"/>
<circle cx="1086.5" cy="490.5" r="7.0" fill="#fcdac9"/>
<circle cx="315.5" cy="539.5" r="7.0" fill="#fcdac9"/>
<circle cx="560.0" cy="474.0" r="7.0" fill="#fcdac9"/>
<circle cx="220.5" cy="379.5" r="7.0" fill="#fcdac9"/>
<circle cx="220.0" cy="404.0" r="7.0" fill="#fcdac9"/>
<circle cx="360.5" cy="329.0" r="7.0" fill="#fcdac9"/>
<circle cx="344.0" cy="262.5" r="7.0" fill="#fcdac9"/>
<circle cx="555.5" cy="510.5" r="7.0" fill="#fcdac9"/>
<circle cx="312.5" cy="544.0" r="7.0" fill="#fcdac9"/>
<circle cx="323.5" cy="921.0" r="7.0" fill="#fcdac9"/>
<circle cx="343.0" cy="319.0" r="7.0" fill="#fcdac9"/>
<circle cx="212.5" cy="401.5" r="7.0" fill="#fcdac9"/>
<circle cx="352.5" cy="923.5" r="7.0" fill="#fcdac9"/>
<circle cx="327.5" cy="921.0" r="7.0" fill="#fcdac9"/>
<circle cx="374.5" cy="275.5" r="7.0" fill="#fcdac9"/>
<circle cx="336.0" cy="568.5" r="7.0" fill="#fcdac9"/>
<circle cx="318.5" cy="557.5" r="7.0" fill="#fcdac9"/>
<circle cx="550.0" cy="459.5" r="7.0" fill="#fcdac9"/>
<circle cx="374.5" cy="327.0" r="7.0" fill="#fcdac9"/>
<circle cx="564.5" cy="549.0" r="7.0" fill="#fcdac9"/>
<circle cx="395.0" cy="332.0" r="7.0" fill="#fcdac9"/>
<circle cx="308.5" cy="913.5" r="7.0" fill="#fcdac9"/>
<circle cx="576.0" cy="226.5" r="7.0" fill="#fcdac9"/>
<circle cx="403.5" cy="231.5" r="7.0" fill="#fcdac9"/>
<circle cx="434.5" cy="275.0" r="7.0" fill="#fcdac9"/>
<circle cx="414.5" cy="228.5" r="7.0" fill="#fcdac9"/>
<circle cx="331.0" cy="578.0" r="7.0" fill="#fcdac9"/>
<circle cx="1093.5" cy="471.5" r="7.0" fill="#fcdac9"/>
<circle cx="306.0" cy="288.0" r="7.0" fill="#fcdac9"/>
<circle cx="315.0" cy="290.0" r="7.0" fill="#fcdac9"/>
<circle cx="318.0" cy="360.0" r="7.0" fill="#fcdac9"/>
<circle cx="482.0" cy="235.0" r="7.0" fill="#fcdac9"/>
<circle cx="447.0" cy="249.0" r="7.0" fill="#fcdac9"/>
<circle cx="421.0" cy="357.0" r="7.0" fill="#fcdac9"/>
<circle cx="494.0" cy="370.0" r="7.0" fill="#fcdac9"/>
<circle cx="652.0" cy="279.0" r="7.0" fill="#fcdac9"/>
<circle cx="661.0" cy="290.0" r="7.0" fill="#fcdac9"/>
<circle cx="772.0" cy="299.0" r="7.0" fill="#fcdac9"/>
<circle cx="744.0" cy="318.0" r="7.0" fill="#fcdac9"/>
<circle cx="823.0" cy="342.0" r="7.0" fill="#fcdac9"/>
<circle cx="872.0" cy="373.0" r="7.0" fill="#fcdac9"/>
<circle cx="949.0" cy="331.0" r="7.0" fill="#fcdac9"/>
<circle cx="965.0" cy="330.0" r="7.0" fill="#fcdac9"/>
<circle cx="1055.0" cy="358.0" r="7.0" fill="#fcdac9"/>
<circle cx="294.0" cy="445.0" r="7.0" fill="#fcdac9"/>
<circle cx="340.0" cy="521.0" r="7.0" fill="#fcdac9"/>
<circle cx="374.0" cy="537.0" r="7.0" fill="#fcdac9"/>
<circle cx="412.0" cy="385.0" r="7.0" fill="#fcdac9"/>
<circle cx="397.0" cy="460.0" r="7.0" fill="#fcdac9"/>
<circle cx="676.0" cy="407.0" r="7.0" fill="#fcdac9"/>
<circle cx="687.0" cy="420.0" r="7.0" fill="#fcdac9"/>
<circle cx="1069.0" cy="452.0" r="7.0" fill="#fcdac9"/>
<circle cx="969.0" cy="775.0" r="7.0" fill="#fcdac9"/>
<circle cx="1005.0" cy="785.0" r="7.0" fill="#fcdac9"/>
<circle cx="980.0" cy="790.0" r="7.0" fill="#fcdac9"/>
<circle cx="993.0" cy="796.0" r="7.0" fill="#fcdac9"/>
<circle cx="1008.0" cy="794.0" r="7.0" fill="#fcdac9"/>
<circle cx="966.0" cy="801.0" r="7.0" fill="#fcdac9"/>
<circle cx="983.0" cy="810.0" r="7.0" fill="#fcdac9"/>
<circle cx="855.0" cy="885.0" r="7.0" fill="#fcdac9"/>
<circle cx="583.0" cy="973.0" r="7.0" fill="#fcdac9"/>
<circle cx="447.0" cy="746.5" r="7.0" fill="#fcdac9"/>
<circle cx="398.0" cy="836.0" r="7.0" fill="#fcdac9"/>
<circle cx="587.5" cy="746.5" r="7.0" fill="#fcdac9"/>
<circle cx="682.0" cy="812.0" r="7.0" fill="#fcdac9"/>
<circle cx="751.5" cy="826.5" r="7.0" fill="#fcdac9"/>
<circle cx="794.5" cy="849.5" r="7.0" fill="#fcdac9"/>
<circle cx="706.5" cy="863.0" r="7.0" fill="#fcdac9"/>
<circle cx="818.5" cy="867.0" r="7.0" fill="#fcdac9"/>
<circle cx="766.0" cy="688.0" r="7.0" fill="#fcdac9"/>
<circle cx="380.0" cy="262.0" r="7.0" fill="#fad3c0"/>
<circle cx="383.0" cy="300.0" r="7.0" fill="#fad3c0"/>
<circle cx="289.0" cy="296.0" r="7.0" fill="#fad3c0"/>
<circle cx="330.0" cy="344.0" r="7.0" fill="#fad3c0"/>
<circle cx="341.0" cy="342.0" r="7.0" fill="#fad3c0"/>
<circle cx="370.0" cy="354.0" r="7.0" fill="#fad3c0"/>
<circle cx="380.0" cy="348.0" r="7.0" fill="#fad3c0"/>
<circle cx="338.0" cy="366.0" r="7.0" fill="#fad3c0"/>
<circle cx="364.0" cy="367.0" r="7.0" fill="#fad3c0"/>
<circle cx="363.0" cy="379.0" r="7.0" fill="#fad3c0"/>
<circle cx="312.0" cy="382.0" r="7.0" fill="#fad3c0"/>
<circle cx="261.0" cy="365.0" r="7.0" fill="#fad3c0"/>
<circle cx="528.0" cy="204.0" r="7.0" fill="#fad3c0"/>
<circle cx="528.0" cy="221.0" r="7.0" fill="#fad3c0"/>
<circle cx="428.0" cy="227.0" r="7.0" fill="#fad3c0"/>
<circle cx="399.0" cy="234.0" r="7.0" fill="#fad3c0"/>
<circle cx="405.0" cy="239.0" r="7.0" fill="#fad3c0"/>
<circle cx="386.0" cy="238.0" r="7.0" fill="#fad3c0"/>
<circle cx="470.0" cy="231.0" r="7.0" fill="#fad3c0"/>
<circle cx="544.0" cy="248.0" r="7.0" fill="#fad3c0"/>
<circle cx="565.0" cy="248.0" r="7.0" fill="#fad3c0"/>
<circle cx="632.0" cy="248.0" r="7.0" fill="#fad3c0"/>
<circle cx="444.0" cy="262.0" r="7.0" fill="#fad3c0"/>
<circle cx="562.0" cy="263.0" r="7.0" fill="#fad3c0"/>
<circle cx="573.0" cy="260.0" r="7.0" fill="#fad3c0"/>
<circle cx="604.0" cy="264.0" r="7.0" fill="#fad3c0"/>
<circle cx="394.0" cy="281.0" r="7.0" fill="#fad3c0"/>
<circle cx="456.0" cy="274.0" r="7.0" fill="#fad3c0"/>
<circle cx="541.0" cy="281.0" r="7.0" fill="#fad3c0"/>
<circle cx="479.0" cy="294.0" r="7.0" fill="#fad3c0"/>
<circle cx="400.0" cy="310.0" r="7.0" fill="#fad3c0"/>
<circle cx="447.0" cy="322.0" r="7.0" fill="#fad3c0"/>
<circle cx="464.0" cy="321.0" r="7.0" fill="#fad3c0"/>
<circle cx="518.0" cy="350.0" r="7.0" fill="#fad3c0"/>
<circle cx="432.0" cy="358.0" r="7.0" fill="#fad3c0"/>
<circle cx="658.0" cy="249.0" r="7.0" fill="#fad3c0"/>
<circle cx="722.0" cy="275.0" r="7.0" fill="#fad3c0"/>
<circle cx="685.0" cy="279.0" r="7.0" fill="#fad3c0"/>
<circle cx="667.0" cy="304.0" r="7.0" fill="#fad3c0"/>
<circle cx="786.0" cy="285.0" r="7.0" fill="#fad3c0"/>
<circle cx="814.0" cy="308.0" r="7.0" fill="#fad3c0"/>
<circle cx="885.0" cy="378.0" r="7.0" fill="#fad3c0"/>
<circle cx="712.0" cy="353.0" r="7.0" fill="#fad3c0"/>
<circle cx="927.0" cy="348.0" r="7.0" fill="#fad3c0"/>
<circle cx="1062.0" cy="355.0" r="7.0" fill="#fad3c0"/>
<circle cx="1060.0" cy="366.0" r="7.0" fill="#fad3c0"/>
<circle cx="1035.0" cy="374.0" r="7.0" fill="#fad3c0"/>
<circle cx="944.0" cy="385.0" r="7.0" fill="#fad3c0"/>
<circle cx="230.0" cy="412.0" r="7.0" fill="#fad3c0"/>
<circle cx="272.0" cy="386.0" r="7.0" fill="#fad3c0"/>
<circle cx="312.0" cy="388.0" r="7.0" fill="#fad3c0"/>
<circle cx="308.0" cy="410.0" r="7.0" fill="#fad3c0"/>
<circle cx="332.0" cy="421.0" r="7.0" fill="#fad3c0"/>
<circle cx="339.0" cy="432.0" r="7.0" fill="#fad3c0"/>
<circle cx="317.0" cy="439.0" r="7.0" fill="#fad3c0"/>
<circle cx="292.0" cy="451.0" r="7.0" fill="#fad3c0"/>
<circle cx="295.0" cy="455.0" r="7.0" fill="#fad3c0"/>
<circle cx="365.0" cy="461.0" r="7.0" fill="#fad3c0"/>
<circle cx="380.0" cy="468.0" r="7.0" fill="#fad3c0"/>
<circle cx="328.0" cy="480.0" r="7.0" fill="#fad3c0"/>
<circle cx="321.0" cy="515.0" r="7.0" fill="#fad3c0"/>
<circle cx="350.0" cy="515.0" r="7.0" fill="#fad3c0"/>
<circle cx="364.0" cy="521.0" r="7.0" fill="#fad3c0"/>
<circle cx="377.0" cy="573.0" r="7.0" fill="#fad3c0"/>
<circle cx="389.0" cy="438.0" r="7.0" fill="#fad3c0"/>
<circle cx="386.0" cy="458.0" r="7.0" fill="#fad3c0"/>
<circle cx="391.0" cy="463.0" r="7.0" fill="#fad3c0"/>
<circle cx="384.0" cy="519.0" r="7.0" fill="#fad3c0"/>
<circle cx="576.0" cy="446.0" r="7.0" fill="#fad3c0"/>
<circle cx="552.0" cy="455.0" r="7.0" fill="#fad3c0"/>
<circle cx="560.0" cy="456.0" r="7.0" fill="#fad3c0"/>
<circle cx="636.0" cy="459.0" r="7.0" fill="#fad3c0"/>
<circle cx="598.0" cy="471.0" r="7.0" fill="#fad3c0"/>
<circle cx="533.0" cy="464.0" r="7.0" fill="#fad3c0"/>
<circle cx="534.0" cy="477.0" r="7.0" fill="#fad3c0"/>
<circle cx="573.0" cy="503.0" r="7.0" fill="#fad3c0"/>
<circle cx="588.0" cy="518.0" r="7.0" fill="#fad3c0"/>
<circle cx="603.0" cy="519.0" r="7.0" fill="#fad3c0"/>
<circle cx="538.0" cy="550.0" r="7.0" fill="#fad3c0"/>
<circle cx="598.0" cy="554.0" r="7.0" fill="#fad3c0"/>
<circle cx="613.0" cy="553.0" r="7.0" fill="#fad3c0"/>
<circle cx="709.0" cy="403.0" r="7.0" fill="#fad3c0"/>
<circle cx="842.0" cy="432.0" r="7.0" fill="#fad3c0"/>
<circle cx="878.0" cy="392.0" r="7.0" fill="#fad3c0"/>
<circle cx="967.0" cy="433.0" r="7.0" fill="#fad3c0"/>
<circle cx="984.0" cy="428.0" r="7.0" fill="#fad3c0"/>
<circle cx="1030.0" cy="462.0" r="7.0" fill="#fad3c0"/>
<circle cx="987.0" cy="467.0" r="7.0" fill="#fad3c0"/>
<circle cx="1059.0" cy="479.0" r="7.0" fill="#fad3c0"/>
<circle cx="874.0" cy="790.0" r="7.0" fill="#fad3c0"/>
<circle cx="901.0" cy="888.0" r="7.0" fill="#fad3c0"/>
<circle cx="372.0" cy="925.0" r="7.0" fill="#fad3c0"/>
<circle cx="368.0" cy="942.0" r="7.0" fill="#fad3c0"/>
<circle cx="370.0" cy="952.0" r="7.0" fill="#fad3c0"/>
<circle cx="349.0" cy="955.0" r="7.0" fill="#fad3c0"/>
<circle cx="358.0" cy="967.0" r="7.0" fill="#fad3c0"/>
<circle cx="379.0" cy="940.0" r="7.0" fill="#fad3c0"/>
<circle cx="397.0" cy="938.0" r="7.0" fill="#fad3c0"/>
<circle cx="578.0" cy="950.0" r="7.0" fill="#fad3c0"/>
<circle cx="584.0" cy="1020.0" r="7.0" fill="#fad3c0"/>
<circle cx="582.0" cy="1070.0" r="7.0" fill="#fad3c0"/>
<circle cx="584.0" cy="1059.0" r="7.0" fill="#fad3c0"/>
<circle cx="579.0" cy="1074.0" r="7.0" fill="#fad3c0"/>
<circle cx="599.0" cy="1081.0" r="7.0" fill="#fad3c0"/>
<circle cx="835.0" cy="910.0" r="7.0" fill="#fad3c0"/>
<circle cx="410.5" cy="775.5" r="7.0" fill="#fad3c0"/>
<circle cx="466.5" cy="812.0" r="7.0" fill="#fad3c0"/>
<circle cx="365.0" cy="838.0" r="7.0" fill="#fad3c0"/>
<circle cx="372.0" cy="827.0" r="7.0" fill="#fad3c0"/>
<circle cx="648.5" cy="811.0" r="7.0" fill="#fad3c0"/>
<circle cx="765.0" cy="692.0" r="7.0" fill="#fad3c0"/>
<circle cx="746.5" cy="787.5" r="7.0" fill="#fad3c0"/>
<circle cx="655.0" cy="839.5" r="7.0" fill="#fad3c0"/>
<circle cx="676.5" cy="862.0" r="7.0" fill="#fad3c0"/>
<circle cx="765.5" cy="835.5" r="7.0" fill="#fad3c0"/>
<circle cx="778.0" cy="863.5" r="7.0" fill="#fad3c0"/>
<circle cx="802.5" cy="875.5" r="7.0" fill="#fad3c0"/>
<circle cx="824.5" cy="902.5" r="7.0" fill="#fad3c0"/>
<circle cx="819.5" cy="588.0" r="7.0" fill="#fad3c0"/>
<circle cx="329.0" cy="362.0" r="7.0" fill="#f9c8b1"/>
<circle cx="330.0" cy="374.0" r="7.0" fill="#f9c8b1"/>
<circle cx="408.0" cy="227.0" r="7.0" fill="#f9c8b1"/>
<circle cx="422.0" cy="228.0" r="7.0" fill="#f9c8b1"/>
<circle cx="556.0" cy="251.0" r="7.0" fill="#f9c8b1"/>
<circle cx="420.0" cy="248.0" r="7.0" fill="#f9c8b1"/>
<circle cx="450.0" cy="263.0" r="7.0" fill="#f9c8b1"/>
<circle cx="458.0" cy="268.0" r="7.0" fill="#f9c8b1"/>
<circle cx="492.0" cy="274.0" r="7.0" fill="#f9c8b1"/>
<circle cx="536.0" cy="256.0" r="7.0" fill="#f9c8b1"/>
<circle cx="617.0" cy="270.0" r="7.0" fill="#f9c8b1"/>
<circle cx="386.0" cy="272.0" r="7.0" fill="#f9c8b1"/>
<circle cx="534.0" cy="276.0" r="7.0" fill="#f9c8b1"/>
<circle cx="466.0" cy="297.0" r="7.0" fill="#f9c8b1"/>
<circle cx="667.0" cy="258.0" r="7.0" fill="#f9c8b1"/>
<circle cx="651.0" cy="264.0" r="7.0" fill="#f9c8b1"/>
<circle cx="920.0" cy="303.0" r="7.0" fill="#f9c8b1"/>
<circle cx="932.0" cy="338.0" r="7.0" fill="#f9c8b1"/>
<circle cx="1064.0" cy="346.0" r="7.0" fill="#f9c8b1"/>
<circle cx="296.0" cy="420.0" r="7.0" fill="#f9c8b1"/>
<circle cx="308.0" cy="421.0" r="7.0" fill="#f9c8b1"/>
<circle cx="305.0" cy="439.0" r="7.0" fill="#f9c8b1"/>
<circle cx="330.0" cy="435.0" r="7.0" fill="#f9c8b1"/>
<circle cx="310.0" cy="469.0" r="7.0" fill="#f9c8b1"/>
<circle cx="319.0" cy="465.0" r="7.0" fill="#f9c8b1"/>
<circle cx="322.0" cy="489.0" r="7.0" fill="#f9c8b1"/>
<circle cx="330.0" cy="508.0" r="7.0" fill="#f9c8b1"/>
<circle cx="379.0" cy="519.0" r="7.0" fill="#f9c8b1"/>
<circle cx="599.0" cy="539.0" r="7.0" fill="#f9c8b1"/>
<circle cx="882.0" cy="390.0" r="7.0" fill="#f9c8b1"/>
<circle cx="895.0" cy="400.0" r="7.0" fill="#f9c8b1"/>
<circle cx="681.0" cy="447.0" r="7.0" fill="#f9c8b1"/>
<circle cx="944.0" cy="389.0" r="7.0" fill="#f9c8b1"/>
<circle cx="900.0" cy="399.0" r="7.0" fill="#f9c8b1"/>
<circle cx="920.0" cy="399.0" r="7.0" fill="#f9c8b1"/>
<circle cx="958.0" cy="405.0" r="7.0" fill="#f9c8b1"/>
<circle cx="940.0" cy="421.0" r="7.0" fill="#f9c8b1"/>
<circle cx="982.0" cy="415.0" r="7.0" fill="#f9c8b1"/>
<circle cx="970.0" cy="414.0" r="7.0" fill="#f9c8b1"/>
<circle cx="998.0" cy="422.0" r="7.0" fill="#f9c8b1"/>
<circle cx="940.0" cy="429.0" r="7.0" fill="#f9c8b1"/>
<circle cx="947.0" cy="432.0" r="7.0" fill="#f9c8b1"/>
<circle cx="957.0" cy="441.0" r="7.0" fill="#f9c8b1"/>
<circle cx="993.0" cy="438.0" r="7.0" fill="#f9c8b1"/>
<circle cx="991.0" cy="451.0" r="7.0" fill="#f9c8b1"/>
<circle cx="1065.0" cy="392.0" r="7.0" fill="#f9c8b1"/>
<circle cx="1067.0" cy="404.0" r="7.0" fill="#f9c8b1"/>
<circle cx="1064.0" cy="465.0" r="7.0" fill="#f9c8b1"/>
<circle cx="1050.0" cy="477.0" r="7.0" fill="#f9c8b1"/>
<circle cx="975.0" cy="833.0" r="7.0" fill="#f9c8b1"/>
<circle cx="599.0" cy="1076.0" r="7.0" fill="#f9c8b1"/>
<circle cx="834.0" cy="900.0" r="7.0" fill="#f9c8b1"/>
<circle cx="840.0" cy="912.0" r="7.0" fill="#f9c8b1"/>
<circle cx="888.0" cy="913.0" r="7.0" fill="#f9c8b1"/>
<circle cx="896.0" cy="933.0" r="7.0" fill="#f9c8b1"/>
<circle cx="849.0" cy="926.0" r="7.0" fill="#f9c8b1"/>
<circle cx="559.5" cy="811.0" r="7.0" fill="#f9c8b1"/>
<circle cx="374.0" cy="829.0" r="7.0" fill="#f9c8b1"/>
<circle cx="760.0" cy="692.5" r="7.0" fill="#f9c8b1"/>
<circle cx="608.5" cy="881.0" r="7.0" fill="#f9c8b1"/>
<circle cx="772.5" cy="859.0" r="7.0" fill="#f9c8b1"/>
<circle cx="709.5" cy="872.0" r="7.0" fill="#f9c8b1"/>
<circle cx="795.5" cy="897.5" r="7.0" fill="#f9c8b1"/>
<circle cx="930.0" cy="438.0" r="7.0" fill="#f9c8b1"/>
<circle cx="928.0" cy="434.0" r="7.0" fill="#f9c8b1"/>
<circle cx="941.0" cy="439.0" r="7.0" fill="#f9c8b1"/>
<circle cx="348.0" cy="244.0" r="7.0" fill="#f7c0a8"/>
<circle cx="382.0" cy="238.0" r="7.0" fill="#f7c0a8"/>
<circle cx="337.0" cy="252.0" r="7.0" fill="#f7c0a8"/>
<circle cx="343.0" cy="269.0" r="7.0" fill="#f7c0a8"/>
<circle cx="346.0" cy="277.0" r="7.0" fill="#f7c0a8"/>
<circle cx="366.0" cy="282.0" r="7.0" fill="#f7c0a8"/>
<circle cx="382.0" cy="288.0" r="7.0" fill="#f7c0a8"/>
<circle cx="311.0" cy="278.0" r="7.0" fill="#f7c0a8"/>
<circle cx="352.0" cy="312.0" r="7.0" fill="#f7c0a8"/>
<circle cx="364.0" cy="302.0" r="7.0" fill="#f7c0a8"/>
<circle cx="350.0" cy="324.0" r="7.0" fill="#f7c0a8"/>
<circle cx="354.0" cy="331.0" r="7.0" fill="#f7c0a8"/>
<circle cx="313.0" cy="334.0" r="7.0" fill="#f7c0a8"/>
<circle cx="247.0" cy="309.0" r="7.0" fill="#f7c0a8"/>
<circle cx="238.0" cy="313.0" r="7.0" fill="#f7c0a8"/>
<circle cx="238.0" cy="321.0" r="7.0" fill="#f7c0a8"/>
<circle cx="229.0" cy="324.0" r="7.0" fill="#f7c0a8"/>
<circle cx="234.0" cy="330.0" r="7.0" fill="#f7c0a8"/>
<circle cx="239.0" cy="337.0" r="7.0" fill="#f7c0a8"/>
<circle cx="350.0" cy="363.0" r="7.0" fill="#f7c0a8"/>
<circle cx="352.0" cy="373.0" r="7.0" fill="#f7c0a8"/>
<circle cx="337.0" cy="377.0" r="7.0" fill="#f7c0a8"/>
<circle cx="262.0" cy="370.0" r="7.0" fill="#f7c0a8"/>
<circle cx="273.0" cy="379.0" r="7.0" fill="#f7c0a8"/>
<circle cx="227.0" cy="381.0" r="7.0" fill="#f7c0a8"/>
<circle cx="546.0" cy="202.0" r="7.0" fill="#f7c0a8"/>
<circle cx="547.0" cy="195.0" r="7.0" fill="#f7c0a8"/>
<circle cx="536.0" cy="219.0" r="7.0" fill="#f7c0a8"/>
<circle cx="609.0" cy="217.0" r="7.0" fill="#f7c0a8"/>
<circle cx="413.0" cy="241.0" r="7.0" fill="#f7c0a8"/>
<circle cx="522.0" cy="243.0" r="7.0" fill="#f7c0a8"/>
<circle cx="499.0" cy="243.0" r="7.0" fill="#f7c0a8"/>
<circle cx="627.0" cy="238.0" r="7.0" fill="#f7c0a8"/>
<circle cx="585.0" cy="247.0" r="7.0" fill="#f7c0a8"/>
<circle cx="590.0" cy="254.0" r="7.0" fill="#f7c0a8"/>
<circle cx="637.0" cy="251.0" r="7.0" fill="#f7c0a8"/>
<circle cx="506.0" cy="258.0" r="7.0" fill="#f7c0a8"/>
<circle cx="523.0" cy="270.0" r="7.0" fill="#f7c0a8"/>
<circle cx="614.0" cy="265.0" r="7.0" fill="#f7c0a8"/>
<circle cx="510.0" cy="289.0" r="7.0" fill="#f7c0a8"/>
<circle cx="456.0" cy="302.0" r="7.0" fill="#f7c0a8"/>
<circle cx="496.0" cy="306.0" r="7.0" fill="#f7c0a8"/>
<circle cx="551.0" cy="298.0" r="7.0" fill="#f7c0a8"/>
<circle cx="420.0" cy="323.0" r="7.0" fill="#f7c0a8"/>
<circle cx="412.0" cy="335.0" r="7.0" fill="#f7c0a8"/>
<circle cx="392.0" cy="345.0" r="7.0" fill="#f7c0a8"/>
<circle cx="655.0" cy="255.0" r="7.0" fill="#f7c0a8"/>
<circle cx="726.0" cy="268.0" r="7.0" fill="#f7c0a8"/>
<circle cx="675.0" cy="297.0" r="7.0" fill="#f7c0a8"/>
<circle cx="1067.0" cy="363.0" r="7.0" fill="#f7c0a8"/>
<circle cx="228.0" cy="386.0" r="7.0" fill="#f7c0a8"/>
<circle cx="207.0" cy="413.0" r="7.0" fill="#f7c0a8"/>
<circle cx="209.0" cy="421.0" r="7.0" fill="#f7c0a8"/>
<circle cx="224.0" cy="421.0" r="7.0" fill="#f7c0a8"/>
<circle cx="344.0" cy="409.0" r="7.0" fill="#f7c0a8"/>
<circle cx="316.0" cy="417.0" r="7.0" fill="#f7c0a8"/>
<circle cx="374.0" cy="454.0" r="7.0" fill="#f7c0a8"/>
<circle cx="309.0" cy="451.0" r="7.0" fill="#f7c0a8"/>
<circle cx="335.0" cy="457.0" r="7.0" fill="#f7c0a8"/>
<circle cx="320.0" cy="475.0" r="7.0" fill="#f7c0a8"/>
<circle cx="315.0" cy="492.0" r="7.0" fill="#f7c0a8"/>
<circle cx="347.0" cy="579.0" r="7.0" fill="#f7c0a8"/>
<circle cx="396.0" cy="447.0" r="7.0" fill="#f7c0a8"/>
<circle cx="586.0" cy="453.0" r="7.0" fill="#f7c0a8"/>
<circle cx="594.0" cy="464.0" r="7.0" fill="#f7c0a8"/>
<circle cx="542.0" cy="468.0" r="7.0" fill="#f7c0a8"/>
<circle cx="594.0" cy="485.0" r="7.0" fill="#f7c0a8"/>
<circle cx="589.0" cy="506.0" r="7.0" fill="#f7c0a8"/>
<circle cx="632.0" cy="509.0" r="7.0" fill="#f7c0a8"/>
<circle cx="517.0" cy="524.0" r="7.0" fill="#f7c0a8"/>
<circle cx="605.0" cy="528.0" r="7.0" fill="#f7c0a8"/>
<circle cx="588.0" cy="538.0" r="7.0" fill="#f7c0a8"/>
<circle cx="639.0" cy="544.0" r="7.0" fill="#f7c0a8"/>
<circle cx="641.0" cy="460.0" r="7.0" fill="#f7c0a8"/>
<circle cx="906.0" cy="400.0" r="7.0" fill="#f7c0a8"/>
<circle cx="931.0" cy="402.0" r="7.0" fill="#f7c0a8"/>
<circle cx="948.0" cy="406.0" r="7.0" fill="#f7c0a8"/>
<circle cx="908.0" cy="409.0" r="7.0" fill="#f7c0a8"/>
<circle cx="921.0" cy="410.0" r="7.0" fill="#f7c0a8"/>
<circle cx="965.0" cy="422.0" r="7.0" fill="#f7c0a8"/>
<circle cx="976.0" cy="420.0" r="7.0" fill="#f7c0a8"/>
<circle cx="993.0" cy="420.0" r="7.0" fill="#f7c0a8"/>
<circle cx="954.0" cy="426.0" r="7.0" fill="#f7c0a8"/>
<circle cx="1050.0" cy="456.0" r="7.0" fill="#f7c0a8"/>
<circle cx="1032.0" cy="495.0" r="7.0" fill="#f7c0a8"/>
<circle cx="1073.0" cy="488.0" r="7.0" fill="#f7c0a8"/>
<circle cx="441.4" cy="644.5" r="7.0" fill="#f7c0a8"/>
<circle cx="999.0" cy="797.0" r="7.0" fill="#f7c0a8"/>
<circle cx="839.0" cy="895.0" r="7.0" fill="#f7c0a8"/>
<circle cx="360.0" cy="950.0" r="7.0" fill="#f7c0a8"/>
<circle cx="592.0" cy="1062.0" r="7.0" fill="#f7c0a8"/>
<circle cx="880.0" cy="912.0" r="7.0" fill="#f7c0a8"/>
<circle cx="839.0" cy="902.0" r="7.0" fill="#f7c0a8"/>
<circle cx="904.0" cy="931.0" r="7.0" fill="#f7c0a8"/>
<circle cx="857.0" cy="934.0" r="7.0" fill="#f7c0a8"/>
<circle cx="889.0" cy="931.0" r="7.0" fill="#f7c0a8"/>
<circle cx="376.0" cy="831.0" r="7.0" fill="#f7c0a8"/>
<circle cx="444.5" cy="852.0" r="7.0" fill="#f7c0a8"/>
<circle cx="805.5" cy="854.5" r="7.0" fill="#f7c0a8"/>
<circle cx="509.0" cy="267.0" r="7.0" fill="#f3b6a0"/>
<circle cx="486.0" cy="270.0" r="7.0" fill="#f3b6a0"/>
<circle cx="422.0" cy="283.0" r="7.0" fill="#f3b6a0"/>
<circle cx="599.0" cy="278.0" r="7.0" fill="#f3b6a0"/>
<circle cx="503.0" cy="294.0" r="7.0" fill="#f3b6a0"/>
<circle cx="662.0" cy="300.0" r="7.0" fill="#f3b6a0"/>
<circle cx="213.0" cy="440.0" r="7.0" fill="#f3b6a0"/>
<circle cx="325.0" cy="425.0" r="7.0" fill="#f3b6a0"/>
<circle cx="316.0" cy="453.0" r="7.0" fill="#f3b6a0"/>
<circle cx="325.0" cy="466.0" r="7.0" fill="#f3b6a0"/>
<circle cx="329.0" cy="499.0" r="7.0" fill="#f3b6a0"/>
<circle cx="502.0" cy="393.0" r="7.0" fill="#f3b6a0"/>
<circle cx="567.0" cy="453.0" r="7.0" fill="#f3b6a0"/>
<circle cx="599.0" cy="459.0" r="7.0" fill="#f3b6a0"/>
<circle cx="602.0" cy="508.0" r="7.0" fill="#f3b6a0"/>
<circle cx="622.0" cy="508.0" r="7.0" fill="#f3b6a0"/>
<circle cx="538.0" cy="524.0" r="7.0" fill="#f3b6a0"/>
<circle cx="935.0" cy="410.0" r="7.0" fill="#f3b6a0"/>
<circle cx="956.0" cy="416.0" r="7.0" fill="#f3b6a0"/>
<circle cx="1057.0" cy="464.0" r="7.0" fill="#f3b6a0"/>
<circle cx="392.0" cy="834.5" r="7.0" fill="#f3b6a0"/>
<circle cx="713.5" cy="513.5" r="7.0" fill="#f3b6a0"/>
<circle cx="350.0" cy="353.0" r="7.0" fill="#f1b29c"/>
<circle cx="259.0" cy="335.0" r="7.0" fill="#f1b29c"/>
<circle cx="518.0" cy="235.0" r="7.0" fill="#f1b29c"/>
<circle cx="493.0" cy="246.0" r="7.0" fill="#f1b29c"/>
<circle cx="624.0" cy="255.0" r="7.0" fill="#f1b29c"/>
<circle cx="473.0" cy="261.0" r="7.0" fill="#f1b29c"/>
<circle cx="455.0" cy="297.0" r="7.0" fill="#f1b29c"/>
<circle cx="428.0" cy="309.0" r="7.0" fill="#f1b29c"/>
<circle cx="539.0" cy="349.0" r="7.0" fill="#f1b29c"/>
<circle cx="1058.0" cy="383.0" r="7.0" fill="#f1b29c"/>
<circle cx="569.0" cy="461.0" r="7.0" fill="#f1b29c"/>
<circle cx="584.0" cy="461.0" r="7.0" fill="#f1b29c"/>
<circle cx="508.0" cy="461.0" r="7.0" fill="#f1b29c"/>
<circle cx="521.0" cy="469.0" r="7.0" fill="#f1b29c"/>
<circle cx="526.0" cy="526.0" r="7.0" fill="#f1b29c"/>
<circle cx="522.0" cy="541.0" r="7.0" fill="#f1b29c"/>
<circle cx="859.0" cy="872.0" r="7.0" fill="#f1b29c"/>
<circle cx="390.0" cy="963.0" r="7.0" fill="#f1b29c"/>
<circle cx="905.0" cy="934.0" r="7.0" fill="#f1b29c"/>
<circle cx="383.5" cy="823.5" r="7.0" fill="#f1b29c"/>
<circle cx="677.0" cy="668.5" r="7.0" fill="#f1b29c"/>
<circle cx="603.5" cy="685.0" r="7.0" fill="#f1b29c"/>
<circle cx="357.0" cy="342.0" r="7.0" fill="#eda895"/>
<circle cx="440.0" cy="235.0" r="7.0" fill="#eda895"/>
<circle cx="537.0" cy="242.0" r="7.0" fill="#eda895"/>
<circle cx="573.0" cy="240.0" r="7.0" fill="#eda895"/>
<circle cx="453.0" cy="262.0" r="7.0" fill="#eda895"/>
<circle cx="392.0" cy="289.0" r="7.0" fill="#eda895"/>
<circle cx="413.0" cy="295.0" r="7.0" fill="#eda895"/>
<circle cx="394.0" cy="301.0" r="7.0" fill="#eda895"/>
<circle cx="402.0" cy="336.0" r="7.0" fill="#eda895"/>
<circle cx="1063.0" cy="374.0" r="7.0" fill="#eda895"/>
<circle cx="211.0" cy="395.0" r="7.0" fill="#eda895"/>
<circle cx="217.0" cy="396.0" r="7.0" fill="#eda895"/>
<circle cx="234.0" cy="397.0" r="7.0" fill="#eda895"/>
<circle cx="208.0" cy="428.0" r="7.0" fill="#eda895"/>
<circle cx="335.0" cy="407.0" r="7.0" fill="#eda895"/>
<circle cx="327.0" cy="445.0" r="7.0" fill="#eda895"/>
<circle cx="323.0" cy="457.0" r="7.0" fill="#eda895"/>
<circle cx="311.0" cy="534.0" r="7.0" fill="#eda895"/>
<circle cx="345.0" cy="566.0" r="7.0" fill="#eda895"/>
<circle cx="353.0" cy="573.0" r="7.0" fill="#eda895"/>
<circle cx="364.0" cy="576.0" r="7.0" fill="#eda895"/>
<circle cx="370.0" cy="579.0" r="7.0" fill="#eda895"/>
<circle cx="451.0" cy="513.0" r="7.0" fill="#eda895"/>
<circle cx="590.0" cy="442.0" r="7.0" fill="#eda895"/>
<circle cx="513.0" cy="473.0" r="7.0" fill="#eda895"/>
<circle cx="557.0" cy="484.0" r="7.0" fill="#eda895"/>
<circle cx="556.0" cy="516.0" r="7.0" fill="#eda895"/>
<circle cx="522.0" cy="522.0" r="7.0" fill="#eda895"/>
<circle cx="544.0" cy="527.0" r="7.0" fill="#eda895"/>
<circle cx="543.0" cy="534.0" r="7.0" fill="#eda895"/>
<circle cx="612.0" cy="540.0" r="7.0" fill="#eda895"/>
<circle cx="554.0" cy="542.0" r="7.0" fill="#eda895"/>
<circle cx="655.0" cy="514.0" r="7.0" fill="#eda895"/>
<circle cx="926.0" cy="420.0" r="7.0" fill="#eda895"/>
<circle cx="1039.0" cy="465.0" r="7.0" fill="#eda895"/>
<circle cx="1038.0" cy="492.0" r="7.0" fill="#eda895"/>
<circle cx="1062.0" cy="487.0" r="7.0" fill="#eda895"/>
<circle cx="871.0" cy="873.0" r="7.0" fill="#eda895"/>
<circle cx="845.0" cy="902.0" r="7.0" fill="#eda895"/>
<circle cx="875.0" cy="909.0" r="7.0" fill="#eda895"/>
<circle cx="872.0" cy="924.0" r="7.0" fill="#eda895"/>
<circle cx="891.0" cy="938.0" r="7.0" fill="#eda895"/>
<circle cx="376.0" cy="839.5" r="7.0" fill="#eda895"/>
<circle cx="382.0" cy="840.5" r="7.0" fill="#eda895"/>
<circle cx="561.0" cy="206.0" r="7.0" fill="#eba391"/>
<circle cx="576.0" cy="214.0" r="7.0" fill="#eba391"/>
<circle cx="538.0" cy="214.0" r="7.0" fill="#eba391"/>
<circle cx="369.0" cy="446.0" r="7.0" fill="#e99e8e"/>
<circle cx="574.0" cy="544.0" r="7.0" fill="#e99e8e"/>
<circle cx="590.0" cy="548.0" r="7.0" fill="#e99e8e"/>
<circle cx="336.0" cy="285.0" r="7.0" fill="#e6998a"/>
<circle cx="342.0" cy="307.0" r="7.0" fill="#e6998a"/>
<circle cx="333.0" cy="322.0" r="7.0" fill="#e6998a"/>
<circle cx="488.0" cy="228.0" r="7.0" fill="#e6998a"/>
<circle cx="428.0" cy="263.0" r="7.0" fill="#e6998a"/>
<circle cx="415.0" cy="300.0" r="7.0" fill="#e6998a"/>
<circle cx="212.0" cy="407.0" r="7.0" fill="#e6998a"/>
<circle cx="222.0" cy="411.0" r="7.0" fill="#e6998a"/>
<circle cx="211.0" cy="427.0" r="7.0" fill="#e6998a"/>
<circle cx="341.0" cy="444.0" r="7.0" fill="#e6998a"/>
<circle cx="342.0" cy="467.0" r="7.0" fill="#e6998a"/>
<circle cx="310.0" cy="541.0" r="7.0" fill="#e6998a"/>
<circle cx="328.0" cy="541.0" r="7.0" fill="#e6998a"/>
<circle cx="316.0" cy="554.0" r="7.0" fill="#e6998a"/>
<circle cx="334.0" cy="564.0" r="7.0" fill="#e6998a"/>
<circle cx="360.0" cy="578.0" r="7.0" fill="#e6998a"/>
<circle cx="392.0" cy="581.0" r="7.0" fill="#e6998a"/>
<circle cx="506.0" cy="485.0" r="7.0" fill="#e6998a"/>
<circle cx="505.0" cy="513.0" r="7.0" fill="#e6998a"/>
<circle cx="565.0" cy="533.0" r="7.0" fill="#e6998a"/>
<circle cx="605.0" cy="545.0" r="7.0" fill="#e6998a"/>
<circle cx="998.0" cy="466.0" r="7.0" fill="#e6998a"/>
<circle cx="995.0" cy="474.0" r="7.0" fill="#e6998a"/>
<circle cx="350.0" cy="960.0" r="7.0" fill="#e6998a"/>
<circle cx="852.0" cy="911.0" r="7.0" fill="#e6998a"/>
<circle cx="657.5" cy="824.0" r="7.0" fill="#e6998a"/>
<circle cx="664.5" cy="839.5" r="7.0" fill="#e6998a"/>
<circle cx="586.5" cy="569.5" r="7.0" fill="#e6998a"/>
<circle cx="930.5" cy="500.5" r="7.0" fill="#e6998a"/>
<circle cx="736.5" cy="448.5" r="7.0" fill="#e6998a"/>
<circle cx="361.0" cy="249.0" r="7.0" fill="#e29082"/>
<circle cx="373.0" cy="250.0" r="7.0" fill="#e29082"/>
<circle cx="383.0" cy="248.0" r="7.0" fill="#e29082"/>
<circle cx="379.0" cy="276.0" r="7.0" fill="#e29082"/>
<circle cx="371.0" cy="301.0" r="7.0" fill="#e29082"/>
<circle cx="368.0" cy="307.0" r="7.0" fill="#e29082"/>
<circle cx="361.0" cy="318.0" r="7.0" fill="#e29082"/>
<circle cx="367.0" cy="326.0" r="7.0" fill="#e29082"/>
<circle cx="383.0" cy="336.0" r="7.0" fill="#e29082"/>
<circle cx="216.0" cy="378.0" r="7.0" fill="#e29082"/>
<circle cx="551.0" cy="225.0" r="7.0" fill="#e29082"/>
<circle cx="494.0" cy="250.0" r="7.0" fill="#e29082"/>
<circle cx="387.0" cy="248.0" r="7.0" fill="#e29082"/>
<circle cx="397.0" cy="249.0" r="7.0" fill="#e29082"/>
<circle cx="466.0" cy="260.0" r="7.0" fill="#e29082"/>
<circle cx="417.0" cy="277.0" r="7.0" fill="#e29082"/>
<circle cx="442.0" cy="291.0" r="7.0" fill="#e29082"/>
<circle cx="445.0" cy="300.0" r="7.0" fill="#e29082"/>
<circle cx="386.0" cy="302.0" r="7.0" fill="#e29082"/>
<circle cx="387.0" cy="310.0" r="7.0" fill="#e29082"/>
<circle cx="384.0" cy="318.0" r="7.0" fill="#e29082"/>
<circle cx="392.0" cy="321.0" r="7.0" fill="#e29082"/>
<circle cx="518.0" cy="314.0" r="7.0" fill="#e29082"/>
<circle cx="509.0" cy="318.0" r="7.0" fill="#e29082"/>
<circle cx="387.0" cy="337.0" r="7.0" fill="#e29082"/>
<circle cx="220.0" cy="389.0" r="7.0" fill="#e29082"/>
<circle cx="317.0" cy="545.0" r="7.0" fill="#e29082"/>
<circle cx="323.0" cy="569.0" r="7.0" fill="#e29082"/>
<circle cx="327.0" cy="557.0" r="7.0" fill="#e29082"/>
<circle cx="582.0" cy="413.0" r="7.0" fill="#e29082"/>
<circle cx="559.0" cy="468.0" r="7.0" fill="#e29082"/>
<circle cx="550.0" cy="476.0" r="7.0" fill="#e29082"/>
<circle cx="545.0" cy="481.0" r="7.0" fill="#e29082"/>
<circle cx="551.0" cy="491.0" r="7.0" fill="#e29082"/>
<circle cx="562.0" cy="487.0" r="7.0" fill="#e29082"/>
<circle cx="548.0" cy="503.0" r="7.0" fill="#e29082"/>
<circle cx="559.0" cy="504.0" r="7.0" fill="#e29082"/>
<circle cx="509.0" cy="510.0" r="7.0" fill="#e29082"/>
<circle cx="545.0" cy="516.0" r="7.0" fill="#e29082"/>
<circle cx="559.0" cy="522.0" r="7.0" fill="#e29082"/>
<circle cx="914.0" cy="416.0" r="7.0" fill="#e29082"/>
<circle cx="1052.0" cy="435.0" r="7.0" fill="#e29082"/>
<circle cx="1006.0" cy="486.0" r="7.0" fill="#e29082"/>
<circle cx="1018.0" cy="482.0" r="7.0" fill="#e29082"/>
<circle cx="1014.0" cy="492.0" r="7.0" fill="#e29082"/>
<circle cx="1092.0" cy="480.0" r="7.0" fill="#e29082"/>
<circle cx="1112.0" cy="485.0" r="7.0" fill="#e29082"/>
<circle cx="1105.0" cy="494.0" r="7.0" fill="#e29082"/>
<circle cx="1092.0" cy="504.0" r="7.0" fill="#e29082"/>
<circle cx="591.0" cy="651.0" r="7.0" fill="#e29082"/>
<circle cx="410.0" cy="268.0" r="7.0" fill="#dd867e"/>
<circle cx="515.0" cy="500.0" r="7.0" fill="#dd867e"/>
<circle cx="650.0" cy="516.0" r="7.0" fill="#dd867e"/>
<circle cx="1019.0" cy="493.0" r="7.0" fill="#dd867e"/>
<circle cx="1079.0" cy="483.0" r="7.0" fill="#dd867e"/>
<circle cx="488.0" cy="251.0" r="7.0" fill="#db817b"/>
<circle cx="434.0" cy="297.0" r="7.0" fill="#db817b"/>
<circle cx="322.0" cy="563.0" r="7.0" fill="#db817b"/>
<circle cx="511.0" cy="485.0" r="7.0" fill="#db817b"/>
<circle cx="532.0" cy="490.0" r="7.0" fill="#db817b"/>
<circle cx="573.0" cy="490.0" r="7.0" fill="#db817b"/>
<circle cx="505.0" cy="501.0" r="7.0" fill="#db817b"/>
<circle cx="590.0" cy="529.0" r="7.0" fill="#db817b"/>
<circle cx="888.0" cy="390.0" r="7.0" fill="#db817b"/>
<circle cx="1086.0" cy="445.0" r="7.0" fill="#db817b"/>
<circle cx="380.0" cy="319.0" r="7.0" fill="#d87c79"/>
<circle cx="378.0" cy="305.0" r="7.0" fill="#d67777"/>
<circle cx="432.0" cy="286.0" r="7.0" fill="#d67777"/>
<circle cx="212.0" cy="386.0" r="7.0" fill="#d67777"/>
<circle cx="223.0" cy="397.0" r="7.0" fill="#d67777"/>
<circle cx="482.0" cy="388.0" r="7.0" fill="#d67777"/>
<circle cx="384.0" cy="437.0" r="7.0" fill="#d67777"/>
<circle cx="384.0" cy="583.0" r="7.0" fill="#d67777"/>
<circle cx="610.0" cy="429.0" r="7.0" fill="#d67777"/>
<circle cx="578.0" cy="478.0" r="7.0" fill="#d67777"/>
<circle cx="566.0" cy="513.0" r="7.0" fill="#d67777"/>
<circle cx="577.0" cy="534.0" r="7.0" fill="#d67777"/>
<circle cx="569.0" cy="557.0" r="7.0" fill="#d67777"/>
<circle cx="1099.0" cy="471.0" r="7.0" fill="#d67777"/>
<circle cx="1090.0" cy="492.0" r="7.0" fill="#d67777"/>
<circle cx="1105.0" cy="504.0" r="7.0" fill="#d67777"/>
<circle cx="291.0" cy="916.0" r="7.0" fill="#d67777"/>
<circle cx="386.0" cy="928.0" r="7.0" fill="#d67777"/>
<circle cx="898.0" cy="945.0" r="7.0" fill="#d67777"/>
<circle cx="352.0" cy="258.0" r="7.0" fill="#d37174"/>
<circle cx="365.0" cy="272.0" r="7.0" fill="#d16c72"/>
<circle cx="514.0" cy="244.0" r="7.0" fill="#ce676f"/>
<circle cx="378.0" cy="583.0" r="7.0" fill="#ce676f"/>
<circle cx="467.0" cy="408.0" r="7.0" fill="#ce676f"/>
<circle cx="516.0" cy="424.0" r="7.0" fill="#ce676f"/>
<circle cx="698.0" cy="467.0" r="7.0" fill="#ce676f"/>
<circle cx="1000.0" cy="480.0" r="7.0" fill="#ce676f"/>
<circle cx="973.0" cy="479.0" r="7.0" fill="#ce676f"/>
<circle cx="587.0" cy="656.0" r="7.0" fill="#ce676f"/>
<circle cx="715.5" cy="660.5" r="7.0" fill="#ce676f"/>
<circle cx="357.0" cy="272.0" r="7.0" fill="#c95d6b"/>
<circle cx="220.0" cy="343.0" r="7.0" fill="#c95d6b"/>
<circle cx="225.0" cy="339.0" r="7.0" fill="#c95d6b"/>
<circle cx="220.0" cy="357.0" r="7.0" fill="#c95d6b"/>
<circle cx="212.0" cy="381.0" r="7.0" fill="#c95d6b"/>
<circle cx="531.0" cy="197.0" r="7.0" fill="#c95d6b"/>
<circle cx="549.0" cy="238.0" r="7.0" fill="#c95d6b"/>
<circle cx="572.0" cy="231.0" r="7.0" fill="#c95d6b"/>
<circle cx="582.0" cy="240.0" r="7.0" fill="#c95d6b"/>
<circle cx="428.0" cy="289.0" r="7.0" fill="#c95d6b"/>
<circle cx="428.0" cy="346.0" r="7.0" fill="#c95d6b"/>
<circle cx="509.0" cy="374.0" r="7.0" fill="#c95d6b"/>
<circle cx="380.0" cy="437.0" r="7.0" fill="#c95d6b"/>
<circle cx="341.0" cy="551.0" r="7.0" fill="#c95d6b"/>
<circle cx="594.0" cy="413.0" r="7.0" fill="#c95d6b"/>
<circle cx="598.0" cy="404.0" r="7.0" fill="#c95d6b"/>
<circle cx="542.0" cy="433.0" r="7.0" fill="#c95d6b"/>
<circle cx="556.0" cy="441.0" r="7.0" fill="#c95d6b"/>
<circle cx="522.0" cy="449.0" r="7.0" fill="#c95d6b"/>
<circle cx="532.0" cy="446.0" r="7.0" fill="#c95d6b"/>
<circle cx="531.0" cy="456.0" r="7.0" fill="#c95d6b"/>
<circle cx="540.0" cy="460.0" r="7.0" fill="#c95d6b"/>
<circle cx="1025.0" cy="492.0" r="7.0" fill="#c95d6b"/>
<circle cx="1089.0" cy="472.0" r="7.0" fill="#c95d6b"/>
<circle cx="1103.0" cy="480.0" r="7.0" fill="#c95d6b"/>
<circle cx="1102.0" cy="485.0" r="7.0" fill="#c95d6b"/>
<circle cx="1097.0" cy="513.0" r="7.0" fill="#c95d6b"/>
<circle cx="297.0" cy="917.0" r="7.0" fill="#c95d6b"/>
<circle cx="314.0" cy="912.0" r="7.0" fill="#c95d6b"/>
<circle cx="320.0" cy="920.0" r="7.0" fill="#c95d6b"/>
<circle cx="332.0" cy="924.0" r="7.0" fill="#c95d6b"/>
<circle cx="340.0" cy="923.0" r="7.0" fill="#c95d6b"/>
<circle cx="358.0" cy="923.0" r="7.0" fill="#c95d6b"/>
<circle cx="356.0" cy="940.0" r="7.0" fill="#c95d6b"/>
<circle cx="360.0" cy="956.0" r="7.0" fill="#c95d6b"/>
<circle cx="294.0" cy="908.0" r="7.0" fill="#c95d6b"/>
<circle cx="303.0" cy="914.0" r="7.0" fill="#c95d6b"/>
<circle cx="323.0" cy="916.0" r="7.0" fill="#c95d6b"/>
<circle cx="336.0" cy="927.0" r="7.0" fill="#c95d6b"/>
<circle cx="348.0" cy="924.0" r="7.0" fill="#c95d6b"/>
<circle cx="380.0" cy="926.0" r="7.0" fill="#c95d6b"/>
<circle cx="359.0" cy="930.0" r="7.0" fill="#c95d6b"/>
<circle cx="367.0" cy="933.0" r="7.0" fill="#c95d6b"/>
<circle cx="360.0" cy="962.0" r="7.0" fill="#c95d6b"/>
<circle cx="366.0" cy="959.0" r="7.0" fill="#c95d6b"/>
<circle cx="698.0" cy="809.0" r="7.0" fill="#c95d6b"/>
<circle cx="691.5" cy="670.5" r="7.0" fill="#c95d6b"/>
<circle cx="576.0" cy="655.0" r="7.0" fill="#c95d6b"/>
<circle cx="582.0" cy="655.0" r="7.0" fill="#c95d6b"/>
<circle cx="578.0" cy="660.0" r="7.0" fill="#c95d6b"/>
<circle cx="579.0" cy="663.0" r="7.0" fill="#c95d6b"/>
<circle cx="574.0" cy="662.0" r="7.0" fill="#c95d6b"/>
<circle cx="719.5" cy="643.5" r="7.0" fill="#c95d6b"/>
<circle cx="722.5" cy="655.5" r="7.0" fill="#c95d6b"/>
<circle cx="537.0" cy="536.0" r="7.0" fill="#c95d6b"/>
<circle cx="337.0" cy="579.0" r="7.0" fill="#c95d6b"/>
<circle cx="640.3" cy="609.3" r="0.7" fill="#2f4f7f" stroke="none"/>
</g>
<g class="l">
<circle cx="371.4" cy="344.5" r="10.9"/><text x="371.1" y="350.2">1</text>
<circle cx="501.4" cy="736.5" r="10.9"/><text x="501.1" y="742.2">2</text>
<circle cx="890.0" cy="883.4" r="10.9"/><text x="889.7" y="889.1">3</text>
<circle cx="615.4" cy="487.6" r="10.9"/><text x="615.1" y="493.4">4</text>
<circle cx="575.2" cy="993.6" r="10.9"/><text x="574.9" y="999.4">5</text>
<circle cx="679.2" cy="265.6" r="10.9"/><text x="678.9" y="271.4">6</text>
<circle cx="979.0" cy="444.6" r="10.9"/><text x="978.7" y="450.4">7</text>
<circle cx="819.0" cy="623.5" r="10.9"/><text x="818.7" y="629.2">8</text>
<circle cx="1013.2" cy="310.4" r="10.9"/><text x="1012.9" y="316.1">9</text>
<circle cx="761.2" cy="514.2" r="10.9"/><text class="d" x="760.1" y="520.0">10</text>
</g>
<defs><linearGradient id="g" x1="0" x2="1" y1="0" y2="0">
<stop offset="0.0000" stop-color="#053061"/><stop offset="0.0930" stop-color="#2166AC"/><stop offset="0.2093" stop-color="#4393C3"/><stop offset="0.3256" stop-color="#92C5DE"/><stop offset="0.4419" stop-color="#D1E5F0"/><stop offset="0.5581" stop-color="#F7F7F7"/><stop offset="0.6744" stop-color="#FDDBC7"/><stop offset="0.7907" stop-color="#F4A582"/><stop offset="0.8837" stop-color="#D6604D"/><stop offset="1.0000" stop-color="#B2182B"/>
</linearGradient></defs>
<rect x="850.3" y="1134.2" width="300.4" height="14.6" fill="url(#g)" fill-opacity="0.7"/>
<line x1="850.5" x2="850.5" y1="1134.2" y2="1148.8" stroke="#000" stroke-width="1"/><text class="k" x="850.3" y="1162.8">0.0</text>
<line x1="878.5" x2="878.5" y1="1134.2" y2="1148.8" stroke="#000" stroke-width="1"/><text class="k" x="878.2" y="1162.8">0.4</text>
<line x1="913.5" x2="913.5" y1="1134.2" y2="1148.8" stroke="#000" stroke-width="1"/><text class="k" x="913.2" y="1162.8">0.9</text>
<line x1="948.5" x2="948.5" y1="1134.2" y2="1148.8" stroke="#000" stroke-width="1"/><text class="k" x="948.1" y="1162.8">1.4</text>
<line x1="983.5" x2="983.5" y1="1134.2" y2="1148.8" stroke="#000" stroke-width="1"/><text class="k" x="983.0" y="1162.8">1.9</text>
<line x1="1017.5" x2="1017.5" y1="1134.2" y2="1148.8" stroke="#000" stroke-width="1"/><text class="k" x="1018.0" y="1162.8">2.4</text>
<line x1="1052.5" x2="1052.5" y1="1134.2" y2="1148.8" stroke="#000" stroke-width="1"/><text class="k" x="1052.9" y="1162.8">2.9</text>
<line x1="1087.5" x2="1087.5" y1="1134.2" y2="1148.8" stroke="#000" stroke-width="1"/><text class="k" x="1087.8" y="1162.8">3.4</text>
<line x1="1115.5" x2="1115.5" y1="1134.2" y2="1148.8" stroke="#000" stroke-width="1"/><text class="k" x="1115.8" y="1162.8">3.8</text>
<line x1="1150.5" x2="1150.5" y1="1134.2" y2="1148.8" stroke="#000" stroke-width="1"/><text class="k" x="1150.7" y="1162.8">4.3</text>
<text class="kt" x="1031" y="1126.8">Variance, Z-scaled</text>
</svg>
</body></html>
